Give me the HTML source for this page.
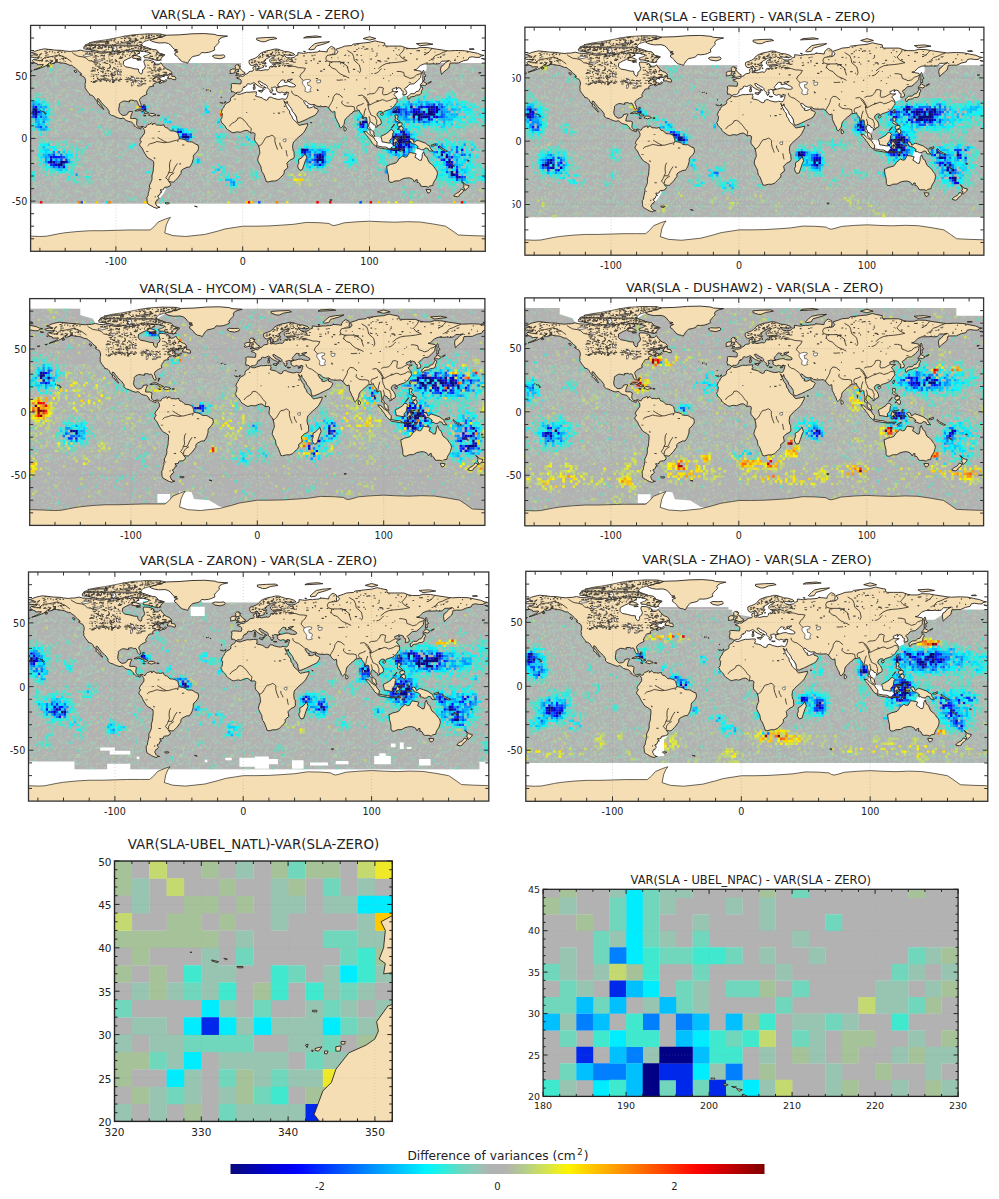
<!DOCTYPE html><html><head><meta charset="utf-8"><title>Variance differences</title>
<style>html,body{margin:0;padding:0;background:#fff;overflow:hidden}svg{display:block}</style></head><body>
<svg width="999" height="1199" viewBox="0 0 999 1199">
<defs>
<path id="land" d="M-168.1 -65.6L-166.5 -66.2L-164.5 -66.6L-162 -66.1L-161.8 -66.9L-163.5 -67.2L-165.3 -67.9L-166.8 -68.3L-164.5 -68.9L-163 -69.7L-161 -70.3L-158.5 -70.9L-156.5 -71.3L-152 -70.8L-148 -70.3L-143 -70.1L-140 -69.6L-136 -69.2L-134.5 -69.5L-131 -69.6L-128 -70.3L-125 -69.5L-120 -69.3L-115 -68.5L-112 -67.8L-108 -68L-106 -68.8L-102 -67.8L-98 -68L-96.5 -68.3L-95 -69.5L-94.5 -72L-92 -71L-91 -70L-88 -69L-85 -70L-83 -69.8L-81.5 -69.5L-81.5 -68L-84 -66.5L-86.2 -66.5L-88 -64.5L-90.5 -63.5L-94 -61.5L-94.2 -58.8L-92.5 -57L-88.5 -56.3L-85 -55.3L-82.3 -55.2L-82 -53L-80.5 -51.3L-79.5 -51.5L-79 -53L-79 -54.5L-77.5 -55.5L-76.8 -57.5L-77.5 -59.5L-78 -61L-77.5 -62.5L-74 -62.3L-72 -61.8L-70 -61L-69.5 -59L-68 -58.5L-66 -58.8L-64.5 -60.3L-63 -58L-61.5 -56.5L-60 -55.2L-57.5 -54.3L-55.8 -52.3L-57 -51.4L-60 -50.2L-64 -50.2L-66.5 -50L-68.5 -49.2L-70 -48L-71.1 -46.9L-70 -47.5L-68 -48.6L-65 -49.2L-64.2 -48.8L-65 -48L-66 -48L-65 -47.3L-64.7 -46.7L-64 -46.2L-62 -45.7L-61.5 -45.8L-60.5 -47L-59.8 -46L-61 -45.2L-63.5 -44.6L-65.5 -43.6L-66.2 -44.3L-64.5 -45.3L-67 -44.8L-68.5 -44.2L-70 -43.7L-70.7 -42.7L-71 -42.3L-70 -41.8L-70.5 -41.5L-71.5 -41.4L-73.5 -41L-74 -40.5L-74 -39.8L-74.9 -38.9L-75.2 -38.5L-75.5 -37.5L-76 -37L-75.5 -35.2L-76.5 -34.6L-78 -33.9L-79.2 -33.2L-80 -32.6L-81 -31.7L-81.4 -30.4L-81 -29.2L-80.6 -28.4L-80.1 -26.5L-80.2 -25.5L-81 -25.2L-81.7 -25.9L-82.6 -27.5L-82.8 -28.5L-83.6 -29.9L-84.5 -30L-85.5 -29.7L-86.5 -30.4L-88 -30.4L-89.5 -30.2L-89.2 -29.1L-90.5 -29.2L-92 -29.6L-94 -29.7L-95 -29.2L-96.5 -28.3L-97.3 -27.5L-97.3 -26L-97.7 -24L-97.8 -22.2L-97.2 -20.5L-96.1 -19.2L-94.5 -18.2L-92 -18.6L-90.5 -19.8L-90.3 -21L-88 -21.5L-86.8 -21.3L-87.5 -19.8L-88 -18.5L-88.2 -17.5L-88.5 -16L-87 -15.8L-85 -15.9L-83.2 -15L-83.6 -13L-83.7 -11L-83.1 -10L-82.2 -9L-81 -8.9L-79.5 -9.6L-78 -9.3L-77.3 -8.6L-76.3 -8.8L-75.6 -10.2L-74.8 -11L-73.5 -11.3L-71.9 -12.2L-71.3 -11.7L-71.5 -10.8L-70.2 -11.5L-70 -12.2L-69 -11.5L-68 -10.6L-66 -10.6L-64.5 -10.3L-63 -10.7L-61.9 -10.7L-62 -10L-61 -8.6L-60 -8.5L-59 -8L-58 -6.8L-57 -6L-55 -5.9L-53.5 -5.6L-52 -4.8L-51 -4L-50.5 -2L-50 -0.5L-50.5 0L-48.5 0.5L-47 0.7L-45 1.5L-44 2.5L-42 2.8L-40 2.8L-38.5 3.7L-37 4.7L-35.3 5.2L-34.8 7.5L-35.1 9L-36 10.5L-37.3 12L-38.5 13L-39 14.5L-38.9 16L-39.5 18L-40 19.8L-41 21.5L-42 23L-44 23L-45.5 23.8L-47 24.5L-48.5 25.8L-48.6 28L-49.7 29.3L-50.8 31L-52 32.3L-53.3 33.7L-54.5 34.8L-56 34.9L-57.5 34.4L-58.4 34.3L-57.2 35.8L-56.7 36.5L-57.5 38L-59 38.7L-61.5 39L-62.2 39.5L-62.3 40.6L-63.5 41.1L-65 40.9L-64.6 42.2L-63.6 42.8L-64.5 42.8L-65 43.5L-65.5 45L-67.2 45.9L-66.5 47L-65.9 47.8L-67.3 49L-68.3 50.1L-69 51.5L-68.4 52.3L-68.3 53.1L-67.5 54L-66 54.8L-65.2 54.9L-67 55.1L-67.3 55.8L-68.5 55.5L-70 55L-71.5 54.2L-73 53.3L-74.5 52.5L-75.2 51.5L-75.4 50L-75.5 48.5L-75.6 46.8L-74.7 45.8L-74.5 44L-74.2 42.5L-73.8 41.8L-73.8 40L-73.4 39L-73.6 37.2L-73 36.5L-72.5 35.2L-71.8 33.5L-71.5 32L-71.6 30L-71.3 28.5L-70.8 27L-70.5 25L-70.5 23.5L-70.2 21.5L-70.2 19.5L-70.3 18.3L-71.4 17.6L-72.5 16.8L-74 16L-75.5 14.8L-76.3 13.4L-77.2 12L-78.2 10.3L-79 8.5L-79.8 7.1L-81.1 6L-81.3 4.7L-80.5 3.4L-79.9 2.5L-80.9 1.8L-80.9 1L-80.2 -0.4L-80 -1L-79 -1.6L-78.8 -2.6L-77.8 -3.4L-77.4 -4.5L-77.4 -6.2L-77.9 -7.2L-78.4 -8.1L-79 -8.8L-79.6 -8.9L-80.4 -8.2L-80.3 -7.4L-81.2 -7.6L-82 -8.2L-83 -8.3L-83.6 -8.6L-84.6 -9.6L-85.7 -9.9L-85.7 -11L-86.5 -11.9L-87.5 -12.9L-88.5 -13.2L-89.8 -13.5L-91.3 -13.9L-92.3 -14.6L-93.5 -15.7L-94.5 -16.2L-96 -15.7L-97.5 -16L-99 -16.6L-100.5 -17.2L-101.5 -17.8L-103.5 -18.3L-104.5 -19.1L-105.5 -20L-105.3 -21.5L-106 -22.5L-107 -24L-108.2 -25.2L-109.3 -26L-110.5 -27.5L-111.5 -28.7L-112.4 -29.8L-113.2 -31.2L-114.5 -31.7L-114.8 -30.8L-114.3 -29.8L-113.3 -28.8L-112.5 -27.6L-111.5 -26.5L-111 -25.2L-110.3 -24.2L-109.5 -23.2L-109.9 -22.9L-110.5 -23.6L-111.5 -24.4L-112.2 -25.2L-112.5 -26.2L-113.5 -26.8L-114.5 -27.6L-115 -27.9L-114.3 -28.4L-114.8 -29.5L-115.8 -30.3L-116.4 -31.2L-116.7 -31.9L-117.2 -32.8L-118 -33.7L-118.5 -34L-119.5 -34.4L-120.6 -34.5L-120.8 -35.5L-121.9 -36.5L-122.4 -37.5L-123 -38L-123.8 -39.5L-124.4 -40.4L-124.1 -41.8L-124.5 -42.8L-124.1 -44L-123.9 -46L-124.2 -47.2L-124.7 -48.4L-125 -48.8L-126.5 -49.5L-128 -50.5L-128.4 -50.8L-127 -51L-127.8 -52.2L-129 -53L-130.3 -54.3L-131 -55.2L-132 -56L-133.5 -57L-134.8 -58.2L-136.3 -58.2L-137.5 -58.7L-139.5 -59.6L-141.5 -60L-143.5 -60L-145.5 -60.5L-147.5 -60.8L-148.8 -60L-150.5 -59.4L-151.8 -59.3L-151.5 -60.7L-150 -61.3L-152.5 -60.2L-153.5 -59.3L-154.2 -58.5L-155.8 -57.6L-157.5 -56.8L-159.5 -56L-161.5 -55.3L-163.5 -54.8L-164.8 -54.4L-163 -55.2L-161.5 -55.9L-160 -56.5L-158.5 -57.4L-157.5 -58.2L-157.3 -58.8L-158.5 -58.8L-160.5 -58.7L-161.8 -58.6L-162.2 -59.6L-164 -60L-165.3 -60.5L-165.3 -61.5L-166 -62L-164.8 -63L-163 -63.1L-161 -63.6L-160.8 -64.5L-162.5 -64.5L-164.5 -64.5L-166.2 -64.6ZM-60 -82.2L-50 -82.5L-40 -83.3L-30 -83.5L-22 -82.8L-20 -82L-12 -81.5L-16 -80.5L-18 -79.5L-19 -78L-18.5 -76.5L-20 -75L-21.5 -73.5L-22.5 -72L-22 -70.5L-24.5 -69.3L-27 -68.5L-30 -68.2L-32.5 -68.4L-34 -66.5L-36.5 -65.8L-39.5 -65.2L-40.5 -64L-41.5 -63.2L-42.5 -61.5L-43.5 -59.8L-45 -60.5L-47.5 -61L-49.5 -62.5L-50.5 -64L-52 -65.5L-53.5 -66.5L-53.5 -68L-51 -69L-54 -69.8L-51.5 -70.5L-54 -71L-55.5 -72.5L-56.5 -74L-58.5 -75.5L-61 -76.2L-66 -76L-69 -76.5L-71.5 -77.3L-73 -78.3L-71 -79L-68 -80L-64 -81.2ZM-5.6 -36L-6.3 -36.5L-7.5 -37.2L-9 -37L-8.8 -38.2L-9.5 -38.7L-9 -40L-8.8 -42L-9.3 -43L-8 -43.7L-5 -43.6L-3 -43.4L-1.5 -43.4L-1.2 -45L-1.2 -46.2L-2.2 -47.2L-4.5 -47.8L-4.8 -48.4L-3 -48.8L-1.6 -49.6L0 -49.4L1.5 -50.2L1.8 -51L3 -51.3L4 -51.8L4.7 -52.9L6 -53.4L8 -53.6L8.6 -54.9L8.1 -55.5L8.2 -56.8L10.6 -57.7L10.3 -56.3L10.5 -55L10 -54.5L11 -54L12.5 -54.4L14.2 -53.9L16 -54.3L18.5 -54.8L18.7 -54.4L20 -54.6L21.1 -55.7L21 -56.8L22.5 -57.6L24 -57L24.3 -58.3L23.5 -59.2L24.8 -59.4L28 -59.5L30.3 -59.9L28 -60.5L25 -60.2L22.5 -60L21.5 -61L21.2 -62.5L22.5 -63.8L25 -65L24.2 -65.8L22 -65.5L21 -64.5L19 -63.5L17.5 -62.5L17.2 -61L18.5 -60L18.1 -59.3L16.5 -57.7L16.4 -56.6L15 -56.2L13 -55.4L12.8 -56.2L11.9 -57.7L11.2 -58.9L10.6 -59.5L10 -59L8 -58.1L7 -58L5.6 -58.8L5 -60.3L5 -61L5 -62L6 -62.5L8 -63.2L10 -64L11.5 -65L12.5 -66L13.5 -67.3L15 -68.3L17 -69.1L19 -69.8L22 -70.3L25 -71.1L25.8 -71.2L28 -71L30 -70.2L31 -70L33 -69.2L36 -69L40 -67.7L41 -66.5L38 -66.1L35 -66.3L33 -66.7L32.5 -67L32.8 -66L34.5 -64.5L35.5 -64.3L37.5 -64L40.5 -64.5L42 -66L43.5 -66.3L43.5 -68.3L46 -68L48 -67.7L52 -68.4L54 -68.2L55 -68.5L57 -68.6L59 -68.8L60.5 -69.8L60 -69.5L64 -69.2L66.5 -68.8L66.8 -70.5L68.5 -72.5L70 -73.3L71 -72.8L72.5 -72L72.8 -70L72.5 -66.8L74 -67.5L75 -69L73.5 -71L78 -72.5L80.5 -73.5L86 -74L87 -75L95 -76L100 -76.5L104.3 -77.7L107 -77L112 -76L112 -74L113.5 -73.5L118 -73.5L125 -73.5L129 -72L132 -71.5L137 -71.5L140 -72.5L146 -72.3L150 -71.5L160 -70L163 -69.7L168 -70L170 -70L175 -69.8L178 -69.3L180 -68.8L185 -67.8L188 -66.5L190.3 -66.1L187.5 -65.5L187 -64.5L184 -64.5L181 -65L178.5 -64.5L177.5 -62.5L174 -61.8L170 -60L166 -60L163.5 -59.9L163 -58L162.5 -56.2L160.5 -54.5L158.5 -52.8L156.7 -51L156.4 -52.5L156 -55L156.5 -57.3L158 -58L160 -60.5L163 -62L160 -61.5L157 -61.5L155 -59.5L152 -59.2L151 -59.5L148 -59.3L143 -59.3L140 -58L137 -55L135 -54.5L138 -54L140.5 -53.5L141.2 -52.5L141 -52L140.5 -50L140.3 -48.5L138 -46L135 -43.5L132 -43.2L130.8 -42.5L129.7 -41L128 -40L127.5 -39.5L128.5 -38.3L129.4 -36.5L129 -35.1L127 -34.6L126.3 -34.5L126.5 -36.5L126.6 -37.5L125.3 -38L124.7 -39.7L122.5 -40.5L121.2 -38.8L121.5 -40.8L120 -40L118 -39.2L117.8 -38.5L118.8 -37.5L119.5 -37.2L122.5 -37.4L120.5 -36.1L119.2 -35L120.5 -33.5L121.5 -32L121.9 -30.9L121.5 -30.2L122 -29.8L121.5 -28.5L120.5 -27.5L119.7 -26L118.5 -24.6L118.1 -24.5L116.5 -23.2L114.5 -22.5L113 -22L111.5 -21.5L110.5 -20.3L109.7 -21.5L108 -21.5L106.5 -20.5L105.8 -19L106.5 -17.5L108 -16L109 -14L109.3 -12.5L109 -11.3L107 -10.4L106.5 -9.6L104.8 -8.6L105 -10L104.5 -10.5L103 -11L102.5 -12.2L101 -12.7L100.5 -13.4L100 -12.5L99.5 -11L99.2 -9.5L100.3 -8.5L100.5 -7L101.5 -6.8L102.3 -6.2L103.3 -5L103.5 -3L104.2 -1.5L103.8 -1.3L103.3 -1.5L101.5 -2.8L100.5 -4L100.3 -5.5L100.2 -6.5L99 -7.8L98.3 -8L98.5 -10L98.5 -12L98 -14L97.7 -16.5L96.5 -16.8L95 -15.8L94.3 -16L94.5 -18L93.5 -19.5L92.3 -21L91.8 -22.5L90.5 -22L89 -21.8L88 -21.6L87 -21.3L86.5 -20.2L85 -19.3L83.5 -18L82.3 -16.6L81 -15.5L80.2 -13.5L80.3 -13L79.8 -11L79.3 -10.3L78.2 -8.9L77.5 -8.1L76.5 -9L75.8 -11.5L74.8 -13L74 -15L73 -17L72.8 -19L72.7 -21L72.5 -21.5L71 -20.8L69 -22.3L68.5 -23.5L67 -24.8L66 -25.4L64 -25.3L61.5 -25.2L58.5 -25.6L56.5 -27L54 -26.8L51.5 -27.8L50.3 -29.3L48.5 -30L48 -29.4L49.5 -27L50.3 -26L51.5 -26L51 -24.5L53 -24.2L55 -25L56.4 -26.3L56.3 -24.5L58.6 -23.6L59.8 -22.5L58.7 -20.5L57.8 -19L56 -17.9L54 -17L52 -16L49 -14.5L45 -12.8L43.4 -12.7L42.8 -14.5L42.5 -16L42.5 -17L41 -19.5L39.2 -21.5L38.5 -23.5L37 -25.5L35.5 -27.5L35 -29.5L34.5 -28L34.2 -27.7L33 -29.5L32.5 -30L32.6 -29.5L33.5 -27.5L34.5 -25.5L35.5 -23.5L36.8 -22L37.3 -19.5L37.2 -19.6L38.5 -18L39.5 -15.5L41 -14L42.5 -13L43.2 -11.6L44.5 -10.4L46 -10.7L48.5 -11.2L51.3 -11.8L51.2 -10.5L50.8 -9.5L50 -8L49 -6L48 -4.5L45.3 -2L43.5 -0.5L42.5 0.4L41.5 1.7L40.2 2.8L39.7 4L39.3 6.8L39.5 8L39.8 10L40.5 10.5L40.5 12.5L40.7 14.5L40 16L37 17.5L34.8 19.8L35.2 21.5L35.5 23.5L33 25.5L32.6 26L32.8 27.5L32 29L31 29.9L30 31L28.5 32.5L27.9 33L25.6 34L23 34L20 34.8L18.4 34.3L18.3 33.5L17.8 32L17 30L16.5 28.6L15.5 27L15.1 26.6L14.5 24L14.5 22.9L13.5 21L12 18L11.8 17.2L12.2 15L13 13L13.5 12L13.3 10L13.2 8.8L12.5 6L12.3 6L12 5L11.2 4L9.5 2L9.3 0L9.5 -1.5L9.8 -3.2L9.5 -4L8.5 -4.5L7 -4.3L6 -4.3L5 -5.5L3.4 -6.4L1.5 -6.2L-0.2 -5.5L-2 -4.8L-4 -5.2L-6 -4.8L-7.5 -4.4L-9 -5L-10.8 -6.3L-12 -7L-13.2 -8.3L-13.7 -9.5L-14.5 -10.5L-15.5 -11.5L-16.7 -12.5L-16.8 -13.5L-17.5 -14.7L-16.5 -16L-16.2 -18L-16 -19.5L-17 -20.8L-16 -23.5L-15 -24.5L-14.5 -26L-13 -27.9L-11 -28.8L-10 -29.5L-9.6 -30.4L-9.8 -31.5L-8.5 -33.3L-7.6 -33.6L-6.8 -34L-6 -35.5L-5.8 -35.8L-5.3 -35.9L-4 -35.2L-2 -35.1L-0.6 -35.7L3 -36.8L5 -36.7L8 -37L10.2 -37.1L11 -37L10.5 -36L11 -35L10.5 -34L10 -33.9L11 -33.3L13.2 -32.9L15.2 -32.3L16.5 -31.2L18.5 -30.3L20 -31L20 -32.1L21.5 -32.9L23 -32.6L24 -32L25.5 -31.6L28 -31L29.9 -31.2L31 -31.6L32.3 -31.3L33.5 -31.1L34.3 -31.4L34.8 -32.1L35 -32.8L35.5 -33.9L35.8 -35.5L36.2 -36.6L35.5 -36.6L34.6 -36.8L33 -36.1L32 -36.5L30.7 -36.9L29.5 -36.2L28 -36.7L27.3 -37L26.5 -38.3L27 -38.5L26.5 -39.5L26.2 -40L27.5 -40.4L29 -41L30.5 -41.2L32.5 -41.9L35 -42L36.5 -41.3L38.5 -41L40.5 -41L41.6 -41.6L41.5 -42.5L40 -43.5L39.7 -43.6L38 -44.5L36.5 -45.2L38 -46.5L39.2 -47.2L37 -47L35 -46.3L36.5 -45.4L35 -44.9L33.5 -44.5L32.5 -45.3L33.5 -46L32 -46.5L30.7 -46.5L29.7 -45.2L28.7 -44.2L27.9 -43.2L27.5 -42.5L28 -41.6L29 -41.1L28.5 -41L27.5 -40.9L26.5 -40.5L26 -40.8L24.5 -40.9L23.5 -40.2L22.9 -40.6L22.6 -40L23.3 -39.3L22.9 -38.5L24 -38.2L23.7 -37.9L23 -37.5L23 -36.5L22.5 -36.4L21.7 -36.8L21.3 -37.6L21.8 -38.3L21 -38.8L20.2 -39.5L19.4 -40.3L19.5 -41.5L18.5 -42.5L16.5 -43.5L15 -44.5L14 -45L13.7 -45.5L13.7 -45.6L12.3 -45.4L12.4 -44.5L13.5 -43.6L14.5 -42.2L16 -41.9L16.1 -41.9L16.8 -41.2L18.5 -40.1L17.2 -40.4L17.2 -40.5L16.5 -39.7L17.1 -39L16.1 -38L15.6 -38L15.8 -38.8L16.2 -39.4L15.6 -40L14.8 -40.6L14.2 -40.8L13 -41.3L12.3 -41.8L11 -42.5L10.5 -43.3L8.9 -44.4L7.5 -43.8L7.3 -43.7L6 -43.1L5.4 -43.3L4 -43.5L3.2 -43L3.2 -42L2.2 -41.4L0.8 -41L0 -39.8L-0.3 -39.5L0.2 -38.7L-0.5 -38.3L-0.8 -37.6L-1 -37.6L-2 -36.8L-3 -36.7L-4.4 -36.7L-5.3 -36.1ZM-80 -73.7L-76 -72.5L-72 -71L-68 -70.3L-67 -69.2L-66.5 -68L-63 -67L-61.5 -66.5L-63.5 -65L-64.5 -63.5L-65 -62.5L-66.5 -62L-70 -62.8L-72.5 -63.5L-75 -64.3L-77.5 -64.3L-78 -65.5L-73.5 -65.5L-74 -67L-73 -68.2L-78 -69.5L-82 -69.8L-85 -70L-89 -71L-90 -73L-86 -73.8ZM-118 -73L-113 -73.2L-107 -73.5L-105 -72.5L-101.5 -70.3L-104 -69L-106.5 -69.2L-110 -68.8L-114 -69.2L-117.5 -70.5L-119 -71.5ZM-120 -71.2L-118.5 -72.5L-120 -74.2L-124 -74.3L-125.5 -72.5L-124 -71.3ZM-90 -77L-80 -76.5L-76 -78.5L-70 -80L-62 -82L-65 -83L-75 -83L-85 -82L-92 -81L-90 -79ZM-80 -74.5L-90 -74.5L-92 -76L-88 -76.5L-80 -76.3ZM-86 -79.5L-91 -78.5L-96 -80L-93 -81.3L-88 -80.8ZM-106 -75.5L-110 -74.9L-117 -75.3L-117 -76.5L-110 -76.8L-105 -76ZM-96 -75.5L-100 -75L-101 -76.3L-97 -76.6ZM-103 -76.5L-106 -77.5L-104 -78.3L-100 -78ZM-97 -71.5L-99 -71.8L-102 -73.5L-100 -73.8L-97 -73.5L-96 -72.5ZM-90.5 -72.5L-95 -72L-96 -74L-93 -74.2L-90.5 -73.8ZM-96 -68.5L-98.5 -68.5L-99.5 -69.5L-97 -69.8ZM-80 -64L-84 -63.5L-87 -64L-86 -66L-84 -66L-81 -65ZM-80 -62.5L-83 -62.2L-83.5 -62.8L-81 -63ZM-59.3 -47.6L-58.5 -48.5L-59.4 -48.5L-57.5 -50.7L-55.8 -51.6L-56 -49.5L-53.5 -49.3L-52.7 -47.6L-53 -46.6L-55.5 -47L-56 -47.6ZM-64.5 -49.9L-62 -49.3L-61.7 -49.1L-64 -49.7ZM-85 -21.9L-82.5 -23.1L-80 -23.2L-77.5 -21.9L-75.7 -21.1L-74.1 -20.3L-75.5 -19.9L-77.7 -19.9L-77.2 -20.6L-78.5 -21.5L-81.5 -22.2L-83 -21.8ZM-74.4 -18.5L-72.8 -19.9L-70 -19.7L-68.3 -18.5L-70 -18.2L-71.5 -17.6L-73 -18.2ZM-78.3 -18.4L-76.3 -18.2L-76.8 -17.9L-77.8 -17.9ZM-67.2 -18.5L-65.6 -18.4L-65.7 -18L-67.2 -18ZM-78.2 -26.8L-77 -26.6L-77.4 -25.9L-78 -25L-78.3 -24.3ZM-132 -54L-131 -53.5L-131.5 -52.2L-132.5 -52.9L-133 -54ZM-154.5 -58L-152.5 -58L-152.5 -57.3L-154 -56.8ZM-155.9 -20.27L-155 -19.8L-155.6 -18.9L-156 -19.6ZM-156.7 -20.95L-156 -20.8L-156.4 -20.6ZM-157.3 -21.2L-156.7 -21.15L-157 -21.05ZM-158.3 -21.6L-157.7 -21.4L-158.1 -21.25ZM-159.8 -22.2L-159.3 -22.2L-159.5 -21.9ZM-168 -53.5L-166 -53.8L-166.5 -53.3ZM-174 -52.2L-172 -52.4L-173 -51.9ZM-61.3 51.5L-59.8 51.2L-57.8 51.5L-58.5 52.2L-60.3 52.2ZM-171.8 -63.7L-169 -63.3L-169.6 -63ZM-166.5 -60.4L-165.5 -60L-166.2 -59.8ZM-5.7 -50.1L-3.5 -50.3L-1 -50.7L1.4 -51.2L1.7 -52.5L0.3 -53L0 -53.6L-1.3 -54.6L-2 -55.8L-3 -56L-2.5 -56.5L-1.8 -57.5L-3.5 -57.7L-3 -58.6L-5 -58.6L-6.2 -57.5L-5.6 -56.3L-6.3 -55.7L-5 -55L-3 -54.9L-3.5 -54L-2.9 -53.4L-4.5 -53.3L-4.2 -52.8L-5.3 -51.8L-4 -51.6L-3 -51.4L-4.2 -51.2ZM-6 -52L-6.2 -53.3L-5.5 -54.5L-6.5 -55.2L-8.2 -55.2L-10 -54.2L-10 -53.5L-9.5 -52.5L-10.3 -51.8L-9.5 -51.5L-8 -51.8L-6.3 -52.2ZM-22 -64L-24 -65.5L-22 -66.4L-18 -66.2L-15 -66.5L-14 -65.5L-14.5 -64.4L-18 -63.4ZM11 -78.5L15 -77L17.5 -77L21 -78.5L27 -79.5L25 -80.5L18 -80.3L11 -79.8ZM48 -80L55 -80.3L62 -80.8L58 -81.6L50 -81ZM52 -71L54.5 -73.5L57 -75.5L62 -76.5L68.5 -77L65 -75.5L58 -73.5L56.5 -71L53 -70.5ZM48 -69.5L49.5 -69.1L48.5 -68.8ZM95 -79.5L100 -81L105 -79.5L100 -78.3ZM137 -75.5L145 -76L150 -75L140 -73.8ZM178.5 -71.2L182 -71.5L182.5 -70.9L179 -70.9ZM79.8 -9.5L81.2 -8.5L81.8 -7L81 -6L80 -6L79.8 -8ZM49.3 12L50.5 15.5L49.5 17.5L48 22L47 25L45 25.5L43.7 23.5L43.3 21.5L44.2 20L44 17L46 15.8L47.5 14.5L48.7 13ZM130.9 -34L132.5 -35.5L135.5 -35.6L136.8 -37.3L138.5 -37.5L140 -39.8L140.8 -41.2L141.5 -41L142 -39.5L141 -38L140.8 -36L140 -35L138.8 -34.6L137 -34.5L135.5 -33.5L133.5 -33.2L132 -32.8L131.5 -31.5L130.5 -31.2L130 -33.5ZM140 -41.5L141.5 -42.5L143.5 -42L145.5 -43.3L144.5 -44L142 -45.5L141.5 -44L140.3 -43.2ZM142 -46L143.5 -46.5L143 -49L144.5 -49.5L143.2 -51.5L143 -53.5L142.5 -54.3L141.8 -53L142.2 -51L142 -48ZM146 -44L148.5 -45.3L148.8 -45.1L146.5 -43.7ZM120.1 -23L120.8 -22L121.5 -23.5L121.9 -25L121 -25ZM108.6 -19L110 -18.2L111 -19.5L110.5 -20.1L109 -20ZM120 -18.5L122.2 -18.5L122.5 -17L121.5 -15.5L124 -13.5L124 -12.5L123 -13L121 -13.8L120 -14.5L120.5 -16ZM122 -7L123 -8.5L125.5 -9.8L126.5 -8L126 -6L125 -5.8L123.5 -7.8ZM122 -11.8L124 -12.5L125.5 -12.3L125.8 -11L125 -10L123 -9.2L122 -10.5ZM117.2 -8.3L119.7 -11.4L119.3 -10.4L117.6 -8.3ZM109 -1.5L109.6 1L110 2.9L111.5 3L114.5 3.6L116.3 3.8L116 1.5L117.5 0L118 -1L118.5 -4.5L119.2 -5.2L117.5 -7L116 -6.5L115 -5L113.5 -4L111 -2.5L109.6 -2ZM95.3 -5.6L97.5 -5.2L100.3 -2.5L103.5 -0.5L104.5 1.5L106 3L105.8 5.8L104.5 5.9L102.3 4L100.8 1.5L99.2 -0.5L98 -2.3L96.5 -3.8ZM105.2 6.8L106 6L108.5 6.5L110.5 6.9L112.5 6.9L114.5 7.7L114.5 8.7L112 8.3L109 7.8L106.5 7.4ZM115 8.2L116 8.3L119 8.2L122 8.1L123 8.3L122 8.8L119 8.8L116.5 8.9L115 8.8ZM124.5 9.2L127 8.3L125 10.2L123.5 10.3ZM119 5.5L120.5 5.6L120.3 3L121 2.7L122.5 4.7L123.2 4.3L121.5 1.9L123.3 0.9L121 1L120.3 -0.5L123 -0.5L125 -1.5L122.5 -1L120.8 -1.3L119.8 -0.3L119.5 0.9L118.8 2.7L119.5 3.5ZM127.5 -1.8L128.5 -2L128 -0.5L128.8 0.5L127.8 0.8L127.5 -0.5ZM128 3L130.5 3L130.8 3.8L128.5 3.6ZM126 3.1L127.2 3.2L127 3.9L126.1 3.7ZM131 1.3L132.5 0.4L134 0.9L135 3.3L137.5 1.5L140.5 2.5L144 3.8L145.8 5.2L147.5 6.2L148 8L150 10.2L147 10L146 8L144 7.7L143 9L141 9.1L139 8.1L138 8.4L137.5 7L138.5 6.8L136 4.7L133 4L132.8 2.8ZM148.5 5.5L151 4.8L152 4.2L152.2 5.5L150 6.2L148.5 6ZM155 6L157 7.8L160 9.5L161.5 10.3L160 10.5L157 9L155 7ZM113.5 22L114 26L115 30L115.1 33.5L116 35L118 35L120 34L123.5 33.8L126 32.3L129 31.6L131.5 31.5L134 32.5L135.5 34.8L136.5 33L137.7 33L137.5 35.2L138.5 35L139.5 35.8L140.5 38L142 38.4L144.5 38.3L146.4 39L147.5 38L150 37.5L150.2 36L151.2 33.9L152.5 32L153.1 30L153.6 28L153 25.5L151.5 24L150.8 22.5L149 20.8L147 19.2L146 17L145.3 15L143.8 14L142.6 10.7L141.6 12.8L141.5 15L140.8 17.5L139.3 17.4L137.5 16L135.8 15L136.8 12.3L136 12L133 11.5L131.5 11.2L130.8 12.4L129.5 14.7L128 15L126 14L124.5 15.5L123 16.5L122.2 18L121 19.5L118.5 20.3L116.5 20.7L114.5 21.8ZM144.6 40.7L148.3 40.9L148.2 42.2L147.3 43.3L146 43.6L145.2 42.2ZM172.7 34.4L174.5 35.7L175.5 37L178.5 37.7L177.9 39.2L176.8 40.3L175.2 41.6L174.6 41.3L175 39.8L173.8 39.2L174.6 38L174.2 36.3ZM172.7 40.5L174.3 41.3L173.8 42.5L172.8 43.5L171.3 44.5L170.8 45.8L169.2 46.6L166.5 46L166.8 45.2L168.3 44L170.5 42.8L171.5 41.8L172 40.6ZM164 20.2L165 20.6L167 22.3L166.4 22.3L164.2 20.8ZM177.3 17.5L178.6 17.7L178.3 18.3L177.3 18.1ZM32.3 -35.1L34.6 -35.7L33.9 -34.9L32.5 -34.7ZM23.5 -35.5L26.3 -35.3L25 -34.9L23.6 -35.2ZM12.4 -38.1L15.6 -38.3L15.1 -36.7L12.5 -37.6ZM8.4 -41L9.8 -41L9.6 -39.1L8.4 -39ZM8.6 -42.9L9.5 -43L9.4 -41.4L8.8 -41.6ZM11 -55.3L12.6 -56L12.3 -55L11.2 -55ZM18.1 -57.9L18.9 -57.6L18.2 -57ZM92.5 -13.5L93 -13L92.7 -11ZM53.3 -12.7L54.5 -12.5L53.8 -12.3ZM-18 -28.8L-17.7 -28.9L-17.8 -28.5ZM-17.3 -28.2L-17.1 -28.2L-17.2 -28ZM-16.9 -28.4L-16.1 -28.6L-16.5 -28.1L-16.9 -28.2ZM-15.8 -28.1L-15.4 -28.1L-15.5 -27.8L-15.8 -27.8ZM-14.5 -28.6L-13.9 -28.7L-14 -28.1L-14.5 -28.1ZM-13.9 -29.2L-13.4 -29.2L-13.5 -28.9L-13.9 -28.9ZM-17.2 -32.8L-16.7 -32.8L-16.7 -32.6L-17.2 -32.65ZM-28.8 -38.6L-28 -38.4L-28.2 -38.3L-28.8 -38.5ZM-27.4 -38.8L-27 -38.7L-27.2 -38.6ZM-25.9 -37.85L-25.2 -37.85L-25.2 -37.7L-25.8 -37.7ZM-31.3 -39.5L-31.1 -39.5L-31.2 -39.4ZM68.8 48.8L70.5 49L69.8 49.7L68.9 49.5ZM-38 54L-35.8 54.6L-36.5 54.5Z" fill="#f5deb3" stroke="#2a2520" stroke-width="0.9" vector-effect="non-scaling-stroke" stroke-linejoin="round"/>
<path id="ant" d="M-540 77.5L-530 77.8L-520 78.2L-515 78L-510 77L-505 76L-500 75.2L-490 74.2L-480 73.6L-470 73.6L-460 73.3L-450 73L-440 73L-433 73L-430 70.5L-426.7 66.7L-421 64.3L-417 63L-418.5 65L-420.3 69L-421.5 75.4L-415 77.5L-405 78.2L-390 76.6L-380 74L-374 72.2L-365 70.8L-360 70L-350 70L-340 69.8L-330 69.2L-320 68.5L-310 67L-300 67.2L-292 67.8L-290 69L-288 69.5L-285 68.8L-280 67.3L-270 66.5L-260 66L-250 66.5L-240 66.8L-230 66.4L-220 66.7L-210 68.2L-200 70L-195 73.4L-190 77L-180 77.5L-170 77.8L-160 78.2L-155 78L-150 77L-145 76L-140 75.2L-130 74.2L-120 73.6L-110 73.6L-100 73.3L-90 73L-80 73L-73 73L-70 70.5L-66.7 66.7L-61 64.3L-57 63L-58.5 65L-60.3 69L-61.5 75.4L-55 77.5L-45 78.2L-30 76.6L-20 74L-14 72.2L-5 70.8L0 70L10 70L20 69.8L30 69.2L40 68.5L50 67L60 67.2L68 67.8L70 69L72 69.5L75 68.8L80 67.3L90 66.5L100 66L110 66.5L120 66.8L130 66.4L140 66.7L150 68.2L160 70L165 73.4L170 77L180 77.5L190 77.8L200 78.2L205 78L210 77L215 76L220 75.2L230 74.2L240 73.6L250 73.6L260 73.3L270 73L280 73L287 73L290 70.5L293.3 66.7L299 64.3L303 63L301.5 65L299.7 69L298.5 75.4L305 77.5L315 78.2L330 76.6L340 74L346 72.2L355 70.8L360 70L370 70L380 69.8L390 69.2L400 68.5L410 67L420 67.2L428 67.8L430 69L432 69.5L435 68.8L440 67.3L450 66.5L460 66L470 66.5L480 66.8L490 66.4L500 66.7L510 68.2L520 70L525 73.4L530 77L540 77.5L540 95L-540 95Z" fill="#f5deb3" stroke="#2a2520" stroke-width="0.7" vector-effect="non-scaling-stroke"/>
<path id="lakes" d="M47 -45.5L49 -46.6L51.3 -47L53.5 -46.5L53 -45L51 -44.5L51.5 -42L53 -42L54 -40.5L53 -38.5L53.9 -37.3L51 -36.7L49 -37.6L49.5 -40.2L48.5 -41.8L47.5 -43L47 -44.5ZM58.5 -46.5L61.5 -46.5L61.2 -44.5L59 -44L58.3 -45.5ZM-92 -46.7L-90 -46.6L-88 -48L-86 -48.8L-84.6 -46.5L-86 -46.5L-88.5 -47.4ZM-87.8 -41.6L-87 -41.7L-86.2 -43.5L-86.5 -45.5L-85 -45.8L-84.7 -45.9L-86.5 -44.5L-87.8 -44.5ZM-84.7 -45.9L-83 -46L-80.5 -45.5L-80 -44.5L-81.8 -43.5L-82.5 -44.5L-83.5 -45.5ZM-83.3 -42L-81 -42.6L-79 -42.8L-80 -41.9L-82.5 -41.5ZM-79.8 -43.3L-77 -44L-76.2 -43.5L-78 -43.3ZM32 1L34 0.3L34 2.5L32.8 2.7L31.7 1.8ZM30 -60L32.5 -60.8L32.8 -61.6L31 -61.5L29.5 -61ZM34.3 -61.3L36 -61.7L35.5 -62.8L34.5 -62.5ZM-125 -65L-121 -65.5L-118 -66.5L-123 -67L-126 -66ZM-117 -61L-113 -61L-110 -62.5L-113 -62.5L-116 -62ZM-98 -50.5L-96.5 -51L-97.5 -53.5L-99 -53ZM-70 15.3L-69 15.8L-69.5 16.4Z" fill="#fff" stroke="#2a2520" stroke-width="0.6" vector-effect="non-scaling-stroke"/>
<g id="deco"><path d="M-125.5 -71.3L-124 -74.5L-120 -76.3L-115 -77.5L-108 -78.5L-100 -80L-93 -81.5L-86 -82.6L-76 -83.2L-64 -83L-60.5 -82.2L-64 -81L-69 -79.5L-74 -78.3L-78 -77L-80 -74.8L-79 -73.5L-76 -72.5L-72 -71L-68 -70.3L-67 -69.2L-66.5 -68L-63 -67L-61.5 -66.5L-63.5 -65L-64.5 -63.5L-65 -62.5L-66.5 -62L-70 -62.8L-72.5 -63.5L-75 -64.3L-77.5 -64.3L-78 -65.5L-74 -67L-73 -68.2L-78 -69.5L-82 -69.8L-85 -70L-88 -70.5L-92 -70.3L-96 -69L-100 -69.3L-104 -69L-110 -68.8L-115 -69.3L-119 -70.5L-122 -71Z" fill="#f5deb3" stroke="#2a2520" stroke-width="0.7" vector-effect="non-scaling-stroke"/><path d="M-124 -74.6L-110 -74.4L-96 -74.3L-90 -74.2L-82 -74.1L-82 -73.6L-90 -73.6L-96 -73.7L-110 -73.9L-124 -74ZM-102 -73.7L-100 -73.7L-99 -71L-101 -69.6L-103 -69.8L-102.5 -71.5ZM-121 -76.3L-112 -77.2L-106 -77.2L-106 -76.6L-112 -76.6L-120 -75.8ZM-96 -76.2L-88 -77.6L-86 -77.2L-94 -75.8Z" fill="#fff" stroke="#2a2520" stroke-width="0.7" vector-effect="non-scaling-stroke"/><path d="M-99.27 -48.47h0.8v0.6h-0.8zM-67.44 -47.16h0.8v1h-0.8zM-106.26 -46.98h1.8v0.6h-1.8zM-104.6 -57.67h0.8v1h-0.8zM-112.08 -50.13h0.8v1h-0.8zM-82.53 -46.14h1v0.6h-1zM-84.37 -48.06h1.8v0.6h-1.8zM-113.4 -58.14h1v0.8h-1zM-70.26 -55.71h1.8v0.8h-1.8zM-100.81 -63.27h1v0.6h-1zM-101.57 -67.54h0.8v1h-0.8zM-110.27 -56.25h0.8v1h-0.8zM-115.03 -57.84h1.3v0.8h-1.3zM-75.5 -58.67h1.8v0.6h-1.8zM-66.24 -66.73h1.8v1h-1.8zM-77.49 -46.4h1.3v1h-1.3zM-63.23 -52.98h1.8v0.8h-1.8zM-109.24 -47.69h0.8v0.6h-0.8zM-70.83 -47.97h1v0.8h-1zM-114.84 -55.33h1.3v0.6h-1.3zM-67.57 -64.87h1.3v1h-1.3zM-63.41 -67.03h1v0.6h-1zM-108.72 -50.34h1v0.6h-1zM-103.18 -45.09h1.8v1h-1.8zM-96.37 -58.03h1v1h-1zM-65.01 -66.86h0.8v0.8h-0.8zM-113.37 -59.59h0.8v0.6h-0.8zM-115.69 -49.8h1v0.6h-1zM-98.24 -46.21h0.8v1h-0.8zM-110.32 -47.33h1.3v1h-1.3zM-118.37 -65.11h1.8v0.6h-1.8zM-112.62 -56.23h1.8v0.8h-1.8zM-89.03 -46.98h0.8v1h-0.8zM-66.95 -48.71h0.8v0.6h-0.8zM-110.62 -57.49h0.8v1h-0.8zM-100.92 -59.79h0.8v1h-0.8zM-65.89 -56.92h1v0.8h-1zM-70.6 -57.25h1.3v1h-1.3zM-105.73 -63.66h1v0.6h-1zM-105.49 -56.91h1.3v1h-1.3zM-118.15 -45.64h1.3v0.8h-1.3zM-103.41 -60.93h1.3v0.8h-1.3zM-97.63 -67.41h0.8v0.6h-0.8zM-113.46 -55.81h1.3v0.6h-1.3zM-89.11 -67.66h0.8v0.8h-0.8zM-61.81 -52.91h0.8v1h-0.8zM-112.33 -53.94h1v0.8h-1zM-63.1 -54.98h1.3v0.6h-1.3zM-68.75 -67.35h1.8v0.8h-1.8zM-94.31 -66.78h1v0.6h-1zM-84.91 -45.49h0.8v1h-0.8zM-72.03 -48.2h1v0.6h-1zM-118.21 -49.89h1v1h-1zM-99.14 -57.52h1v0.6h-1zM-61.76 -53.14h1.8v1h-1.8zM-93.08 -66.11h1v1h-1zM-110.28 -56.74h1.8v0.6h-1.8zM-110.41 -48.26h0.8v1h-0.8zM-116.05 -60.69h1.8v0.6h-1.8zM-107.76 -45.97h0.8v1h-0.8zM-91.06 -45.64h0.8v0.8h-0.8zM-99.16 -67.39h1v1h-1zM-102.26 -56.69h1.8v1h-1.8zM-63.9 -66.67h1.3v1h-1.3zM-106.39 -51.96h0.8v0.6h-0.8zM-96.56 -50.82h1v0.8h-1zM-105.95 -66.91h1.8v0.8h-1.8zM-109.58 -60.36h1v0.6h-1zM-97.18 -47.12h1.3v0.6h-1.3zM-98.37 -55.55h0.8v0.8h-0.8zM-98.78 -59.35h0.8v0.6h-0.8zM-103 -45.91h1v0.8h-1zM-71.63 -63.85h1.3v0.8h-1.3zM-110.44 -66.14h1.8v1h-1.8zM-99.07 -51.42h1v0.8h-1zM-62.7 -51.19h0.8v1h-0.8zM-114.33 -50.99h1v0.6h-1zM-103.08 -47.8h0.8v0.8h-0.8zM-117.23 -61.32h0.8v0.6h-0.8zM-103.24 -49.17h1.3v1h-1.3zM-100.48 -62.47h1.3v0.8h-1.3zM-87.99 -49.09h1.3v0.6h-1.3zM-118.82 -56.63h1v1h-1zM-89.62 -66.5h0.8v1h-0.8zM-67.59 -54.94h1.8v1h-1.8zM-66.58 -54.04h1.3v1h-1.3zM-106.23 -50.28h1v1h-1zM-73.35 -48.21h1.3v0.6h-1.3zM-66.43 -45.33h1.3v0.8h-1.3zM-109.55 -46.94h1.8v1h-1.8zM-104.5 -51.74h1.8v0.6h-1.8zM-109.92 -55.25h1.3v0.8h-1.3zM-58.2 -52.12h1.3v0.6h-1.3zM-119.93 -53.78h1.8v0.8h-1.8zM-87.82 -49.62h0.8v0.6h-0.8zM-103.09 -47.06h1.8v1h-1.8zM-117.33 -45.52h1.3v1h-1.3zM-105.1 -58.47h1v1h-1zM-73.88 -56.37h1.3v1h-1.3zM-80.4 -48.33h1.8v1h-1.8zM-75.13 -56.63h0.8v1h-0.8zM-105.28 -45.72h1v1h-1zM-96.91 -47.41h1.8v1h-1.8zM-116.75 -45.43h1v0.8h-1zM-103.12 -55.51h0.8v1h-0.8zM-114.12 -57.1h1.8v0.8h-1.8zM-68.21 -64.46h1v1h-1zM-71.59 -50.31h1.8v0.8h-1.8zM-65.89 -46.77h1.3v0.6h-1.3zM-115.04 -48.39h1.3v1h-1.3zM-72.43 -52h1v0.6h-1zM-106.07 -56.26h1.3v0.8h-1.3zM-100.05 -46.97h1.8v0.6h-1.8zM-101.47 -46.76h1.8v0.8h-1.8zM-95.24 -66.08h1v0.6h-1zM-82.79 -48.26h1.3v0.8h-1.3zM-111.51 -63.86h1.3v0.6h-1.3zM-74.99 -50.32h1.8v0.8h-1.8zM-118.41 -45.08h1.8v1h-1.8zM-110.99 -52.91h1.3v0.6h-1.3zM-66.23 -45.04h1.3v0.8h-1.3zM-112.32 -66.31h0.8v1h-0.8zM-101.45 -53.56h1.8v0.8h-1.8zM-96.91 -54.85h1.3v0.6h-1.3zM-102.04 -46.19h1.3v1h-1.3zM-60.12 -50.73h1.3v0.8h-1.3zM-87.3 -49.37h1.3v0.8h-1.3zM-73.95 -46.14h1.8v0.8h-1.8zM-80.65 -48.19h1.3v0.8h-1.3zM-116.87 -66.32h1v0.6h-1zM-100.94 -62h1.3v0.8h-1.3zM-109.29 -48.72h1v1h-1zM-62.02 -56.43h1v0.8h-1zM-91.2 -48.21h1v0.6h-1zM-114.19 -52.86h0.8v0.8h-0.8zM-104.7 -50.94h1v0.6h-1zM-72.02 -54.49h1.8v1h-1.8zM-98.36 -46.43h1.3v1h-1.3zM-102.65 -50.71h1.8v1h-1.8zM-91.47 -66.94h0.8v0.6h-0.8zM-117.94 -61.32h1.8v1h-1.8zM-88.65 -46.68h1.8v0.8h-1.8zM-104.1 -47.51h1v0.6h-1zM-117.47 -62.99h1v1h-1zM-100.56 -47.94h1.3v1h-1.3zM-112.82 -46.62h1v0.8h-1zM-103.3 -63.18h0.8v0.6h-0.8zM-85.6 -67.92h1.3v0.8h-1.3zM-104.19 -67.09h1.3v0.6h-1.3zM-118.61 -56.46h1.8v0.6h-1.8zM-103.54 -60.35h1.3v0.6h-1.3zM-74.03 -53.33h1.8v0.6h-1.8zM-119.57 -51.72h0.8v0.6h-0.8zM-88.28 -49.61h1v0.6h-1zM-62.63 -56.16h0.8v1h-0.8zM-110.63 -54.05h1v0.6h-1zM-116.68 -46.38h1.8v0.8h-1.8zM-73.11 -67.94h1v0.8h-1zM-107.8 -60.01h1.8v0.6h-1.8zM-100.04 -61.68h1.3v0.8h-1.3zM-91.68 -47.51h0.8v0.8h-0.8zM-114.83 -54.66h0.8v1h-0.8zM-97.18 -63.9h1.8v0.6h-1.8zM-116.85 -55.89h1.3v1h-1.3zM-96.69 -65.63h0.8v1h-0.8zM-70.93 -45.93h0.8v0.8h-0.8zM-115.99 -66.16h1.3v0.6h-1.3zM-72.17 -65.67h1.3v0.8h-1.3zM-102.57 -67.03h0.8v0.8h-0.8zM-72.23 -60.86h1.3v0.8h-1.3zM-119.76 -62.38h0.8v0.6h-0.8zM-67.13 -47.47h1.8v0.8h-1.8zM-69.45 -66.01h1.8v0.6h-1.8zM-67.34 -62.77h1v0.8h-1zM-64.88 -55.6h0.8v1h-0.8zM-107.37 -62.32h1v0.8h-1zM-115.86 -45.78h1.3v0.6h-1.3zM-114.62 -47.22h1.8v1h-1.8zM-111.49 -55.6h1v1h-1zM-101.19 -51.43h1.3v0.8h-1.3zM-103.74 -50.99h1.8v0.6h-1.8zM-108.11 -50.42h1.3v1h-1.3zM-107.95 -46.49h1.3v0.6h-1.3zM-66.2 -66.03h0.8v0.8h-0.8zM-105.09 -46.16h1v0.6h-1zM-96.18 -64.92h1.8v1h-1.8zM-103.36 -62.89h0.8v0.6h-0.8zM-97.62 -45.86h1.3v0.6h-1.3zM-117.17 -68h0.8v1h-0.8zM-73.14 -66.02h0.8v0.8h-0.8zM-80.26 -46.79h0.8v0.8h-0.8zM-84.93 -46.46h0.8v0.8h-0.8zM-77.5 -48.55h0.8v1h-0.8zM-109.52 -60.99h1.8v0.8h-1.8zM-116.71 -62.14h1.3v0.8h-1.3zM-107.38 -61.74h1v0.6h-1zM-92.21 -48.6h0.8v0.6h-0.8zM-90.5 -48.74h0.8v0.6h-0.8zM-87.71 -48.36h1.3v0.6h-1.3zM-86.65 -66.29h0.8v0.8h-0.8zM-111.89 -66.69h1.8v0.8h-1.8zM-116.58 -66.3h1.8v0.6h-1.8zM-67.23 -48.69h1v1h-1zM-106.04 -54.19h1v0.8h-1zM-97.01 -48.44h1v0.6h-1zM-99.25 -53.97h1.8v1h-1.8zM-65.66 -62.9h1.8v0.8h-1.8zM-91.95 -45.54h1.8v0.8h-1.8zM-104.94 -62.56h1.8v0.6h-1.8zM-68.13 -54.21h0.8v0.6h-0.8zM-97.05 -53.4h1.8v1h-1.8zM-87.35 -45.94h1v0.6h-1zM-60.98 -52.22h0.8v0.6h-0.8zM-71.87 -65.58h1v0.6h-1zM-73.15 -63.74h1v0.6h-1zM-109.43 -63.13h1v0.6h-1zM-103.86 -52.45h1.3v0.8h-1.3zM-110.81 -56.55h1.8v0.6h-1.8zM-104.81 -53.56h1v0.6h-1zM-102.2 -52.54h1.8v0.6h-1.8zM-69.3 -51.08h0.8v1h-0.8zM-65.07 -67.22h1.8v1h-1.8zM-62.65 -50.8h1.8v1h-1.8zM-68.95 -51.09h1.3v1h-1.3zM-110.64 -52.61h0.8v0.8h-0.8zM-105.28 -59.15h0.8v0.8h-0.8zM-67.53 -50.83h1.3v1h-1.3zM-119.89 -45.78h1v0.8h-1zM-111.55 -50.23h0.8v0.6h-0.8zM-116.52 -58.04h1.3v0.6h-1.3zM-111.44 -53.42h1.8v0.6h-1.8zM-111.38 -66.54h1v1h-1zM-110.44 -47.2h1v1h-1zM-69.94 -54.24h1.3v0.6h-1.3zM-116.41 -63.88h1.3v1h-1.3zM-104.1 -65.78h0.8v0.6h-0.8zM-104.79 -46.34h0.8v0.6h-0.8zM-107.38 -54.5h1.8v1h-1.8zM-108.82 -52.12h1.3v1h-1.3zM-116.9 -65.46h1.8v1h-1.8zM-114.85 -60.08h1v0.6h-1zM-78.78 -47.84h1.3v1h-1.3zM-116.64 -59.62h1.8v1h-1.8zM-69.54 -57.03h1.3v0.8h-1.3zM-106.11 -65.24h0.8v0.6h-0.8zM-103.34 -50.43h1v0.6h-1zM-72.25 -52.52h1.8v0.8h-1.8zM-65.48 -66.2h1.8v0.8h-1.8zM-65.12 -55.06h1v1h-1zM-83.83 -48.95h0.8v0.6h-0.8zM-112.84 -59.31h1v0.8h-1zM-118.02 -48.18h0.8v1h-0.8zM-115.66 -46.07h1.3v0.6h-1.3zM-67.68 -63.85h0.8v1h-0.8zM-106.83 -47.58h0.8v1h-0.8zM-114.4 -62.28h1.3v0.8h-1.3zM-113.61 -47.25h1v0.8h-1zM-99.58 -54.75h0.8v0.8h-0.8zM-103.57 -51.5h1.3v0.8h-1.3zM-70.77 -58.85h1.8v0.8h-1.8zM-80.43 -45.71h1.8v0.6h-1.8zM-97.81 -61.21h1v1h-1zM-119.92 -49.65h0.8v0.6h-0.8zM-97.74 -47.2h1v0.8h-1zM-109.83 -63.75h1v0.8h-1zM-109.39 -66.59h0.8v0.8h-0.8zM-69.64 -59.44h1.3v0.6h-1.3zM-63.14 -45.58h1v0.8h-1zM-103.16 -65.73h1v0.8h-1zM-81.26 -45.78h1.3v1h-1.3zM-110.06 -64.39h1.3v0.6h-1.3zM-103.54 -50.31h1.3v0.8h-1.3zM-71.7 -64.01h1v1h-1zM-110.02 -50.69h1.3v1h-1.3zM-86.58 -48.7h1.3v0.6h-1.3zM-103.44 -66.96h0.8v0.6h-0.8zM-95.41 -67.63h1.3v1h-1.3zM-100.97 -51.3h0.8v1h-0.8zM-61.67 -51.46h1.8v0.8h-1.8zM-117.83 -54.18h1.8v1h-1.8zM-105.76 -67.56h1.3v0.8h-1.3zM-118.58 -50.92h1.8v0.6h-1.8zM-72.58 -65.88h1.8v1h-1.8zM-73.78 -65.24h1v1h-1zM-108.38 -47.86h1.8v0.8h-1.8zM-103.37 -61.11h1.8v0.6h-1.8zM-108.28 -60.05h0.8v0.8h-0.8zM-66.76 -65.89h0.8v0.6h-0.8zM-103.92 -50.01h1v1h-1zM-97.71 -64.48h1.8v1h-1.8zM-106.88 -55.94h0.8v1h-0.8zM-69.28 -53.51h1.3v0.8h-1.3zM-72.5 -55.51h1v0.8h-1zM-87.12 -66.45h1.3v1h-1.3zM-116.38 -51.31h1.8v0.6h-1.8zM-119.15 -54.63h1.8v1h-1.8zM-75.31 -53.1h1.3v0.6h-1.3zM-105.64 -62.05h1v0.8h-1zM-90.42 -48.78h0.8v1h-0.8zM-107.64 -59.77h1v0.6h-1zM-97.4 -59.69h1.8v0.8h-1.8zM-105.25 -61.2h1.3v0.8h-1.3zM-68.45 -63.37h1.3v0.6h-1.3zM-114.53 -65.63h1v0.8h-1zM-65.32 -46.31h1.3v0.6h-1.3zM-106.58 -46.66h1.3v0.8h-1.3zM-106.65 -54.26h1v1h-1zM-70 -60.37h1.3v0.6h-1.3zM-88.35 -49.9h0.8v1h-0.8zM-112.51 -47.72h1.8v0.6h-1.8zM-67.07 -55.88h0.8v0.8h-0.8zM-90.11 -48.32h1.8v0.6h-1.8zM-66.19 -55.76h1.8v1h-1.8zM-101 -55.71h1.8v0.8h-1.8zM-108.45 -53.29h0.8v0.6h-0.8zM-60.38 -52.6h0.8v1h-0.8zM-110.75 -49.91h1.8v1h-1.8zM-111.88 -47.17h1.3v0.8h-1.3zM-70.68 -49.85h1.8v0.8h-1.8zM-67.09 -51.74h1.8v0.8h-1.8zM-98.64 -67.64h1.3v0.6h-1.3zM-98.82 -52.29h1.3v0.6h-1.3zM-69.81 -45.92h1.8v1h-1.8zM-113.06 -46.07h1.8v1h-1.8zM-70.98 -46.38h1.8v1h-1.8zM-110.59 -60.5h0.8v0.6h-0.8zM-117.47 -59.57h1v0.6h-1zM-93.02 -47.31h0.8v0.8h-0.8zM-104.89 -78.65h1.3v0.6h-1.3zM-97.58 -72.78h1.8v1h-1.8zM-83.29 -82.01h0.8v0.8h-0.8zM-88.11 -68.59h0.8v0.8h-0.8zM-87.6 -81.78h1.8v0.6h-1.8zM-124.08 -73.81h1v0.8h-1zM-119.61 -75.08h1v1h-1zM-123.99 -68.07h0.8v0.6h-0.8zM-110.81 -69.82h1.8v0.6h-1.8zM-107.1 -76.53h1.8v1h-1.8zM-76.63 -81.84h1.3v1h-1.3zM-78.62 -80.83h0.8v0.8h-0.8zM-84.14 -78.64h1.8v1h-1.8zM-124.26 -68.22h0.8v0.8h-0.8zM-104.78 -78.94h1v0.8h-1zM-85.42 -72.74h1.8v0.8h-1.8zM-81 -70.17h0.8v0.8h-0.8zM-103.3 -72.2h1.3v1h-1.3zM-109 -73.81h1.8v1h-1.8zM-74.86 -71.52h1.8v0.8h-1.8zM-80.24 -72.82h1.3v0.8h-1.3zM-75.38 -79.75h1.3v0.6h-1.3zM-72.24 -81.01h1v0.8h-1zM-89.39 -79.66h1.8v0.8h-1.8zM-90.25 -76.1h1.8v0.8h-1.8zM-85.55 -78.16h1.8v1h-1.8zM-111.57 -71.82h0.8v0.8h-0.8zM-95.12 -69.32h1.3v0.6h-1.3zM-66.7 -81.28h1.3v0.8h-1.3zM-92.1 -71.03h1v0.6h-1zM-94.88 -69.23h1.3v1h-1.3zM-123.03 -72.21h0.8v0.6h-0.8zM-88.13 -71.92h1.3v0.8h-1.3zM-118.69 -74.7h1v0.8h-1zM-123.21 -68.52h1.3v1h-1.3zM-108.28 -76.47h0.8v1h-0.8zM-92.08 -70.74h1v0.8h-1zM-108.37 -73.28h0.8v0.6h-0.8zM-108.24 -75.7h1.8v0.6h-1.8zM-118.43 -72.77h0.8v0.6h-0.8zM-81 -72.48h1.8v1h-1.8zM-118.15 -72.86h1.3v0.8h-1.3zM-116.93 -75.22h1v0.8h-1zM-109.5 -70.15h0.8v0.8h-0.8zM-78.38 -70.93h0.8v0.6h-0.8zM-64.29 -81h1v0.8h-1zM-62.73 -81.89h1.8v0.6h-1.8zM-84.16 -74.79h1.3v0.8h-1.3zM-84.17 -70.14h1v1h-1zM-98.23 -70.34h1.3v1h-1.3zM-114.09 -75.37h1.3v0.8h-1.3zM-111.27 -75.16h1.3v0.6h-1.3zM-108.24 -71.02h1.3v0.8h-1.3zM-90.77 -70.79h1.8v0.6h-1.8zM-78.74 -70.95h0.8v0.6h-0.8zM-75.52 -70.63h1v1h-1zM-81.46 -77.43h1v1h-1zM-104.98 -68.15h1.8v1h-1.8zM-102.4 -72.23h1.8v0.6h-1.8zM-94.02 -81.08h1.3v0.6h-1.3zM-100.87 -76.92h0.8v0.8h-0.8zM-91.21 -74.69h0.8v0.6h-0.8zM-71.05 -81.69h1.8v1h-1.8zM-68.27 -82.31h1.8v0.8h-1.8zM-91.63 -75.96h1v0.6h-1zM-109.17 -69.33h1v0.6h-1zM-118.33 -71.76h0.8v0.6h-0.8zM-86.04 -76.65h1v1h-1zM-96.13 -73.26h0.8v1h-0.8zM-113.37 -72.1h1.8v0.8h-1.8zM-86.92 -79.42h0.8v0.6h-0.8zM-89.8 -71.41h1v0.6h-1zM-81.53 -74.93h1.8v0.6h-1.8zM-83.73 -78.41h0.8v0.8h-0.8zM-98.96 -76.42h1.3v1h-1.3zM-81.9 -68.17h0.8v1h-0.8zM-112.81 -72.87h1v1h-1zM-81.51 -71.38h1.8v0.8h-1.8zM-74.52 -82.05h0.8v0.6h-0.8zM-107.72 -78.18h1.3v1h-1.3zM-89.75 -81.87h0.8v0.8h-0.8zM-117.09 -68.21h1v0.6h-1zM-106.31 -72.58h1v0.6h-1zM-65.13 -81.52h0.8v0.8h-0.8zM-86.63 -81.98h1.8v0.6h-1.8zM-91.74 -81.28h1.8v1h-1.8zM-106.26 -71.65h0.8v1h-0.8zM-89.49 -80.6h1v1h-1zM-99.87 -76.23h1.3v0.8h-1.3zM-93.94 -80.28h0.8v0.6h-0.8zM-103.31 -70.83h1.8v1h-1.8zM-103.94 -72.88h1.3v0.8h-1.3zM-121.3 -68.33h0.8v1h-0.8zM-120.97 -73.82h1.8v0.8h-1.8zM-77.2 -69.64h1v1h-1zM-76.99 -70.32h1.3v1h-1.3zM-102.09 -78.13h1.3v1h-1.3zM-65.07 -82.93h1.3v1h-1.3zM-78.94 -81.72h1v0.8h-1zM-68.4 -68.06h0.8v0.8h-0.8zM-106.84 -77.32h0.8v0.8h-0.8zM-106.28 -73.29h1.3v0.8h-1.3zM-82.87 -68.1h1.8v0.8h-1.8zM-96.14 -70.76h1.3v0.6h-1.3zM-96.68 -73.65h1v0.6h-1zM-109.23 -72.89h1.8v0.6h-1.8zM-123.34 -71.85h1.8v0.8h-1.8zM-91.37 -75.76h1.8v0.8h-1.8zM-94.82 -68.61h1.3v0.8h-1.3zM-90.86 -69.48h1.3v1h-1.3zM-98.94 -76.42h1v0.6h-1zM-96.39 -77.37h1.3v1h-1.3zM-90.54 -80.24h1v0.8h-1zM-80.16 -80.31h1.8v1h-1.8zM-114.83 -72.35h1v1h-1zM-83.96 -78.84h1.8v0.6h-1.8zM-86.9 -78.02h1v0.6h-1zM-107.71 -77.7h1v1h-1zM-115.55 -75.78h0.8v0.6h-0.8zM-118.49 -70.56h1.8v0.8h-1.8zM-85.15 -80.1h0.8v1h-0.8zM-104.02 -78.73h1.3v0.8h-1.3zM-113.99 -72h0.8v1h-0.8zM-120.9 -70.87h1.8v0.6h-1.8zM-87.13 -82.39h1.8v0.6h-1.8zM-84.69 -71.74h0.8v0.6h-0.8zM-85.83 -82.4h1.8v0.6h-1.8zM-109.21 -73.85h1v0.8h-1zM-93.51 -79.89h1v0.6h-1zM-113.72 -73.38h1v0.6h-1zM-112.57 -72.25h1v0.8h-1zM-116.69 -74.65h1v0.6h-1zM-98.67 -77.44h1v0.8h-1zM-110.23 -74.79h1v1h-1zM-91.84 -69.88h0.8v1h-0.8zM-91.65 -76.14h1.3v1h-1.3zM-82.26 -76.52h1.3v0.6h-1.3zM-99.65 -69.29h1v0.6h-1zM-104.13 -77.94h0.8v0.6h-0.8zM-88.47 -73.42h1.3v0.6h-1.3zM-120.72 -72.67h1v0.8h-1zM-67.62 -80.92h1v0.8h-1zM-113.53 -73.5h1.3v0.8h-1.3zM-118.65 -72.37h1.3v1h-1.3zM-77.29 -78.69h0.8v0.8h-0.8zM-112.12 -72.55h1.8v1h-1.8zM-122.45 -72.66h1v1h-1zM-78.42 -71.82h1.8v1h-1.8zM-80.52 -73.24h0.8v0.6h-0.8zM-70.77 -79.65h1.3v0.6h-1.3zM-79.76 -82.61h0.8v0.6h-0.8zM-73.56 -71.15h1.3v1h-1.3zM-76.64 -82.97h1v0.8h-1zM-90.72 -73.24h1.8v0.8h-1.8zM-76.99 -80.45h1.8v1h-1.8zM-97.16 -75.68h1v0.8h-1zM-79.32 -80.09h1.3v0.6h-1.3zM-83.56 -76.16h1v0.6h-1zM-114.08 -73.21h0.8v0.6h-0.8zM-83.63 -70.06h1.8v1h-1.8zM-93.62 -78.58h0.8v1h-0.8zM-80.05 -70h1.3v1h-1.3zM-89.36 -79.41h1v1h-1zM-81.68 -76.98h1.8v0.8h-1.8zM-70.97 -69.72h1.3v0.6h-1.3zM-121.08 -72.21h1v0.6h-1zM-117.66 -72.87h1.8v1h-1.8zM-120.33 -68.16h1.8v0.6h-1.8zM-76.97 -71.97h1.8v0.8h-1.8zM-93.26 -79.76h1.3v0.6h-1.3zM-101.65 -69.36h1.3v1h-1.3zM-85.13 -78.96h1.3v1h-1.3zM-109.01 -70.08h0.8v0.6h-0.8zM-74.66 -80.59h1.3v0.8h-1.3zM-112.93 -77.57h1v0.6h-1zM-74 -80.46h1.3v0.8h-1.3zM-104.19 -73.53h1.3v0.8h-1.3zM-66.16 -82.17h1.8v0.8h-1.8zM-92.53 -70.36h1.3v1h-1.3zM-87.23 -69.2h1v0.6h-1zM-110.81 -73.59h0.8v1h-0.8zM-69.4 -79.8h1.8v0.6h-1.8zM-106.59 -77.92h1.8v0.8h-1.8zM-120.92 -68.13h1v1h-1zM-114.31 -72.44h1.8v1h-1.8zM-81.11 -76.51h1.8v0.6h-1.8zM-89.72 -75.75h1.8v1h-1.8zM-65.93 -80.98h1.8v1h-1.8zM-84.71 -80.17h0.8v1h-0.8zM-81.03 -77.14h1.3v1h-1.3zM-87.88 -82.29h1.8v1h-1.8zM-82.92 -72.49h1.3v1h-1.3zM-67.47 -68.42h1v0.6h-1zM-80.89 -74.71h0.8v0.6h-0.8zM-82.07 -73.58h1.8v0.8h-1.8zM-99.24 -69.71h1v0.6h-1zM-108.65 -75.34h1.8v0.6h-1.8zM-89.82 -78.45h0.8v0.8h-0.8zM-80.83 -80.01h1v1h-1zM-89.21 -78.72h0.8v1h-0.8zM-99.52 -70.57h1v1h-1zM-94.12 -69.4h1.3v1h-1.3zM-121.26 -71.55h1.3v0.6h-1.3zM-111.15 -72.5h1v0.8h-1zM-70.3 -80.06h0.8v0.8h-0.8zM-117.02 -73.6h1.3v1h-1.3zM-93.22 -80.25h1.3v0.6h-1.3zM-85.8 -68.51h1v0.8h-1zM-101.97 -78.41h0.8v1h-0.8zM-96.41 -79.87h1.8v0.6h-1.8zM-120.21 -71.88h1v1h-1zM-64.48 -81.11h1.8v0.6h-1.8zM-86.76 -71.75h1.3v0.8h-1.3zM-124.1 -73.14h1v0.8h-1zM-92.38 -81.1h0.8v0.6h-0.8zM-80.83 -73.89h1.8v0.6h-1.8zM-79.96 -74.73h1v1h-1zM-91.4 -73.41h1v0.8h-1zM-101.54 -75.02h1.8v0.8h-1.8zM-103.19 -75.25h1v0.6h-1zM-85.44 -77.46h1v0.8h-1zM-87.72 -76.77h1v1h-1zM-74.89 -81.09h1.8v1h-1.8zM-73.53 -79.9h1v0.6h-1zM-80.71 -72.56h1.3v1h-1.3zM-78.48 -73.02h1.3v1h-1.3zM-93.7 -73.51h1v0.6h-1zM-81.36 -74.07h1.8v1h-1.8zM-74.8 -81.94h0.8v0.6h-0.8zM-105.4 -72.63h1.3v0.6h-1.3zM-119.8 -70.68h1.3v0.8h-1.3zM-101.8 -79.62h1.8v1h-1.8zM-68.56 -69.02h1.8v0.8h-1.8zM-114.3 -72.02h0.8v0.6h-0.8zM-121.9 -74.72h1.3v1h-1.3zM-82.87 -70.95h0.8v0.6h-0.8zM-85.93 -69.19h1.3v1h-1.3zM-116.12 -70.82h0.8v1h-0.8zM-85.36 -80.01h1v0.6h-1zM-68.89 -79.94h0.8v1h-0.8zM-85.17 -79.64h1.8v0.8h-1.8zM-63.88 -81.1h0.8v0.8h-0.8zM-77.93 -72.94h0.8v0.6h-0.8zM-114.85 -70.14h0.8v0.8h-0.8zM-88.93 -77.86h1.3v0.6h-1.3zM-76.83 -71.87h1.8v0.6h-1.8zM-74.78 -82.66h1.8v1h-1.8zM-106.91 -75.85h1.3v0.6h-1.3zM-108.56 -76.37h0.8v1h-0.8zM-72.4 -82.65h1v1h-1zM-119.16 -68.42h1v0.6h-1zM-121.09 -75.53h1v0.8h-1zM-141.51 -62.12h1v0.6h-1zM-143.23 -68.98h1v1h-1zM-164.27 -67.89h1v0.8h-1zM-140.44 -63.99h1.3v0.8h-1.3zM-153.5 -61.53h0.8v0.6h-0.8zM-144.83 -69.79h1.3v0.6h-1.3zM-159.3 -62.26h1.8v1h-1.8zM-149.32 -60.14h1.3v0.6h-1.3zM-158.44 -63.07h1v0.8h-1zM-159.92 -67.63h1.3v0.8h-1.3zM-143.01 -63.98h1v0.8h-1zM-143.42 -69.17h1.3v0.6h-1.3zM-144.43 -60.96h1.3v0.6h-1.3zM-152.86 -69.47h1v0.8h-1zM-147.93 -65.37h1.8v0.6h-1.8zM-150.52 -69.36h1v1h-1zM-155.99 -67.92h1.8v0.6h-1.8zM-154.13 -58.96h1.3v1h-1.3zM-160.78 -66.56h0.8v0.8h-0.8zM-156.51 -69.86h1.8v0.8h-1.8zM-159.13 -68.09h0.8v0.6h-0.8zM-161.63 -65.33h1.8v1h-1.8zM-140.23 -61.43h0.8v0.6h-0.8zM-159.4 -64.57h0.8v1h-0.8zM-156.16 -63.95h0.8v0.8h-0.8zM-140.74 -68.94h1v1h-1zM-164.62 -60.77h0.8v0.6h-0.8zM-152.28 -62.71h1.3v0.8h-1.3zM-148.67 -64.62h1.3v1h-1.3zM-154.74 -70.91h1.3v0.8h-1.3zM-154.45 -64.56h1.8v0.6h-1.8zM-155.32 -62.4h1.8v0.6h-1.8zM-142.55 -65.89h1v1h-1zM-152.47 -70.84h1.8v0.6h-1.8zM-144.36 -66.29h0.8v1h-0.8zM-145.4 -69.72h0.8v0.8h-0.8zM-147.65 -61.54h1.8v1h-1.8zM-148.3 -63.38h0.8v0.8h-0.8zM-146.34 -68.95h1.3v1h-1.3zM-151.35 -62.32h1.8v0.8h-1.8zM-147.2 -62.51h1.3v1h-1.3zM-148.51 -68.57h0.8v1h-0.8zM-145.07 -66.3h1.3v0.8h-1.3zM-142.28 -63.63h1.3v1h-1.3zM-150.26 -64.99h1v0.6h-1zM-141.82 -64.4h1v1h-1zM-160.77 -62.12h1v0.6h-1zM-144.45 -63.44h0.8v0.8h-0.8zM-155.47 -68.65h1.8v0.6h-1.8zM-154.75 -66.84h1.8v0.6h-1.8zM-155.88 -66.28h1.3v0.8h-1.3zM-148.44 -60.85h1.3v0.8h-1.3zM-147.62 -63.29h1.8v1h-1.8zM-145.04 -67.62h1v0.6h-1zM-148 -62.14h1v1h-1zM-155.73 -61.76h1.8v0.8h-1.8zM-160.54 -67.05h1.3v0.8h-1.3zM13.95 -60.72h1.8v0.6h-1.8zM23.38 -63.91h0.8v0.6h-0.8zM15.17 -67.93h0.8v1h-0.8zM19.28 -66.07h1.3v0.8h-1.3zM25.31 -57.89h1v0.8h-1zM35.11 -58.12h1.8v0.8h-1.8zM32.71 -58.51h1.8v0.8h-1.8zM29.53 -63.11h1.8v0.6h-1.8zM36.16 -63.16h1.8v0.6h-1.8zM22.91 -68.55h1v1h-1zM12.01 -64.58h1.3v1h-1.3zM16.56 -62.42h1.8v0.6h-1.8zM24.99 -57.22h1.8v0.6h-1.8zM34.69 -60.02h1.8v0.6h-1.8zM33.84 -59.8h1.3v0.8h-1.3zM31.18 -68.81h1v0.8h-1zM10.09 -61.68h0.8v0.6h-0.8zM39.6 -60.85h1.3v0.6h-1.3zM15.96 -60.57h1.3v1h-1.3zM18.82 -69.4h0.8v0.8h-0.8zM33.07 -68.99h1.3v0.8h-1.3zM12.07 -57.73h1.3v0.8h-1.3zM27.97 -66.94h1v0.8h-1zM37.57 -61.78h1.8v1h-1.8zM24.46 -57.72h1.3v0.6h-1.3zM23.66 -62.73h1.3v0.6h-1.3zM15.2 -66.95h1.8v0.8h-1.8zM37.72 -63.23h1v0.6h-1zM9.36 -58.92h0.8v1h-0.8zM22.4 -57.2h1v0.8h-1zM31.2 -68.23h1v0.6h-1zM32.21 -67.01h0.8v0.8h-0.8zM38.28 -62.81h1.3v1h-1.3zM36.71 -66.6h1v0.6h-1zM37.33 -58.87h1v0.8h-1zM15.28 -60.26h1.3v1h-1.3zM24.62 -59.16h1.3v0.8h-1.3zM38.09 -66.32h1v0.8h-1zM39.1 -61.59h1v1h-1zM15.19 -66.17h0.8v0.6h-0.8zM21.26 -67.2h1.8v0.8h-1.8zM28.76 -58.6h1.3v0.6h-1.3zM27.96 -64.34h0.8v0.8h-0.8zM22.15 -57.25h1.8v0.6h-1.8zM12.02 -60.92h1.3v1h-1.3zM25.44 -67.59h1v0.6h-1zM21.47 -67.75h1v1h-1zM37.36 -57.45h0.8v0.6h-0.8zM27.98 -57.7h1.3v0.8h-1.3zM30.98 -59.5h1.3v0.6h-1.3zM30.33 -63.37h0.8v0.6h-0.8zM25.85 -63.46h0.8v0.6h-0.8zM27.64 -58.85h1.3v0.6h-1.3zM18.11 -66.28h1v0.8h-1zM16.61 -68.79h1.8v0.8h-1.8zM35.77 -58.64h1.8v0.8h-1.8zM23.74 -64.09h1.3v0.6h-1.3zM14.92 -64.77h1v0.6h-1zM30.43 -64.49h1v0.6h-1zM22.09 -68.07h1v1h-1zM31.03 -58.22h1v0.6h-1zM19.84 -65.74h0.8v0.8h-0.8zM24.94 -58.69h1v0.6h-1zM22.95 -68.47h1v0.6h-1zM25.97 -70.76h0.8v0.6h-0.8zM26.64 -66.69h1.3v0.8h-1.3zM32.53 -57.45h1v0.6h-1zM30.68 -66.5h1v0.8h-1zM31.96 -59.85h1v1h-1zM31.3 -65.91h1v1h-1zM6.76 -62.12h1.8v0.6h-1.8zM27.78 -70.6h1v0.8h-1zM28.55 -67.44h1v0.8h-1zM36.67 -67.43h1v0.8h-1zM18.5 -65.96h1.3v1h-1.3zM38.11 -58.62h1.3v0.6h-1.3zM13.4 -65.23h1v0.8h-1zM25.13 -70.07h0.8v0.8h-0.8zM28.23 -62.53h1.3v0.8h-1.3zM27.84 -68.71h1.3v1h-1.3zM25.82 -68.71h1.3v0.6h-1.3zM15.52 -65.45h0.8v0.8h-0.8zM19.65 -65.47h1.8v0.6h-1.8zM16.74 -59.99h1.3v0.8h-1.3zM15.22 -58.23h1.3v0.6h-1.3zM29.54 -63.19h1v0.6h-1zM12.57 -65.78h1.8v0.6h-1.8zM10.28 -59.34h1.3v1h-1.3zM15.8 -61.46h1v0.6h-1zM34.87 -58.45h1v0.8h-1zM24.78 -66.2h1.3v1h-1.3zM35.18 -64.19h1.8v0.6h-1.8zM28.32 -58.06h1.3v0.8h-1.3zM14.32 -61.14h1.3v1h-1.3zM29.82 -66.61h0.8v1h-0.8zM22.43 -62.09h0.8v0.6h-0.8zM9.17 -62.28h1.3v1h-1.3zM36.19 -67.2h1.8v0.6h-1.8zM38.19 -63.75h0.8v0.8h-0.8zM25.19 -57.65h1.8v0.6h-1.8zM31.16 -65.98h1.3v1h-1.3zM24.05 -62.89h1.8v1h-1.8zM27.38 -63.9h1.3v1h-1.3zM36.6 -61.54h1.8v0.6h-1.8zM32.78 -61.86h1v0.6h-1zM23.06 -69.28h1v0.8h-1zM30.84 -59.39h1.3v0.6h-1.3zM25.55 -70.6h1.3v1h-1.3zM11.55 -61.33h1.8v0.6h-1.8zM26.73 -69.99h1.8v0.6h-1.8zM28.85 -62.07h1.3v0.8h-1.3zM32.76 -63.62h0.8v0.6h-0.8zM22.54 -62.72h1v0.8h-1zM6.54 -60.9h1.8v1h-1.8zM24.56 -66.39h0.8v0.8h-0.8zM18.71 -67.04h1.8v1h-1.8zM33.38 -68.92h0.8v0.8h-0.8zM23.63 -66.77h1.3v0.8h-1.3zM26.08 -62.04h1v0.6h-1zM35.65 -58.35h1.8v1h-1.8zM8.89 -61.3h1v1h-1zM128.75 -71.76h1.8v0.8h-1.8zM157.49 -66.8h1.8v0.8h-1.8zM88.96 -63.16h1v1h-1zM142.99 -67.03h1.3v0.6h-1.3zM69.83 -71.59h1.8v0.6h-1.8zM110.3 -74.48h1v1h-1zM100.56 -63.64h1.3v1h-1.3zM145.58 -68.51h1.3v0.6h-1.3zM138.53 -70.41h1.3v1h-1.3zM155.39 -64.64h1v0.6h-1zM83.3 -66.12h0.8v0.8h-0.8zM70.57 -67.78h1v0.8h-1zM78.51 -61h1.8v1h-1.8zM55.48 -63.82h1.3v0.8h-1.3zM114.3 -63.91h1v0.8h-1zM115.19 -60.52h1v0.6h-1zM153.51 -64.56h1.3v0.6h-1.3zM173.63 -64.65h0.8v1h-0.8zM55.73 -66.64h1.8v0.6h-1.8zM47.66 -66.31h1.3v1h-1.3zM106.9 -62.27h1.8v1h-1.8zM55.66 -62.81h1v0.6h-1zM143.04 -68.78h1.8v0.6h-1.8zM148.26 -63.42h1.3v1h-1.3zM150.06 -60.39h0.8v0.6h-0.8zM89.55 -67.1h1.3v1h-1.3zM89.75 -62.78h1.3v0.8h-1.3zM82.8 -60.75h1v1h-1zM89.74 -75.28h1.8v0.6h-1.8zM88.01 -74.59h1.3v0.8h-1.3zM108.04 -61.41h1.3v0.8h-1.3zM106.67 -73.97h1v0.6h-1zM113.96 -64.27h1.8v0.6h-1.8zM89.53 -71.16h1v1h-1zM112.66 -73.17h1.8v0.6h-1.8zM58.74 -60.22h1v1h-1zM121.95 -66.44h0.8v0.6h-0.8zM104.92 -60.74h0.8v0.8h-0.8zM87.38 -69.51h1.8v0.8h-1.8zM41.03 -63.48h1.3v0.8h-1.3zM163.28 -61.67h1v0.6h-1zM101.61 -69.72h1.8v0.6h-1.8zM119.82 -72.23h1.8v0.6h-1.8zM96.03 -71.44h1v1h-1zM106.04 -62.41h1.8v1h-1.8zM93.44 -71.9h1v0.6h-1zM94.92 -73.4h1v1h-1zM143.39 -71.01h1v0.6h-1zM167.12 -63.4h0.8v0.6h-0.8zM105.31 -66.83h1v1h-1zM120.93 -67.03h0.8v0.6h-0.8zM105.51 -68.14h0.8v1h-0.8zM53.52 -62.44h1v1h-1zM111.7 -61.8h1.8v0.6h-1.8zM50.1 -60.51h0.8v1h-0.8zM118.63 -70.42h0.8v1h-0.8zM80.74 -66.75h0.8v1h-0.8zM144.3 -60.41h1.8v0.6h-1.8zM69 -67.29h0.8v1h-0.8zM176.7 -69.28h1.3v1h-1.3zM54.2 -66.25h1.3v0.8h-1.3zM146.74 -62.51h1.3v0.6h-1.3zM40.97 -61.27h0.8v1h-0.8zM136.94 -70.18h1.8v0.8h-1.8zM120.43 -63.58h0.8v0.6h-0.8zM159 -67.32h0.8v0.6h-0.8zM126.62 -64.99h1.3v1h-1.3zM93.52 -62.76h1v1h-1zM131.83 -68.05h1.3v0.8h-1.3zM152.51 -60.22h0.8v0.8h-0.8zM168.93 -65.59h1v0.8h-1zM151.24 -69.04h0.8v0.6h-0.8zM155.56 -65.33h1.3v0.8h-1.3zM49 -62.07h1.8v0.6h-1.8zM69.61 -60.91h1v0.8h-1zM170.4 -68.82h0.8v1h-0.8zM69.73 -64.89h0.8v1h-0.8zM101.32 -71.68h1.3v0.8h-1.3zM74.79 -64.37h0.8v0.6h-0.8zM136.76 -63.56h1.3v1h-1.3zM122.76 -71.15h0.8v1h-0.8zM94.76 -61.33h0.8v1h-0.8zM59.91 -61.92h1.8v1h-1.8zM64.9 -61.7h1.3v0.8h-1.3zM97.25 -71.72h1.8v1h-1.8zM104.49 -65.49h1v0.6h-1zM94.32 -73.34h0.8v0.6h-0.8zM78.87 -60.17h1v0.6h-1zM166.68 -62.69h1.3v1h-1.3zM76.83 -60.78h1.8v0.6h-1.8zM75.55 -61.51h1v0.6h-1zM49.07 -60.25h1v0.8h-1zM90.91 -72.28h1v0.8h-1zM150.32 -64.28h1.3v0.6h-1.3zM113.23 -61.9h1v0.6h-1zM79.94 -66.47h0.8v0.6h-0.8zM76.81 -60.13h0.8v1h-0.8zM92.84 -66.28h1.3v0.6h-1.3zM79.79 -39.5h0.8v0.8h-0.8zM95.51 -39.69h1.8v0.6h-1.8zM82.14 -56.92h1v0.8h-1zM73.65 -24.73h0.8v0.8h-0.8zM58.62 -38.77h1.3v1h-1.3zM81.95 -28.63h1.8v0.6h-1.8zM0.63 -40.86h1.3v0.6h-1.3zM79.01 -57.85h1v0.6h-1zM8.61 -31.23h1.3v0.6h-1.3zM12.74 -59.37h1.8v0.8h-1.8zM24.19 -20.44h0.8v1h-0.8zM79.36 -49.62h1v0.8h-1zM116.25 -25.57h1.3v0.6h-1.3zM63.6 -55.48h1.3v1h-1.3zM114.73 -46.03h1v0.6h-1zM103.61 -56.06h0.8v0.8h-0.8zM31.22 -21.44h1.8v0.6h-1.8zM2.58 -21h1v0.6h-1zM58.38 -39.37h0.8v0.8h-0.8zM61.01 -54.13h1.8v1h-1.8zM31.11 -53.36h1v0.8h-1zM32.99 -58.45h1.3v0.6h-1.3zM67.33 -33.73h0.8v1h-0.8zM61.05 -26.48h0.8v0.6h-0.8zM105.43 -30.31h1.8v0.8h-1.8zM96.76 -48.47h1v0.8h-1zM16.05 -40.89h1.3v0.6h-1.3zM21.87 -36.91h0.8v1h-0.8zM32.36 -26.03h1.3v1h-1.3zM-6.67 -31.59h1.3v0.6h-1.3zM90.58 -53.95h0.8v0.8h-0.8zM101.4 -52.04h1v0.8h-1zM98.36 -27.26h1.3v1h-1.3zM89.53 -47.1h0.8v1h-0.8zM130.84 -44.97h1.8v0.6h-1.8zM117.7 -51.98h0.8v0.8h-0.8zM80.32 -47.12h1v0.8h-1zM34.25 -37.23h1v1h-1zM67.73 -58.46h1v0.8h-1zM116.03 -50.68h1v0.6h-1zM111.56 -55.16h0.8v0.6h-0.8zM86.88 -55.38h1.8v1h-1.8zM57.58 -48.18h1.8v0.8h-1.8zM110.57 -48.2h1v0.8h-1zM38.6 -52.86h1.8v1h-1.8zM27.68 -20.6h1.8v1h-1.8zM-73.06 39.53h1v0.6h-1zM-66.04 32.49h1.8v0.8h-1.8zM-66.68 -5.63h1.3v0.6h-1.3zM-69.38 46.2h0.8v1h-0.8zM-47.79 4.92h1.8v0.8h-1.8zM-68.19 49h1.3v0.6h-1.3zM-51.69 1.76h1v1h-1zM-76.27 10.19h1.8v0.6h-1.8zM-71.37 -0.4h1.8v0.6h-1.8zM-49.97 19.92h1.3v1h-1.3z" fill="#2a2a2a" opacity="0.85"/><path d="M-50 1L-52 1.5L-55 2.2L-58 3.1L-60 3.2L-62 3.5L-65 3L-67.5 2.5L-70 3.5L-72.5 4.2L-73.5 4.5L-75 6M-60 3.2L-62.5 2L-65 0.5L-67 -0.8M-58.4 34L-59.5 32.5L-60.7 31.5L-59 29L-58.5 27.3L-55.5 27.3L-54.6 25.6L-53.5 23L-51.5 20M-58.4 33.5L-58 31L-56.5 29L-54 27.5M-58.5 27.3L-57.5 25.3L-57.8 22L-57.5 19L-56.5 17M-134.5 -68.5L-133.5 -67.5L-130 -65.5L-126 -64.9L-123.5 -64L-121.5 -62L-117.5 -61.2M-164.8 -62.8L-162 -62L-159 -62L-156 -64.5L-152 -65L-149 -65.5L-145 -66.5L-141 -64.8L-139 -64L-137 -62.5L-135 -61M12.3 6L13.5 5.8L15.3 4.3L16.3 2.5L17.5 0.5L18.5 -1L21 -1.5L23 -2.5L24.5 -1.5L25.5 -0.5L25.3 2L26 5L27 7.5L27.5 9M6.2 -4.3L6.5 -6L6.8 -7.8L5.5 -8.8L4.5 -10L3.5 -11.5L2.3 -13L1 -14.5L-0.5 -15.7L-2 -16.5L-4 -16L-4.5 -14.5L-6.5 -13L-8 -12.2L-9.5 -11L-10.5 -9.5M29.2 3.4L29.5 5.5L30.5 7L31 8.5M34.2 9.5L34.5 11.5L34.8 13L35.2 14.3M47.8 -46L46.5 -47.5L45 -49L46 -51.5L48 -53L49.5 -55.8L47 -56.2L44 -56.3L41 -57.3L38 -57.5L36 -57M72.5 -66.8L69 -66.5L66.5 -66L65.5 -64L66 -62L69 -61L73.5 -61L77 -61L79 -60L82.5 -57.5L83 -55L84 -52M69 -61L68.3 -58.2L70.5 -56L73.4 -55L75 -53L77.5 -51L80 -50L84 -48M82.5 -70L86.5 -67.5L87.5 -65L88 -62L92 -58.5L92.5 -56.5L93 -54L92 -52M127.5 -72.5L127 -70.5L125 -68L123.5 -66.5L125.5 -64L129.7 -62L125 -61L121 -60.5L117 -60.2L113 -59.5L110 -58L107 -55.5M141 -52.8L140 -51.5L137 -50.5L135 -48.5L132 -47.7L130.5 -48.5L127.5 -49.6L127 -52.5L124 -53.3L121.5 -53.3M161 -69.5L158 -68.5L155 -67L152 -66L150 -64L150 -62M149 -71.5L148 -70L146 -68L143 -66.5M121.8 -31.5L119 -32L117 -30.7L115 -30L113 -29.5L112 -30.3L110 -30.8L107 -29.6L104.5 -28.8L102 -27.5L100 -26.5L99.5 -28L97 -32.5L94 -34.5L91 -34M118.8 -37.7L116.5 -36.5L114 -35L111 -34.6L110.3 -35.5L110.5 -38L111 -40L109 -40.8L107 -40.5L106.5 -39L105.5 -37.5L104 -36L102 -35.5L100 -35.5L98 -34.5M106.5 -9.6L105.5 -11.5L105.8 -14L105 -15.5L104.7 -17L102.5 -18L101 -18.8L100.5 -20.5L99.5 -22.5L99 -25L98.8 -28L97 -31L95 -33M88.5 -21.8L88.2 -23.5L88 -25L85.5 -25.6L83 -25.5L80.5 -26L78 -28L78.5 -30M90.5 -22.5L89.8 -24.5L90.5 -26L93 -26.7L95.5 -28M67.5 -24L68.5 -26L70 -28.5L71 -30.5L71.5 -33L73.5 -35.5L76 -35L79 -32.5M48 -30L47 -31L45 -32.5L43 -34L41 -34.5L39 -36L38.5 -38M103.8 -51.6L105.5 -52L107 -53L108.5 -54.5L109.5 -55.6M74 -46.5L76 -46.3L78 -46.6L79 -46.4M100.5 -13.4L100.2 -15.5L99.5 -17.5M95 -15.8L95.5 -18L96 -21L97 -24" fill="none" stroke="#2a2520" stroke-width="0.8" vector-effect="non-scaling-stroke"/></g>
<clipPath id="c1"><rect x="30.6" y="25.4" width="454.7" height="225.9"/></clipPath>
<pattern id="nz1" patternUnits="userSpaceOnUse" width="40" height="20"><path fill="#bcbcc8" d="M0 0h1v1h-1zM19 0h1v1h-1zM1 1h1v1h-1zM18 1h1v1h-1zM37 4h1v1h-1zM28 6h1v1h-1zM2 9h1v1h-1zM36 10h1v1h-1zM26 12h1v1h-1zM33 12h1v1h-1zM24 13h1v1h-1zM11 16h1v1h-1zM33 19h1v1h-1z"/><path fill="#c8d092" d="M5 0h1v1h-1zM28 1h1v1h-1zM17 2h1v1h-1zM33 4h1v1h-1zM15 5h1v1h-1zM16 9h1v1h-1zM23 10h1v1h-1zM31 11h1v1h-1zM20 13h1v1h-1zM9 16h1v1h-1zM12 16h1v1h-1z"/><path fill="#92d6bf" d="M6 1h1v1h-1zM13 1h1v1h-1zM23 1h1v1h-1zM15 2h1v1h-1zM28 2h1v1h-1zM5 3h1v1h-1zM1 4h1v1h-1zM21 4h1v1h-1zM28 4h1v1h-1zM24 5h1v1h-1zM0 6h1v1h-1zM33 7h1v1h-1zM36 7h1v1h-1zM27 8h1v1h-1zM30 8h1v1h-1zM6 10h1v1h-1zM11 10h1v1h-1zM11 11h1v1h-1zM22 11h1v1h-1zM5 12h1v1h-1zM12 12h1v1h-1zM9 13h1v1h-1zM25 13h1v1h-1zM29 13h1v1h-1zM31 13h1v1h-1zM12 14h1v1h-1zM22 16h1v1h-1zM4 17h1v1h-1zM39 17h1v1h-1zM11 18h1v1h-1zM9 19h1v1h-1zM16 19h1v1h-1z"/><path fill="#aacdb6" d="M17 1h1v1h-1zM7 2h1v1h-1zM29 2h1v1h-1zM30 2h1v1h-1zM31 2h1v1h-1zM32 2h1v1h-1zM2 3h1v1h-1zM4 3h1v1h-1zM8 3h1v1h-1zM0 4h1v1h-1zM22 4h1v1h-1zM8 5h1v1h-1zM13 5h1v1h-1zM14 5h1v1h-1zM22 5h1v1h-1zM20 6h1v1h-1zM25 6h1v1h-1zM12 7h1v1h-1zM13 8h1v1h-1zM14 8h1v1h-1zM16 8h1v1h-1zM19 8h1v1h-1zM12 9h1v1h-1zM34 9h1v1h-1zM1 10h1v1h-1zM14 11h1v1h-1zM24 11h1v1h-1zM37 11h1v1h-1zM25 12h1v1h-1zM27 13h1v1h-1zM11 14h1v1h-1zM21 14h1v1h-1zM30 14h1v1h-1zM33 14h1v1h-1zM13 16h1v1h-1zM0 17h1v1h-1zM9 17h1v1h-1zM14 17h1v1h-1zM2 18h1v1h-1zM12 18h1v1h-1zM28 18h1v1h-1zM23 19h1v1h-1z"/><path fill="#a2d8b0" d="M26 1h1v1h-1zM29 1h1v1h-1zM5 2h1v1h-1zM0 3h1v1h-1zM8 4h1v1h-1zM9 4h1v1h-1zM16 4h1v1h-1zM39 5h1v1h-1zM13 6h1v1h-1zM21 6h1v1h-1zM21 7h1v1h-1zM5 8h1v1h-1zM35 8h1v1h-1zM39 9h1v1h-1zM16 10h1v1h-1zM28 11h1v1h-1zM4 12h1v1h-1zM13 13h1v1h-1zM19 13h1v1h-1zM20 14h1v1h-1zM35 14h1v1h-1zM12 15h1v1h-1zM36 15h1v1h-1zM37 15h1v1h-1zM35 17h1v1h-1zM36 18h1v1h-1zM22 19h1v1h-1zM30 19h1v1h-1zM36 19h1v1h-1z"/><path fill="#9fd4b8" d="M20 2h1v1h-1zM14 3h1v1h-1zM18 3h1v1h-1zM4 5h1v1h-1zM7 5h1v1h-1zM11 5h1v1h-1zM21 5h1v1h-1zM35 6h1v1h-1zM7 7h1v1h-1zM32 7h1v1h-1zM18 8h1v1h-1zM3 9h1v1h-1zM27 9h1v1h-1zM36 9h1v1h-1zM19 10h1v1h-1zM27 10h1v1h-1zM15 11h1v1h-1zM7 12h1v1h-1zM8 12h1v1h-1zM1 13h1v1h-1zM3 13h1v1h-1zM8 13h1v1h-1zM12 13h1v1h-1zM15 13h1v1h-1zM39 13h1v1h-1zM17 14h1v1h-1zM32 14h1v1h-1zM9 15h1v1h-1zM14 16h1v1h-1zM25 16h1v1h-1zM35 16h1v1h-1zM32 17h1v1h-1zM37 17h1v1h-1zM34 18h1v1h-1zM37 18h1v1h-1zM3 19h1v1h-1zM4 19h1v1h-1z"/><path fill="#c0cf9e" d="M33 3h1v1h-1zM16 5h1v1h-1zM4 6h1v1h-1zM6 7h1v1h-1zM9 7h1v1h-1zM6 9h1v1h-1zM12 10h1v1h-1zM22 12h1v1h-1zM2 15h1v1h-1zM39 15h1v1h-1z"/></pattern>
<clipPath id="c2"><rect x="524.9" y="27.2" width="459" height="228"/></clipPath>
<pattern id="nz2" patternUnits="userSpaceOnUse" width="40" height="20"><path fill="#a2d8b0" d="M8 0h1v1h-1zM11 0h1v1h-1zM2 1h1v1h-1zM11 2h1v1h-1zM5 5h1v1h-1zM8 5h1v1h-1zM10 5h1v1h-1zM3 6h1v1h-1zM11 6h1v1h-1zM18 6h1v1h-1zM19 7h1v1h-1zM9 9h1v1h-1zM5 10h1v1h-1zM9 10h1v1h-1zM24 10h1v1h-1zM27 10h1v1h-1zM31 10h1v1h-1zM37 10h1v1h-1zM6 11h1v1h-1zM15 11h1v1h-1zM8 13h1v1h-1zM38 13h1v1h-1zM13 15h1v1h-1zM33 15h1v1h-1zM21 16h1v1h-1zM20 17h1v1h-1zM2 19h1v1h-1zM14 19h1v1h-1zM32 19h1v1h-1z"/><path fill="#c8d092" d="M17 0h1v1h-1zM12 1h1v1h-1zM6 4h1v1h-1zM1 5h1v1h-1zM37 5h1v1h-1zM38 6h1v1h-1zM33 11h1v1h-1zM39 14h1v1h-1zM7 16h1v1h-1zM25 17h1v1h-1zM31 17h1v1h-1z"/><path fill="#aacdb6" d="M29 0h1v1h-1zM36 0h1v1h-1zM8 2h1v1h-1zM19 2h1v1h-1zM39 2h1v1h-1zM5 3h1v1h-1zM21 3h1v1h-1zM25 3h1v1h-1zM37 3h1v1h-1zM31 4h1v1h-1zM0 5h1v1h-1zM6 5h1v1h-1zM17 5h1v1h-1zM21 5h1v1h-1zM10 6h1v1h-1zM16 6h1v1h-1zM17 7h1v1h-1zM25 7h1v1h-1zM28 7h1v1h-1zM31 8h1v1h-1zM38 8h1v1h-1zM26 9h1v1h-1zM34 9h1v1h-1zM0 10h1v1h-1zM12 10h1v1h-1zM28 10h1v1h-1zM10 11h1v1h-1zM17 11h1v1h-1zM34 11h1v1h-1zM29 12h1v1h-1zM31 12h1v1h-1zM19 13h1v1h-1zM21 14h1v1h-1zM1 15h1v1h-1zM3 16h1v1h-1zM5 16h1v1h-1zM5 17h1v1h-1zM10 17h1v1h-1zM32 17h1v1h-1zM38 17h1v1h-1zM19 18h1v1h-1zM27 18h1v1h-1zM12 19h1v1h-1zM15 19h1v1h-1zM20 19h1v1h-1zM34 19h1v1h-1z"/><path fill="#9fd4b8" d="M13 1h1v1h-1zM19 1h1v1h-1zM23 1h1v1h-1zM22 3h1v1h-1zM31 3h1v1h-1zM9 5h1v1h-1zM22 5h1v1h-1zM29 6h1v1h-1zM39 6h1v1h-1zM35 7h1v1h-1zM17 8h1v1h-1zM25 8h1v1h-1zM36 8h1v1h-1zM27 9h1v1h-1zM36 9h1v1h-1zM33 10h1v1h-1zM0 11h1v1h-1zM11 11h1v1h-1zM13 11h1v1h-1zM24 11h1v1h-1zM14 12h1v1h-1zM26 12h1v1h-1zM34 12h1v1h-1zM7 14h1v1h-1zM12 14h1v1h-1zM31 14h1v1h-1zM31 16h1v1h-1zM17 17h1v1h-1zM29 18h1v1h-1z"/><path fill="#92d6bf" d="M26 1h1v1h-1zM29 1h1v1h-1zM31 1h1v1h-1zM32 1h1v1h-1zM23 2h1v1h-1zM8 3h1v1h-1zM2 4h1v1h-1zM17 6h1v1h-1zM21 6h1v1h-1zM13 7h1v1h-1zM21 7h1v1h-1zM24 7h1v1h-1zM16 8h1v1h-1zM21 8h1v1h-1zM1 9h1v1h-1zM2 9h1v1h-1zM25 10h1v1h-1zM7 11h1v1h-1zM30 11h1v1h-1zM6 12h1v1h-1zM20 12h1v1h-1zM25 13h1v1h-1zM37 13h1v1h-1zM10 14h1v1h-1zM3 15h1v1h-1zM36 15h1v1h-1zM0 17h1v1h-1zM3 17h1v1h-1zM4 17h1v1h-1zM22 17h1v1h-1zM29 17h1v1h-1zM34 17h1v1h-1z"/><path fill="#bcbcc8" d="M37 1h1v1h-1zM30 2h1v1h-1zM33 2h1v1h-1zM35 5h1v1h-1zM25 6h1v1h-1zM19 9h1v1h-1zM38 10h1v1h-1zM18 11h1v1h-1zM7 12h1v1h-1zM23 12h1v1h-1zM33 13h1v1h-1zM1 14h1v1h-1zM4 19h1v1h-1z"/><path fill="#c0cf9e" d="M1 3h1v1h-1zM8 4h1v1h-1zM13 4h1v1h-1zM23 4h1v1h-1zM6 6h1v1h-1zM33 6h1v1h-1zM32 11h1v1h-1zM9 13h1v1h-1zM22 14h1v1h-1zM17 15h1v1h-1zM36 16h1v1h-1zM8 17h1v1h-1zM35 17h1v1h-1zM38 19h1v1h-1z"/></pattern>
<clipPath id="c3"><rect x="29.7" y="298.6" width="455.2" height="226.8"/></clipPath>
<pattern id="nz3" patternUnits="userSpaceOnUse" width="40" height="20"><path fill="#aacdb6" d="M2 0h1v1h-1zM20 0h1v1h-1zM35 0h1v1h-1zM38 0h1v1h-1zM39 1h1v1h-1zM5 2h1v1h-1zM13 2h1v1h-1zM4 3h1v1h-1zM17 4h1v1h-1zM18 4h1v1h-1zM20 4h1v1h-1zM7 5h1v1h-1zM16 5h1v1h-1zM4 6h1v1h-1zM13 6h1v1h-1zM10 7h1v1h-1zM2 8h1v1h-1zM20 8h1v1h-1zM15 10h1v1h-1zM25 10h1v1h-1zM26 12h1v1h-1zM33 13h1v1h-1zM35 13h1v1h-1zM3 14h1v1h-1zM19 14h1v1h-1zM16 15h1v1h-1zM34 15h1v1h-1zM10 16h1v1h-1zM33 16h1v1h-1zM34 16h1v1h-1zM1 17h1v1h-1zM27 17h1v1h-1zM11 18h1v1h-1zM12 18h1v1h-1zM38 18h1v1h-1z"/><path fill="#c8d092" d="M5 0h1v1h-1zM17 0h1v1h-1zM20 1h1v1h-1zM21 2h1v1h-1zM9 3h1v1h-1zM12 3h1v1h-1zM0 4h1v1h-1zM1 4h1v1h-1zM2 4h1v1h-1zM5 4h1v1h-1zM27 4h1v1h-1zM33 4h1v1h-1zM26 5h1v1h-1zM2 7h1v1h-1zM17 9h1v1h-1zM0 14h1v1h-1zM15 15h1v1h-1zM31 15h1v1h-1zM33 15h1v1h-1zM35 19h1v1h-1z"/><path fill="#92d6bf" d="M11 0h1v1h-1zM29 0h1v1h-1zM36 0h1v1h-1zM22 1h1v1h-1zM23 1h1v1h-1zM31 1h1v1h-1zM3 2h1v1h-1zM11 2h1v1h-1zM0 3h1v1h-1zM17 3h1v1h-1zM19 3h1v1h-1zM35 3h1v1h-1zM21 5h1v1h-1zM24 8h1v1h-1zM7 9h1v1h-1zM15 9h1v1h-1zM13 10h1v1h-1zM17 10h1v1h-1zM32 10h1v1h-1zM36 11h1v1h-1zM6 12h1v1h-1zM12 13h1v1h-1zM17 13h1v1h-1zM23 14h1v1h-1zM27 15h1v1h-1zM23 16h1v1h-1zM36 16h1v1h-1zM24 17h1v1h-1zM0 18h1v1h-1zM8 18h1v1h-1zM9 18h1v1h-1zM18 18h1v1h-1zM19 18h1v1h-1zM34 18h1v1h-1zM9 19h1v1h-1zM12 19h1v1h-1z"/><path fill="#bcbcc8" d="M15 0h1v1h-1zM7 1h1v1h-1zM24 1h1v1h-1zM28 1h1v1h-1zM1 2h1v1h-1zM25 2h1v1h-1zM39 2h1v1h-1zM35 4h1v1h-1zM0 5h1v1h-1zM4 5h1v1h-1zM3 6h1v1h-1zM10 6h1v1h-1zM19 6h1v1h-1zM24 7h1v1h-1zM25 7h1v1h-1zM31 7h1v1h-1zM1 8h1v1h-1zM4 8h1v1h-1zM27 8h1v1h-1zM22 10h1v1h-1zM15 12h1v1h-1zM2 16h1v1h-1zM5 16h1v1h-1zM0 17h1v1h-1zM28 18h1v1h-1zM16 19h1v1h-1zM25 19h1v1h-1z"/><path fill="#9fd4b8" d="M18 0h1v1h-1zM8 2h1v1h-1zM7 3h1v1h-1zM11 3h1v1h-1zM13 3h1v1h-1zM20 3h1v1h-1zM34 3h1v1h-1zM4 4h1v1h-1zM8 5h1v1h-1zM30 6h1v1h-1zM7 7h1v1h-1zM26 8h1v1h-1zM28 8h1v1h-1zM29 8h1v1h-1zM31 8h1v1h-1zM23 9h1v1h-1zM9 10h1v1h-1zM39 10h1v1h-1zM2 11h1v1h-1zM18 11h1v1h-1zM25 11h1v1h-1zM12 12h1v1h-1zM14 12h1v1h-1zM19 13h1v1h-1zM12 14h1v1h-1zM14 14h1v1h-1zM31 14h1v1h-1zM34 14h1v1h-1zM8 15h1v1h-1zM11 15h1v1h-1zM31 16h1v1h-1zM35 17h1v1h-1zM31 18h1v1h-1z"/><path fill="#c0cf9e" d="M32 0h1v1h-1zM4 1h1v1h-1zM14 1h1v1h-1zM17 1h1v1h-1zM19 1h1v1h-1zM21 1h1v1h-1zM33 1h1v1h-1zM19 2h1v1h-1zM28 3h1v1h-1zM33 3h1v1h-1zM2 5h1v1h-1zM17 5h1v1h-1zM22 5h1v1h-1zM33 5h1v1h-1zM34 5h1v1h-1zM15 7h1v1h-1zM19 7h1v1h-1zM37 7h1v1h-1zM30 8h1v1h-1zM12 9h1v1h-1zM16 12h1v1h-1zM21 12h1v1h-1zM36 13h1v1h-1zM21 14h1v1h-1zM29 14h1v1h-1zM33 14h1v1h-1zM37 14h1v1h-1zM10 15h1v1h-1zM26 15h1v1h-1zM4 16h1v1h-1zM22 16h1v1h-1zM37 19h1v1h-1z"/><path fill="#a2d8b0" d="M33 2h1v1h-1zM36 2h1v1h-1zM15 3h1v1h-1zM26 3h1v1h-1zM16 4h1v1h-1zM22 4h1v1h-1zM36 4h1v1h-1zM15 6h1v1h-1zM17 6h1v1h-1zM28 6h1v1h-1zM35 6h1v1h-1zM37 6h1v1h-1zM8 7h1v1h-1zM6 8h1v1h-1zM16 8h1v1h-1zM39 8h1v1h-1zM3 10h1v1h-1zM8 11h1v1h-1zM21 11h1v1h-1zM29 11h1v1h-1zM13 13h1v1h-1zM35 14h1v1h-1zM5 15h1v1h-1zM20 15h1v1h-1zM2 17h1v1h-1zM13 17h1v1h-1zM15 17h1v1h-1zM16 17h1v1h-1zM23 17h1v1h-1zM26 18h1v1h-1zM4 19h1v1h-1zM38 19h1v1h-1zM39 19h1v1h-1z"/></pattern>
<pattern id="nzs3" patternUnits="userSpaceOnUse" width="40" height="20"><path fill="#aacdb6" d="M1 0h1v1h-1zM24 1h1v1h-1zM23 2h1v1h-1zM11 6h1v1h-1zM29 6h1v1h-1zM0 7h1v1h-1zM22 7h1v1h-1zM7 8h1v1h-1zM0 12h1v1h-1zM24 13h1v1h-1zM0 14h1v1h-1zM35 15h1v1h-1zM7 19h1v1h-1z"/><path fill="#9fd4b8" d="M8 0h1v1h-1zM32 3h1v1h-1zM36 6h1v1h-1zM3 12h1v1h-1zM12 17h1v1h-1zM30 19h1v1h-1z"/><path fill="#92d6bf" d="M11 0h1v1h-1zM39 0h1v1h-1zM38 7h1v1h-1zM21 8h1v1h-1zM21 9h1v1h-1zM6 12h1v1h-1zM32 13h1v1h-1zM29 14h1v1h-1zM26 16h1v1h-1zM34 16h1v1h-1z"/><path fill="#a2d8b0" d="M29 0h1v1h-1zM33 4h1v1h-1zM34 4h1v1h-1zM9 5h1v1h-1zM27 6h1v1h-1zM31 7h1v1h-1zM37 10h1v1h-1zM1 11h1v1h-1zM29 11h1v1h-1zM36 12h1v1h-1zM2 15h1v1h-1zM39 18h1v1h-1z"/><path fill="#bcbcc8" d="M12 1h1v1h-1zM26 1h1v1h-1zM6 3h1v1h-1zM8 3h1v1h-1zM31 3h1v1h-1zM5 4h1v1h-1zM22 4h1v1h-1zM23 4h1v1h-1zM23 8h1v1h-1zM2 12h1v1h-1zM38 12h1v1h-1zM33 13h1v1h-1zM5 15h1v1h-1z"/><path fill="#c0cf9e" d="M3 2h1v1h-1zM35 3h1v1h-1zM14 5h1v1h-1zM15 5h1v1h-1zM3 6h1v1h-1zM17 9h1v1h-1zM30 10h1v1h-1zM10 15h1v1h-1zM31 15h1v1h-1zM10 16h1v1h-1zM39 17h1v1h-1zM35 19h1v1h-1z"/><path fill="#c8d092" d="M12 4h1v1h-1zM35 5h1v1h-1zM1 8h1v1h-1zM34 10h1v1h-1zM26 11h1v1h-1zM19 13h1v1h-1zM4 15h1v1h-1zM2 17h1v1h-1z"/></pattern>
<clipPath id="c4"><rect x="524.8" y="297.9" width="458.8" height="227.9"/></clipPath>
<pattern id="nz4" patternUnits="userSpaceOnUse" width="40" height="20"><path fill="#bcbcc8" d="M0 0h1v1h-1zM39 1h1v1h-1zM10 4h1v1h-1zM21 5h1v1h-1zM32 5h1v1h-1zM3 6h1v1h-1zM5 7h1v1h-1zM6 7h1v1h-1zM31 8h1v1h-1zM38 9h1v1h-1zM29 11h1v1h-1zM33 11h1v1h-1zM38 11h1v1h-1zM10 12h1v1h-1zM11 12h1v1h-1zM28 12h1v1h-1zM31 12h1v1h-1zM38 12h1v1h-1zM3 13h1v1h-1zM8 13h1v1h-1zM14 13h1v1h-1zM39 13h1v1h-1zM29 15h1v1h-1zM19 16h1v1h-1zM36 16h1v1h-1zM13 17h1v1h-1zM16 17h1v1h-1zM17 17h1v1h-1zM18 18h1v1h-1zM20 18h1v1h-1zM39 18h1v1h-1z"/><path fill="#c0cf9e" d="M2 0h1v1h-1zM12 3h1v1h-1zM2 4h1v1h-1zM17 5h1v1h-1zM19 6h1v1h-1zM22 6h1v1h-1zM9 7h1v1h-1zM8 8h1v1h-1zM18 8h1v1h-1zM21 8h1v1h-1zM24 8h1v1h-1zM31 9h1v1h-1zM39 9h1v1h-1zM37 10h1v1h-1zM1 11h1v1h-1zM2 13h1v1h-1zM18 13h1v1h-1zM23 13h1v1h-1zM17 14h1v1h-1zM21 14h1v1h-1zM32 14h1v1h-1zM38 14h1v1h-1zM11 15h1v1h-1zM10 16h1v1h-1zM24 16h1v1h-1zM5 17h1v1h-1zM36 18h1v1h-1zM0 19h1v1h-1zM23 19h1v1h-1z"/><path fill="#c8d092" d="M4 0h1v1h-1zM32 0h1v1h-1zM35 1h1v1h-1zM2 2h1v1h-1zM1 4h1v1h-1zM26 4h1v1h-1zM36 4h1v1h-1zM26 5h1v1h-1zM14 6h1v1h-1zM37 7h1v1h-1zM9 8h1v1h-1zM11 8h1v1h-1zM38 8h1v1h-1zM3 9h1v1h-1zM22 9h1v1h-1zM37 9h1v1h-1zM39 10h1v1h-1zM24 11h1v1h-1zM30 11h1v1h-1zM1 12h1v1h-1zM18 12h1v1h-1zM0 14h1v1h-1zM14 16h1v1h-1zM19 18h1v1h-1zM29 18h1v1h-1zM33 18h1v1h-1zM35 18h1v1h-1z"/><path fill="#9fd4b8" d="M14 0h1v1h-1zM25 3h1v1h-1zM26 3h1v1h-1zM38 3h1v1h-1zM3 4h1v1h-1zM23 4h1v1h-1zM14 5h1v1h-1zM33 5h1v1h-1zM8 6h1v1h-1zM29 6h1v1h-1zM37 6h1v1h-1zM33 7h1v1h-1zM7 9h1v1h-1zM8 9h1v1h-1zM11 9h1v1h-1zM23 9h1v1h-1zM32 9h1v1h-1zM6 10h1v1h-1zM11 11h1v1h-1zM18 11h1v1h-1zM15 12h1v1h-1zM37 12h1v1h-1zM12 13h1v1h-1zM25 13h1v1h-1zM8 14h1v1h-1zM31 14h1v1h-1zM12 15h1v1h-1zM15 15h1v1h-1zM35 16h1v1h-1zM14 17h1v1h-1zM17 18h1v1h-1zM3 19h1v1h-1zM5 19h1v1h-1zM20 19h1v1h-1zM26 19h1v1h-1z"/><path fill="#aacdb6" d="M15 0h1v1h-1zM16 2h1v1h-1zM39 2h1v1h-1zM8 4h1v1h-1zM13 4h1v1h-1zM21 4h1v1h-1zM27 5h1v1h-1zM31 5h1v1h-1zM21 6h1v1h-1zM23 6h1v1h-1zM12 7h1v1h-1zM5 9h1v1h-1zM17 9h1v1h-1zM17 10h1v1h-1zM22 10h1v1h-1zM25 10h1v1h-1zM34 10h1v1h-1zM7 11h1v1h-1zM2 12h1v1h-1zM10 13h1v1h-1zM30 15h1v1h-1zM31 15h1v1h-1zM7 17h1v1h-1zM12 17h1v1h-1zM32 17h1v1h-1z"/><path fill="#92d6bf" d="M16 0h1v1h-1zM24 0h1v1h-1zM5 2h1v1h-1zM30 2h1v1h-1zM16 3h1v1h-1zM7 4h1v1h-1zM12 4h1v1h-1zM5 5h1v1h-1zM39 5h1v1h-1zM12 6h1v1h-1zM15 7h1v1h-1zM20 7h1v1h-1zM15 8h1v1h-1zM30 8h1v1h-1zM37 8h1v1h-1zM10 10h1v1h-1zM21 10h1v1h-1zM27 10h1v1h-1zM32 11h1v1h-1zM36 11h1v1h-1zM34 12h1v1h-1zM0 13h1v1h-1zM19 13h1v1h-1zM37 14h1v1h-1zM15 16h1v1h-1zM6 17h1v1h-1zM24 17h1v1h-1z"/><path fill="#a2d8b0" d="M7 1h1v1h-1zM19 1h1v1h-1zM17 2h1v1h-1zM1 3h1v1h-1zM2 3h1v1h-1zM8 3h1v1h-1zM11 3h1v1h-1zM20 3h1v1h-1zM23 3h1v1h-1zM14 4h1v1h-1zM28 4h1v1h-1zM33 4h1v1h-1zM5 6h1v1h-1zM18 6h1v1h-1zM25 6h1v1h-1zM10 8h1v1h-1zM13 8h1v1h-1zM33 9h1v1h-1zM4 10h1v1h-1zM9 10h1v1h-1zM30 10h1v1h-1zM35 10h1v1h-1zM27 11h1v1h-1zM13 14h1v1h-1zM4 15h1v1h-1zM5 15h1v1h-1zM8 15h1v1h-1zM10 15h1v1h-1zM18 15h1v1h-1zM23 15h1v1h-1zM35 15h1v1h-1zM34 16h1v1h-1zM28 17h1v1h-1zM2 18h1v1h-1zM35 19h1v1h-1z"/></pattern>
<pattern id="nzs4" patternUnits="userSpaceOnUse" width="40" height="20"><path fill="#92d6bf" d="M9 0h1v1h-1zM10 5h1v1h-1zM14 6h1v1h-1zM11 10h1v1h-1zM1 11h1v1h-1zM8 11h1v1h-1zM38 11h1v1h-1zM19 12h1v1h-1zM29 13h1v1h-1zM31 13h1v1h-1zM16 15h1v1h-1zM29 16h1v1h-1zM23 18h1v1h-1z"/><path fill="#c0cf9e" d="M14 0h1v1h-1zM20 1h1v1h-1zM8 9h1v1h-1zM13 9h1v1h-1zM5 10h1v1h-1zM29 10h1v1h-1zM17 12h1v1h-1zM4 14h1v1h-1zM23 16h1v1h-1zM19 18h1v1h-1zM2 19h1v1h-1zM11 19h1v1h-1zM17 19h1v1h-1z"/><path fill="#aacdb6" d="M24 0h1v1h-1zM33 2h1v1h-1zM37 4h1v1h-1zM4 6h1v1h-1zM19 8h1v1h-1zM37 8h1v1h-1zM16 9h1v1h-1zM32 9h1v1h-1zM2 10h1v1h-1zM38 10h1v1h-1zM12 18h1v1h-1z"/><path fill="#a2d8b0" d="M32 0h1v1h-1zM0 1h1v1h-1zM19 2h1v1h-1zM25 3h1v1h-1zM15 4h1v1h-1zM23 5h1v1h-1zM27 5h1v1h-1zM30 6h1v1h-1zM37 7h1v1h-1zM38 8h1v1h-1zM34 9h1v1h-1zM36 10h1v1h-1zM25 14h1v1h-1zM5 16h1v1h-1zM1 17h1v1h-1zM13 19h1v1h-1z"/><path fill="#9fd4b8" d="M38 0h1v1h-1zM0 2h1v1h-1zM38 2h1v1h-1zM10 3h1v1h-1zM3 6h1v1h-1zM9 9h1v1h-1zM39 14h1v1h-1zM14 15h1v1h-1zM1 16h1v1h-1zM5 17h1v1h-1z"/><path fill="#c8d092" d="M4 1h1v1h-1zM34 2h1v1h-1zM20 4h1v1h-1zM16 5h1v1h-1zM21 7h1v1h-1zM0 10h1v1h-1zM39 10h1v1h-1zM17 11h1v1h-1zM17 13h1v1h-1zM0 16h1v1h-1zM20 17h1v1h-1zM8 18h1v1h-1z"/><path fill="#bcbcc8" d="M16 2h1v1h-1zM13 4h1v1h-1zM36 9h1v1h-1zM15 10h1v1h-1zM6 11h1v1h-1zM25 11h1v1h-1zM28 11h1v1h-1zM11 16h1v1h-1zM24 16h1v1h-1zM26 16h1v1h-1zM39 16h1v1h-1zM15 19h1v1h-1z"/></pattern>
<clipPath id="c5"><rect x="28.5" y="572" width="460.3" height="229.1"/></clipPath>
<pattern id="nz5" patternUnits="userSpaceOnUse" width="40" height="20"><path fill="#c0cf9e" d="M1 0h1v1h-1zM5 0h1v1h-1zM8 0h1v1h-1zM1 4h1v1h-1zM4 5h1v1h-1zM33 8h1v1h-1zM0 9h1v1h-1zM25 11h1v1h-1zM7 12h1v1h-1zM29 15h1v1h-1zM32 15h1v1h-1zM3 16h1v1h-1z"/><path fill="#aacdb6" d="M6 0h1v1h-1zM32 0h1v1h-1zM16 1h1v1h-1zM26 1h1v1h-1zM37 1h1v1h-1zM19 2h1v1h-1zM2 3h1v1h-1zM12 3h1v1h-1zM18 3h1v1h-1zM22 3h1v1h-1zM38 3h1v1h-1zM35 4h1v1h-1zM23 5h1v1h-1zM2 6h1v1h-1zM9 6h1v1h-1zM34 6h1v1h-1zM6 7h1v1h-1zM14 7h1v1h-1zM19 7h1v1h-1zM27 7h1v1h-1zM37 7h1v1h-1zM7 8h1v1h-1zM34 8h1v1h-1zM33 9h1v1h-1zM16 12h1v1h-1zM17 13h1v1h-1zM30 13h1v1h-1zM31 13h1v1h-1zM13 15h1v1h-1zM17 15h1v1h-1zM30 15h1v1h-1zM39 15h1v1h-1zM11 17h1v1h-1zM23 19h1v1h-1zM24 19h1v1h-1z"/><path fill="#a2d8b0" d="M9 0h1v1h-1zM18 0h1v1h-1zM16 2h1v1h-1zM27 2h1v1h-1zM18 4h1v1h-1zM22 4h1v1h-1zM39 6h1v1h-1zM29 7h1v1h-1zM5 8h1v1h-1zM1 9h1v1h-1zM32 9h1v1h-1zM0 10h1v1h-1zM22 10h1v1h-1zM36 11h1v1h-1zM10 12h1v1h-1zM32 13h1v1h-1zM30 14h1v1h-1zM31 14h1v1h-1zM32 14h1v1h-1zM35 15h1v1h-1zM37 16h1v1h-1zM11 19h1v1h-1z"/><path fill="#92d6bf" d="M14 0h1v1h-1zM30 0h1v1h-1zM31 0h1v1h-1zM38 0h1v1h-1zM35 1h1v1h-1zM20 2h1v1h-1zM0 3h1v1h-1zM16 3h1v1h-1zM2 4h1v1h-1zM3 4h1v1h-1zM4 4h1v1h-1zM20 4h1v1h-1zM39 5h1v1h-1zM7 7h1v1h-1zM24 8h1v1h-1zM2 9h1v1h-1zM12 9h1v1h-1zM17 9h1v1h-1zM26 10h1v1h-1zM33 10h1v1h-1zM37 10h1v1h-1zM39 10h1v1h-1zM20 11h1v1h-1zM34 11h1v1h-1zM1 13h1v1h-1zM35 13h1v1h-1zM7 14h1v1h-1zM25 14h1v1h-1zM11 15h1v1h-1zM18 15h1v1h-1zM9 16h1v1h-1zM23 16h1v1h-1zM13 17h1v1h-1zM17 18h1v1h-1zM29 18h1v1h-1zM35 18h1v1h-1zM37 18h1v1h-1zM33 19h1v1h-1z"/><path fill="#bcbcc8" d="M29 0h1v1h-1zM36 0h1v1h-1zM1 2h1v1h-1zM29 4h1v1h-1zM37 6h1v1h-1zM13 8h1v1h-1zM29 9h1v1h-1zM4 10h1v1h-1zM6 11h1v1h-1zM15 14h1v1h-1zM37 15h1v1h-1z"/><path fill="#9fd4b8" d="M6 1h1v1h-1zM30 1h1v1h-1zM9 5h1v1h-1zM14 5h1v1h-1zM36 5h1v1h-1zM1 7h1v1h-1zM10 7h1v1h-1zM11 7h1v1h-1zM26 7h1v1h-1zM33 7h1v1h-1zM4 8h1v1h-1zM18 8h1v1h-1zM36 9h1v1h-1zM17 10h1v1h-1zM38 11h1v1h-1zM33 12h1v1h-1zM24 13h1v1h-1zM24 15h1v1h-1zM34 15h1v1h-1zM28 17h1v1h-1zM28 18h1v1h-1zM17 19h1v1h-1zM22 19h1v1h-1zM38 19h1v1h-1z"/><path fill="#c8d092" d="M5 3h1v1h-1zM25 4h1v1h-1zM32 6h1v1h-1zM6 8h1v1h-1zM31 8h1v1h-1zM13 9h1v1h-1zM18 10h1v1h-1zM5 13h1v1h-1zM27 13h1v1h-1zM4 14h1v1h-1zM38 17h1v1h-1z"/></pattern>
<clipPath id="c6"><rect x="525.8" y="571.3" width="462" height="230"/></clipPath>
<pattern id="nz6" patternUnits="userSpaceOnUse" width="40" height="20"><path fill="#c0cf9e" d="M7 0h1v1h-1zM14 0h1v1h-1zM5 3h1v1h-1zM21 6h1v1h-1zM4 9h1v1h-1zM12 12h1v1h-1zM22 12h1v1h-1zM6 13h1v1h-1zM19 13h1v1h-1zM20 15h1v1h-1zM21 15h1v1h-1zM7 16h1v1h-1zM11 16h1v1h-1z"/><path fill="#a2d8b0" d="M8 0h1v1h-1zM35 0h1v1h-1zM7 1h1v1h-1zM2 2h1v1h-1zM16 2h1v1h-1zM32 2h1v1h-1zM12 3h1v1h-1zM23 3h1v1h-1zM11 4h1v1h-1zM34 5h1v1h-1zM8 6h1v1h-1zM5 7h1v1h-1zM27 7h1v1h-1zM12 8h1v1h-1zM36 8h1v1h-1zM3 9h1v1h-1zM29 9h1v1h-1zM30 9h1v1h-1zM16 10h1v1h-1zM6 11h1v1h-1zM16 12h1v1h-1zM30 12h1v1h-1zM39 12h1v1h-1zM9 13h1v1h-1zM30 14h1v1h-1zM23 15h1v1h-1zM24 15h1v1h-1zM27 15h1v1h-1zM16 16h1v1h-1zM2 17h1v1h-1zM7 17h1v1h-1zM29 17h1v1h-1zM11 18h1v1h-1zM23 18h1v1h-1zM5 19h1v1h-1zM21 19h1v1h-1zM30 19h1v1h-1zM35 19h1v1h-1z"/><path fill="#aacdb6" d="M10 0h1v1h-1zM18 1h1v1h-1zM24 1h1v1h-1zM20 2h1v1h-1zM13 3h1v1h-1zM22 4h1v1h-1zM25 4h1v1h-1zM33 4h1v1h-1zM0 5h1v1h-1zM6 5h1v1h-1zM13 5h1v1h-1zM33 6h1v1h-1zM34 6h1v1h-1zM24 7h1v1h-1zM38 7h1v1h-1zM16 8h1v1h-1zM18 8h1v1h-1zM31 9h1v1h-1zM3 10h1v1h-1zM21 10h1v1h-1zM37 10h1v1h-1zM5 12h1v1h-1zM13 12h1v1h-1zM19 12h1v1h-1zM29 12h1v1h-1zM3 13h1v1h-1zM10 13h1v1h-1zM14 13h1v1h-1zM27 13h1v1h-1zM4 14h1v1h-1zM33 14h1v1h-1zM34 14h1v1h-1zM3 15h1v1h-1zM19 16h1v1h-1zM21 17h1v1h-1zM34 17h1v1h-1zM10 19h1v1h-1zM23 19h1v1h-1z"/><path fill="#bcbcc8" d="M17 0h1v1h-1zM34 0h1v1h-1zM25 1h1v1h-1zM0 3h1v1h-1zM16 3h1v1h-1zM31 3h1v1h-1zM34 3h1v1h-1zM0 4h1v1h-1zM12 6h1v1h-1zM20 6h1v1h-1zM21 7h1v1h-1zM35 7h1v1h-1zM23 8h1v1h-1zM28 8h1v1h-1zM10 10h1v1h-1zM14 11h1v1h-1zM14 15h1v1h-1zM17 16h1v1h-1z"/><path fill="#c8d092" d="M24 0h1v1h-1zM5 2h1v1h-1zM21 3h1v1h-1zM37 3h1v1h-1zM31 5h1v1h-1zM36 5h1v1h-1zM19 6h1v1h-1zM14 9h1v1h-1zM11 12h1v1h-1zM6 14h1v1h-1zM0 16h1v1h-1zM3 18h1v1h-1z"/><path fill="#9fd4b8" d="M32 0h1v1h-1zM2 1h1v1h-1zM5 1h1v1h-1zM27 1h1v1h-1zM26 2h1v1h-1zM36 2h1v1h-1zM15 4h1v1h-1zM36 4h1v1h-1zM26 5h1v1h-1zM28 6h1v1h-1zM9 8h1v1h-1zM14 8h1v1h-1zM25 8h1v1h-1zM9 9h1v1h-1zM20 9h1v1h-1zM2 10h1v1h-1zM25 10h1v1h-1zM27 10h1v1h-1zM28 10h1v1h-1zM0 11h1v1h-1zM5 11h1v1h-1zM6 12h1v1h-1zM25 14h1v1h-1zM15 15h1v1h-1zM29 15h1v1h-1zM33 15h1v1h-1zM37 15h1v1h-1zM23 16h1v1h-1zM0 17h1v1h-1zM6 17h1v1h-1zM10 17h1v1h-1zM38 17h1v1h-1zM39 17h1v1h-1zM14 18h1v1h-1zM27 19h1v1h-1zM38 19h1v1h-1z"/><path fill="#92d6bf" d="M8 1h1v1h-1zM21 1h1v1h-1zM33 1h1v1h-1zM27 2h1v1h-1zM18 3h1v1h-1zM33 3h1v1h-1zM9 4h1v1h-1zM20 4h1v1h-1zM37 5h1v1h-1zM27 6h1v1h-1zM9 7h1v1h-1zM12 7h1v1h-1zM0 9h1v1h-1zM13 9h1v1h-1zM28 9h1v1h-1zM13 10h1v1h-1zM10 12h1v1h-1zM28 12h1v1h-1zM37 12h1v1h-1zM2 13h1v1h-1zM33 13h1v1h-1zM11 14h1v1h-1zM28 14h1v1h-1zM18 15h1v1h-1zM26 15h1v1h-1zM30 15h1v1h-1zM13 16h1v1h-1zM36 16h1v1h-1zM38 16h1v1h-1zM14 17h1v1h-1zM6 18h1v1h-1zM4 19h1v1h-1zM17 19h1v1h-1z"/></pattern>
<clipPath id="ylab2"><rect x="512.6" y="0" width="487" height="300"/></clipPath>
</defs>
<g clip-path="url(#c1)">
<rect x="30.6" y="25.4" width="454.7" height="225.9" fill="#fff"/>
<g transform="translate(242.73 138.35) scale(1.2680 1.2550)">
<rect x="-200" y="-60" width="420" height="112" fill="#b2b2b2"/>
<rect x="-200" y="-60" width="420" height="112" fill="url(#nz1)"/>
<path fill="#0000d8" d="M122 -24h2v2h-2zM-162 -22h2v2h-2zM-164 -18h2v2h-2zM146 -18h2v2h-2zM150 -18h2v2h-2zM92 -12h2v2h-2zM130 4h2v2h-2zM130 6h2v2h-2zM160 12h2v2h-2zM-152 14h2v2h-2zM158 16h2v2h-2zM162 16h2v2h-2zM170 30h2v2h-2z"/><path fill="#0000eb" d="M134 -24h2v2h-2zM150 -24h2v2h-2zM134 -22h2v2h-2zM138 -22h2v2h-2zM146 -16h2v2h-2zM-46 -4h2v2h-2zM130 0h2v2h-2zM124 4h2v2h-2zM120 6h2v2h-2zM172 8h2v2h-2zM48 10h2v2h-2zM120 10h2v2h-2zM-152 16h2v2h-2zM58 18h2v2h-2zM160 18h2v2h-2zM60 20h2v2h-2zM162 20h2v2h-2zM164 20h2v2h-2zM-142 22h2v2h-2z"/><path fill="#0000ff" d="M-164 -26h2v2h-2zM-80 -26h2v2h-2zM144 -26h2v2h-2zM146 -26h2v2h-2zM150 -26h2v2h-2zM136 -24h2v2h-2zM150 -22h2v2h-2zM-166 -20h2v2h-2zM94 -10h2v2h-2zM-52 -6h2v2h-2zM-48 -4h2v2h-2zM128 -4h2v2h-2zM118 0h2v2h-2zM128 0h2v2h-2zM50 8h2v2h-2zM156 10h2v2h-2zM48 12h2v2h-2zM-148 14h2v2h-2zM168 28h2v2h-2z"/><path fill="#0015ff" d="M150 -28h2v2h-2zM154 -24h2v2h-2zM142 -20h2v2h-2zM148 -16h2v2h-2zM124 -6h2v2h-2zM120 -4h2v2h-2zM158 10h2v2h-2zM58 12h2v2h-2zM62 12h2v2h-2zM-150 14h2v2h-2zM-146 14h2v2h-2zM164 14h2v2h-2zM-154 18h2v2h-2zM164 18h2v2h-2zM-150 20h2v2h-2zM160 20h2v2h-2zM168 24h2v2h-2z"/><path fill="#002bff" d="M-78 -26h2v2h-2zM138 -26h2v2h-2zM142 -26h2v2h-2zM-80 -24h2v2h-2zM128 -22h2v2h-2zM132 -22h2v2h-2zM128 -20h2v2h-2zM140 -16h2v2h-2zM116 -2h2v2h-2zM132 0h2v2h-2zM116 8h2v2h-2zM126 10h2v2h-2zM-144 14h2v2h-2zM56 16h2v2h-2zM-152 20h2v2h-2zM-146 22h2v2h-2z"/><path fill="#0040ff" d="M-166 -26h2v2h-2zM156 -26h2v2h-2zM124 -24h2v2h-2zM140 -22h2v2h-2zM-166 -18h2v2h-2zM134 -16h2v2h-2zM-160 -10h2v2h-2zM116 4h2v2h-2zM132 6h2v2h-2zM62 10h2v2h-2zM-150 12h2v2h-2zM-144 16h2v2h-2zM-140 16h2v2h-2zM156 16h2v2h-2zM168 22h2v2h-2zM172 30h2v2h-2zM168 32h2v2h-2z"/><path fill="#0055ff" d="M118 -24h2v2h-2zM126 -24h2v2h-2zM128 -24h2v2h-2zM124 -20h2v2h-2zM156 -20h2v2h-2zM-160 -18h2v2h-2zM120 -18h2v2h-2zM154 -18h2v2h-2zM156 -18h2v2h-2zM142 -14h2v2h-2zM92 -10h2v2h-2zM-42 -4h2v2h-2zM130 -4h2v2h-2zM-46 0h2v2h-2zM132 2h2v2h-2zM168 6h2v2h-2zM152 10h2v2h-2zM168 10h2v2h-2zM56 12h2v2h-2zM172 12h2v2h-2zM-142 14h2v2h-2zM-148 18h2v2h-2zM52 18h2v2h-2zM160 26h2v2h-2zM174 30h2v2h-2zM-128 50h2v2h-2zM12 50h2v2h-2zM92 50h2v2h-2z"/><path fill="#006bff" d="M132 -28h2v2h-2zM146 -28h2v2h-2zM154 -28h2v2h-2zM122 -26h2v2h-2zM132 -24h2v2h-2zM-160 -22h2v2h-2zM124 -22h2v2h-2zM156 -22h2v2h-2zM130 -20h2v2h-2zM158 -20h2v2h-2zM128 -18h2v2h-2zM138 -14h2v2h-2zM122 -4h2v2h-2zM-42 -2h2v2h-2zM-44 0h2v2h-2zM114 4h2v2h-2zM168 8h2v2h-2zM50 10h2v2h-2zM52 10h2v2h-2zM-154 12h2v2h-2zM-144 12h2v2h-2zM126 12h2v2h-2zM174 12h2v2h-2zM162 14h2v2h-2zM-148 16h2v2h-2zM54 16h2v2h-2zM-142 20h2v2h-2zM58 20h2v2h-2zM-150 22h2v2h-2zM172 32h2v2h-2z"/><path fill="#0080ff" d="M-166 -28h2v2h-2zM140 -28h2v2h-2zM144 -28h2v2h-2zM148 -28h2v2h-2zM156 -28h2v2h-2zM130 -22h2v2h-2zM122 -20h2v2h-2zM158 -18h2v2h-2zM-158 -14h2v2h-2zM134 -14h2v2h-2zM144 -14h2v2h-2zM-162 -10h2v2h-2zM128 -8h2v2h-2zM124 -4h2v2h-2zM-50 -2h2v2h-2zM134 0h2v2h-2zM120 4h2v2h-2zM126 4h2v2h-2zM130 8h2v2h-2zM-150 10h2v2h-2zM64 10h2v2h-2zM116 10h2v2h-2zM130 10h2v2h-2zM150 10h2v2h-2zM52 12h2v2h-2zM64 12h2v2h-2zM56 14h2v2h-2zM154 14h2v2h-2zM50 16h2v2h-2zM-146 18h2v2h-2zM64 18h2v2h-2zM56 20h2v2h-2zM62 20h2v2h-2zM-144 22h2v2h-2z"/><path fill="#0095ff" d="M-162 -28h2v2h-2zM-160 -26h2v2h-2zM128 -26h2v2h-2zM154 -26h2v2h-2zM158 -26h2v2h-2zM-162 -24h2v2h-2zM156 -24h2v2h-2zM126 -22h2v2h-2zM160 -22h2v2h-2zM-162 -20h2v2h-2zM-160 -20h2v2h-2zM-168 -18h2v2h-2zM-164 -16h2v2h-2zM96 -16h2v2h-2zM128 -16h2v2h-2zM130 -16h2v2h-2zM120 -14h2v2h-2zM122 -14h2v2h-2zM146 -14h2v2h-2zM152 -14h2v2h-2zM-162 -12h2v2h-2zM-156 -10h2v2h-2zM-158 -8h2v2h-2zM-52 -8h2v2h-2zM-44 -4h2v2h-2zM114 -2h2v2h-2zM116 0h2v2h-2zM152 4h2v2h-2zM174 4h2v2h-2zM114 6h2v2h-2zM128 6h2v2h-2zM156 6h2v2h-2zM-146 10h2v2h-2zM162 10h2v2h-2zM-152 12h2v2h-2zM120 12h2v2h-2zM128 12h2v2h-2zM178 12h2v2h-2zM-156 14h2v2h-2zM48 14h2v2h-2zM-156 16h2v2h-2zM168 16h2v2h-2zM-156 18h2v2h-2zM-138 18h2v2h-2zM50 18h2v2h-2zM56 18h2v2h-2zM112 26h2v2h-2zM164 30h2v2h-2zM190 30h2v2h-2zM-8 34h2v2h-2zM-8 36h2v2h-2z"/><path fill="#00aaff" d="M130 -30h2v2h-2zM138 -30h2v2h-2zM144 -30h2v2h-2zM136 -28h2v2h-2zM-156 -26h2v2h-2zM118 -26h2v2h-2zM120 -26h2v2h-2zM158 -24h2v2h-2zM164 -24h2v2h-2zM166 -24h2v2h-2zM116 -22h2v2h-2zM158 -22h2v2h-2zM162 -22h2v2h-2zM116 -20h2v2h-2zM126 -20h2v2h-2zM164 -20h2v2h-2zM168 -20h2v2h-2zM-156 -18h2v2h-2zM96 -18h2v2h-2zM126 -18h2v2h-2zM160 -18h2v2h-2zM-158 -16h2v2h-2zM126 -16h2v2h-2zM158 -16h2v2h-2zM162 -16h2v2h-2zM-162 -14h2v2h-2zM140 -14h2v2h-2zM158 -14h2v2h-2zM-164 -10h2v2h-2zM-160 -8h2v2h-2zM-56 -8h2v2h-2zM-50 -8h2v2h-2zM126 -8h2v2h-2zM-54 -6h2v2h-2zM128 -6h2v2h-2zM130 -6h2v2h-2zM132 -4h2v2h-2zM112 2h2v2h-2zM132 4h2v2h-2zM134 4h2v2h-2zM156 4h2v2h-2zM54 8h2v2h-2zM60 8h2v2h-2zM132 8h2v2h-2zM164 8h2v2h-2zM56 10h2v2h-2zM-154 14h2v2h-2zM50 14h2v2h-2zM52 14h2v2h-2zM64 16h2v2h-2zM166 20h2v2h-2zM168 20h2v2h-2zM-148 22h2v2h-2zM-132 28h2v2h-2zM174 32h2v2h-2zM-10 34h2v2h-2z"/><path fill="#00bfff" d="M-166 -30h2v2h-2zM140 -30h2v2h-2zM154 -30h2v2h-2zM126 -28h2v2h-2zM130 -28h2v2h-2zM160 -28h2v2h-2zM-162 -26h2v2h-2zM-158 -26h2v2h-2zM-158 -24h2v2h-2zM-30 -24h2v2h-2zM116 -24h2v2h-2zM140 -24h2v2h-2zM160 -24h2v2h-2zM170 -24h2v2h-2zM-168 -22h2v2h-2zM-80 -22h2v2h-2zM154 -22h2v2h-2zM120 -20h2v2h-2zM132 -20h2v2h-2zM166 -20h2v2h-2zM-158 -18h2v2h-2zM94 -18h2v2h-2zM122 -18h2v2h-2zM124 -18h2v2h-2zM148 -18h2v2h-2zM166 -18h2v2h-2zM-162 -16h2v2h-2zM-156 -16h2v2h-2zM90 -16h2v2h-2zM120 -16h2v2h-2zM132 -16h2v2h-2zM136 -16h2v2h-2zM156 -16h2v2h-2zM160 -16h2v2h-2zM164 -16h2v2h-2zM-164 -14h2v2h-2zM-20 -14h2v2h-2zM90 -12h2v2h-2zM158 -12h2v2h-2zM96 -10h2v2h-2zM122 -10h2v2h-2zM-156 -8h2v2h-2zM116 -8h2v2h-2zM122 -8h2v2h-2zM124 -8h2v2h-2zM116 -6h2v2h-2zM118 -6h2v2h-2zM-54 -4h2v2h-2zM118 -4h2v2h-2zM-158 6h2v2h-2zM134 6h2v2h-2zM52 8h2v2h-2zM58 8h2v2h-2zM62 8h2v2h-2zM114 8h2v2h-2zM180 8h2v2h-2zM172 10h2v2h-2zM-158 12h2v2h-2zM-156 12h2v2h-2zM46 12h2v2h-2zM50 12h2v2h-2zM122 12h2v2h-2zM162 12h2v2h-2zM166 12h2v2h-2zM-140 14h2v2h-2zM64 14h2v2h-2zM156 14h2v2h-2zM166 14h2v2h-2zM168 14h2v2h-2zM-36 16h2v2h-2zM48 16h2v2h-2zM86 16h2v2h-2zM174 16h2v2h-2zM176 16h2v2h-2zM-36 18h2v2h-2zM168 18h2v2h-2zM52 22h2v2h-2zM58 22h2v2h-2zM160 22h2v2h-2zM-144 24h2v2h-2zM-20 24h2v2h-2zM112 24h2v2h-2zM160 24h2v2h-2zM172 24h2v2h-2zM162 26h2v2h-2zM174 26h2v2h-2zM162 30h2v2h-2zM166 30h2v2h-2zM-14 32h2v2h-2zM-12 32h2v2h-2zM-10 32h2v2h-2zM170 32h2v2h-2zM172 34h2v2h-2z"/><path fill="#00d4ff" d="M138 -32h2v2h-2zM-164 -30h2v2h-2zM146 -30h2v2h-2zM152 -30h2v2h-2zM162 -30h2v2h-2zM-164 -28h2v2h-2zM-160 -28h2v2h-2zM128 -28h2v2h-2zM134 -28h2v2h-2zM138 -28h2v2h-2zM164 -28h2v2h-2zM168 -28h2v2h-2zM110 -26h2v2h-2zM124 -26h2v2h-2zM136 -26h2v2h-2zM174 -26h2v2h-2zM-82 -24h2v2h-2zM168 -24h2v2h-2zM-156 -22h2v2h-2zM-28 -22h2v2h-2zM114 -22h2v2h-2zM-158 -20h2v2h-2zM94 -20h2v2h-2zM114 -20h2v2h-2zM154 -20h2v2h-2zM162 -20h2v2h-2zM-162 -18h2v2h-2zM92 -18h2v2h-2zM162 -18h2v2h-2zM164 -18h2v2h-2zM-62 -16h2v2h-2zM122 -16h2v2h-2zM124 -16h2v2h-2zM142 -16h2v2h-2zM144 -16h2v2h-2zM154 -16h2v2h-2zM-58 -14h2v2h-2zM118 -14h2v2h-2zM128 -14h2v2h-2zM130 -14h2v2h-2zM-160 -12h2v2h-2zM-158 -12h2v2h-2zM96 -12h2v2h-2zM122 -12h2v2h-2zM142 -12h2v2h-2zM146 -12h2v2h-2zM164 -12h2v2h-2zM126 -10h2v2h-2zM156 -10h2v2h-2zM-48 -8h2v2h-2zM96 -8h2v2h-2zM-48 -6h2v2h-2zM-48 0h2v2h-2zM4 0h2v2h-2zM114 2h2v2h-2zM-154 4h2v2h-2zM-62 4h2v2h-2zM158 6h2v2h-2zM-156 8h2v2h-2zM-154 8h2v2h-2zM-156 10h2v2h-2zM-142 10h2v2h-2zM58 10h2v2h-2zM60 10h2v2h-2zM114 10h2v2h-2zM128 10h2v2h-2zM132 10h2v2h-2zM-140 12h2v2h-2zM118 12h2v2h-2zM150 12h2v2h-2zM170 12h2v2h-2zM-158 14h2v2h-2zM122 14h2v2h-2zM152 14h2v2h-2zM170 14h2v2h-2zM178 14h2v2h-2zM-150 16h2v2h-2zM-146 16h2v2h-2zM-138 16h2v2h-2zM46 16h2v2h-2zM52 16h2v2h-2zM48 18h2v2h-2zM158 18h2v2h-2zM-60 20h2v2h-2zM50 20h2v2h-2zM54 20h2v2h-2zM64 20h2v2h-2zM158 20h2v2h-2zM170 20h2v2h-2zM172 20h2v2h-2zM-152 22h2v2h-2zM62 22h2v2h-2zM170 22h2v2h-2zM-146 24h2v2h-2zM-140 24h2v2h-2zM174 24h2v2h-2zM162 28h2v2h-2zM172 28h2v2h-2zM176 34h2v2h-2zM-10 36h2v2h-2z"/><path fill="#00e8ff" d="M142 -34h2v2h-2zM162 -34h2v2h-2zM160 -32h2v2h-2zM-158 -30h2v2h-2zM142 -30h2v2h-2zM148 -30h2v2h-2zM158 -30h2v2h-2zM122 -28h2v2h-2zM162 -28h2v2h-2zM170 -28h2v2h-2zM130 -26h2v2h-2zM160 -26h2v2h-2zM164 -26h2v2h-2zM168 -26h2v2h-2zM172 -26h2v2h-2zM-160 -24h2v2h-2zM114 -24h2v2h-2zM130 -24h2v2h-2zM144 -24h2v2h-2zM176 -24h2v2h-2zM178 -24h2v2h-2zM-158 -22h2v2h-2zM-30 -22h2v2h-2zM144 -22h2v2h-2zM166 -22h2v2h-2zM170 -22h2v2h-2zM-156 -20h2v2h-2zM92 -20h2v2h-2zM112 -20h2v2h-2zM118 -20h2v2h-2zM152 -20h2v2h-2zM160 -20h2v2h-2zM186 -20h2v2h-2zM114 -18h2v2h-2zM168 -18h2v2h-2zM174 -18h2v2h-2zM-160 -16h2v2h-2zM-154 -16h2v2h-2zM-60 -14h2v2h-2zM92 -14h2v2h-2zM114 -14h2v2h-2zM148 -14h2v2h-2zM162 -14h2v2h-2zM-164 -12h2v2h-2zM126 -12h2v2h-2zM154 -12h2v2h-2zM-158 -10h2v2h-2zM120 -10h2v2h-2zM158 -10h2v2h-2zM-162 -8h2v2h-2zM90 -8h2v2h-2zM92 -8h2v2h-2zM94 -8h2v2h-2zM92 -6h2v2h-2zM94 -6h2v2h-2zM114 -4h2v2h-2zM134 -4h2v2h-2zM-54 -2h2v2h-2zM-20 -2h2v2h-2zM2 -2h2v2h-2zM112 -2h2v2h-2zM132 -2h2v2h-2zM-54 0h2v2h-2zM112 0h2v2h-2zM114 0h2v2h-2zM-52 2h2v2h-2zM150 4h2v2h-2zM180 4h2v2h-2zM50 6h2v2h-2zM110 6h2v2h-2zM140 6h2v2h-2zM148 6h2v2h-2zM164 6h2v2h-2zM166 6h2v2h-2zM172 6h2v2h-2zM182 6h2v2h-2zM-158 8h2v2h-2zM44 8h2v2h-2zM56 8h2v2h-2zM64 8h2v2h-2zM66 8h2v2h-2zM156 8h2v2h-2zM158 8h2v2h-2zM148 10h2v2h-2zM-138 12h2v2h-2zM-136 12h2v2h-2zM80 12h2v2h-2zM-160 14h2v2h-2zM46 14h2v2h-2zM-154 16h2v2h-2zM128 16h2v2h-2zM166 16h2v2h-2zM-158 18h2v2h-2zM-136 18h2v2h-2zM60 18h2v2h-2zM66 18h2v2h-2zM172 18h2v2h-2zM174 18h2v2h-2zM178 18h2v2h-2zM-156 20h2v2h-2zM-140 22h2v2h-2zM-18 22h2v2h-2zM50 22h2v2h-2zM60 22h2v2h-2zM176 22h2v2h-2zM-148 24h2v2h-2zM-22 24h2v2h-2zM156 24h2v2h-2zM158 24h2v2h-2zM164 24h2v2h-2zM166 24h2v2h-2zM176 24h2v2h-2zM-62 26h2v2h-2zM170 26h2v2h-2zM176 26h2v2h-2zM148 28h2v2h-2zM150 28h2v2h-2zM156 28h2v2h-2zM190 28h2v2h-2zM174 36h2v2h-2zM-108 50h2v2h-2zM174 50h2v2h-2z"/><path fill="#0101c3" d="M140 -26h2v2h-2zM148 -24h2v2h-2zM-166 -22h2v2h-2zM152 -18h2v2h-2zM94 -12h2v2h-2zM126 -6h2v2h-2zM122 -2h2v2h-2zM126 2h2v2h-2zM126 6h2v2h-2zM154 6h2v2h-2zM58 14h2v2h-2zM-150 18h2v2h-2zM62 18h2v2h-2zM-148 20h2v2h-2zM168 26h2v2h-2z"/><path fill="#0404ac" d="M138 -24h2v2h-2zM122 -22h2v2h-2zM144 -20h2v2h-2zM140 -18h2v2h-2zM-50 -6h2v2h-2zM118 -2h2v2h-2zM120 -2h2v2h-2zM128 4h2v2h-2zM124 6h2v2h-2zM126 8h2v2h-2zM46 10h2v2h-2zM162 22h2v2h-2z"/><path fill="#070794" d="M132 -26h2v2h-2zM-78 -24h2v2h-2zM94 -14h2v2h-2zM96 -14h2v2h-2zM126 -2h2v2h-2zM120 2h2v2h-2zM62 14h2v2h-2zM-140 18h2v2h-2zM168 30h2v2h-2z"/><path fill="#0a0a7d" d="M148 -26h2v2h-2zM152 -26h2v2h-2zM-166 -24h2v2h-2zM-164 -24h2v2h-2zM120 -24h2v2h-2zM146 -24h2v2h-2zM152 -24h2v2h-2zM-164 -22h2v2h-2zM118 -22h2v2h-2zM120 -22h2v2h-2zM136 -22h2v2h-2zM142 -22h2v2h-2zM146 -22h2v2h-2zM148 -22h2v2h-2zM152 -22h2v2h-2zM-164 -20h2v2h-2zM134 -20h2v2h-2zM136 -20h2v2h-2zM138 -20h2v2h-2zM140 -20h2v2h-2zM146 -20h2v2h-2zM148 -20h2v2h-2zM150 -20h2v2h-2zM134 -18h2v2h-2zM138 -18h2v2h-2zM142 -18h2v2h-2zM144 -18h2v2h-2zM138 -16h2v2h-2zM126 -4h2v2h-2zM-48 -2h2v2h-2zM-46 -2h2v2h-2zM-44 -2h2v2h-2zM124 -2h2v2h-2zM128 -2h2v2h-2zM130 -2h2v2h-2zM122 0h2v2h-2zM124 0h2v2h-2zM126 0h2v2h-2zM118 2h2v2h-2zM122 2h2v2h-2zM124 2h2v2h-2zM128 2h2v2h-2zM130 2h2v2h-2zM118 4h2v2h-2zM122 4h2v2h-2zM116 6h2v2h-2zM122 6h2v2h-2zM46 8h2v2h-2zM48 8h2v2h-2zM118 8h2v2h-2zM120 8h2v2h-2zM122 8h2v2h-2zM124 8h2v2h-2zM60 12h2v2h-2zM156 12h2v2h-2zM60 14h2v2h-2zM160 14h2v2h-2zM58 16h2v2h-2zM60 16h2v2h-2zM62 16h2v2h-2zM-152 18h2v2h-2zM-144 18h2v2h-2zM-142 18h2v2h-2zM162 18h2v2h-2zM-146 20h2v2h-2zM-144 20h2v2h-2zM164 22h2v2h-2zM164 26h2v2h-2zM164 28h2v2h-2zM166 28h2v2h-2z"/><path fill="#0bf4f7" d="M-162 -32h2v2h-2zM162 -32h2v2h-2zM164 -32h2v2h-2zM-162 -30h2v2h-2zM110 -30h2v2h-2zM124 -30h2v2h-2zM128 -30h2v2h-2zM134 -30h2v2h-2zM136 -30h2v2h-2zM160 -30h2v2h-2zM164 -30h2v2h-2zM168 -30h2v2h-2zM172 -30h2v2h-2zM-156 -28h2v2h-2zM112 -28h2v2h-2zM142 -28h2v2h-2zM158 -28h2v2h-2zM174 -28h2v2h-2zM-30 -26h2v2h-2zM126 -26h2v2h-2zM166 -26h2v2h-2zM176 -26h2v2h-2zM180 -26h2v2h-2zM-154 -24h2v2h-2zM14 -24h2v2h-2zM110 -24h2v2h-2zM112 -24h2v2h-2zM174 -24h2v2h-2zM188 -24h2v2h-2zM190 -24h2v2h-2zM-154 -22h2v2h-2zM108 -22h2v2h-2zM174 -22h2v2h-2zM178 -22h2v2h-2zM190 -22h2v2h-2zM-154 -20h2v2h-2zM110 -20h2v2h-2zM176 -20h2v2h-2zM190 -20h2v2h-2zM90 -18h2v2h-2zM110 -18h2v2h-2zM130 -18h2v2h-2zM136 -18h2v2h-2zM190 -18h2v2h-2zM-168 -16h2v2h-2zM76 -16h2v2h-2zM150 -16h2v2h-2zM170 -16h2v2h-2zM182 -16h2v2h-2zM-160 -14h2v2h-2zM-62 -14h2v2h-2zM136 -14h2v2h-2zM150 -14h2v2h-2zM164 -14h2v2h-2zM170 -14h2v2h-2zM178 -14h2v2h-2zM190 -14h2v2h-2zM-166 -12h2v2h-2zM120 -12h2v2h-2zM124 -12h2v2h-2zM144 -12h2v2h-2zM148 -12h2v2h-2zM152 -12h2v2h-2zM156 -12h2v2h-2zM-56 -10h2v2h-2zM-54 -10h2v2h-2zM-18 -10h2v2h-2zM134 -10h2v2h-2zM136 -10h2v2h-2zM138 -10h2v2h-2zM142 -10h2v2h-2zM162 -10h2v2h-2zM-154 -8h2v2h-2zM-46 -8h2v2h-2zM138 -8h2v2h-2zM-46 -6h2v2h-2zM-44 -6h2v2h-2zM134 -6h2v2h-2zM-160 -4h2v2h-2zM-52 -4h2v2h-2zM-50 -4h2v2h-2zM90 -4h2v2h-2zM116 -4h2v2h-2zM136 -4h2v2h-2zM-60 -2h2v2h-2zM-52 -2h2v2h-2zM134 -2h2v2h-2zM-50 0h2v2h-2zM136 0h2v2h-2zM-50 2h2v2h-2zM116 2h2v2h-2zM154 2h2v2h-2zM162 2h2v2h-2zM170 2h2v2h-2zM-160 4h2v2h-2zM-158 4h2v2h-2zM-156 4h2v2h-2zM-86 4h2v2h-2zM110 4h2v2h-2zM160 4h2v2h-2zM164 4h2v2h-2zM-152 6h2v2h-2zM-150 6h2v2h-2zM48 6h2v2h-2zM54 6h2v2h-2zM136 6h2v2h-2zM170 6h2v2h-2zM-160 8h2v2h-2zM-150 8h2v2h-2zM-148 8h2v2h-2zM-142 8h2v2h-2zM112 8h2v2h-2zM128 8h2v2h-2zM154 8h2v2h-2zM160 8h2v2h-2zM170 8h2v2h-2zM176 8h2v2h-2zM-160 10h2v2h-2zM-158 10h2v2h-2zM-154 10h2v2h-2zM-138 10h2v2h-2zM44 10h2v2h-2zM54 10h2v2h-2zM70 10h2v2h-2zM118 10h2v2h-2zM122 10h2v2h-2zM134 10h2v2h-2zM160 10h2v2h-2zM164 10h2v2h-2zM176 10h2v2h-2zM-162 12h2v2h-2zM-148 12h2v2h-2zM-132 12h2v2h-2zM44 12h2v2h-2zM82 12h2v2h-2zM116 12h2v2h-2zM124 12h2v2h-2zM142 12h2v2h-2zM-136 14h2v2h-2zM66 14h2v2h-2zM84 14h2v2h-2zM128 14h2v2h-2zM174 14h2v2h-2zM184 14h2v2h-2zM-160 16h2v2h-2zM44 16h2v2h-2zM68 16h2v2h-2zM84 16h2v2h-2zM148 16h2v2h-2zM170 16h2v2h-2zM-38 18h2v2h-2zM44 18h2v2h-2zM80 18h2v2h-2zM82 18h2v2h-2zM86 18h2v2h-2zM152 18h2v2h-2zM170 18h2v2h-2zM-62 20h2v2h-2zM84 20h2v2h-2zM150 20h2v2h-2zM152 20h2v2h-2zM156 20h2v2h-2zM180 20h2v2h-2zM-154 22h2v2h-2zM-64 22h2v2h-2zM54 22h2v2h-2zM150 22h2v2h-2zM166 22h2v2h-2zM-142 24h2v2h-2zM52 24h2v2h-2zM154 24h2v2h-2zM178 24h2v2h-2zM-144 26h2v2h-2zM-136 26h2v2h-2zM-76 26h2v2h-2zM-64 26h2v2h-2zM-60 26h2v2h-2zM-24 26h2v2h-2zM172 26h2v2h-2zM-168 28h2v2h-2zM-166 28h2v2h-2zM154 28h2v2h-2zM176 28h2v2h-2zM-168 30h2v2h-2zM-138 30h2v2h-2zM178 30h2v2h-2zM186 30h2v2h-2zM188 30h2v2h-2zM-8 32h2v2h-2zM166 32h2v2h-2zM176 32h2v2h-2zM188 32h2v2h-2z"/><path fill="#27f0e2" d="M166 -36h2v2h-2zM-164 -32h2v2h-2zM136 -32h2v2h-2zM142 -32h2v2h-2zM148 -32h2v2h-2zM156 -32h2v2h-2zM158 -32h2v2h-2zM166 -32h2v2h-2zM168 -32h2v2h-2zM74 -30h2v2h-2zM108 -30h2v2h-2zM120 -30h2v2h-2zM126 -30h2v2h-2zM150 -30h2v2h-2zM156 -30h2v2h-2zM174 -30h2v2h-2zM-168 -28h2v2h-2zM-158 -28h2v2h-2zM106 -28h2v2h-2zM120 -28h2v2h-2zM152 -28h2v2h-2zM172 -28h2v2h-2zM178 -28h2v2h-2zM182 -28h2v2h-2zM-168 -26h2v2h-2zM-76 -26h2v2h-2zM72 -26h2v2h-2zM114 -26h2v2h-2zM184 -26h2v2h-2zM-168 -24h2v2h-2zM94 -24h2v2h-2zM100 -24h2v2h-2zM172 -24h2v2h-2zM74 -22h2v2h-2zM104 -22h2v2h-2zM112 -22h2v2h-2zM176 -22h2v2h-2zM180 -22h2v2h-2zM-168 -20h2v2h-2zM178 -20h2v2h-2zM182 -20h2v2h-2zM88 -18h2v2h-2zM98 -18h2v2h-2zM112 -18h2v2h-2zM170 -18h2v2h-2zM172 -18h2v2h-2zM180 -18h2v2h-2zM186 -18h2v2h-2zM188 -18h2v2h-2zM-66 -16h2v2h-2zM-20 -16h2v2h-2zM106 -16h2v2h-2zM110 -16h2v2h-2zM116 -16h2v2h-2zM166 -16h2v2h-2zM168 -16h2v2h-2zM178 -16h2v2h-2zM180 -16h2v2h-2zM190 -16h2v2h-2zM-168 -14h2v2h-2zM-156 -14h2v2h-2zM124 -14h2v2h-2zM132 -14h2v2h-2zM154 -14h2v2h-2zM160 -14h2v2h-2zM172 -14h2v2h-2zM174 -14h2v2h-2zM184 -14h2v2h-2zM-168 -12h2v2h-2zM-154 -12h2v2h-2zM98 -12h2v2h-2zM132 -12h2v2h-2zM134 -12h2v2h-2zM140 -12h2v2h-2zM150 -12h2v2h-2zM160 -12h2v2h-2zM162 -12h2v2h-2zM168 -12h2v2h-2zM-168 -10h2v2h-2zM118 -10h2v2h-2zM130 -10h2v2h-2zM132 -10h2v2h-2zM148 -10h2v2h-2zM152 -10h2v2h-2zM168 -10h2v2h-2zM170 -10h2v2h-2zM-166 -8h2v2h-2zM120 -8h2v2h-2zM130 -8h2v2h-2zM132 -8h2v2h-2zM152 -8h2v2h-2zM158 -8h2v2h-2zM-56 -6h2v2h-2zM-42 -6h2v2h-2zM114 -6h2v2h-2zM120 -6h2v2h-2zM122 -6h2v2h-2zM-56 -4h2v2h-2zM-22 -4h2v2h-2zM-18 -4h2v2h-2zM112 -4h2v2h-2zM-40 -2h2v2h-2zM94 -2h2v2h-2zM-60 0h2v2h-2zM-42 0h2v2h-2zM110 0h2v2h-2zM160 0h2v2h-2zM-66 2h2v2h-2zM-18 2h2v2h-2zM6 2h2v2h-2zM8 2h2v2h-2zM94 2h2v2h-2zM160 2h2v2h-2zM166 2h2v2h-2zM174 2h2v2h-2zM178 2h2v2h-2zM-66 4h2v2h-2zM-64 4h2v2h-2zM54 4h2v2h-2zM56 4h2v2h-2zM96 4h2v2h-2zM166 4h2v2h-2zM172 4h2v2h-2zM-156 6h2v2h-2zM-124 6h2v2h-2zM-90 6h2v2h-2zM-88 6h2v2h-2zM-66 6h2v2h-2zM-64 6h2v2h-2zM56 6h2v2h-2zM62 6h2v2h-2zM64 6h2v2h-2zM74 6h2v2h-2zM118 6h2v2h-2zM142 6h2v2h-2zM160 6h2v2h-2zM176 6h2v2h-2zM96 8h2v2h-2zM110 8h2v2h-2zM138 8h2v2h-2zM140 8h2v2h-2zM184 8h2v2h-2zM-152 10h2v2h-2zM-64 10h2v2h-2zM66 10h2v2h-2zM136 10h2v2h-2zM140 10h2v2h-2zM154 10h2v2h-2zM178 10h2v2h-2zM86 12h2v2h-2zM108 12h2v2h-2zM132 12h2v2h-2zM140 12h2v2h-2zM154 12h2v2h-2zM168 12h2v2h-2zM176 12h2v2h-2zM180 12h2v2h-2zM184 12h2v2h-2zM-138 14h2v2h-2zM108 14h2v2h-2zM110 14h2v2h-2zM124 14h2v2h-2zM130 14h2v2h-2zM180 14h2v2h-2zM-60 16h2v2h-2zM42 16h2v2h-2zM88 16h2v2h-2zM110 16h2v2h-2zM130 16h2v2h-2zM160 16h2v2h-2zM172 16h2v2h-2zM178 16h2v2h-2zM46 18h2v2h-2zM84 18h2v2h-2zM88 18h2v2h-2zM108 18h2v2h-2zM154 18h2v2h-2zM-140 20h2v2h-2zM-20 20h2v2h-2zM26 20h2v2h-2zM46 20h2v2h-2zM48 20h2v2h-2zM112 20h2v2h-2zM126 20h2v2h-2zM154 20h2v2h-2zM176 20h2v2h-2zM178 20h2v2h-2zM-156 22h2v2h-2zM-60 22h2v2h-2zM154 22h2v2h-2zM156 22h2v2h-2zM178 22h2v2h-2zM180 22h2v2h-2zM182 22h2v2h-2zM186 22h2v2h-2zM-156 24h2v2h-2zM-152 24h2v2h-2zM-136 24h2v2h-2zM-62 24h2v2h-2zM-60 24h2v2h-2zM-16 24h2v2h-2zM126 24h2v2h-2zM170 24h2v2h-2zM188 24h2v2h-2zM-166 26h2v2h-2zM-142 26h2v2h-2zM-16 26h2v2h-2zM10 26h2v2h-2zM128 26h2v2h-2zM148 26h2v2h-2zM156 26h2v2h-2zM158 26h2v2h-2zM182 26h2v2h-2zM188 26h2v2h-2zM190 26h2v2h-2zM-136 28h2v2h-2zM-12 28h2v2h-2zM10 28h2v2h-2zM152 28h2v2h-2zM158 28h2v2h-2zM160 28h2v2h-2zM180 28h2v2h-2zM-124 30h2v2h-2zM-122 30h2v2h-2zM-14 30h2v2h-2zM-12 30h2v2h-2zM-6 30h2v2h-2zM-4 30h2v2h-2zM10 30h2v2h-2zM148 30h2v2h-2zM150 30h2v2h-2zM154 30h2v2h-2zM156 30h2v2h-2zM180 30h2v2h-2zM-134 32h2v2h-2zM-18 32h2v2h-2zM156 32h2v2h-2zM160 32h2v2h-2zM162 32h2v2h-2zM164 32h2v2h-2zM190 32h2v2h-2zM-4 34h2v2h-2zM162 34h2v2h-2zM166 34h2v2h-2zM168 34h2v2h-2zM178 34h2v2h-2zM182 34h2v2h-2zM-14 36h2v2h-2zM-6 36h2v2h-2zM164 36h2v2h-2zM-10 38h2v2h-2zM-64 48h2v2h-2z"/><path fill="#4ee2ce" d="M-152 -56h2v2h-2zM130 -56h2v2h-2zM132 -54h2v2h-2zM164 -38h2v2h-2zM-164 -36h2v2h-2zM144 -36h2v2h-2zM160 -36h2v2h-2zM162 -36h2v2h-2zM108 -34h2v2h-2zM126 -34h2v2h-2zM138 -34h2v2h-2zM144 -34h2v2h-2zM152 -34h2v2h-2zM160 -34h2v2h-2zM166 -34h2v2h-2zM-158 -32h2v2h-2zM122 -32h2v2h-2zM126 -32h2v2h-2zM190 -32h2v2h-2zM-160 -30h2v2h-2zM-146 -30h2v2h-2zM10 -30h2v2h-2zM72 -30h2v2h-2zM112 -30h2v2h-2zM170 -30h2v2h-2zM176 -30h2v2h-2zM-154 -28h2v2h-2zM-146 -28h2v2h-2zM102 -28h2v2h-2zM110 -28h2v2h-2zM124 -28h2v2h-2zM180 -28h2v2h-2zM-154 -26h2v2h-2zM-28 -26h2v2h-2zM10 -26h2v2h-2zM12 -26h2v2h-2zM32 -26h2v2h-2zM76 -26h2v2h-2zM104 -26h2v2h-2zM116 -26h2v2h-2zM162 -26h2v2h-2zM182 -26h2v2h-2zM-152 -24h2v2h-2zM-128 -24h2v2h-2zM12 -24h2v2h-2zM16 -24h2v2h-2zM34 -24h2v2h-2zM92 -24h2v2h-2zM96 -24h2v2h-2zM104 -24h2v2h-2zM108 -24h2v2h-2zM180 -24h2v2h-2zM-78 -22h2v2h-2zM-76 -22h2v2h-2zM10 -22h2v2h-2zM72 -22h2v2h-2zM92 -22h2v2h-2zM94 -22h2v2h-2zM100 -22h2v2h-2zM106 -22h2v2h-2zM184 -22h2v2h-2zM-32 -20h2v2h-2zM76 -20h2v2h-2zM90 -20h2v2h-2zM108 -20h2v2h-2zM180 -20h2v2h-2zM-64 -18h2v2h-2zM-60 -18h2v2h-2zM100 -18h2v2h-2zM106 -18h2v2h-2zM108 -18h2v2h-2zM118 -18h2v2h-2zM178 -18h2v2h-2zM182 -18h2v2h-2zM184 -18h2v2h-2zM-166 -16h2v2h-2zM-84 -16h2v2h-2zM72 -16h2v2h-2zM80 -16h2v2h-2zM88 -16h2v2h-2zM100 -16h2v2h-2zM108 -16h2v2h-2zM114 -16h2v2h-2zM176 -16h2v2h-2zM188 -16h2v2h-2zM-154 -14h2v2h-2zM-78 -14h2v2h-2zM76 -14h2v2h-2zM78 -14h2v2h-2zM108 -14h2v2h-2zM116 -14h2v2h-2zM126 -14h2v2h-2zM180 -14h2v2h-2zM182 -14h2v2h-2zM-16 -12h2v2h-2zM74 -12h2v2h-2zM88 -12h2v2h-2zM108 -12h2v2h-2zM110 -12h2v2h-2zM114 -12h2v2h-2zM116 -12h2v2h-2zM174 -12h2v2h-2zM176 -12h2v2h-2zM188 -12h2v2h-2zM-114 -10h2v2h-2zM-52 -10h2v2h-2zM-50 -10h2v2h-2zM88 -10h2v2h-2zM112 -10h2v2h-2zM116 -10h2v2h-2zM124 -10h2v2h-2zM144 -10h2v2h-2zM166 -10h2v2h-2zM172 -10h2v2h-2zM-54 -8h2v2h-2zM98 -8h2v2h-2zM104 -8h2v2h-2zM112 -8h2v2h-2zM118 -8h2v2h-2zM154 -8h2v2h-2zM156 -8h2v2h-2zM160 -8h2v2h-2zM-160 -6h2v2h-2zM-106 -6h2v2h-2zM-58 -6h2v2h-2zM96 -6h2v2h-2zM112 -6h2v2h-2zM138 -6h2v2h-2zM156 -6h2v2h-2zM160 -6h2v2h-2zM-108 -4h2v2h-2zM-16 -4h2v2h-2zM20 -4h2v2h-2zM108 -4h2v2h-2zM140 -4h2v2h-2zM-22 -2h2v2h-2zM-18 -2h2v2h-2zM-16 -2h2v2h-2zM-4 -2h2v2h-2zM10 -2h2v2h-2zM20 -2h2v2h-2zM92 -2h2v2h-2zM96 -2h2v2h-2zM110 -2h2v2h-2zM-66 0h2v2h-2zM-58 0h2v2h-2zM-18 0h2v2h-2zM2 0h2v2h-2zM90 0h2v2h-2zM94 0h2v2h-2zM96 0h2v2h-2zM152 0h2v2h-2zM158 0h2v2h-2zM-158 2h2v2h-2zM-152 2h2v2h-2zM-142 2h2v2h-2zM-64 2h2v2h-2zM-60 2h2v2h-2zM-58 2h2v2h-2zM-56 2h2v2h-2zM-46 2h2v2h-2zM-20 2h2v2h-2zM10 2h2v2h-2zM98 2h2v2h-2zM134 2h2v2h-2zM136 2h2v2h-2zM180 2h2v2h-2zM-146 4h2v2h-2zM-140 4h2v2h-2zM-70 4h2v2h-2zM-50 4h2v2h-2zM-48 4h2v2h-2zM-2 4h2v2h-2zM0 4h2v2h-2zM48 4h2v2h-2zM50 4h2v2h-2zM60 4h2v2h-2zM72 4h2v2h-2zM76 4h2v2h-2zM138 4h2v2h-2zM144 4h2v2h-2zM162 4h2v2h-2zM170 4h2v2h-2zM182 4h2v2h-2zM-162 6h2v2h-2zM-160 6h2v2h-2zM-148 6h2v2h-2zM-136 6h2v2h-2zM-132 6h2v2h-2zM-60 6h2v2h-2zM-50 6h2v2h-2zM44 6h2v2h-2zM52 6h2v2h-2zM58 6h2v2h-2zM60 6h2v2h-2zM68 6h2v2h-2zM72 6h2v2h-2zM94 6h2v2h-2zM112 6h2v2h-2zM152 6h2v2h-2zM-132 8h2v2h-2zM-130 8h2v2h-2zM-62 8h2v2h-2zM-18 8h2v2h-2zM68 8h2v2h-2zM134 8h2v2h-2zM142 8h2v2h-2zM146 8h2v2h-2zM150 8h2v2h-2zM166 8h2v2h-2zM-144 10h2v2h-2zM-136 10h2v2h-2zM-132 10h2v2h-2zM-128 10h2v2h-2zM40 10h2v2h-2zM42 10h2v2h-2zM96 10h2v2h-2zM112 10h2v2h-2zM124 10h2v2h-2zM-160 12h2v2h-2zM-142 12h2v2h-2zM-64 12h2v2h-2zM40 12h2v2h-2zM70 12h2v2h-2zM106 12h2v2h-2zM110 12h2v2h-2zM138 12h2v2h-2zM152 12h2v2h-2zM158 12h2v2h-2zM-162 14h2v2h-2zM-132 14h2v2h-2zM42 14h2v2h-2zM54 14h2v2h-2zM68 14h2v2h-2zM70 14h2v2h-2zM82 14h2v2h-2zM86 14h2v2h-2zM116 14h2v2h-2zM126 14h2v2h-2zM138 14h2v2h-2zM140 14h2v2h-2zM144 14h2v2h-2zM148 14h2v2h-2zM150 14h2v2h-2zM-132 16h2v2h-2zM-130 16h2v2h-2zM-38 16h2v2h-2zM66 16h2v2h-2zM82 16h2v2h-2zM108 16h2v2h-2zM144 16h2v2h-2zM152 16h2v2h-2zM180 16h2v2h-2zM-160 18h2v2h-2zM-62 18h2v2h-2zM-60 18h2v2h-2zM-34 18h2v2h-2zM42 18h2v2h-2zM106 18h2v2h-2zM110 18h2v2h-2zM112 18h2v2h-2zM124 18h2v2h-2zM130 18h2v2h-2zM142 18h2v2h-2zM150 18h2v2h-2zM156 18h2v2h-2zM182 18h2v2h-2zM-160 20h2v2h-2zM-138 20h2v2h-2zM-136 20h2v2h-2zM-134 20h2v2h-2zM-64 20h2v2h-2zM86 20h2v2h-2zM110 20h2v2h-2zM124 20h2v2h-2zM142 20h2v2h-2zM184 20h2v2h-2zM186 20h2v2h-2zM-158 22h2v2h-2zM-136 22h2v2h-2zM-24 22h2v2h-2zM-16 22h2v2h-2zM56 22h2v2h-2zM64 22h2v2h-2zM82 22h2v2h-2zM114 22h2v2h-2zM130 22h2v2h-2zM148 22h2v2h-2zM-150 24h2v2h-2zM-66 24h2v2h-2zM-64 24h2v2h-2zM-58 24h2v2h-2zM48 24h2v2h-2zM58 24h2v2h-2zM106 24h2v2h-2zM108 24h2v2h-2zM184 24h2v2h-2zM190 24h2v2h-2zM-168 26h2v2h-2zM-152 26h2v2h-2zM-150 26h2v2h-2zM-146 26h2v2h-2zM-138 26h2v2h-2zM-74 26h2v2h-2zM64 26h2v2h-2zM178 26h2v2h-2zM180 26h2v2h-2zM-156 28h2v2h-2zM-60 28h2v2h-2zM-58 28h2v2h-2zM-18 28h2v2h-2zM-6 28h2v2h-2zM6 28h2v2h-2zM142 28h2v2h-2zM146 28h2v2h-2zM178 28h2v2h-2zM182 28h2v2h-2zM188 28h2v2h-2zM-166 30h2v2h-2zM-130 30h2v2h-2zM152 30h2v2h-2zM158 30h2v2h-2zM160 30h2v2h-2zM184 30h2v2h-2zM-166 32h2v2h-2zM-138 32h2v2h-2zM154 32h2v2h-2zM158 32h2v2h-2zM184 32h2v2h-2zM186 32h2v2h-2zM-132 34h2v2h-2zM-2 34h2v2h-2zM160 34h2v2h-2zM170 34h2v2h-2zM180 34h2v2h-2zM190 34h2v2h-2zM162 36h2v2h-2zM166 36h2v2h-2zM-8 38h2v2h-2zM-6 38h2v2h-2zM154 38h2v2h-2zM166 40h2v2h-2zM172 40h2v2h-2zM126 42h2v2h-2zM156 42h2v2h-2zM132 46h2v2h-2zM154 46h2v2h-2z"/><path fill="#74d4bd" d="M-130 -60h2v2h-2zM-104 -60h2v2h-2zM-102 -60h2v2h-2zM-38 -60h2v2h-2zM-146 -58h2v2h-2zM-46 -58h2v2h-2zM-102 -56h2v2h-2zM182 -56h2v2h-2zM-152 -54h2v2h-2zM-112 -54h2v2h-2zM30 -54h2v2h-2zM84 -54h2v2h-2zM134 -54h2v2h-2zM172 -50h2v2h-2zM-6 -46h2v2h-2zM-124 -44h2v2h-2zM-10 -44h2v2h-2zM24 -44h2v2h-2zM66 -44h2v2h-2zM-124 -42h2v2h-2zM-4 -42h2v2h-2zM20 -42h2v2h-2zM70 -42h2v2h-2zM72 -42h2v2h-2zM142 -42h2v2h-2zM-2 -40h2v2h-2zM0 -40h2v2h-2zM50 -40h2v2h-2zM106 -40h2v2h-2zM146 -40h2v2h-2zM50 -38h2v2h-2zM140 -38h2v2h-2zM142 -38h2v2h-2zM144 -38h2v2h-2zM162 -38h2v2h-2zM-162 -36h2v2h-2zM-160 -36h2v2h-2zM94 -36h2v2h-2zM106 -36h2v2h-2zM142 -36h2v2h-2zM146 -36h2v2h-2zM164 -36h2v2h-2zM-164 -34h2v2h-2zM0 -34h2v2h-2zM70 -34h2v2h-2zM106 -34h2v2h-2zM134 -34h2v2h-2zM140 -34h2v2h-2zM154 -34h2v2h-2zM190 -34h2v2h-2zM-168 -32h2v2h-2zM-166 -32h2v2h-2zM-160 -32h2v2h-2zM32 -32h2v2h-2zM46 -32h2v2h-2zM72 -32h2v2h-2zM108 -32h2v2h-2zM128 -32h2v2h-2zM132 -32h2v2h-2zM144 -32h2v2h-2zM154 -32h2v2h-2zM188 -32h2v2h-2zM-156 -30h2v2h-2zM-154 -30h2v2h-2zM14 -30h2v2h-2zM68 -30h2v2h-2zM70 -30h2v2h-2zM102 -30h2v2h-2zM106 -30h2v2h-2zM114 -30h2v2h-2zM118 -30h2v2h-2zM178 -30h2v2h-2zM190 -30h2v2h-2zM-30 -28h2v2h-2zM6 -28h2v2h-2zM10 -28h2v2h-2zM14 -28h2v2h-2zM70 -28h2v2h-2zM72 -28h2v2h-2zM74 -28h2v2h-2zM104 -28h2v2h-2zM114 -28h2v2h-2zM118 -28h2v2h-2zM176 -28h2v2h-2zM186 -28h2v2h-2zM-132 -26h2v2h-2zM14 -26h2v2h-2zM16 -26h2v2h-2zM74 -26h2v2h-2zM90 -26h2v2h-2zM94 -26h2v2h-2zM96 -26h2v2h-2zM106 -26h2v2h-2zM-120 -24h2v2h-2zM-102 -24h2v2h-2zM-36 -24h2v2h-2zM6 -24h2v2h-2zM10 -24h2v2h-2zM18 -24h2v2h-2zM36 -24h2v2h-2zM66 -24h2v2h-2zM74 -24h2v2h-2zM88 -24h2v2h-2zM98 -24h2v2h-2zM102 -24h2v2h-2zM106 -24h2v2h-2zM142 -24h2v2h-2zM186 -24h2v2h-2zM-130 -22h2v2h-2zM-114 -22h2v2h-2zM-104 -22h2v2h-2zM14 -22h2v2h-2zM70 -22h2v2h-2zM76 -22h2v2h-2zM78 -22h2v2h-2zM90 -22h2v2h-2zM96 -22h2v2h-2zM102 -22h2v2h-2zM110 -22h2v2h-2zM182 -22h2v2h-2zM188 -22h2v2h-2zM-152 -20h2v2h-2zM-150 -20h2v2h-2zM-102 -20h2v2h-2zM-100 -20h2v2h-2zM-82 -20h2v2h-2zM-54 -20h2v2h-2zM74 -20h2v2h-2zM80 -20h2v2h-2zM88 -20h2v2h-2zM100 -20h2v2h-2zM102 -20h2v2h-2zM106 -20h2v2h-2zM188 -20h2v2h-2zM-154 -18h2v2h-2zM54 -18h2v2h-2zM76 -18h2v2h-2zM104 -18h2v2h-2zM-152 -16h2v2h-2zM-142 -16h2v2h-2zM-18 -16h2v2h-2zM74 -16h2v2h-2zM78 -16h2v2h-2zM98 -16h2v2h-2zM-22 -14h2v2h-2zM80 -14h2v2h-2zM88 -14h2v2h-2zM106 -14h2v2h-2zM110 -14h2v2h-2zM112 -14h2v2h-2zM168 -14h2v2h-2zM-68 -12h2v2h-2zM-22 -12h2v2h-2zM62 -12h2v2h-2zM86 -12h2v2h-2zM118 -12h2v2h-2zM138 -12h2v2h-2zM170 -12h2v2h-2zM172 -12h2v2h-2zM182 -12h2v2h-2zM186 -12h2v2h-2zM-166 -10h2v2h-2zM-16 -10h2v2h-2zM74 -10h2v2h-2zM76 -10h2v2h-2zM78 -10h2v2h-2zM98 -10h2v2h-2zM114 -10h2v2h-2zM128 -10h2v2h-2zM140 -10h2v2h-2zM150 -10h2v2h-2zM174 -10h2v2h-2zM178 -10h2v2h-2zM186 -10h2v2h-2zM-168 -8h2v2h-2zM-108 -8h2v2h-2zM-58 -8h2v2h-2zM-42 -8h2v2h-2zM-40 -8h2v2h-2zM64 -8h2v2h-2zM80 -8h2v2h-2zM108 -8h2v2h-2zM110 -8h2v2h-2zM114 -8h2v2h-2zM136 -8h2v2h-2zM140 -8h2v2h-2zM144 -8h2v2h-2zM148 -8h2v2h-2zM150 -8h2v2h-2zM168 -8h2v2h-2zM174 -8h2v2h-2zM-156 -6h2v2h-2zM-110 -6h2v2h-2zM-40 -6h2v2h-2zM-38 -6h2v2h-2zM8 -6h2v2h-2zM90 -6h2v2h-2zM98 -6h2v2h-2zM104 -6h2v2h-2zM108 -6h2v2h-2zM110 -6h2v2h-2zM132 -6h2v2h-2zM140 -6h2v2h-2zM148 -6h2v2h-2zM152 -6h2v2h-2zM154 -6h2v2h-2zM164 -6h2v2h-2zM166 -6h2v2h-2zM-156 -4h2v2h-2zM-106 -4h2v2h-2zM-60 -4h2v2h-2zM-58 -4h2v2h-2zM-14 -4h2v2h-2zM2 -4h2v2h-2zM4 -4h2v2h-2zM18 -4h2v2h-2zM94 -4h2v2h-2zM96 -4h2v2h-2zM98 -4h2v2h-2zM104 -4h2v2h-2zM106 -4h2v2h-2zM138 -4h2v2h-2zM154 -4h2v2h-2zM162 -4h2v2h-2zM164 -4h2v2h-2zM166 -4h2v2h-2zM168 -4h2v2h-2zM-66 -2h2v2h-2zM-64 -2h2v2h-2zM-58 -2h2v2h-2zM-56 -2h2v2h-2zM-12 -2h2v2h-2zM4 -2h2v2h-2zM12 -2h2v2h-2zM22 -2h2v2h-2zM80 -2h2v2h-2zM88 -2h2v2h-2zM108 -2h2v2h-2zM136 -2h2v2h-2zM146 -2h2v2h-2zM154 -2h2v2h-2zM156 -2h2v2h-2zM162 -2h2v2h-2zM168 -2h2v2h-2zM-160 0h2v2h-2zM-158 0h2v2h-2zM-140 0h2v2h-2zM-56 0h2v2h-2zM-22 0h2v2h-2zM-20 0h2v2h-2zM-2 0h2v2h-2zM12 0h2v2h-2zM16 0h2v2h-2zM20 0h2v2h-2zM48 0h2v2h-2zM78 0h2v2h-2zM80 0h2v2h-2zM92 0h2v2h-2zM98 0h2v2h-2zM104 0h2v2h-2zM138 0h2v2h-2zM162 0h2v2h-2zM166 0h2v2h-2zM170 0h2v2h-2zM174 0h2v2h-2zM-162 2h2v2h-2zM-154 2h2v2h-2zM-148 2h2v2h-2zM-144 2h2v2h-2zM-140 2h2v2h-2zM-128 2h2v2h-2zM-68 2h2v2h-2zM-62 2h2v2h-2zM-54 2h2v2h-2zM-44 2h2v2h-2zM-22 2h2v2h-2zM-6 2h2v2h-2zM-4 2h2v2h-2zM12 2h2v2h-2zM52 2h2v2h-2zM76 2h2v2h-2zM92 2h2v2h-2zM100 2h2v2h-2zM138 2h2v2h-2zM140 2h2v2h-2zM146 2h2v2h-2zM148 2h2v2h-2zM156 2h2v2h-2zM158 2h2v2h-2zM172 2h2v2h-2zM176 2h2v2h-2zM-148 4h2v2h-2zM-136 4h2v2h-2zM-132 4h2v2h-2zM-122 4h2v2h-2zM-90 4h2v2h-2zM-88 4h2v2h-2zM-68 4h2v2h-2zM-58 4h2v2h-2zM-52 4h2v2h-2zM-46 4h2v2h-2zM-18 4h2v2h-2zM-16 4h2v2h-2zM2 4h2v2h-2zM4 4h2v2h-2zM6 4h2v2h-2zM8 4h2v2h-2zM52 4h2v2h-2zM58 4h2v2h-2zM62 4h2v2h-2zM64 4h2v2h-2zM68 4h2v2h-2zM74 4h2v2h-2zM80 4h2v2h-2zM94 4h2v2h-2zM98 4h2v2h-2zM148 4h2v2h-2zM154 4h2v2h-2zM158 4h2v2h-2zM168 4h2v2h-2zM178 4h2v2h-2zM-154 6h2v2h-2zM-146 6h2v2h-2zM-144 6h2v2h-2zM-142 6h2v2h-2zM-62 6h2v2h-2zM-20 6h2v2h-2zM-6 6h2v2h-2zM-4 6h2v2h-2zM6 6h2v2h-2zM14 6h2v2h-2zM66 6h2v2h-2zM70 6h2v2h-2zM138 6h2v2h-2zM144 6h2v2h-2zM178 6h2v2h-2zM-162 8h2v2h-2zM-138 8h2v2h-2zM-136 8h2v2h-2zM-128 8h2v2h-2zM-126 8h2v2h-2zM-68 8h2v2h-2zM-66 8h2v2h-2zM-60 8h2v2h-2zM-50 8h2v2h-2zM4 8h2v2h-2zM72 8h2v2h-2zM80 8h2v2h-2zM82 8h2v2h-2zM86 8h2v2h-2zM94 8h2v2h-2zM144 8h2v2h-2zM188 8h2v2h-2zM-162 10h2v2h-2zM-96 10h2v2h-2zM-62 10h2v2h-2zM68 10h2v2h-2zM72 10h2v2h-2zM78 10h2v2h-2zM82 10h2v2h-2zM84 10h2v2h-2zM106 10h2v2h-2zM110 10h2v2h-2zM142 10h2v2h-2zM144 10h2v2h-2zM-128 12h2v2h-2zM42 12h2v2h-2zM66 12h2v2h-2zM72 12h2v2h-2zM84 12h2v2h-2zM112 12h2v2h-2zM130 12h2v2h-2zM134 12h2v2h-2zM136 12h2v2h-2zM-98 14h2v2h-2zM-64 14h2v2h-2zM38 14h2v2h-2zM78 14h2v2h-2zM88 14h2v2h-2zM104 14h2v2h-2zM114 14h2v2h-2zM132 14h2v2h-2zM134 14h2v2h-2zM142 14h2v2h-2zM172 14h2v2h-2zM176 14h2v2h-2zM-162 16h2v2h-2zM-158 16h2v2h-2zM-134 16h2v2h-2zM-62 16h2v2h-2zM-58 16h2v2h-2zM-40 16h2v2h-2zM-6 16h2v2h-2zM40 16h2v2h-2zM106 16h2v2h-2zM114 16h2v2h-2zM134 16h2v2h-2zM182 16h2v2h-2zM-134 18h2v2h-2zM-132 18h2v2h-2zM-66 18h2v2h-2zM10 18h2v2h-2zM24 18h2v2h-2zM128 18h2v2h-2zM144 18h2v2h-2zM148 18h2v2h-2zM180 18h2v2h-2zM-162 20h2v2h-2zM-132 20h2v2h-2zM-128 20h2v2h-2zM-58 20h2v2h-2zM-56 20h2v2h-2zM-54 20h2v2h-2zM-40 20h2v2h-2zM24 20h2v2h-2zM52 20h2v2h-2zM66 20h2v2h-2zM82 20h2v2h-2zM90 20h2v2h-2zM118 20h2v2h-2zM120 20h2v2h-2zM128 20h2v2h-2zM130 20h2v2h-2zM146 20h2v2h-2zM148 20h2v2h-2zM-160 22h2v2h-2zM-134 22h2v2h-2zM-62 22h2v2h-2zM-56 22h2v2h-2zM24 22h2v2h-2zM26 22h2v2h-2zM68 22h2v2h-2zM84 22h2v2h-2zM104 22h2v2h-2zM116 22h2v2h-2zM124 22h2v2h-2zM126 22h2v2h-2zM144 22h2v2h-2zM152 22h2v2h-2zM184 22h2v2h-2zM-158 24h2v2h-2zM-124 24h2v2h-2zM-72 24h2v2h-2zM-70 24h2v2h-2zM6 24h2v2h-2zM50 24h2v2h-2zM56 24h2v2h-2zM60 24h2v2h-2zM62 24h2v2h-2zM88 24h2v2h-2zM114 24h2v2h-2zM116 24h2v2h-2zM130 24h2v2h-2zM132 24h2v2h-2zM146 24h2v2h-2zM162 24h2v2h-2zM-160 26h2v2h-2zM-156 26h2v2h-2zM-140 26h2v2h-2zM-124 26h2v2h-2zM-120 26h2v2h-2zM-58 26h2v2h-2zM-56 26h2v2h-2zM-12 26h2v2h-2zM-2 26h2v2h-2zM6 26h2v2h-2zM8 26h2v2h-2zM52 26h2v2h-2zM62 26h2v2h-2zM66 26h2v2h-2zM114 26h2v2h-2zM146 26h2v2h-2zM152 26h2v2h-2zM154 26h2v2h-2zM184 26h2v2h-2zM186 26h2v2h-2zM-152 28h2v2h-2zM-148 28h2v2h-2zM-16 28h2v2h-2zM-8 28h2v2h-2zM8 28h2v2h-2zM106 28h2v2h-2zM128 28h2v2h-2zM186 28h2v2h-2zM-134 30h2v2h-2zM-126 30h2v2h-2zM-62 30h2v2h-2zM-20 30h2v2h-2zM-16 30h2v2h-2zM6 30h2v2h-2zM12 30h2v2h-2zM36 30h2v2h-2zM182 30h2v2h-2zM-168 32h2v2h-2zM-140 32h2v2h-2zM-136 32h2v2h-2zM-124 32h2v2h-2zM-122 32h2v2h-2zM-60 32h2v2h-2zM-20 32h2v2h-2zM8 32h2v2h-2zM148 32h2v2h-2zM152 32h2v2h-2zM178 32h2v2h-2zM182 32h2v2h-2zM-134 34h2v2h-2zM-130 34h2v2h-2zM-126 34h2v2h-2zM-122 34h2v2h-2zM-120 34h2v2h-2zM154 34h2v2h-2zM156 34h2v2h-2zM174 34h2v2h-2zM154 36h2v2h-2zM156 36h2v2h-2zM158 36h2v2h-2zM126 38h2v2h-2zM128 38h2v2h-2zM162 38h2v2h-2zM168 38h2v2h-2zM180 38h2v2h-2zM-10 40h2v2h-2zM164 40h2v2h-2zM-10 42h2v2h-2zM-6 42h2v2h-2zM8 42h2v2h-2zM132 42h2v2h-2zM134 42h2v2h-2zM138 42h2v2h-2zM164 42h2v2h-2zM-66 44h2v2h-2zM128 44h2v2h-2zM132 44h2v2h-2zM-86 46h2v2h-2zM-68 46h2v2h-2zM126 46h2v2h-2zM138 46h2v2h-2zM-90 48h2v2h-2zM-88 48h2v2h-2zM-70 48h2v2h-2zM-66 50h2v2h-2zM-62 50h2v2h-2z"/><path fill="#90c9b7" d="M72 -58h2v2h-2zM60 -56h2v2h-2zM178 -56h2v2h-2zM170 -52h2v2h-2zM-82 -50h2v2h-2zM178 -36h2v2h-2zM-154 -34h2v2h-2zM130 -34h2v2h-2zM132 -34h2v2h-2zM136 -34h2v2h-2zM-8 -30h2v2h-2zM104 -30h2v2h-2zM-152 -28h2v2h-2zM18 -28h2v2h-2zM-102 -26h2v2h-2zM-18 -26h2v2h-2zM80 -24h2v2h-2zM-152 -22h2v2h-2zM-100 -22h2v2h-2zM32 -22h2v2h-2zM98 -22h2v2h-2zM-104 -20h2v2h-2zM72 -20h2v2h-2zM78 -20h2v2h-2zM104 -20h2v2h-2zM-82 -18h2v2h-2zM-78 -18h2v2h-2zM-54 -16h2v2h-2zM-150 -14h2v2h-2zM-80 -14h2v2h-2zM-56 -14h2v2h-2zM82 -14h2v2h-2zM180 -12h2v2h-2zM-152 -8h2v2h-2zM134 -8h2v2h-2zM164 -8h2v2h-2zM170 -6h2v2h-2zM174 -6h2v2h-2zM106 -2h2v2h-2zM142 -2h2v2h-2zM100 0h2v2h-2zM140 0h2v2h-2zM-160 2h2v2h-2zM-16 2h2v2h-2zM-2 2h2v2h-2zM104 2h2v2h-2zM-16 6h2v2h-2zM184 6h2v2h-2zM-92 8h2v2h-2zM-48 8h2v2h-2zM148 8h2v2h-2zM-126 10h2v2h-2zM-56 10h2v2h-2zM94 10h2v2h-2zM104 12h2v2h-2zM24 14h2v2h-2zM80 14h2v2h-2zM122 16h2v2h-2zM68 18h2v2h-2zM80 20h2v2h-2zM-66 22h2v2h-2zM-54 22h2v2h-2zM74 22h2v2h-2zM158 22h2v2h-2zM-168 24h2v2h-2zM64 24h2v2h-2zM186 24h2v2h-2zM-130 26h2v2h-2zM-122 26h2v2h-2zM102 28h2v2h-2zM-58 30h2v2h-2zM-152 32h2v2h-2zM-128 36h2v2h-2zM-146 38h2v2h-2zM-60 38h2v2h-2zM-2 38h2v2h-2zM164 38h2v2h-2zM166 38h2v2h-2zM-146 44h2v2h-2zM-92 46h2v2h-2zM134 46h2v2h-2zM-60 50h2v2h-2z"/><path fill="#b4c695" d="M-142 -40h2v2h-2zM-94 -24h2v2h-2zM-168 18h2v2h-2zM58 36h2v2h-2z"/><path fill="#bed37a" d="M-162 -58h2v2h-2zM-100 -58h2v2h-2zM-98 -58h2v2h-2zM-4 -50h2v2h-2zM-28 -40h2v2h-2zM-18 -38h2v2h-2zM-90 -32h2v2h-2zM-88 -30h2v2h-2zM-96 -28h2v2h-2zM-136 -24h2v2h-2zM-36 12h2v2h-2zM-34 12h2v2h-2zM46 26h2v2h-2zM36 28h2v2h-2zM40 30h2v2h-2zM50 32h2v2h-2zM72 32h2v2h-2zM42 34h2v2h-2zM44 34h2v2h-2zM44 36h2v2h-2zM52 36h2v2h-2zM186 40h2v2h-2zM-28 42h2v2h-2zM186 48h2v2h-2z"/><path fill="#cedf5c" d="M-154 -60h2v2h-2zM-152 -60h2v2h-2zM-160 -58h2v2h-2zM-152 -58h2v2h-2zM38 28h2v2h-2zM48 28h2v2h-2z"/><path fill="#e2ea36" d="M-84 -26h2v2h-2zM44 28h2v2h-2zM-126 50h2v2h-2zM-12 50h2v2h-2zM34 50h2v2h-2zM114 50h2v2h-2zM132 50h2v2h-2z"/><path fill="#f9f30a" d="M40 32h2v2h-2zM120 50h2v2h-2z"/><path fill="#ff0000" d="M-160 50h2v2h-2zM4 50h2v2h-2zM58 50h2v2h-2zM68 50h2v2h-2zM100 50h2v2h-2zM172 50h2v2h-2z"/><path fill="#ff4000" d="M-18 -20h2v2h-2z"/><path fill="#ff8000" d="M-82 -26h2v2h-2zM-130 50h2v2h-2zM-106 50h2v2h-2zM-70 50h2v2h-2zM26 50h2v2h-2z"/><path fill="#ffd100" d="M44 32h2v2h-2zM46 32h2v2h-2zM-116 50h2v2h-2zM-78 50h2v2h-2zM-76 50h2v2h-2zM2 50h2v2h-2zM6 50h2v2h-2zM106 50h2v2h-2zM166 50h2v2h-2z"/><path fill="#ffe600" d="M-18 -22h2v2h-2zM42 32h2v2h-2z"/>
<path fill="#fff" d="M-5.6 -35.9L-4 -40L2 -44L8 -46L14 -47L20 -44L26 -42L29 -41.5L36 -38L37 -35L36 -31L30 -29.5L20 -29L10 -32L0 -34L-5.6 -35ZM27 -41L27 -47.5L42 -47.5L42 -40.5L29 -40.8ZM9.5 -53.5L31 -53.5L31 -66.5L9.5 -66.5L9.5 -58ZM-1.5 -49.3L2 -50.5L5 -53L9 -54L9.5 -58L5 -61L-1 -61L-1.5 -57ZM-96 -50L-76 -50L-76 -66L-96 -66ZM-71 -46.5L-66 -50.5L-57.5 -51.5L-55.5 -50L-59.5 -47.3L-61 -45.5L-65 -45.8L-67 -48ZM32 -30.5L36 -30L43.6 -12.7L43.2 -11.5L38 -14L32 -25ZM47.5 -30.5L50 -31L56.8 -27.5L56.6 -26.2L56.2 -24L51 -23.5L47.5 -27ZM127.5 -34.5L129.5 -33.6L131 -34.2L136 -36.5L139.5 -38.5L140.2 -41.5L141.5 -42.5L142 -46L142 -54L135 -54L127.5 -43ZM117 -41L123 -41L126.7 -37.5L126.4 -34.4L126 -33L122 -31L121 -30.5L117 -36ZM98.5 -5.5L100.5 -6.8L99.5 -10L99.5 -14L102 -13.5L105.5 -10.5L104.8 -8.6L102.5 -6L104.3 -1.3L109.2 -0.5L110 3L116.3 3.8L118.5 5.5L116 8.5L106 7L105.5 5.8L103.8 1L100 -1.5ZM135.5 11L137 8L141 8.5L142.5 10L142 17.8L139 17.8L135.5 15ZM135 -54L143 -52L145 -55L145 -60L135 -60ZM-62 39L-60.5 40.5L-62.5 44L-65 47.5L-66.5 47L-64 42L-63 40Z"/>
<use href="#land" x="-360"/>
<use href="#land" x="0"/>
<use href="#land" x="360"/>
<use href="#ant"/>
<use href="#deco" x="0"/>
<use href="#lakes" x="0"/>
<use href="#deco" x="360"/>
<use href="#lakes" x="360"/>
</g>
<path d="M115.9 25.4V251.3M242.7 25.4V251.3M369.5 25.4V251.3M30.6 201.1H485.3M30.6 138.4H485.3M30.6 75.6H485.3" stroke="#888" stroke-width="0.6" stroke-dasharray="1 2" fill="none" opacity="0.6"/>
</g>
<rect x="30.6" y="25.4" width="454.7" height="225.9" fill="none" stroke="#333" stroke-width="1.3"/>
<path d="M39.9 251.3v-3.5M39.9 25.4v3.5M65.2 251.3v-3.5M65.2 25.4v3.5M90.6 251.3v-3.5M90.6 25.4v3.5M115.9 251.3v-5.0M115.9 25.4v5.0M141.3 251.3v-3.5M141.3 25.4v3.5M166.7 251.3v-3.5M166.7 25.4v3.5M192.0 251.3v-3.5M192.0 25.4v3.5M217.4 251.3v-3.5M217.4 25.4v3.5M242.7 251.3v-5.0M242.7 25.4v5.0M268.1 251.3v-3.5M268.1 25.4v3.5M293.5 251.3v-3.5M293.5 25.4v3.5M318.8 251.3v-3.5M318.8 25.4v3.5M344.2 251.3v-3.5M344.2 25.4v3.5M369.5 251.3v-5.0M369.5 25.4v5.0M394.9 251.3v-3.5M394.9 25.4v3.5M420.3 251.3v-3.5M420.3 25.4v3.5M445.6 251.3v-3.5M445.6 25.4v3.5M471.0 251.3v-3.5M471.0 25.4v3.5M30.6 238.8h3.5M485.3 238.8h-3.5M30.6 226.2h3.5M485.3 226.2h-3.5M30.6 213.7h3.5M485.3 213.7h-3.5M30.6 201.1h5.0M485.3 201.1h-5.0M30.6 188.6h3.5M485.3 188.6h-3.5M30.6 176.0h3.5M485.3 176.0h-3.5M30.6 163.5h3.5M485.3 163.5h-3.5M30.6 150.9h3.5M485.3 150.9h-3.5M30.6 138.4h5.0M485.3 138.4h-5.0M30.6 125.8h3.5M485.3 125.8h-3.5M30.6 113.3h3.5M485.3 113.3h-3.5M30.6 100.7h3.5M485.3 100.7h-3.5M30.6 88.2h3.5M485.3 88.2h-3.5M30.6 75.6h5.0M485.3 75.6h-5.0M30.6 63.1h3.5M485.3 63.1h-3.5M30.6 50.5h3.5M485.3 50.5h-3.5M30.6 38.0h3.5M485.3 38.0h-3.5" stroke="#333" stroke-width="1" fill="none"/>
<g font-family="'DejaVu Sans','Liberation Sans',sans-serif" font-size="9.6" fill="#222"><text x="115.9" y="264.8" text-anchor="middle">-100</text><text x="242.7" y="264.8" text-anchor="middle">0</text><text x="369.5" y="264.8" text-anchor="middle">100</text><text x="27.4" y="79.5" text-anchor="end">50</text><text x="27.4" y="142.3" text-anchor="end">0</text><text x="27.4" y="205.0" text-anchor="end">-50</text></g>
<text x="151.2" y="19.2" textLength="213.4" lengthAdjust="spacingAndGlyphs" font-family="'DejaVu Sans','Liberation Sans',sans-serif" font-size="12.8" fill="#222">VAR(SLA - RAY) - VAR(SLA - ZERO)</text>
<g clip-path="url(#c2)">
<rect x="524.9" y="27.2" width="459" height="228" fill="#fff"/>
<g transform="translate(739.04 141.20) scale(1.2800 1.2667)">
<rect x="-200" y="-60" width="420" height="120" fill="#b2b2b2"/>
<rect x="-200" y="-60" width="420" height="120" fill="url(#nz2)"/>
<path fill="#0000d8" d="M130 -24h2v2h-2zM134 -24h2v2h-2zM142 -24h2v2h-2zM150 -24h2v2h-2zM-164 -22h2v2h-2zM140 -22h2v2h-2zM154 -22h2v2h-2zM-166 -20h2v2h-2zM144 -18h2v2h-2zM94 -16h2v2h-2zM144 -16h2v2h-2zM96 -12h2v2h-2zM-44 -2h2v2h-2zM120 0h2v2h-2zM50 8h2v2h-2zM60 12h2v2h-2zM160 12h2v2h-2zM62 14h2v2h-2zM158 16h2v2h-2zM-142 22h2v2h-2zM168 32h2v2h-2zM170 32h2v2h-2z"/><path fill="#0000eb" d="M-162 -24h2v2h-2zM118 -24h2v2h-2zM152 -22h2v2h-2zM122 -20h2v2h-2zM132 -18h2v2h-2zM148 -16h2v2h-2zM92 -14h2v2h-2zM124 -4h2v2h-2zM118 -2h2v2h-2zM116 2h2v2h-2zM116 8h2v2h-2zM170 8h2v2h-2zM50 10h2v2h-2zM120 10h2v2h-2zM62 12h2v2h-2zM58 18h2v2h-2z"/><path fill="#0000ff" d="M132 -28h2v2h-2zM140 -26h2v2h-2zM142 -26h2v2h-2zM-162 -22h2v2h-2zM132 -22h2v2h-2zM136 -22h2v2h-2zM120 -20h2v2h-2zM152 -18h2v2h-2zM96 -10h2v2h-2zM-50 -6h2v2h-2zM126 2h2v2h-2zM128 4h2v2h-2zM128 10h2v2h-2zM172 10h2v2h-2zM58 12h2v2h-2zM-150 14h2v2h-2zM156 16h2v2h-2zM-150 20h2v2h-2zM164 28h2v2h-2z"/><path fill="#0015ff" d="M-166 -26h2v2h-2zM118 -22h2v2h-2zM134 -16h2v2h-2zM-162 -12h2v2h-2zM92 -10h2v2h-2zM130 -2h2v2h-2zM154 6h2v2h-2zM122 8h2v2h-2zM126 8h2v2h-2zM156 8h2v2h-2zM60 10h2v2h-2zM152 10h2v2h-2zM172 12h2v2h-2zM-140 16h2v2h-2zM166 30h2v2h-2z"/><path fill="#002bff" d="M148 -26h2v2h-2zM122 -24h2v2h-2zM156 -24h2v2h-2zM128 -22h2v2h-2zM-162 -20h2v2h-2zM-164 -18h2v2h-2zM94 -18h2v2h-2zM138 -16h2v2h-2zM-54 -8h2v2h-2zM130 0h2v2h-2zM118 8h2v2h-2zM118 10h2v2h-2zM176 12h2v2h-2zM-146 14h2v2h-2zM-142 18h2v2h-2z"/><path fill="#0040ff" d="M-80 -24h2v2h-2zM124 -24h2v2h-2zM156 -22h2v2h-2zM134 -18h2v2h-2zM140 -16h2v2h-2zM150 -16h2v2h-2zM156 -16h2v2h-2zM-158 -12h2v2h-2zM-52 -8h2v2h-2zM-48 -6h2v2h-2zM122 -6h2v2h-2zM-50 -4h2v2h-2zM116 -2h2v2h-2zM168 6h2v2h-2zM170 6h2v2h-2zM172 6h2v2h-2zM130 10h2v2h-2zM160 10h2v2h-2zM-142 12h2v2h-2zM-152 16h2v2h-2zM162 16h2v2h-2zM164 16h2v2h-2zM156 18h2v2h-2zM-150 22h2v2h-2zM-144 22h2v2h-2z"/><path fill="#0055ff" d="M148 -28h2v2h-2zM156 -28h2v2h-2zM136 -26h2v2h-2zM154 -24h2v2h-2zM158 -24h2v2h-2zM122 -22h2v2h-2zM156 -18h2v2h-2zM140 -14h2v2h-2zM142 -14h2v2h-2zM144 -14h2v2h-2zM94 -10h2v2h-2zM126 -6h2v2h-2zM176 6h2v2h-2zM58 10h2v2h-2zM150 10h2v2h-2zM-146 12h2v2h-2zM170 12h2v2h-2zM-140 14h2v2h-2zM56 18h2v2h-2zM-154 20h2v2h-2zM168 22h2v2h-2z"/><path fill="#006bff" d="M156 -30h2v2h-2zM134 -28h2v2h-2zM140 -28h2v2h-2zM152 -28h2v2h-2zM-160 -26h2v2h-2zM156 -26h2v2h-2zM146 -24h2v2h-2zM130 -22h2v2h-2zM118 -18h2v2h-2zM96 -14h2v2h-2zM-160 -10h2v2h-2zM-158 -10h2v2h-2zM-44 -4h2v2h-2zM116 -4h2v2h-2zM-42 -2h2v2h-2zM132 2h2v2h-2zM130 6h2v2h-2zM130 8h2v2h-2zM150 8h2v2h-2zM122 10h2v2h-2zM156 10h2v2h-2zM56 12h2v2h-2zM160 14h2v2h-2zM-146 16h2v2h-2zM-142 16h2v2h-2zM154 16h2v2h-2zM60 20h2v2h-2zM-18 24h2v2h-2zM168 24h2v2h-2z"/><path fill="#0080ff" d="M-164 -28h2v2h-2zM142 -28h2v2h-2zM144 -28h2v2h-2zM146 -28h2v2h-2zM154 -26h2v2h-2zM160 -26h2v2h-2zM124 -22h2v2h-2zM142 -22h2v2h-2zM-160 -20h2v2h-2zM124 -20h2v2h-2zM134 -20h2v2h-2zM96 -16h2v2h-2zM130 -16h2v2h-2zM136 -16h2v2h-2zM146 -16h2v2h-2zM150 -14h2v2h-2zM-162 -10h2v2h-2zM124 -8h2v2h-2zM132 -2h2v2h-2zM-44 0h2v2h-2zM132 0h2v2h-2zM132 6h2v2h-2zM150 6h2v2h-2zM52 8h2v2h-2zM-148 10h2v2h-2zM56 10h2v2h-2zM154 12h2v2h-2zM164 12h2v2h-2zM-152 14h2v2h-2zM56 14h2v2h-2zM-138 18h2v2h-2zM166 18h2v2h-2zM-152 20h2v2h-2zM166 20h2v2h-2zM-20 24h2v2h-2zM166 24h2v2h-2z"/><path fill="#0095ff" d="M154 -30h2v2h-2zM-166 -28h2v2h-2zM160 -28h2v2h-2zM-168 -26h2v2h-2zM-162 -26h2v2h-2zM-80 -26h2v2h-2zM134 -26h2v2h-2zM126 -24h2v2h-2zM138 -20h2v2h-2zM-168 -18h2v2h-2zM-162 -18h2v2h-2zM120 -18h2v2h-2zM-162 -16h2v2h-2zM-160 -16h2v2h-2zM-158 -16h2v2h-2zM-58 -16h2v2h-2zM-164 -14h2v2h-2zM-162 -14h2v2h-2zM-158 -14h2v2h-2zM-156 -14h2v2h-2zM-164 -12h2v2h-2zM90 -12h2v2h-2zM126 -8h2v2h-2zM120 -6h2v2h-2zM130 -6h2v2h-2zM-52 -4h2v2h-2zM118 -4h2v2h-2zM114 0h2v2h-2zM178 4h2v2h-2zM44 10h2v2h-2zM162 10h2v2h-2zM46 12h2v2h-2zM48 12h2v2h-2zM122 12h2v2h-2zM128 12h2v2h-2zM-154 14h2v2h-2zM176 14h2v2h-2zM62 18h2v2h-2zM58 20h2v2h-2zM158 22h2v2h-2zM160 22h2v2h-2zM-144 24h2v2h-2zM158 24h2v2h-2z"/><path fill="#00aaff" d="M118 -26h2v2h-2zM158 -26h2v2h-2zM128 -24h2v2h-2zM162 -24h2v2h-2zM-160 -22h2v2h-2zM116 -22h2v2h-2zM94 -20h2v2h-2zM132 -20h2v2h-2zM154 -20h2v2h-2zM170 -20h2v2h-2zM-160 -18h2v2h-2zM-158 -18h2v2h-2zM96 -18h2v2h-2zM122 -18h2v2h-2zM158 -18h2v2h-2zM-166 -16h2v2h-2zM154 -16h2v2h-2zM-56 -14h2v2h-2zM148 -14h2v2h-2zM-60 -12h2v2h-2zM98 -12h2v2h-2zM124 -10h2v2h-2zM94 -8h2v2h-2zM128 -8h2v2h-2zM118 -6h2v2h-2zM132 -4h2v2h-2zM130 2h2v2h-2zM112 4h2v2h-2zM136 4h2v2h-2zM44 8h2v2h-2zM128 8h2v2h-2zM132 8h2v2h-2zM-150 10h2v2h-2zM62 10h2v2h-2zM158 10h2v2h-2zM-140 12h2v2h-2zM-138 14h2v2h-2zM52 14h2v2h-2zM170 14h2v2h-2zM-154 16h2v2h-2zM52 16h2v2h-2zM160 16h2v2h-2zM162 18h2v2h-2zM62 20h2v2h-2zM158 20h2v2h-2zM164 22h2v2h-2zM-150 24h2v2h-2zM170 24h2v2h-2zM166 26h2v2h-2zM164 30h2v2h-2zM166 32h2v2h-2z"/><path fill="#00bfff" d="M130 -30h2v2h-2zM126 -28h2v2h-2zM180 -28h2v2h-2zM184 -28h2v2h-2zM186 -28h2v2h-2zM-78 -26h2v2h-2zM122 -26h2v2h-2zM164 -26h2v2h-2zM180 -26h2v2h-2zM182 -26h2v2h-2zM184 -26h2v2h-2zM168 -24h2v2h-2zM180 -24h2v2h-2zM-78 -22h2v2h-2zM-76 -22h2v2h-2zM134 -22h2v2h-2zM146 -22h2v2h-2zM160 -22h2v2h-2zM170 -22h2v2h-2zM174 -22h2v2h-2zM-158 -20h2v2h-2zM92 -20h2v2h-2zM126 -20h2v2h-2zM152 -20h2v2h-2zM-166 -18h2v2h-2zM162 -18h2v2h-2zM126 -16h2v2h-2zM124 -14h2v2h-2zM128 -14h2v2h-2zM134 -14h2v2h-2zM156 -14h2v2h-2zM-54 -12h2v2h-2zM-20 -12h2v2h-2zM134 -12h2v2h-2zM138 -12h2v2h-2zM122 -10h2v2h-2zM-50 -8h2v2h-2zM-48 -8h2v2h-2zM118 -8h2v2h-2zM-44 -6h2v2h-2zM112 -2h2v2h-2zM126 0h2v2h-2zM156 4h2v2h-2zM170 4h2v2h-2zM48 6h2v2h-2zM158 6h2v2h-2zM160 6h2v2h-2zM52 10h2v2h-2zM116 10h2v2h-2zM126 10h2v2h-2zM164 10h2v2h-2zM-152 12h2v2h-2zM-156 14h2v2h-2zM120 14h2v2h-2zM162 14h2v2h-2zM168 14h2v2h-2zM152 16h2v2h-2zM176 16h2v2h-2zM-156 18h2v2h-2zM50 18h2v2h-2zM52 18h2v2h-2zM54 18h2v2h-2zM64 18h2v2h-2zM158 18h2v2h-2zM-156 20h2v2h-2zM-138 20h2v2h-2zM56 20h2v2h-2zM164 20h2v2h-2zM62 22h2v2h-2zM-140 24h2v2h-2zM-18 26h2v2h-2zM160 26h2v2h-2zM158 28h2v2h-2zM172 28h2v2h-2zM-8 34h2v2h-2zM-6 36h2v2h-2z"/><path fill="#00d4ff" d="M-164 -30h2v2h-2zM-162 -30h2v2h-2zM138 -30h2v2h-2zM146 -30h2v2h-2zM186 -30h2v2h-2zM-162 -28h2v2h-2zM136 -28h2v2h-2zM164 -28h2v2h-2zM182 -28h2v2h-2zM124 -26h2v2h-2zM174 -26h2v2h-2zM178 -26h2v2h-2zM-166 -24h2v2h-2zM-30 -24h2v2h-2zM116 -24h2v2h-2zM178 -24h2v2h-2zM-156 -20h2v2h-2zM160 -20h2v2h-2zM90 -18h2v2h-2zM154 -18h2v2h-2zM160 -18h2v2h-2zM168 -18h2v2h-2zM172 -18h2v2h-2zM-156 -16h2v2h-2zM92 -16h2v2h-2zM120 -16h2v2h-2zM122 -16h2v2h-2zM160 -16h2v2h-2zM164 -16h2v2h-2zM-20 -14h2v2h-2zM90 -14h2v2h-2zM138 -14h2v2h-2zM152 -14h2v2h-2zM158 -14h2v2h-2zM-62 -12h2v2h-2zM92 -12h2v2h-2zM122 -12h2v2h-2zM140 -12h2v2h-2zM90 -10h2v2h-2zM120 -10h2v2h-2zM134 -10h2v2h-2zM-162 -8h2v2h-2zM136 -8h2v2h-2zM-54 -6h2v2h-2zM116 -6h2v2h-2zM-42 -4h2v2h-2zM-52 -2h2v2h-2zM-48 0h2v2h-2zM-46 0h2v2h-2zM114 4h2v2h-2zM134 4h2v2h-2zM162 6h2v2h-2zM178 6h2v2h-2zM54 8h2v2h-2zM60 8h2v2h-2zM114 8h2v2h-2zM162 8h2v2h-2zM172 8h2v2h-2zM-146 10h2v2h-2zM54 10h2v2h-2zM166 10h2v2h-2zM-150 12h2v2h-2zM-148 12h2v2h-2zM-138 12h2v2h-2zM50 12h2v2h-2zM54 12h2v2h-2zM64 12h2v2h-2zM162 12h2v2h-2zM168 12h2v2h-2zM-36 14h2v2h-2zM54 14h2v2h-2zM124 14h2v2h-2zM126 14h2v2h-2zM154 14h2v2h-2zM156 14h2v2h-2zM164 14h2v2h-2zM-136 18h2v2h-2zM-38 18h2v2h-2zM174 18h2v2h-2zM168 20h2v2h-2zM172 20h2v2h-2zM176 20h2v2h-2zM-138 22h2v2h-2zM174 22h2v2h-2zM-142 24h2v2h-2zM112 24h2v2h-2zM156 24h2v2h-2zM172 24h2v2h-2zM-24 26h2v2h-2zM174 26h2v2h-2zM-10 32h2v2h-2zM-12 36h2v2h-2z"/><path fill="#00e8ff" d="M88 -42h2v2h-2zM-166 -30h2v2h-2zM158 -30h2v2h-2zM160 -30h2v2h-2zM122 -28h2v2h-2zM128 -28h2v2h-2zM176 -28h2v2h-2zM188 -28h2v2h-2zM-158 -26h2v2h-2zM-34 -26h2v2h-2zM126 -26h2v2h-2zM166 -26h2v2h-2zM176 -26h2v2h-2zM190 -26h2v2h-2zM-168 -24h2v2h-2zM-158 -24h2v2h-2zM166 -24h2v2h-2zM-156 -22h2v2h-2zM120 -22h2v2h-2zM162 -22h2v2h-2zM166 -22h2v2h-2zM178 -22h2v2h-2zM-168 -20h2v2h-2zM-154 -20h2v2h-2zM80 -20h2v2h-2zM166 -20h2v2h-2zM180 -20h2v2h-2zM-156 -18h2v2h-2zM126 -18h2v2h-2zM164 -18h2v2h-2zM166 -18h2v2h-2zM-168 -16h2v2h-2zM118 -16h2v2h-2zM142 -16h2v2h-2zM158 -16h2v2h-2zM166 -16h2v2h-2zM-168 -14h2v2h-2zM-54 -14h2v2h-2zM116 -14h2v2h-2zM130 -14h2v2h-2zM166 -14h2v2h-2zM-166 -12h2v2h-2zM-156 -12h2v2h-2zM-56 -12h2v2h-2zM120 -12h2v2h-2zM132 -12h2v2h-2zM146 -12h2v2h-2zM152 -12h2v2h-2zM158 -12h2v2h-2zM160 -12h2v2h-2zM-164 -10h2v2h-2zM126 -10h2v2h-2zM-156 -8h2v2h-2zM130 -8h2v2h-2zM132 -8h2v2h-2zM128 -6h2v2h-2zM114 -4h2v2h-2zM136 -4h2v2h-2zM-50 -2h2v2h-2zM114 -2h2v2h-2zM116 0h2v2h-2zM134 0h2v2h-2zM170 2h2v2h-2zM172 2h2v2h-2zM116 4h2v2h-2zM132 4h2v2h-2zM158 4h2v2h-2zM168 4h2v2h-2zM176 4h2v2h-2zM180 4h2v2h-2zM134 6h2v2h-2zM-150 8h2v2h-2zM-142 8h2v2h-2zM134 8h2v2h-2zM164 8h2v2h-2zM166 8h2v2h-2zM-152 10h2v2h-2zM114 10h2v2h-2zM134 10h2v2h-2zM176 10h2v2h-2zM-154 12h2v2h-2zM-62 12h2v2h-2zM-64 14h2v2h-2zM-60 14h2v2h-2zM50 14h2v2h-2zM64 14h2v2h-2zM128 14h2v2h-2zM174 14h2v2h-2zM-156 16h2v2h-2zM-136 16h2v2h-2zM54 16h2v2h-2zM56 16h2v2h-2zM60 16h2v2h-2zM168 16h2v2h-2zM-140 18h2v2h-2zM168 18h2v2h-2zM176 18h2v2h-2zM-36 20h2v2h-2zM154 20h2v2h-2zM174 20h2v2h-2zM-154 22h2v2h-2zM-24 22h2v2h-2zM58 22h2v2h-2zM60 22h2v2h-2zM176 22h2v2h-2zM-146 24h2v2h-2zM-136 24h2v2h-2zM-22 24h2v2h-2zM162 24h2v2h-2zM-134 26h2v2h-2zM-22 26h2v2h-2zM112 26h2v2h-2zM162 26h2v2h-2zM172 26h2v2h-2zM-138 28h2v2h-2zM-130 30h2v2h-2zM136 30h2v2h-2zM140 30h2v2h-2zM-30 32h2v2h-2zM-6 34h2v2h-2zM166 34h2v2h-2z"/><path fill="#0101c3" d="M128 -26h2v2h-2zM138 -26h2v2h-2zM146 -26h2v2h-2zM150 -20h2v2h-2zM124 -6h2v2h-2zM122 -4h2v2h-2zM116 6h2v2h-2zM120 6h2v2h-2zM62 16h2v2h-2zM-154 18h2v2h-2zM-140 20h2v2h-2zM162 20h2v2h-2z"/><path fill="#0404ac" d="M130 -28h2v2h-2zM146 -18h2v2h-2zM150 -18h2v2h-2zM128 -4h2v2h-2zM122 6h2v2h-2zM48 8h2v2h-2zM-148 16h2v2h-2zM-150 18h2v2h-2zM-148 20h2v2h-2zM-146 20h2v2h-2zM162 22h2v2h-2z"/><path fill="#070794" d="M136 -24h2v2h-2zM-168 -22h2v2h-2zM-164 -20h2v2h-2zM148 -18h2v2h-2zM-52 -6h2v2h-2zM122 0h2v2h-2zM124 0h2v2h-2zM154 8h2v2h-2zM60 14h2v2h-2zM60 18h2v2h-2z"/><path fill="#0a0a7d" d="M-164 -26h2v2h-2zM130 -26h2v2h-2zM132 -26h2v2h-2zM150 -26h2v2h-2zM152 -26h2v2h-2zM-164 -24h2v2h-2zM-78 -24h2v2h-2zM120 -24h2v2h-2zM138 -24h2v2h-2zM140 -24h2v2h-2zM144 -24h2v2h-2zM148 -24h2v2h-2zM152 -24h2v2h-2zM-166 -22h2v2h-2zM138 -22h2v2h-2zM144 -22h2v2h-2zM148 -22h2v2h-2zM150 -22h2v2h-2zM136 -20h2v2h-2zM140 -20h2v2h-2zM142 -20h2v2h-2zM144 -20h2v2h-2zM146 -20h2v2h-2zM148 -20h2v2h-2zM138 -18h2v2h-2zM140 -18h2v2h-2zM142 -18h2v2h-2zM94 -14h2v2h-2zM94 -12h2v2h-2zM-48 -4h2v2h-2zM-46 -4h2v2h-2zM126 -4h2v2h-2zM-48 -2h2v2h-2zM-46 -2h2v2h-2zM120 -2h2v2h-2zM122 -2h2v2h-2zM124 -2h2v2h-2zM126 -2h2v2h-2zM128 -2h2v2h-2zM118 0h2v2h-2zM128 0h2v2h-2zM120 2h2v2h-2zM122 2h2v2h-2zM124 2h2v2h-2zM118 4h2v2h-2zM122 4h2v2h-2zM124 4h2v2h-2zM126 4h2v2h-2zM118 6h2v2h-2zM126 6h2v2h-2zM128 6h2v2h-2zM46 8h2v2h-2zM120 8h2v2h-2zM124 8h2v2h-2zM46 10h2v2h-2zM48 10h2v2h-2zM124 10h2v2h-2zM170 10h2v2h-2zM156 12h2v2h-2zM158 12h2v2h-2zM-148 14h2v2h-2zM58 14h2v2h-2zM-150 16h2v2h-2zM58 16h2v2h-2zM-152 18h2v2h-2zM-146 18h2v2h-2zM160 18h2v2h-2zM164 18h2v2h-2zM166 22h2v2h-2zM164 24h2v2h-2zM166 28h2v2h-2zM168 28h2v2h-2zM168 30h2v2h-2z"/><path fill="#0bf4f7" d="M82 -60h2v2h-2zM80 -58h2v2h-2zM-160 -32h2v2h-2zM122 -32h2v2h-2zM154 -32h2v2h-2zM158 -32h2v2h-2zM160 -32h2v2h-2zM178 -32h2v2h-2zM186 -32h2v2h-2zM140 -30h2v2h-2zM142 -30h2v2h-2zM150 -30h2v2h-2zM152 -30h2v2h-2zM176 -30h2v2h-2zM-156 -28h2v2h-2zM120 -28h2v2h-2zM124 -28h2v2h-2zM138 -28h2v2h-2zM-156 -26h2v2h-2zM168 -26h2v2h-2zM172 -26h2v2h-2zM188 -26h2v2h-2zM-156 -24h2v2h-2zM-74 -24h2v2h-2zM132 -24h2v2h-2zM172 -24h2v2h-2zM184 -24h2v2h-2zM186 -24h2v2h-2zM188 -24h2v2h-2zM-158 -22h2v2h-2zM-80 -22h2v2h-2zM-74 -22h2v2h-2zM-30 -22h2v2h-2zM92 -22h2v2h-2zM126 -22h2v2h-2zM176 -22h2v2h-2zM180 -22h2v2h-2zM182 -22h2v2h-2zM184 -22h2v2h-2zM186 -22h2v2h-2zM188 -22h2v2h-2zM96 -20h2v2h-2zM114 -20h2v2h-2zM156 -20h2v2h-2zM168 -20h2v2h-2zM176 -20h2v2h-2zM-60 -18h2v2h-2zM130 -18h2v2h-2zM174 -18h2v2h-2zM178 -18h2v2h-2zM124 -16h2v2h-2zM128 -16h2v2h-2zM152 -16h2v2h-2zM170 -16h2v2h-2zM-62 -14h2v2h-2zM-58 -14h2v2h-2zM122 -14h2v2h-2zM162 -14h2v2h-2zM126 -12h2v2h-2zM128 -12h2v2h-2zM130 -12h2v2h-2zM142 -12h2v2h-2zM148 -12h2v2h-2zM154 -12h2v2h-2zM162 -12h2v2h-2zM164 -12h2v2h-2zM166 -12h2v2h-2zM-136 -10h2v2h-2zM-58 -10h2v2h-2zM-56 -10h2v2h-2zM-52 -10h2v2h-2zM88 -10h2v2h-2zM118 -10h2v2h-2zM128 -10h2v2h-2zM130 -10h2v2h-2zM132 -10h2v2h-2zM146 -10h2v2h-2zM152 -10h2v2h-2zM162 -10h2v2h-2zM-158 -8h2v2h-2zM90 -8h2v2h-2zM92 -8h2v2h-2zM120 -8h2v2h-2zM122 -8h2v2h-2zM134 -8h2v2h-2zM-162 -6h2v2h-2zM-158 -6h2v2h-2zM114 -6h2v2h-2zM132 -6h2v2h-2zM134 -6h2v2h-2zM-54 -4h2v2h-2zM112 -4h2v2h-2zM-50 0h2v2h-2zM-42 0h2v2h-2zM74 2h2v2h-2zM112 2h2v2h-2zM118 2h2v2h-2zM128 2h2v2h-2zM160 4h2v2h-2zM172 4h2v2h-2zM182 4h2v2h-2zM46 6h2v2h-2zM124 6h2v2h-2zM136 6h2v2h-2zM156 6h2v2h-2zM-138 8h2v2h-2zM-100 8h2v2h-2zM56 8h2v2h-2zM58 8h2v2h-2zM148 8h2v2h-2zM174 8h2v2h-2zM-154 10h2v2h-2zM-138 10h2v2h-2zM-100 10h2v2h-2zM-156 12h2v2h-2zM44 12h2v2h-2zM52 12h2v2h-2zM116 12h2v2h-2zM130 12h2v2h-2zM152 12h2v2h-2zM-38 14h2v2h-2zM116 14h2v2h-2zM122 14h2v2h-2zM-158 16h2v2h-2zM-64 16h2v2h-2zM46 16h2v2h-2zM48 16h2v2h-2zM64 16h2v2h-2zM66 16h2v2h-2zM166 16h2v2h-2zM170 16h2v2h-2zM172 16h2v2h-2zM-144 18h2v2h-2zM-134 18h2v2h-2zM-66 18h2v2h-2zM-36 18h2v2h-2zM48 18h2v2h-2zM170 18h2v2h-2zM172 18h2v2h-2zM-18 20h2v2h-2zM-140 22h2v2h-2zM-16 22h2v2h-2zM56 22h2v2h-2zM-152 24h2v2h-2zM-148 24h2v2h-2zM116 24h2v2h-2zM-148 26h2v2h-2zM-142 26h2v2h-2zM-128 26h2v2h-2zM-100 26h2v2h-2zM120 26h2v2h-2zM158 26h2v2h-2zM-140 28h2v2h-2zM138 28h2v2h-2zM154 28h2v2h-2zM-8 30h2v2h-2zM158 30h2v2h-2zM160 30h2v2h-2zM162 30h2v2h-2zM170 30h2v2h-2zM172 30h2v2h-2zM174 30h2v2h-2zM-130 32h2v2h-2zM-128 32h2v2h-2zM-6 32h2v2h-2zM136 32h2v2h-2zM160 32h2v2h-2zM172 32h2v2h-2zM-34 34h2v2h-2zM-32 34h2v2h-2zM-14 34h2v2h-2zM-14 36h2v2h-2zM170 36h2v2h-2z"/><path fill="#27f0e2" d="M80 -60h2v2h-2zM84 -60h2v2h-2zM-54 -58h2v2h-2zM10 -54h2v2h-2zM120 -34h2v2h-2zM124 -34h2v2h-2zM154 -34h2v2h-2zM156 -34h2v2h-2zM120 -32h2v2h-2zM126 -32h2v2h-2zM144 -32h2v2h-2zM152 -32h2v2h-2zM180 -32h2v2h-2zM190 -32h2v2h-2zM-160 -30h2v2h-2zM120 -30h2v2h-2zM132 -30h2v2h-2zM136 -30h2v2h-2zM168 -30h2v2h-2zM172 -30h2v2h-2zM178 -30h2v2h-2zM180 -30h2v2h-2zM-168 -28h2v2h-2zM90 -28h2v2h-2zM118 -28h2v2h-2zM150 -28h2v2h-2zM154 -28h2v2h-2zM166 -28h2v2h-2zM168 -28h2v2h-2zM172 -28h2v2h-2zM174 -28h2v2h-2zM178 -28h2v2h-2zM-152 -26h2v2h-2zM116 -26h2v2h-2zM186 -26h2v2h-2zM-82 -24h2v2h-2zM114 -24h2v2h-2zM182 -24h2v2h-2zM-154 -22h2v2h-2zM90 -22h2v2h-2zM94 -22h2v2h-2zM96 -22h2v2h-2zM108 -22h2v2h-2zM110 -22h2v2h-2zM114 -22h2v2h-2zM164 -22h2v2h-2zM190 -22h2v2h-2zM-28 -20h2v2h-2zM110 -20h2v2h-2zM118 -20h2v2h-2zM128 -20h2v2h-2zM-66 -18h2v2h-2zM-64 -18h2v2h-2zM110 -18h2v2h-2zM114 -18h2v2h-2zM124 -18h2v2h-2zM170 -18h2v2h-2zM176 -18h2v2h-2zM184 -18h2v2h-2zM-154 -16h2v2h-2zM110 -16h2v2h-2zM116 -16h2v2h-2zM132 -16h2v2h-2zM172 -16h2v2h-2zM180 -16h2v2h-2zM-166 -14h2v2h-2zM-154 -14h2v2h-2zM-152 -14h2v2h-2zM-136 -14h2v2h-2zM-84 -14h2v2h-2zM48 -14h2v2h-2zM78 -14h2v2h-2zM80 -14h2v2h-2zM98 -14h2v2h-2zM118 -14h2v2h-2zM132 -14h2v2h-2zM168 -14h2v2h-2zM186 -14h2v2h-2zM190 -14h2v2h-2zM-154 -12h2v2h-2zM-58 -12h2v2h-2zM118 -12h2v2h-2zM124 -12h2v2h-2zM136 -12h2v2h-2zM150 -12h2v2h-2zM156 -12h2v2h-2zM174 -12h2v2h-2zM190 -12h2v2h-2zM-168 -10h2v2h-2zM-154 -10h2v2h-2zM-54 -10h2v2h-2zM140 -10h2v2h-2zM150 -10h2v2h-2zM154 -10h2v2h-2zM156 -10h2v2h-2zM-164 -8h2v2h-2zM-160 -8h2v2h-2zM-154 -8h2v2h-2zM-136 -8h2v2h-2zM-46 -8h2v2h-2zM110 -8h2v2h-2zM116 -8h2v2h-2zM166 -8h2v2h-2zM176 -8h2v2h-2zM92 -6h2v2h-2zM112 -6h2v2h-2zM120 -4h2v2h-2zM134 -4h2v2h-2zM72 -2h2v2h-2zM134 -2h2v2h-2zM62 0h2v2h-2zM72 0h2v2h-2zM78 0h2v2h-2zM110 0h2v2h-2zM112 0h2v2h-2zM114 2h2v2h-2zM160 2h2v2h-2zM162 2h2v2h-2zM166 2h2v2h-2zM50 4h2v2h-2zM58 4h2v2h-2zM72 4h2v2h-2zM138 4h2v2h-2zM154 4h2v2h-2zM164 4h2v2h-2zM-148 6h2v2h-2zM-98 6h2v2h-2zM-96 6h2v2h-2zM52 6h2v2h-2zM58 6h2v2h-2zM62 6h2v2h-2zM114 6h2v2h-2zM164 6h2v2h-2zM-156 8h2v2h-2zM-154 8h2v2h-2zM-148 8h2v2h-2zM-96 8h2v2h-2zM64 8h2v2h-2zM152 8h2v2h-2zM158 8h2v2h-2zM160 8h2v2h-2zM168 8h2v2h-2zM186 8h2v2h-2zM-158 10h2v2h-2zM-142 10h2v2h-2zM-64 10h2v2h-2zM-62 10h2v2h-2zM182 10h2v2h-2zM-136 12h2v2h-2zM-98 12h2v2h-2zM-66 12h2v2h-2zM120 12h2v2h-2zM126 12h2v2h-2zM166 12h2v2h-2zM174 12h2v2h-2zM-158 14h2v2h-2zM-144 14h2v2h-2zM-142 14h2v2h-2zM-136 14h2v2h-2zM-58 14h2v2h-2zM-56 14h2v2h-2zM44 14h2v2h-2zM46 14h2v2h-2zM118 14h2v2h-2zM158 14h2v2h-2zM166 14h2v2h-2zM182 14h2v2h-2zM-62 16h2v2h-2zM-38 16h2v2h-2zM50 16h2v2h-2zM116 16h2v2h-2zM120 16h2v2h-2zM150 16h2v2h-2zM174 16h2v2h-2zM180 16h2v2h-2zM-148 18h2v2h-2zM152 18h2v2h-2zM182 18h2v2h-2zM-144 20h2v2h-2zM-136 20h2v2h-2zM-64 20h2v2h-2zM46 20h2v2h-2zM50 20h2v2h-2zM54 20h2v2h-2zM160 20h2v2h-2zM180 20h2v2h-2zM182 20h2v2h-2zM-146 22h2v2h-2zM-14 22h2v2h-2zM50 22h2v2h-2zM80 22h2v2h-2zM114 22h2v2h-2zM156 22h2v2h-2zM178 22h2v2h-2zM-154 24h2v2h-2zM60 24h2v2h-2zM108 24h2v2h-2zM176 24h2v2h-2zM-130 26h2v2h-2zM62 26h2v2h-2zM156 26h2v2h-2zM170 26h2v2h-2zM-22 28h2v2h-2zM152 28h2v2h-2zM-134 30h2v2h-2zM-132 30h2v2h-2zM-6 30h2v2h-2zM-4 30h2v2h-2zM138 30h2v2h-2zM178 30h2v2h-2zM-132 32h2v2h-2zM-12 32h2v2h-2zM158 32h2v2h-2zM162 32h2v2h-2zM174 32h2v2h-2zM-104 34h2v2h-2zM-12 34h2v2h-2zM-4 34h2v2h-2zM14 34h2v2h-2zM162 34h2v2h-2zM164 34h2v2h-2z"/><path fill="#4ee2ce" d="M-22 -60h2v2h-2zM-18 -60h2v2h-2zM86 -60h2v2h-2zM-84 -58h2v2h-2zM-50 -58h2v2h-2zM-52 -56h2v2h-2zM80 -56h2v2h-2zM82 -56h2v2h-2zM-134 -50h2v2h-2zM-76 -44h2v2h-2zM-36 -44h2v2h-2zM86 -44h2v2h-2zM84 -42h2v2h-2zM-164 -38h2v2h-2zM20 -38h2v2h-2zM-162 -36h2v2h-2zM16 -36h2v2h-2zM70 -36h2v2h-2zM108 -36h2v2h-2zM110 -36h2v2h-2zM16 -34h2v2h-2zM122 -34h2v2h-2zM150 -34h2v2h-2zM152 -34h2v2h-2zM164 -34h2v2h-2zM132 -32h2v2h-2zM150 -32h2v2h-2zM164 -32h2v2h-2zM184 -32h2v2h-2zM92 -30h2v2h-2zM126 -30h2v2h-2zM144 -30h2v2h-2zM162 -30h2v2h-2zM166 -30h2v2h-2zM170 -30h2v2h-2zM174 -30h2v2h-2zM182 -30h2v2h-2zM184 -30h2v2h-2zM188 -30h2v2h-2zM-158 -28h2v2h-2zM-154 -28h2v2h-2zM162 -28h2v2h-2zM170 -28h2v2h-2zM190 -28h2v2h-2zM-154 -26h2v2h-2zM-76 -26h2v2h-2zM-30 -26h2v2h-2zM-154 -24h2v2h-2zM-76 -24h2v2h-2zM66 -24h2v2h-2zM90 -24h2v2h-2zM92 -24h2v2h-2zM94 -24h2v2h-2zM96 -24h2v2h-2zM112 -24h2v2h-2zM190 -24h2v2h-2zM-152 -22h2v2h-2zM34 -22h2v2h-2zM36 -22h2v2h-2zM38 -22h2v2h-2zM78 -22h2v2h-2zM104 -22h2v2h-2zM-78 -20h2v2h-2zM-66 -20h2v2h-2zM-36 -20h2v2h-2zM78 -20h2v2h-2zM88 -20h2v2h-2zM100 -20h2v2h-2zM106 -20h2v2h-2zM158 -20h2v2h-2zM184 -20h2v2h-2zM188 -20h2v2h-2zM190 -20h2v2h-2zM-152 -18h2v2h-2zM-68 -18h2v2h-2zM80 -18h2v2h-2zM128 -18h2v2h-2zM180 -18h2v2h-2zM-152 -16h2v2h-2zM38 -16h2v2h-2zM82 -16h2v2h-2zM114 -16h2v2h-2zM168 -16h2v2h-2zM176 -16h2v2h-2zM186 -16h2v2h-2zM188 -16h2v2h-2zM-138 -14h2v2h-2zM-134 -14h2v2h-2zM-88 -14h2v2h-2zM114 -14h2v2h-2zM126 -14h2v2h-2zM136 -14h2v2h-2zM154 -14h2v2h-2zM176 -14h2v2h-2zM178 -14h2v2h-2zM-152 -12h2v2h-2zM-140 -12h2v2h-2zM-82 -12h2v2h-2zM82 -12h2v2h-2zM100 -12h2v2h-2zM114 -12h2v2h-2zM116 -12h2v2h-2zM170 -12h2v2h-2zM172 -12h2v2h-2zM176 -12h2v2h-2zM178 -12h2v2h-2zM180 -12h2v2h-2zM-138 -10h2v2h-2zM38 -10h2v2h-2zM148 -10h2v2h-2zM160 -10h2v2h-2zM174 -10h2v2h-2zM-166 -8h2v2h-2zM-132 -8h2v2h-2zM-130 -8h2v2h-2zM36 -8h2v2h-2zM44 -8h2v2h-2zM96 -8h2v2h-2zM112 -8h2v2h-2zM138 -8h2v2h-2zM160 -8h2v2h-2zM174 -8h2v2h-2zM-166 -6h2v2h-2zM-42 -6h2v2h-2zM40 -6h2v2h-2zM42 -6h2v2h-2zM90 -6h2v2h-2zM96 -6h2v2h-2zM98 -6h2v2h-2zM136 -6h2v2h-2zM156 -6h2v2h-2zM-164 -4h2v2h-2zM-162 -4h2v2h-2zM-156 -4h2v2h-2zM-40 -4h2v2h-2zM94 -4h2v2h-2zM110 -4h2v2h-2zM138 -4h2v2h-2zM166 -4h2v2h-2zM172 -4h2v2h-2zM168 -2h2v2h-2zM94 0h2v2h-2zM136 0h2v2h-2zM158 0h2v2h-2zM164 0h2v2h-2zM166 0h2v2h-2zM170 0h2v2h-2zM174 0h2v2h-2zM56 2h2v2h-2zM62 2h2v2h-2zM70 2h2v2h-2zM72 2h2v2h-2zM76 2h2v2h-2zM78 2h2v2h-2zM82 2h2v2h-2zM110 2h2v2h-2zM140 2h2v2h-2zM152 2h2v2h-2zM174 2h2v2h-2zM-150 4h2v2h-2zM-146 4h2v2h-2zM-142 4h2v2h-2zM48 4h2v2h-2zM62 4h2v2h-2zM110 4h2v2h-2zM166 4h2v2h-2zM-154 6h2v2h-2zM-144 6h2v2h-2zM-140 6h2v2h-2zM-100 6h2v2h-2zM44 6h2v2h-2zM50 6h2v2h-2zM54 6h2v2h-2zM60 6h2v2h-2zM74 6h2v2h-2zM106 6h2v2h-2zM110 6h2v2h-2zM112 6h2v2h-2zM140 6h2v2h-2zM152 6h2v2h-2zM166 6h2v2h-2zM184 6h2v2h-2zM-152 8h2v2h-2zM-144 8h2v2h-2zM-140 8h2v2h-2zM-136 8h2v2h-2zM-60 8h2v2h-2zM108 8h2v2h-2zM184 8h2v2h-2zM-156 10h2v2h-2zM-144 10h2v2h-2zM-136 10h2v2h-2zM174 10h2v2h-2zM184 10h2v2h-2zM-144 12h2v2h-2zM-100 12h2v2h-2zM-94 12h2v2h-2zM-64 12h2v2h-2zM-58 12h2v2h-2zM42 12h2v2h-2zM118 12h2v2h-2zM124 12h2v2h-2zM178 12h2v2h-2zM180 12h2v2h-2zM184 12h2v2h-2zM-96 14h2v2h-2zM-68 14h2v2h-2zM66 14h2v2h-2zM130 14h2v2h-2zM150 14h2v2h-2zM-68 16h2v2h-2zM-58 16h2v2h-2zM124 16h2v2h-2zM148 16h2v2h-2zM-162 18h2v2h-2zM-132 18h2v2h-2zM148 18h2v2h-2zM178 18h2v2h-2zM180 18h2v2h-2zM184 18h2v2h-2zM-158 20h2v2h-2zM-16 20h2v2h-2zM64 20h2v2h-2zM148 20h2v2h-2zM150 20h2v2h-2zM-156 22h2v2h-2zM-136 22h2v2h-2zM-134 22h2v2h-2zM-56 22h2v2h-2zM-36 22h2v2h-2zM-18 22h2v2h-2zM48 22h2v2h-2zM54 22h2v2h-2zM90 22h2v2h-2zM120 22h2v2h-2zM152 22h2v2h-2zM-160 24h2v2h-2zM-138 24h2v2h-2zM-100 24h2v2h-2zM62 24h2v2h-2zM80 24h2v2h-2zM90 24h2v2h-2zM92 24h2v2h-2zM94 24h2v2h-2zM152 24h2v2h-2zM160 24h2v2h-2zM178 24h2v2h-2zM180 24h2v2h-2zM184 24h2v2h-2zM-146 26h2v2h-2zM-144 26h2v2h-2zM-138 26h2v2h-2zM-126 26h2v2h-2zM-58 26h2v2h-2zM58 26h2v2h-2zM98 26h2v2h-2zM118 26h2v2h-2zM138 26h2v2h-2zM146 26h2v2h-2zM164 26h2v2h-2zM178 26h2v2h-2zM180 26h2v2h-2zM-144 28h2v2h-2zM-100 28h2v2h-2zM-16 28h2v2h-2zM94 28h2v2h-2zM136 28h2v2h-2zM140 28h2v2h-2zM150 28h2v2h-2zM174 28h2v2h-2zM176 28h2v2h-2zM-122 30h2v2h-2zM-40 30h2v2h-2zM-34 30h2v2h-2zM-32 30h2v2h-2zM-22 30h2v2h-2zM-16 30h2v2h-2zM72 30h2v2h-2zM74 30h2v2h-2zM152 30h2v2h-2zM-142 32h2v2h-2zM-124 32h2v2h-2zM-28 32h2v2h-2zM-16 32h2v2h-2zM-14 32h2v2h-2zM134 32h2v2h-2zM140 32h2v2h-2zM142 32h2v2h-2zM178 32h2v2h-2zM180 32h2v2h-2zM-60 34h2v2h-2zM-36 34h2v2h-2zM-16 34h2v2h-2zM16 34h2v2h-2zM70 34h2v2h-2zM178 34h2v2h-2zM-10 36h2v2h-2zM156 36h2v2h-2zM162 36h2v2h-2zM-6 38h2v2h-2zM160 38h2v2h-2zM174 38h2v2h-2zM-14 40h2v2h-2z"/><path fill="#74d4bd" d="M-110 -60h2v2h-2zM-88 -60h2v2h-2zM-84 -60h2v2h-2zM-80 -60h2v2h-2zM-78 -60h2v2h-2zM-74 -60h2v2h-2zM-70 -60h2v2h-2zM-58 -60h2v2h-2zM-52 -60h2v2h-2zM-48 -60h2v2h-2zM104 -60h2v2h-2zM-122 -58h2v2h-2zM-78 -58h2v2h-2zM-76 -58h2v2h-2zM-56 -58h2v2h-2zM78 -58h2v2h-2zM-86 -56h2v2h-2zM-84 -56h2v2h-2zM-74 -56h2v2h-2zM-54 -56h2v2h-2zM-50 -56h2v2h-2zM-142 -54h2v2h-2zM-54 -54h2v2h-2zM12 -54h2v2h-2zM-146 -52h2v2h-2zM-130 -52h2v2h-2zM-54 -52h2v2h-2zM-50 -52h2v2h-2zM-46 -52h2v2h-2zM22 -52h2v2h-2zM176 -52h2v2h-2zM-130 -50h2v2h-2zM-128 -50h2v2h-2zM-52 -50h2v2h-2zM-136 -48h2v2h-2zM-134 -48h2v2h-2zM-124 -48h2v2h-2zM-72 -48h2v2h-2zM20 -48h2v2h-2zM22 -48h2v2h-2zM-72 -46h2v2h-2zM20 -46h2v2h-2zM82 -46h2v2h-2zM22 -44h2v2h-2zM-166 -42h2v2h-2zM-84 -42h2v2h-2zM-76 -42h2v2h-2zM-38 -42h2v2h-2zM82 -42h2v2h-2zM86 -42h2v2h-2zM-164 -40h2v2h-2zM-50 -40h2v2h-2zM18 -40h2v2h-2zM88 -40h2v2h-2zM180 -40h2v2h-2zM-166 -38h2v2h-2zM-162 -38h2v2h-2zM22 -38h2v2h-2zM108 -38h2v2h-2zM160 -38h2v2h-2zM164 -38h2v2h-2zM174 -38h2v2h-2zM-166 -36h2v2h-2zM-164 -36h2v2h-2zM18 -36h2v2h-2zM122 -36h2v2h-2zM130 -36h2v2h-2zM176 -36h2v2h-2zM182 -36h2v2h-2zM-166 -34h2v2h-2zM-160 -34h2v2h-2zM-132 -34h2v2h-2zM14 -34h2v2h-2zM60 -34h2v2h-2zM134 -34h2v2h-2zM142 -34h2v2h-2zM144 -34h2v2h-2zM146 -34h2v2h-2zM148 -34h2v2h-2zM162 -34h2v2h-2zM168 -34h2v2h-2zM172 -34h2v2h-2zM184 -34h2v2h-2zM-168 -32h2v2h-2zM-166 -32h2v2h-2zM-162 -32h2v2h-2zM-158 -32h2v2h-2zM-156 -32h2v2h-2zM-40 -32h2v2h-2zM114 -32h2v2h-2zM118 -32h2v2h-2zM136 -32h2v2h-2zM138 -32h2v2h-2zM140 -32h2v2h-2zM142 -32h2v2h-2zM148 -32h2v2h-2zM156 -32h2v2h-2zM162 -32h2v2h-2zM176 -32h2v2h-2zM-158 -30h2v2h-2zM-156 -30h2v2h-2zM-154 -30h2v2h-2zM-44 -30h2v2h-2zM-32 -30h2v2h-2zM-28 -30h2v2h-2zM118 -30h2v2h-2zM122 -30h2v2h-2zM124 -30h2v2h-2zM128 -30h2v2h-2zM148 -30h2v2h-2zM164 -30h2v2h-2zM190 -30h2v2h-2zM-160 -28h2v2h-2zM-30 -28h2v2h-2zM-28 -28h2v2h-2zM-6 -28h2v2h-2zM92 -28h2v2h-2zM94 -28h2v2h-2zM102 -28h2v2h-2zM112 -28h2v2h-2zM158 -28h2v2h-2zM-150 -26h2v2h-2zM-26 -26h2v2h-2zM64 -26h2v2h-2zM68 -26h2v2h-2zM70 -26h2v2h-2zM88 -26h2v2h-2zM94 -26h2v2h-2zM108 -26h2v2h-2zM120 -26h2v2h-2zM-150 -24h2v2h-2zM-28 -24h2v2h-2zM-24 -24h2v2h-2zM-2 -24h2v2h-2zM0 -24h2v2h-2zM34 -24h2v2h-2zM38 -24h2v2h-2zM80 -24h2v2h-2zM98 -24h2v2h-2zM110 -24h2v2h-2zM-82 -22h2v2h-2zM-26 -22h2v2h-2zM-6 -22h2v2h-2zM6 -22h2v2h-2zM30 -22h2v2h-2zM46 -22h2v2h-2zM66 -22h2v2h-2zM76 -22h2v2h-2zM84 -22h2v2h-2zM86 -22h2v2h-2zM88 -22h2v2h-2zM-152 -20h2v2h-2zM-64 -20h2v2h-2zM-34 -20h2v2h-2zM8 -20h2v2h-2zM34 -20h2v2h-2zM82 -20h2v2h-2zM98 -20h2v2h-2zM102 -20h2v2h-2zM108 -20h2v2h-2zM112 -20h2v2h-2zM116 -20h2v2h-2zM174 -20h2v2h-2zM178 -20h2v2h-2zM186 -20h2v2h-2zM-70 -18h2v2h-2zM-58 -18h2v2h-2zM-28 -18h2v2h-2zM48 -18h2v2h-2zM78 -18h2v2h-2zM92 -18h2v2h-2zM98 -18h2v2h-2zM100 -18h2v2h-2zM102 -18h2v2h-2zM106 -18h2v2h-2zM186 -18h2v2h-2zM190 -18h2v2h-2zM-72 -16h2v2h-2zM-56 -16h2v2h-2zM-18 -16h2v2h-2zM36 -16h2v2h-2zM42 -16h2v2h-2zM48 -16h2v2h-2zM80 -16h2v2h-2zM90 -16h2v2h-2zM98 -16h2v2h-2zM108 -16h2v2h-2zM112 -16h2v2h-2zM174 -16h2v2h-2zM178 -16h2v2h-2zM182 -16h2v2h-2zM-90 -14h2v2h-2zM-72 -14h2v2h-2zM-66 -14h2v2h-2zM-52 -14h2v2h-2zM76 -14h2v2h-2zM82 -14h2v2h-2zM102 -14h2v2h-2zM110 -14h2v2h-2zM112 -14h2v2h-2zM120 -14h2v2h-2zM164 -14h2v2h-2zM180 -14h2v2h-2zM182 -14h2v2h-2zM184 -14h2v2h-2zM-134 -12h2v2h-2zM-108 -12h2v2h-2zM-92 -12h2v2h-2zM-90 -12h2v2h-2zM-88 -12h2v2h-2zM-86 -12h2v2h-2zM-70 -12h2v2h-2zM-16 -12h2v2h-2zM36 -12h2v2h-2zM40 -12h2v2h-2zM42 -12h2v2h-2zM46 -12h2v2h-2zM76 -12h2v2h-2zM78 -12h2v2h-2zM88 -12h2v2h-2zM106 -12h2v2h-2zM108 -12h2v2h-2zM112 -12h2v2h-2zM-166 -10h2v2h-2zM-132 -10h2v2h-2zM-42 -10h2v2h-2zM-20 -10h2v2h-2zM44 -10h2v2h-2zM74 -10h2v2h-2zM100 -10h2v2h-2zM136 -10h2v2h-2zM142 -10h2v2h-2zM144 -10h2v2h-2zM166 -10h2v2h-2zM170 -10h2v2h-2zM176 -10h2v2h-2zM190 -10h2v2h-2zM-168 -8h2v2h-2zM-138 -8h2v2h-2zM-128 -8h2v2h-2zM-42 -8h2v2h-2zM46 -8h2v2h-2zM82 -8h2v2h-2zM88 -8h2v2h-2zM100 -8h2v2h-2zM108 -8h2v2h-2zM114 -8h2v2h-2zM142 -8h2v2h-2zM148 -8h2v2h-2zM150 -8h2v2h-2zM152 -8h2v2h-2zM154 -8h2v2h-2zM156 -8h2v2h-2zM158 -8h2v2h-2zM162 -8h2v2h-2zM164 -8h2v2h-2zM170 -8h2v2h-2zM-164 -6h2v2h-2zM-154 -6h2v2h-2zM-132 -6h2v2h-2zM-46 -6h2v2h-2zM-40 -6h2v2h-2zM138 -6h2v2h-2zM164 -6h2v2h-2zM168 -6h2v2h-2zM176 -6h2v2h-2zM-166 -4h2v2h-2zM-160 -4h2v2h-2zM-158 -4h2v2h-2zM-78 -4h2v2h-2zM-38 -4h2v2h-2zM92 -4h2v2h-2zM156 -4h2v2h-2zM164 -4h2v2h-2zM168 -4h2v2h-2zM174 -4h2v2h-2zM-162 -2h2v2h-2zM-158 -2h2v2h-2zM-152 -2h2v2h-2zM-58 -2h2v2h-2zM6 -2h2v2h-2zM62 -2h2v2h-2zM78 -2h2v2h-2zM80 -2h2v2h-2zM92 -2h2v2h-2zM96 -2h2v2h-2zM136 -2h2v2h-2zM138 -2h2v2h-2zM170 -2h2v2h-2zM172 -2h2v2h-2zM174 -2h2v2h-2zM-156 0h2v2h-2zM-140 0h2v2h-2zM64 0h2v2h-2zM66 0h2v2h-2zM68 0h2v2h-2zM70 0h2v2h-2zM84 0h2v2h-2zM172 0h2v2h-2zM176 0h2v2h-2zM-158 2h2v2h-2zM-142 2h2v2h-2zM-52 2h2v2h-2zM-50 2h2v2h-2zM-46 2h2v2h-2zM46 2h2v2h-2zM48 2h2v2h-2zM52 2h2v2h-2zM68 2h2v2h-2zM80 2h2v2h-2zM86 2h2v2h-2zM108 2h2v2h-2zM134 2h2v2h-2zM136 2h2v2h-2zM164 2h2v2h-2zM180 2h2v2h-2zM-148 4h2v2h-2zM-144 4h2v2h-2zM-100 4h2v2h-2zM-46 4h2v2h-2zM46 4h2v2h-2zM60 4h2v2h-2zM64 4h2v2h-2zM78 4h2v2h-2zM80 4h2v2h-2zM82 4h2v2h-2zM94 4h2v2h-2zM106 4h2v2h-2zM148 4h2v2h-2zM-152 6h2v2h-2zM-146 6h2v2h-2zM-142 6h2v2h-2zM-138 6h2v2h-2zM-136 6h2v2h-2zM-102 6h2v2h-2zM-94 6h2v2h-2zM82 6h2v2h-2zM138 6h2v2h-2zM182 6h2v2h-2zM-146 8h2v2h-2zM-130 8h2v2h-2zM-94 8h2v2h-2zM-56 8h2v2h-2zM2 8h2v2h-2zM66 8h2v2h-2zM106 8h2v2h-2zM110 8h2v2h-2zM112 8h2v2h-2zM146 8h2v2h-2zM182 8h2v2h-2zM-140 10h2v2h-2zM-102 10h2v2h-2zM-98 10h2v2h-2zM40 10h2v2h-2zM66 10h2v2h-2zM110 10h2v2h-2zM138 10h2v2h-2zM140 10h2v2h-2zM144 10h2v2h-2zM148 10h2v2h-2zM154 10h2v2h-2zM178 10h2v2h-2zM186 10h2v2h-2zM-162 12h2v2h-2zM-158 12h2v2h-2zM-134 12h2v2h-2zM-132 12h2v2h-2zM-124 12h2v2h-2zM-102 12h2v2h-2zM-80 12h2v2h-2zM-60 12h2v2h-2zM66 12h2v2h-2zM110 12h2v2h-2zM134 12h2v2h-2zM136 12h2v2h-2zM148 12h2v2h-2zM150 12h2v2h-2zM182 12h2v2h-2zM-132 14h2v2h-2zM-98 14h2v2h-2zM-70 14h2v2h-2zM-66 14h2v2h-2zM-40 14h2v2h-2zM-34 14h2v2h-2zM36 14h2v2h-2zM38 14h2v2h-2zM178 14h2v2h-2zM180 14h2v2h-2zM-162 16h2v2h-2zM-130 16h2v2h-2zM-66 16h2v2h-2zM-60 16h2v2h-2zM-12 16h2v2h-2zM122 16h2v2h-2zM126 16h2v2h-2zM-158 18h2v2h-2zM-70 18h2v2h-2zM-56 18h2v2h-2zM-26 18h2v2h-2zM-12 18h2v2h-2zM46 18h2v2h-2zM68 18h2v2h-2zM120 18h2v2h-2zM122 18h2v2h-2zM-162 20h2v2h-2zM-134 20h2v2h-2zM-132 20h2v2h-2zM-128 20h2v2h-2zM-126 20h2v2h-2zM-66 20h2v2h-2zM-62 20h2v2h-2zM-34 20h2v2h-2zM-14 20h2v2h-2zM-12 20h2v2h-2zM48 20h2v2h-2zM80 20h2v2h-2zM116 20h2v2h-2zM124 20h2v2h-2zM142 20h2v2h-2zM146 20h2v2h-2zM186 20h2v2h-2zM-130 22h2v2h-2zM-62 22h2v2h-2zM-60 22h2v2h-2zM-34 22h2v2h-2zM-22 22h2v2h-2zM-12 22h2v2h-2zM64 22h2v2h-2zM92 22h2v2h-2zM118 22h2v2h-2zM142 22h2v2h-2zM148 22h2v2h-2zM182 22h2v2h-2zM-156 24h2v2h-2zM-134 24h2v2h-2zM-96 24h2v2h-2zM-78 24h2v2h-2zM54 24h2v2h-2zM58 24h2v2h-2zM64 24h2v2h-2zM86 24h2v2h-2zM96 24h2v2h-2zM98 24h2v2h-2zM110 24h2v2h-2zM118 24h2v2h-2zM124 24h2v2h-2zM146 24h2v2h-2zM-154 26h2v2h-2zM-152 26h2v2h-2zM-136 26h2v2h-2zM-102 26h2v2h-2zM-34 26h2v2h-2zM-32 26h2v2h-2zM-20 26h2v2h-2zM-12 26h2v2h-2zM16 26h2v2h-2zM48 26h2v2h-2zM54 26h2v2h-2zM60 26h2v2h-2zM64 26h2v2h-2zM66 26h2v2h-2zM78 26h2v2h-2zM82 26h2v2h-2zM84 26h2v2h-2zM136 26h2v2h-2zM142 26h2v2h-2zM176 26h2v2h-2zM-156 28h2v2h-2zM-154 28h2v2h-2zM-146 28h2v2h-2zM-142 28h2v2h-2zM-98 28h2v2h-2zM-32 28h2v2h-2zM-20 28h2v2h-2zM-18 28h2v2h-2zM-8 28h2v2h-2zM10 28h2v2h-2zM54 28h2v2h-2zM74 28h2v2h-2zM96 28h2v2h-2zM118 28h2v2h-2zM142 28h2v2h-2zM144 28h2v2h-2zM148 28h2v2h-2zM178 28h2v2h-2zM180 28h2v2h-2zM188 28h2v2h-2zM190 28h2v2h-2zM-106 30h2v2h-2zM-38 30h2v2h-2zM-18 30h2v2h-2zM-12 30h2v2h-2zM66 30h2v2h-2zM76 30h2v2h-2zM142 30h2v2h-2zM176 30h2v2h-2zM-122 32h2v2h-2zM-106 32h2v2h-2zM-104 32h2v2h-2zM-102 32h2v2h-2zM-38 32h2v2h-2zM-32 32h2v2h-2zM-18 32h2v2h-2zM-4 32h2v2h-2zM-2 32h2v2h-2zM138 32h2v2h-2zM150 32h2v2h-2zM154 32h2v2h-2zM176 32h2v2h-2zM182 32h2v2h-2zM-150 34h2v2h-2zM-124 34h2v2h-2zM-100 34h2v2h-2zM-58 34h2v2h-2zM-30 34h2v2h-2zM-18 34h2v2h-2zM76 34h2v2h-2zM142 34h2v2h-2zM152 34h2v2h-2zM156 34h2v2h-2zM158 34h2v2h-2zM170 34h2v2h-2zM176 34h2v2h-2zM182 34h2v2h-2zM-128 36h2v2h-2zM-58 36h2v2h-2zM-48 36h2v2h-2zM-4 36h2v2h-2zM-2 36h2v2h-2zM16 36h2v2h-2zM18 36h2v2h-2zM160 36h2v2h-2zM166 36h2v2h-2zM172 36h2v2h-2zM174 36h2v2h-2zM-12 38h2v2h-2zM-10 38h2v2h-2zM-8 38h2v2h-2zM170 38h2v2h-2zM-60 40h2v2h-2zM-6 40h2v2h-2zM160 40h2v2h-2zM170 40h2v2h-2zM0 42h2v2h-2zM164 44h2v2h-2z"/><path fill="#90c9b7" d="M-72 -60h2v2h-2zM-124 -58h2v2h-2zM-52 -58h2v2h-2zM-88 -56h2v2h-2zM-8 -52h2v2h-2zM-48 -50h2v2h-2zM-132 -48h2v2h-2zM-128 -46h2v2h-2zM-38 -46h2v2h-2zM104 -46h2v2h-2zM-70 -38h2v2h-2zM134 -38h2v2h-2zM-162 -34h2v2h-2zM118 -34h2v2h-2zM158 -34h2v2h-2zM-8 -32h2v2h-2zM130 -32h2v2h-2zM-10 -30h2v2h-2zM104 -30h2v2h-2zM-34 -28h2v2h-2zM88 -24h2v2h-2zM-86 -22h2v2h-2zM102 -22h2v2h-2zM106 -22h2v2h-2zM-86 -20h2v2h-2zM-72 -18h2v2h-2zM-68 -16h2v2h-2zM-82 -14h2v2h-2zM86 -14h2v2h-2zM-138 -12h2v2h-2zM84 -12h2v2h-2zM164 -10h2v2h-2zM168 -10h2v2h-2zM42 -8h2v2h-2zM-56 -6h2v2h-2zM142 -6h2v2h-2zM140 -2h2v2h-2zM162 -2h2v2h-2zM-52 0h2v2h-2zM-160 2h2v2h-2zM-48 2h2v2h-2zM92 2h2v2h-2zM-96 4h2v2h-2zM84 4h2v2h-2zM142 6h2v2h-2zM42 8h2v2h-2zM144 14h2v2h-2zM184 14h2v2h-2zM188 14h2v2h-2zM112 16h2v2h-2zM-60 18h2v2h-2zM126 18h2v2h-2zM-20 20h2v2h-2zM-152 22h2v2h-2zM-66 22h2v2h-2zM42 22h2v2h-2zM-126 24h2v2h-2zM150 24h2v2h-2zM90 26h2v2h-2zM92 26h2v2h-2zM148 26h2v2h-2zM-46 28h2v2h-2zM-26 28h2v2h-2zM-146 30h2v2h-2zM70 32h2v2h-2zM-104 38h2v2h-2zM-92 48h2v2h-2zM-30 50h2v2h-2zM-22 56h2v2h-2z"/><path fill="#b4c695" d="M-110 -56h2v2h-2zM-156 -54h2v2h-2zM150 -44h2v2h-2zM40 -32h2v2h-2zM-144 -28h2v2h-2zM-50 44h2v2h-2zM16 44h2v2h-2zM-148 48h2v2h-2zM14 48h2v2h-2zM-156 50h2v2h-2zM100 50h2v2h-2zM-150 52h2v2h-2zM108 52h2v2h-2zM-144 54h2v2h-2zM-58 54h2v2h-2zM-128 56h2v2h-2zM-158 58h2v2h-2z"/><path fill="#bed37a" d="M48 -54h2v2h-2zM38 -48h2v2h-2zM8 -46h2v2h-2zM8 -44h2v2h-2zM124 -38h2v2h-2zM-92 -26h2v2h-2zM-8 -14h2v2h-2zM-150 2h2v2h-2zM68 36h2v2h-2zM136 38h2v2h-2zM146 38h2v2h-2zM-74 40h2v2h-2zM-48 40h2v2h-2zM12 42h2v2h-2zM16 42h2v2h-2zM88 42h2v2h-2zM-20 44h2v2h-2zM-10 44h2v2h-2zM86 44h2v2h-2zM150 44h2v2h-2zM-158 46h2v2h-2zM-22 46h2v2h-2zM18 46h2v2h-2zM86 46h2v2h-2zM92 46h2v2h-2zM-22 48h2v2h-2zM-8 48h2v2h-2zM-2 48h2v2h-2zM30 48h2v2h-2zM56 48h2v2h-2zM92 48h2v2h-2zM100 48h2v2h-2zM-6 50h2v2h-2zM28 50h2v2h-2zM86 50h2v2h-2zM92 52h2v2h-2zM94 52h2v2h-2zM182 52h2v2h-2zM-156 54h2v2h-2zM-64 54h2v2h-2zM28 54h2v2h-2zM104 54h2v2h-2zM106 56h2v2h-2zM108 56h2v2h-2zM112 56h2v2h-2zM-146 58h2v2h-2zM-144 58h2v2h-2z"/><path fill="#cedf5c" d="M-154 -60h2v2h-2zM-154 -58h2v2h-2zM-152 -58h2v2h-2zM-46 42h2v2h-2zM82 44h2v2h-2zM84 46h2v2h-2zM-154 48h2v2h-2zM86 48h2v2h-2zM-154 50h2v2h-2zM-58 50h2v2h-2zM102 50h2v2h-2zM-60 52h2v2h-2zM-8 52h2v2h-2zM-60 54h2v2h-2z"/><path fill="#e2ea36" d="M-152 -60h2v2h-2zM-86 -28h2v2h-2zM-84 -28h2v2h-2zM-6 48h2v2h-2zM112 58h2v2h-2z"/><path fill="#ffa900" d="M-82 -26h2v2h-2z"/>
<path fill="#fff" d="M-5.6 -35.9L-4 -40L2 -44L8 -46L14 -47L20 -44L26 -42L29 -41.5L36 -38L37 -35L36 -31L30 -29.5L20 -29L10 -32L0 -34L-5.6 -35ZM27 -41L27 -47.5L42 -47.5L42 -40.5L29 -40.8ZM9.5 -53.5L31 -53.5L31 -66.5L9.5 -66.5L9.5 -58ZM-1.5 -49.3L2 -50.5L5 -53L9 -54L9.5 -58L5 -61L-1 -61L-1.5 -57ZM-96 -50L-76 -50L-76 -66L-96 -66ZM-71 -46.5L-66 -50.5L-57.5 -51.5L-55.5 -50L-59.5 -47.3L-61 -45.5L-65 -45.8L-67 -48ZM32 -30.5L36 -30L43.6 -12.7L43.2 -11.5L38 -14L32 -25ZM47.5 -30.5L50 -31L56.8 -27.5L56.6 -26.2L56.2 -24L51 -23.5L47.5 -27ZM117 -41L123 -41L126.7 -37.5L126.4 -34.4L126 -33L122 -31L121 -30.5L117 -36ZM98.5 -5.5L100.5 -6.8L99.5 -10L99.5 -14L102 -13.5L105.5 -10.5L104.8 -8.6L102.5 -6L104.3 -1.3L109.2 -0.5L110 3L116.3 3.8L118.5 5.5L116 8.5L106 7L105.5 5.8L103.8 1L100 -1.5ZM135.5 11L137 8L141 8.5L142.5 10L142 17.8L139 17.8L135.5 15ZM135 -54L143 -52L145 -55L145 -60L135 -60ZM-62 39L-60.5 40.5L-62.5 44L-65 47.5L-66.5 47L-64 42L-63 40Z"/>
<use href="#land" x="-360"/>
<use href="#land" x="0"/>
<use href="#land" x="360"/>
<use href="#ant"/>
<use href="#deco" x="0"/>
<use href="#lakes" x="0"/>
<use href="#deco" x="360"/>
<use href="#lakes" x="360"/>
</g>
<path d="M611.0 27.2V255.2M739.0 27.2V255.2M867.0 27.2V255.2M524.9 204.5H983.9M524.9 141.2H983.9M524.9 77.9H983.9" stroke="#888" stroke-width="0.6" stroke-dasharray="1 2" fill="none" opacity="0.6"/>
</g>
<rect x="524.9" y="27.2" width="459" height="228" fill="none" stroke="#333" stroke-width="1.3"/>
<path d="M534.2 255.2v-3.5M534.2 27.2v3.5M559.8 255.2v-3.5M559.8 27.2v3.5M585.4 255.2v-3.5M585.4 27.2v3.5M611.0 255.2v-5.0M611.0 27.2v5.0M636.6 255.2v-3.5M636.6 27.2v3.5M662.2 255.2v-3.5M662.2 27.2v3.5M687.8 255.2v-3.5M687.8 27.2v3.5M713.4 255.2v-3.5M713.4 27.2v3.5M739.0 255.2v-5.0M739.0 27.2v5.0M764.6 255.2v-3.5M764.6 27.2v3.5M790.2 255.2v-3.5M790.2 27.2v3.5M815.8 255.2v-3.5M815.8 27.2v3.5M841.4 255.2v-3.5M841.4 27.2v3.5M867.0 255.2v-5.0M867.0 27.2v5.0M892.6 255.2v-3.5M892.6 27.2v3.5M918.2 255.2v-3.5M918.2 27.2v3.5M943.8 255.2v-3.5M943.8 27.2v3.5M969.4 255.2v-3.5M969.4 27.2v3.5M524.9 242.5h3.5M983.9 242.5h-3.5M524.9 229.9h3.5M983.9 229.9h-3.5M524.9 217.2h3.5M983.9 217.2h-3.5M524.9 204.5h5.0M983.9 204.5h-5.0M524.9 191.9h3.5M983.9 191.9h-3.5M524.9 179.2h3.5M983.9 179.2h-3.5M524.9 166.5h3.5M983.9 166.5h-3.5M524.9 153.9h3.5M983.9 153.9h-3.5M524.9 141.2h5.0M983.9 141.2h-5.0M524.9 128.5h3.5M983.9 128.5h-3.5M524.9 115.9h3.5M983.9 115.9h-3.5M524.9 103.2h3.5M983.9 103.2h-3.5M524.9 90.5h3.5M983.9 90.5h-3.5M524.9 77.9h5.0M983.9 77.9h-5.0M524.9 65.2h3.5M983.9 65.2h-3.5M524.9 52.5h3.5M983.9 52.5h-3.5M524.9 39.9h3.5M983.9 39.9h-3.5" stroke="#333" stroke-width="1" fill="none"/>
<g font-family="'DejaVu Sans','Liberation Sans',sans-serif" font-size="9.6" fill="#222" clip-path="url(#ylab2)"><text x="611.0" y="268.7" text-anchor="middle">-100</text><text x="739.0" y="268.7" text-anchor="middle">0</text><text x="867.0" y="268.7" text-anchor="middle">100</text><text x="521.7" y="81.8" text-anchor="end">50</text><text x="521.7" y="145.1" text-anchor="end">0</text><text x="521.7" y="208.4" text-anchor="end">-50</text></g>
<text x="633.7" y="20.6" textLength="241.6" lengthAdjust="spacingAndGlyphs" font-family="'DejaVu Sans','Liberation Sans',sans-serif" font-size="12.8" fill="#222">VAR(SLA - EGBERT) - VAR(SLA - ZERO)</text>
<g clip-path="url(#c3)">
<rect x="29.7" y="298.6" width="455.2" height="226.8" fill="#fff"/>
<g transform="translate(257.30 412.00) scale(1.2644 1.2600)">
<rect x="-200" y="-82" width="420" height="162" fill="#b2b2b2"/>
<rect x="-200" y="-38" width="420" height="76" fill="url(#nz3)"/>
<rect x="-200" y="-82" width="420" height="44" fill="url(#nzs3)"/>
<rect x="-200" y="38" width="420" height="42" fill="url(#nzs3)"/>
<path fill="#0000d8" d="M-82 -64h2v2h-2zM-170 -32h2v2h-2zM144 -28h2v2h-2zM146 -26h2v2h-2zM162 -26h2v2h-2zM152 -18h2v2h-2zM-46 -4h2v2h-2zM128 -4h2v2h-2zM120 -2h2v2h-2zM132 0h2v2h-2zM122 6h2v2h-2zM120 8h2v2h-2zM116 10h2v2h-2zM164 18h2v2h-2zM164 26h2v2h-2zM164 30h2v2h-2z"/><path fill="#0000eb" d="M-86 -64h2v2h-2zM-168 -32h2v2h-2zM132 -30h2v2h-2zM140 -30h2v2h-2zM156 -30h2v2h-2zM138 -28h2v2h-2zM152 -28h2v2h-2zM-168 -24h2v2h-2zM144 -16h2v2h-2zM120 -6h2v2h-2zM-50 -4h2v2h-2zM118 0h2v2h-2zM130 2h2v2h-2zM118 4h2v2h-2zM166 18h2v2h-2zM160 22h2v2h-2zM40 26h2v2h-2z"/><path fill="#0000ff" d="M124 -26h2v2h-2zM156 -26h2v2h-2zM164 -20h2v2h-2zM142 -18h2v2h-2zM90 -16h2v2h-2zM124 -6h2v2h-2zM118 -4h2v2h-2zM124 -4h2v2h-2zM132 2h2v2h-2zM128 8h2v2h-2zM172 14h2v2h-2zM44 22h2v2h-2zM170 24h2v2h-2zM172 26h2v2h-2zM162 28h2v2h-2z"/><path fill="#0015ff" d="M140 -32h2v2h-2zM128 -28h2v2h-2zM132 -26h2v2h-2zM168 -26h2v2h-2zM152 -22h2v2h-2zM140 -20h2v2h-2zM140 -18h2v2h-2zM146 -18h2v2h-2zM-44 -6h2v2h-2zM128 -6h2v2h-2zM120 -4h2v2h-2zM128 10h2v2h-2zM-144 20h2v2h-2zM160 26h2v2h-2zM46 30h2v2h-2z"/><path fill="#002bff" d="M154 -16h2v2h-2zM92 -12h2v2h-2zM122 -8h2v2h-2zM-46 -6h2v2h-2zM116 -2h2v2h-2zM130 0h2v2h-2zM56 10h2v2h-2zM118 12h2v2h-2zM164 12h2v2h-2zM162 18h2v2h-2zM-150 20h2v2h-2zM-148 20h2v2h-2zM172 20h2v2h-2zM158 22h2v2h-2zM174 28h2v2h-2zM160 30h2v2h-2z"/><path fill="#0040ff" d="M-84 -62h2v2h-2zM148 -32h2v2h-2zM154 -30h2v2h-2zM162 -30h2v2h-2zM142 -28h2v2h-2zM160 -28h2v2h-2zM122 -26h2v2h-2zM-166 -24h2v2h-2zM168 -24h2v2h-2zM124 -22h2v2h-2zM128 -22h2v2h-2zM148 -22h2v2h-2zM166 -22h2v2h-2zM132 -18h2v2h-2zM154 -18h2v2h-2zM152 -16h2v2h-2zM-44 -4h2v2h-2zM-44 -2h2v2h-2zM114 4h2v2h-2zM116 6h2v2h-2zM60 10h2v2h-2zM168 10h2v2h-2zM168 12h2v2h-2zM58 14h2v2h-2zM122 14h2v2h-2zM164 14h2v2h-2zM-152 16h2v2h-2zM42 18h2v2h-2zM170 18h2v2h-2zM160 28h2v2h-2zM168 28h2v2h-2zM170 28h2v2h-2zM166 30h2v2h-2z"/><path fill="#0055ff" d="M-82 -62h2v2h-2zM-166 -34h2v2h-2zM-166 -32h2v2h-2zM132 -32h2v2h-2zM148 -30h2v2h-2zM174 -26h2v2h-2zM-172 -24h2v2h-2zM-170 -24h2v2h-2zM150 -24h2v2h-2zM174 -22h2v2h-2zM154 -20h2v2h-2zM166 -18h2v2h-2zM140 -16h2v2h-2zM142 -16h2v2h-2zM90 -14h2v2h-2zM118 -2h2v2h-2zM164 6h2v2h-2zM58 8h2v2h-2zM164 8h2v2h-2zM58 16h2v2h-2zM60 18h2v2h-2z"/><path fill="#006bff" d="M142 -32h2v2h-2zM128 -30h2v2h-2zM166 -26h2v2h-2zM126 -24h2v2h-2zM162 -24h2v2h-2zM156 -22h2v2h-2zM88 -20h2v2h-2zM126 -20h2v2h-2zM160 -18h2v2h-2zM138 -16h2v2h-2zM150 -16h2v2h-2zM120 -8h2v2h-2zM134 6h2v2h-2zM134 10h2v2h-2zM132 12h2v2h-2zM-148 18h2v2h-2zM-146 18h2v2h-2zM-142 18h2v2h-2zM-144 22h2v2h-2zM162 26h2v2h-2zM170 32h2v2h-2z"/><path fill="#0080ff" d="M-170 -34h2v2h-2zM-164 -34h2v2h-2zM144 -32h2v2h-2zM-164 -28h2v2h-2zM170 -26h2v2h-2zM118 -22h2v2h-2zM166 -20h2v2h-2zM164 -18h2v2h-2zM170 -18h2v2h-2zM130 -16h2v2h-2zM124 0h2v2h-2zM114 2h2v2h-2zM116 2h2v2h-2zM136 4h2v2h-2zM124 6h2v2h-2zM168 6h2v2h-2zM-4 10h2v2h-2zM124 10h2v2h-2zM130 10h2v2h-2zM158 10h2v2h-2zM126 12h2v2h-2zM-154 18h2v2h-2zM158 18h2v2h-2zM160 20h2v2h-2zM44 28h2v2h-2zM42 32h2v2h-2z"/><path fill="#0095ff" d="M-86 -66h2v2h-2zM-84 -66h2v2h-2zM-170 -36h2v2h-2zM150 -34h2v2h-2zM134 -32h2v2h-2zM-174 -30h2v2h-2zM150 -30h2v2h-2zM170 -30h2v2h-2zM118 -28h2v2h-2zM146 -28h2v2h-2zM-166 -26h2v2h-2zM-168 -22h2v2h-2zM120 -22h2v2h-2zM92 -18h2v2h-2zM160 -14h2v2h-2zM-144 10h2v2h-2zM-152 12h2v2h-2zM-150 12h2v2h-2zM172 12h2v2h-2zM-140 14h2v2h-2zM126 16h2v2h-2zM174 16h2v2h-2zM54 18h2v2h-2zM58 20h2v2h-2zM158 20h2v2h-2zM42 24h2v2h-2zM44 34h2v2h-2zM42 36h2v2h-2z"/><path fill="#00aaff" d="M-78 -64h2v2h-2zM-80 -62h2v2h-2zM-166 -36h2v2h-2zM136 -34h2v2h-2zM-166 -30h2v2h-2zM146 -30h2v2h-2zM-176 -28h2v2h-2zM-168 -28h2v2h-2zM-162 -26h2v2h-2zM158 -26h2v2h-2zM172 -26h2v2h-2zM116 -22h2v2h-2zM-168 -20h2v2h-2zM144 -14h2v2h-2zM158 -14h2v2h-2zM132 -8h2v2h-2zM-42 -4h2v2h-2zM112 0h2v2h-2zM120 6h2v2h-2zM128 6h2v2h-2zM60 8h2v2h-2zM136 8h2v2h-2zM156 8h2v2h-2zM158 8h2v2h-2zM160 10h2v2h-2zM162 10h2v2h-2zM120 14h2v2h-2zM-150 16h2v2h-2zM62 16h2v2h-2zM-144 18h2v2h-2zM-140 18h2v2h-2zM46 18h2v2h-2zM156 18h2v2h-2zM50 20h2v2h-2zM56 20h2v2h-2zM170 20h2v2h-2zM-148 22h2v2h-2zM38 22h2v2h-2zM52 22h2v2h-2zM156 22h2v2h-2zM172 28h2v2h-2zM168 30h2v2h-2zM168 32h2v2h-2zM158 34h2v2h-2z"/><path fill="#00bfff" d="M-86 -62h2v2h-2zM-170 -38h2v2h-2zM144 -34h2v2h-2zM126 -32h2v2h-2zM170 -32h2v2h-2zM122 -30h2v2h-2zM124 -30h2v2h-2zM126 -30h2v2h-2zM142 -30h2v2h-2zM158 -30h2v2h-2zM-170 -28h2v2h-2zM-162 -28h2v2h-2zM158 -28h2v2h-2zM150 -26h2v2h-2zM164 -26h2v2h-2zM170 -24h2v2h-2zM-174 -22h2v2h-2zM-164 -22h2v2h-2zM134 -22h2v2h-2zM136 -22h2v2h-2zM124 -18h2v2h-2zM126 -18h2v2h-2zM148 -14h2v2h-2zM162 -14h2v2h-2zM116 -8h2v2h-2zM-52 -6h2v2h-2zM134 -6h2v2h-2zM-50 -2h2v2h-2zM-48 0h2v2h-2zM-46 0h2v2h-2zM136 0h2v2h-2zM122 2h2v2h-2zM136 2h2v2h-2zM162 2h2v2h-2zM122 4h2v2h-2zM162 4h2v2h-2zM166 4h2v2h-2zM170 4h2v2h-2zM52 6h2v2h-2zM54 8h2v2h-2zM156 10h2v2h-2zM158 12h2v2h-2zM160 12h2v2h-2zM174 12h2v2h-2zM-152 14h2v2h-2zM-142 14h2v2h-2zM-138 14h2v2h-2zM118 14h2v2h-2zM156 14h2v2h-2zM158 14h2v2h-2zM160 14h2v2h-2zM168 14h2v2h-2zM-142 16h2v2h-2zM-138 16h2v2h-2zM174 18h2v2h-2zM-140 20h2v2h-2zM-138 20h2v2h-2zM168 20h2v2h-2zM174 20h2v2h-2zM176 22h2v2h-2zM48 26h2v2h-2zM154 32h2v2h-2zM158 32h2v2h-2zM174 32h2v2h-2zM-12 36h2v2h-2z"/><path fill="#00d4ff" d="M-174 -36h2v2h-2zM140 -36h2v2h-2zM-174 -34h2v2h-2zM-172 -34h2v2h-2zM128 -32h2v2h-2zM-168 -30h2v2h-2zM-160 -30h2v2h-2zM138 -30h2v2h-2zM172 -30h2v2h-2zM178 -30h2v2h-2zM114 -28h2v2h-2zM-180 -26h2v2h-2zM-178 -26h2v2h-2zM128 -26h2v2h-2zM138 -24h2v2h-2zM176 -24h2v2h-2zM178 -24h2v2h-2zM-176 -22h2v2h-2zM-172 -22h2v2h-2zM-166 -22h2v2h-2zM114 -22h2v2h-2zM160 -22h2v2h-2zM124 -20h2v2h-2zM130 -20h2v2h-2zM134 -20h2v2h-2zM146 -20h2v2h-2zM160 -20h2v2h-2zM162 -20h2v2h-2zM178 -20h2v2h-2zM158 -18h2v2h-2zM168 -18h2v2h-2zM92 -16h2v2h-2zM146 -16h2v2h-2zM156 -16h2v2h-2zM158 -16h2v2h-2zM118 -14h2v2h-2zM130 -14h2v2h-2zM138 -14h2v2h-2zM152 -14h2v2h-2zM156 -14h2v2h-2zM88 -12h2v2h-2zM132 -12h2v2h-2zM142 -12h2v2h-2zM90 -10h2v2h-2zM120 -10h2v2h-2zM128 -10h2v2h-2zM128 -8h2v2h-2zM132 -6h2v2h-2zM112 -4h2v2h-2zM114 -4h2v2h-2zM128 -2h2v2h-2zM134 0h2v2h-2zM130 6h2v2h-2zM138 6h2v2h-2zM162 6h2v2h-2zM166 6h2v2h-2zM126 10h2v2h-2zM154 10h2v2h-2zM166 10h2v2h-2zM-148 12h2v2h-2zM-138 12h2v2h-2zM-2 12h2v2h-2zM52 12h2v2h-2zM154 12h2v2h-2zM-156 14h2v2h-2zM166 14h2v2h-2zM-140 16h2v2h-2zM128 16h2v2h-2zM46 20h2v2h-2zM160 24h2v2h-2zM154 26h2v2h-2zM4 32h2v2h-2zM156 32h2v2h-2zM6 34h2v2h-2zM156 34h2v2h-2zM160 36h2v2h-2z"/><path fill="#00e8ff" d="M-82 -66h2v2h-2zM-88 -64h2v2h-2zM-78 -62h2v2h-2zM-68 -42h2v2h-2zM-164 -36h2v2h-2zM148 -36h2v2h-2zM126 -34h2v2h-2zM164 -34h2v2h-2zM-174 -32h2v2h-2zM-160 -32h2v2h-2zM146 -32h2v2h-2zM160 -32h2v2h-2zM160 -30h2v2h-2zM-178 -28h2v2h-2zM-160 -28h2v2h-2zM116 -28h2v2h-2zM120 -28h2v2h-2zM178 -28h2v2h-2zM-168 -26h2v2h-2zM-180 -24h2v2h-2zM-176 -24h2v2h-2zM132 -24h2v2h-2zM164 -24h2v2h-2zM-162 -22h2v2h-2zM144 -22h2v2h-2zM162 -22h2v2h-2zM168 -22h2v2h-2zM-174 -20h2v2h-2zM144 -20h2v2h-2zM128 -18h2v2h-2zM156 -18h2v2h-2zM174 -18h2v2h-2zM176 -18h2v2h-2zM94 -16h2v2h-2zM118 -16h2v2h-2zM172 -16h2v2h-2zM150 -14h2v2h-2zM154 -14h2v2h-2zM86 -12h2v2h-2zM164 -12h2v2h-2zM88 -10h2v2h-2zM130 -10h2v2h-2zM-46 -8h2v2h-2zM-38 -6h2v2h-2zM126 -4h2v2h-2zM130 -4h2v2h-2zM136 -2h2v2h-2zM108 0h2v2h-2zM114 0h2v2h-2zM116 0h2v2h-2zM166 0h2v2h-2zM-140 8h2v2h-2zM46 8h2v2h-2zM110 8h2v2h-2zM166 8h2v2h-2zM-152 10h2v2h-2zM-140 10h2v2h-2zM-2 10h2v2h-2zM46 10h2v2h-2zM48 10h2v2h-2zM150 10h2v2h-2zM-142 12h2v2h-2zM42 12h2v2h-2zM114 12h2v2h-2zM136 12h2v2h-2zM42 14h2v2h-2zM170 14h2v2h-2zM-154 16h2v2h-2zM116 16h2v2h-2zM130 16h2v2h-2zM168 16h2v2h-2zM40 18h2v2h-2zM40 20h2v2h-2zM-58 22h2v2h-2zM42 22h2v2h-2zM46 22h2v2h-2zM50 22h2v2h-2zM162 22h2v2h-2zM168 22h2v2h-2zM-150 24h2v2h-2zM46 24h2v2h-2zM168 24h2v2h-2zM34 30h2v2h-2zM174 30h2v2h-2zM176 30h2v2h-2zM-12 32h2v2h-2zM152 32h2v2h-2zM166 32h2v2h-2zM172 32h2v2h-2zM38 34h2v2h-2zM48 34h2v2h-2zM154 34h2v2h-2zM48 36h2v2h-2zM-12 38h2v2h-2zM-10 38h2v2h-2zM160 38h2v2h-2z"/><path fill="#0101c3" d="M-84 -64h2v2h-2zM140 -28h2v2h-2zM148 -26h2v2h-2zM156 -24h2v2h-2zM146 -22h2v2h-2zM128 -20h2v2h-2zM138 -20h2v2h-2zM132 6h2v2h-2zM56 14h2v2h-2zM170 16h2v2h-2zM48 22h2v2h-2z"/><path fill="#0404ac" d="M130 -28h2v2h-2zM154 -28h2v2h-2zM-170 -26h2v2h-2zM154 -26h2v2h-2zM140 -24h2v2h-2zM148 -24h2v2h-2zM132 -20h2v2h-2zM150 -20h2v2h-2zM136 -18h2v2h-2zM148 -18h2v2h-2zM130 -2h2v2h-2zM118 6h2v2h-2zM124 12h2v2h-2zM-146 14h2v2h-2zM162 16h2v2h-2zM162 20h2v2h-2zM164 20h2v2h-2zM40 28h2v2h-2zM44 32h2v2h-2z"/><path fill="#070794" d="M-172 -32h2v2h-2zM152 -26h2v2h-2zM152 -24h2v2h-2zM122 10h2v2h-2zM170 12h2v2h-2zM-144 14h2v2h-2zM60 14h2v2h-2zM-144 16h2v2h-2z"/><path fill="#0a0a7d" d="M-172 -30h2v2h-2zM-170 -30h2v2h-2zM130 -30h2v2h-2zM-172 -28h2v2h-2zM-166 -28h2v2h-2zM126 -28h2v2h-2zM132 -28h2v2h-2zM134 -28h2v2h-2zM136 -28h2v2h-2zM148 -28h2v2h-2zM126 -26h2v2h-2zM136 -26h2v2h-2zM138 -26h2v2h-2zM142 -26h2v2h-2zM144 -26h2v2h-2zM128 -24h2v2h-2zM130 -24h2v2h-2zM134 -24h2v2h-2zM136 -24h2v2h-2zM144 -24h2v2h-2zM146 -24h2v2h-2zM154 -24h2v2h-2zM130 -22h2v2h-2zM132 -22h2v2h-2zM138 -22h2v2h-2zM140 -22h2v2h-2zM150 -22h2v2h-2zM154 -22h2v2h-2zM158 -22h2v2h-2zM142 -20h2v2h-2zM158 -20h2v2h-2zM-48 -4h2v2h-2zM122 -4h2v2h-2zM120 0h2v2h-2zM122 0h2v2h-2zM126 0h2v2h-2zM128 0h2v2h-2zM120 2h2v2h-2zM124 2h2v2h-2zM126 2h2v2h-2zM128 2h2v2h-2zM120 4h2v2h-2zM124 4h2v2h-2zM126 4h2v2h-2zM132 4h2v2h-2zM116 8h2v2h-2zM118 8h2v2h-2zM124 8h2v2h-2zM118 10h2v2h-2zM120 10h2v2h-2zM56 12h2v2h-2zM122 12h2v2h-2zM-148 14h2v2h-2zM56 16h2v2h-2zM168 18h2v2h-2zM170 22h2v2h-2zM172 24h2v2h-2zM166 26h2v2h-2zM168 26h2v2h-2zM170 26h2v2h-2zM166 28h2v2h-2z"/><path fill="#0bf4f7" d="M-76 -64h2v2h-2zM-64 -42h2v2h-2zM-166 -38h2v2h-2zM154 -38h2v2h-2zM-168 -36h2v2h-2zM134 -36h2v2h-2zM150 -36h2v2h-2zM160 -36h2v2h-2zM164 -36h2v2h-2zM-160 -34h2v2h-2zM146 -34h2v2h-2zM152 -34h2v2h-2zM168 -34h2v2h-2zM-156 -32h2v2h-2zM-164 -30h2v2h-2zM-158 -30h2v2h-2zM116 -30h2v2h-2zM168 -30h2v2h-2zM106 -28h2v2h-2zM110 -28h2v2h-2zM174 -28h2v2h-2zM110 -26h2v2h-2zM120 -26h2v2h-2zM130 -26h2v2h-2zM140 -26h2v2h-2zM178 -26h2v2h-2zM-164 -24h2v2h-2zM-162 -24h2v2h-2zM-180 -22h2v2h-2zM-178 -22h2v2h-2zM172 -22h2v2h-2zM-170 -20h2v2h-2zM156 -20h2v2h-2zM-174 -18h2v2h-2zM88 -18h2v2h-2zM130 -18h2v2h-2zM138 -18h2v2h-2zM144 -18h2v2h-2zM-172 -16h2v2h-2zM-164 -16h2v2h-2zM122 -16h2v2h-2zM132 -16h2v2h-2zM134 -16h2v2h-2zM162 -16h2v2h-2zM84 -14h2v2h-2zM120 -14h2v2h-2zM172 -14h2v2h-2zM140 -12h2v2h-2zM150 -12h2v2h-2zM154 -12h2v2h-2zM94 -10h2v2h-2zM114 -10h2v2h-2zM124 -8h2v2h-2zM126 -8h2v2h-2zM130 -8h2v2h-2zM136 -6h2v2h-2zM138 -6h2v2h-2zM110 -4h2v2h-2zM158 -2h2v2h-2zM164 -2h2v2h-2zM138 0h2v2h-2zM164 0h2v2h-2zM134 2h2v2h-2zM140 2h2v2h-2zM160 2h2v2h-2zM170 2h2v2h-2zM172 2h2v2h-2zM110 4h2v2h-2zM112 4h2v2h-2zM138 4h2v2h-2zM160 4h2v2h-2zM56 6h2v2h-2zM58 6h2v2h-2zM110 6h2v2h-2zM156 6h2v2h-2zM158 6h2v2h-2zM122 8h2v2h-2zM132 8h2v2h-2zM134 8h2v2h-2zM138 8h2v2h-2zM170 8h2v2h-2zM172 8h2v2h-2zM174 8h2v2h-2zM-148 10h2v2h-2zM-146 10h2v2h-2zM-142 10h2v2h-2zM-138 10h2v2h-2zM54 10h2v2h-2zM110 10h2v2h-2zM114 10h2v2h-2zM-156 12h2v2h-2zM-140 12h2v2h-2zM-136 12h2v2h-2zM128 12h2v2h-2zM176 12h2v2h-2zM-2 14h2v2h-2zM36 14h2v2h-2zM174 14h2v2h-2zM-8 16h2v2h-2zM64 16h2v2h-2zM118 16h2v2h-2zM122 16h2v2h-2zM124 16h2v2h-2zM132 16h2v2h-2zM152 16h2v2h-2zM-138 18h2v2h-2zM52 18h2v2h-2zM56 18h2v2h-2zM126 18h2v2h-2zM-92 20h2v2h-2zM60 20h2v2h-2zM-154 22h2v2h-2zM-146 22h2v2h-2zM-140 22h2v2h-2zM54 22h2v2h-2zM56 22h2v2h-2zM-154 24h2v2h-2zM-140 24h2v2h-2zM50 24h2v2h-2zM154 24h2v2h-2zM164 24h2v2h-2zM-148 26h2v2h-2zM-56 26h2v2h-2zM48 28h2v2h-2zM52 28h2v2h-2zM54 28h2v2h-2zM156 28h2v2h-2zM-8 30h2v2h-2zM-14 32h2v2h-2zM-6 32h2v2h-2zM160 32h2v2h-2zM164 32h2v2h-2zM-12 34h2v2h-2zM152 34h2v2h-2zM166 34h2v2h-2zM162 36h2v2h-2z"/><path fill="#27f0e2" d="M-10 -68h2v2h-2zM-80 -66h2v2h-2zM-88 -62h2v2h-2zM124 -52h2v2h-2zM-176 -42h2v2h-2zM-170 -42h2v2h-2zM152 -42h2v2h-2zM-68 -40h2v2h-2zM-66 -40h2v2h-2zM128 -40h2v2h-2zM150 -40h2v2h-2zM154 -40h2v2h-2zM-168 -38h2v2h-2zM-160 -38h2v2h-2zM132 -38h2v2h-2zM146 -38h2v2h-2zM-172 -36h2v2h-2zM124 -36h2v2h-2zM-176 -34h2v2h-2zM-158 -34h2v2h-2zM140 -34h2v2h-2zM158 -34h2v2h-2zM-176 -32h2v2h-2zM114 -32h2v2h-2zM138 -32h2v2h-2zM-178 -30h2v2h-2zM112 -30h2v2h-2zM114 -30h2v2h-2zM120 -30h2v2h-2zM152 -30h2v2h-2zM112 -28h2v2h-2zM122 -28h2v2h-2zM124 -28h2v2h-2zM170 -28h2v2h-2zM172 -28h2v2h-2zM-176 -26h2v2h-2zM134 -26h2v2h-2zM160 -26h2v2h-2zM118 -24h2v2h-2zM-170 -22h2v2h-2zM126 -22h2v2h-2zM-180 -20h2v2h-2zM-166 -20h2v2h-2zM-162 -20h2v2h-2zM-112 -20h2v2h-2zM110 -20h2v2h-2zM174 -20h2v2h-2zM-168 -18h2v2h-2zM-104 -18h2v2h-2zM-12 -18h2v2h-2zM-4 -18h2v2h-2zM114 -18h2v2h-2zM116 -18h2v2h-2zM118 -18h2v2h-2zM120 -18h2v2h-2zM134 -18h2v2h-2zM-168 -16h2v2h-2zM128 -16h2v2h-2zM164 -16h2v2h-2zM174 -16h2v2h-2zM176 -16h2v2h-2zM126 -14h2v2h-2zM132 -14h2v2h-2zM136 -14h2v2h-2zM146 -14h2v2h-2zM164 -14h2v2h-2zM120 -12h2v2h-2zM126 -12h2v2h-2zM130 -12h2v2h-2zM134 -12h2v2h-2zM136 -12h2v2h-2zM144 -12h2v2h-2zM156 -12h2v2h-2zM172 -12h2v2h-2zM140 -10h2v2h-2zM158 -10h2v2h-2zM-44 -8h2v2h-2zM-18 -6h2v2h-2zM122 -6h2v2h-2zM136 -4h2v2h-2zM138 -4h2v2h-2zM108 -2h2v2h-2zM110 -2h2v2h-2zM124 -2h2v2h-2zM50 0h2v2h-2zM160 0h2v2h-2zM168 0h2v2h-2zM170 0h2v2h-2zM-84 2h2v2h-2zM112 2h2v2h-2zM158 2h2v2h-2zM168 2h2v2h-2zM116 4h2v2h-2zM128 4h2v2h-2zM158 4h2v2h-2zM108 6h2v2h-2zM136 6h2v2h-2zM160 6h2v2h-2zM-154 8h2v2h-2zM-150 8h2v2h-2zM-148 8h2v2h-2zM-138 8h2v2h-2zM-136 8h2v2h-2zM56 8h2v2h-2zM-8 10h2v2h-2zM42 10h2v2h-2zM62 10h2v2h-2zM136 10h2v2h-2zM164 10h2v2h-2zM170 10h2v2h-2zM172 10h2v2h-2zM176 10h2v2h-2zM-144 12h2v2h-2zM46 12h2v2h-2zM48 12h2v2h-2zM54 12h2v2h-2zM112 12h2v2h-2zM130 12h2v2h-2zM-4 14h2v2h-2zM62 14h2v2h-2zM64 14h2v2h-2zM126 14h2v2h-2zM130 14h2v2h-2zM138 14h2v2h-2zM146 14h2v2h-2zM176 14h2v2h-2zM-136 16h2v2h-2zM-4 16h2v2h-2zM52 16h2v2h-2zM142 16h2v2h-2zM150 16h2v2h-2zM-160 18h2v2h-2zM-60 18h2v2h-2zM-58 18h2v2h-2zM36 18h2v2h-2zM38 18h2v2h-2zM62 18h2v2h-2zM118 18h2v2h-2zM128 18h2v2h-2zM-152 20h2v2h-2zM-90 20h2v2h-2zM-54 20h2v2h-2zM44 20h2v2h-2zM62 20h2v2h-2zM128 20h2v2h-2zM176 20h2v2h-2zM-142 22h2v2h-2zM-136 22h2v2h-2zM-56 22h2v2h-2zM58 22h2v2h-2zM134 22h2v2h-2zM-146 24h2v2h-2zM62 24h2v2h-2zM162 24h2v2h-2zM50 26h2v2h-2zM144 26h2v2h-2zM174 26h2v2h-2zM-56 28h2v2h-2zM2 28h2v2h-2zM0 30h2v2h-2zM44 30h2v2h-2zM50 30h2v2h-2zM52 30h2v2h-2zM158 30h2v2h-2zM-10 34h2v2h-2zM54 34h2v2h-2zM-18 36h2v2h-2zM-14 38h2v2h-2zM44 38h2v2h-2zM158 38h2v2h-2zM-16 40h2v2h-2zM-10 40h2v2h-2zM160 40h2v2h-2z"/><path fill="#4ee2ce" d="M-6 -76h2v2h-2zM2 -76h2v2h-2zM50 -72h2v2h-2zM134 -70h2v2h-2zM-124 -64h2v2h-2zM-64 -62h2v2h-2zM-96 -60h2v2h-2zM-82 -60h2v2h-2zM-80 -60h2v2h-2zM128 -60h2v2h-2zM-88 -56h2v2h-2zM-150 -52h2v2h-2zM122 -52h2v2h-2zM70 -48h2v2h-2zM106 -48h2v2h-2zM-172 -46h2v2h-2zM156 -46h2v2h-2zM158 -46h2v2h-2zM92 -44h2v2h-2zM148 -44h2v2h-2zM-178 -42h2v2h-2zM144 -42h2v2h-2zM-170 -40h2v2h-2zM-64 -40h2v2h-2zM98 -40h2v2h-2zM116 -40h2v2h-2zM136 -40h2v2h-2zM140 -40h2v2h-2zM142 -40h2v2h-2zM-176 -38h2v2h-2zM-164 -38h2v2h-2zM142 -38h2v2h-2zM-158 -36h2v2h-2zM88 -36h2v2h-2zM138 -36h2v2h-2zM142 -36h2v2h-2zM-168 -34h2v2h-2zM122 -34h2v2h-2zM138 -34h2v2h-2zM142 -34h2v2h-2zM154 -34h2v2h-2zM162 -34h2v2h-2zM-154 -32h2v2h-2zM-112 -32h2v2h-2zM110 -32h2v2h-2zM120 -32h2v2h-2zM136 -32h2v2h-2zM-180 -30h2v2h-2zM-176 -30h2v2h-2zM-78 -30h2v2h-2zM-76 -30h2v2h-2zM50 -30h2v2h-2zM76 -30h2v2h-2zM106 -30h2v2h-2zM168 -28h2v2h-2zM-158 -26h2v2h-2zM-178 -24h2v2h-2zM-174 -24h2v2h-2zM-114 -24h2v2h-2zM-66 -24h2v2h-2zM166 -24h2v2h-2zM174 -24h2v2h-2zM-160 -22h2v2h-2zM-110 -22h2v2h-2zM122 -22h2v2h-2zM176 -22h2v2h-2zM-172 -20h2v2h-2zM-106 -20h2v2h-2zM-10 -20h2v2h-2zM86 -20h2v2h-2zM168 -20h2v2h-2zM-108 -18h2v2h-2zM-6 -18h2v2h-2zM84 -18h2v2h-2zM122 -18h2v2h-2zM150 -18h2v2h-2zM172 -18h2v2h-2zM-170 -16h2v2h-2zM88 -16h2v2h-2zM112 -16h2v2h-2zM114 -16h2v2h-2zM148 -16h2v2h-2zM166 -16h2v2h-2zM168 -16h2v2h-2zM-28 -14h2v2h-2zM104 -14h2v2h-2zM110 -14h2v2h-2zM112 -14h2v2h-2zM116 -14h2v2h-2zM140 -14h2v2h-2zM166 -14h2v2h-2zM26 -12h2v2h-2zM44 -12h2v2h-2zM84 -12h2v2h-2zM116 -12h2v2h-2zM118 -12h2v2h-2zM166 -12h2v2h-2zM-6 -10h2v2h-2zM116 -10h2v2h-2zM122 -10h2v2h-2zM132 -10h2v2h-2zM148 -10h2v2h-2zM152 -10h2v2h-2zM156 -10h2v2h-2zM162 -10h2v2h-2zM166 -10h2v2h-2zM168 -10h2v2h-2zM-18 -8h2v2h-2zM46 -8h2v2h-2zM84 -8h2v2h-2zM88 -8h2v2h-2zM90 -8h2v2h-2zM138 -8h2v2h-2zM142 -8h2v2h-2zM160 -8h2v2h-2zM162 -8h2v2h-2zM-40 -6h2v2h-2zM0 -6h2v2h-2zM116 -6h2v2h-2zM140 -6h2v2h-2zM142 -6h2v2h-2zM148 -6h2v2h-2zM158 -6h2v2h-2zM162 -6h2v2h-2zM164 -6h2v2h-2zM166 -6h2v2h-2zM-54 -4h2v2h-2zM-40 -4h2v2h-2zM0 -4h2v2h-2zM88 -4h2v2h-2zM116 -4h2v2h-2zM160 -4h2v2h-2zM162 -4h2v2h-2zM-66 -2h2v2h-2zM-52 -2h2v2h-2zM-40 -2h2v2h-2zM2 -2h2v2h-2zM12 -2h2v2h-2zM50 -2h2v2h-2zM112 -2h2v2h-2zM140 -2h2v2h-2zM142 -2h2v2h-2zM152 -2h2v2h-2zM160 -2h2v2h-2zM166 -2h2v2h-2zM-50 0h2v2h-2zM54 0h2v2h-2zM140 0h2v2h-2zM154 2h2v2h-2zM-146 4h2v2h-2zM-142 4h2v2h-2zM44 4h2v2h-2zM50 4h2v2h-2zM54 4h2v2h-2zM56 4h2v2h-2zM108 4h2v2h-2zM134 4h2v2h-2zM150 4h2v2h-2zM168 4h2v2h-2zM172 4h2v2h-2zM-150 6h2v2h-2zM-138 6h2v2h-2zM40 6h2v2h-2zM44 6h2v2h-2zM54 6h2v2h-2zM66 6h2v2h-2zM106 6h2v2h-2zM114 6h2v2h-2zM142 6h2v2h-2zM152 6h2v2h-2zM172 6h2v2h-2zM176 6h2v2h-2zM-152 8h2v2h-2zM-144 8h2v2h-2zM-142 8h2v2h-2zM-2 8h2v2h-2zM48 8h2v2h-2zM50 8h2v2h-2zM52 8h2v2h-2zM106 8h2v2h-2zM112 8h2v2h-2zM114 8h2v2h-2zM144 10h2v2h-2zM174 10h2v2h-2zM-146 12h2v2h-2zM-106 12h2v2h-2zM-76 12h2v2h-2zM-6 12h2v2h-2zM-4 12h2v2h-2zM40 12h2v2h-2zM44 12h2v2h-2zM110 12h2v2h-2zM140 12h2v2h-2zM150 12h2v2h-2zM-154 14h2v2h-2zM-134 14h2v2h-2zM-64 14h2v2h-2zM-60 14h2v2h-2zM-8 14h2v2h-2zM-6 14h2v2h-2zM38 14h2v2h-2zM54 14h2v2h-2zM108 14h2v2h-2zM134 14h2v2h-2zM-160 16h2v2h-2zM-158 16h2v2h-2zM-156 16h2v2h-2zM-146 16h2v2h-2zM-132 16h2v2h-2zM-64 16h2v2h-2zM-62 16h2v2h-2zM-60 16h2v2h-2zM-56 16h2v2h-2zM-54 16h2v2h-2zM26 16h2v2h-2zM34 16h2v2h-2zM38 16h2v2h-2zM48 16h2v2h-2zM114 16h2v2h-2zM138 16h2v2h-2zM-130 18h2v2h-2zM-2 18h2v2h-2zM32 18h2v2h-2zM130 18h2v2h-2zM132 18h2v2h-2zM140 18h2v2h-2zM176 18h2v2h-2zM-142 20h2v2h-2zM-134 20h2v2h-2zM-58 20h2v2h-2zM150 20h2v2h-2zM-156 22h2v2h-2zM-150 22h2v2h-2zM36 22h2v2h-2zM64 22h2v2h-2zM152 22h2v2h-2zM154 22h2v2h-2zM-136 24h2v2h-2zM-58 24h2v2h-2zM52 24h2v2h-2zM176 24h2v2h-2zM-58 26h2v2h-2zM54 26h2v2h-2zM148 26h2v2h-2zM156 26h2v2h-2zM-10 28h2v2h-2zM38 28h2v2h-2zM152 28h2v2h-2zM-14 30h2v2h-2zM4 30h2v2h-2zM30 30h2v2h-2zM38 30h2v2h-2zM48 30h2v2h-2zM148 30h2v2h-2zM154 30h2v2h-2zM156 30h2v2h-2zM170 30h2v2h-2zM-180 32h2v2h-2zM-152 32h2v2h-2zM-88 32h2v2h-2zM-20 32h2v2h-2zM2 32h2v2h-2zM8 32h2v2h-2zM56 32h2v2h-2zM58 32h2v2h-2zM64 32h2v2h-2zM150 32h2v2h-2zM-112 34h2v2h-2zM-94 34h2v2h-2zM-90 34h2v2h-2zM0 34h2v2h-2zM4 34h2v2h-2zM164 34h2v2h-2zM168 34h2v2h-2zM170 34h2v2h-2zM-96 36h2v2h-2zM-20 36h2v2h-2zM-14 36h2v2h-2zM-6 36h2v2h-2zM154 36h2v2h-2zM168 36h2v2h-2zM-92 38h2v2h-2zM-90 38h2v2h-2zM-66 38h2v2h-2zM-62 38h2v2h-2zM4 38h2v2h-2zM172 38h2v2h-2zM-8 40h2v2h-2zM172 40h2v2h-2zM-90 42h2v2h-2zM46 42h2v2h-2zM-108 50h2v2h-2zM-100 52h2v2h-2zM-112 54h2v2h-2zM-18 54h2v2h-2zM-12 62h2v2h-2zM40 62h2v2h-2zM-10 64h2v2h-2zM166 64h2v2h-2zM22 68h2v2h-2zM100 72h2v2h-2z"/><path fill="#74d4bd" d="M-152 -82h2v2h-2zM-70 -82h2v2h-2zM-36 -82h2v2h-2zM-4 -80h2v2h-2zM122 -80h2v2h-2zM168 -80h2v2h-2zM-152 -78h2v2h-2zM-126 -78h2v2h-2zM98 -78h2v2h-2zM130 -78h2v2h-2zM132 -78h2v2h-2zM-72 -76h2v2h-2zM-64 -76h2v2h-2zM4 -76h2v2h-2zM48 -76h2v2h-2zM132 -76h2v2h-2zM-160 -74h2v2h-2zM-156 -74h2v2h-2zM10 -74h2v2h-2zM-132 -72h2v2h-2zM-128 -72h2v2h-2zM-94 -72h2v2h-2zM-84 -72h2v2h-2zM-26 -72h2v2h-2zM-14 -72h2v2h-2zM46 -72h2v2h-2zM126 -72h2v2h-2zM-24 -70h2v2h-2zM-8 -70h2v2h-2zM-6 -70h2v2h-2zM114 -70h2v2h-2zM-134 -68h2v2h-2zM-130 -68h2v2h-2zM-86 -68h2v2h-2zM22 -68h2v2h-2zM46 -68h2v2h-2zM-114 -66h2v2h-2zM-88 -66h2v2h-2zM-78 -66h2v2h-2zM-6 -66h2v2h-2zM104 -66h2v2h-2zM150 -66h2v2h-2zM174 -66h2v2h-2zM-94 -64h2v2h-2zM-90 -64h2v2h-2zM-44 -64h2v2h-2zM-30 -64h2v2h-2zM-28 -64h2v2h-2zM84 -64h2v2h-2zM140 -64h2v2h-2zM-172 -62h2v2h-2zM-94 -62h2v2h-2zM-90 -62h2v2h-2zM-76 -62h2v2h-2zM32 -62h2v2h-2zM112 -60h2v2h-2zM-96 -58h2v2h-2zM132 -58h2v2h-2zM-96 -56h2v2h-2zM54 -56h2v2h-2zM72 -56h2v2h-2zM86 -56h2v2h-2zM118 -56h2v2h-2zM-150 -54h2v2h-2zM-72 -54h2v2h-2zM86 -54h2v2h-2zM118 -54h2v2h-2zM120 -54h2v2h-2zM-148 -52h2v2h-2zM-42 -52h2v2h-2zM70 -52h2v2h-2zM74 -52h2v2h-2zM100 -52h2v2h-2zM-152 -50h2v2h-2zM-24 -50h2v2h-2zM84 -50h2v2h-2zM104 -50h2v2h-2zM118 -50h2v2h-2zM122 -50h2v2h-2zM126 -50h2v2h-2zM176 -50h2v2h-2zM-178 -48h2v2h-2zM-116 -48h2v2h-2zM156 -48h2v2h-2zM164 -48h2v2h-2zM-164 -46h2v2h-2zM-98 -46h2v2h-2zM-64 -46h2v2h-2zM-42 -46h2v2h-2zM14 -46h2v2h-2zM114 -46h2v2h-2zM166 -46h2v2h-2zM-178 -44h2v2h-2zM-176 -44h2v2h-2zM-172 -44h2v2h-2zM-168 -44h2v2h-2zM-160 -44h2v2h-2zM-34 -44h2v2h-2zM130 -44h2v2h-2zM142 -44h2v2h-2zM144 -44h2v2h-2zM-174 -42h2v2h-2zM-168 -42h2v2h-2zM-160 -42h2v2h-2zM-116 -42h2v2h-2zM-112 -42h2v2h-2zM-70 -42h2v2h-2zM142 -42h2v2h-2zM150 -42h2v2h-2zM156 -42h2v2h-2zM164 -42h2v2h-2zM-174 -40h2v2h-2zM-168 -40h2v2h-2zM-166 -40h2v2h-2zM-164 -40h2v2h-2zM-76 -40h2v2h-2zM16 -40h2v2h-2zM92 -40h2v2h-2zM148 -40h2v2h-2zM156 -40h2v2h-2zM-172 -38h2v2h-2zM-158 -38h2v2h-2zM-154 -38h2v2h-2zM-68 -38h2v2h-2zM-6 -38h2v2h-2zM122 -38h2v2h-2zM134 -38h2v2h-2zM-160 -36h2v2h-2zM-108 -36h2v2h-2zM-28 -36h2v2h-2zM10 -36h2v2h-2zM74 -36h2v2h-2zM114 -36h2v2h-2zM118 -36h2v2h-2zM128 -36h2v2h-2zM130 -36h2v2h-2zM132 -36h2v2h-2zM136 -36h2v2h-2zM168 -36h2v2h-2zM-70 -34h2v2h-2zM106 -34h2v2h-2zM124 -34h2v2h-2zM130 -34h2v2h-2zM132 -34h2v2h-2zM134 -34h2v2h-2zM172 -34h2v2h-2zM178 -34h2v2h-2zM-164 -32h2v2h-2zM-158 -32h2v2h-2zM-120 -32h2v2h-2zM-76 -32h2v2h-2zM-74 -32h2v2h-2zM30 -32h2v2h-2zM38 -32h2v2h-2zM118 -32h2v2h-2zM122 -32h2v2h-2zM162 -32h2v2h-2zM-156 -30h2v2h-2zM-154 -30h2v2h-2zM-134 -30h2v2h-2zM52 -30h2v2h-2zM118 -30h2v2h-2zM-174 -28h2v2h-2zM52 -28h2v2h-2zM62 -28h2v2h-2zM-160 -26h2v2h-2zM-156 -26h2v2h-2zM-134 -26h2v2h-2zM-120 -26h2v2h-2zM24 -26h2v2h-2zM52 -26h2v2h-2zM106 -24h2v2h-2zM114 -24h2v2h-2zM116 -24h2v2h-2zM142 -24h2v2h-2zM-120 -22h2v2h-2zM-112 -22h2v2h-2zM88 -22h2v2h-2zM102 -22h2v2h-2zM-176 -20h2v2h-2zM-158 -20h2v2h-2zM-108 -20h2v2h-2zM-46 -20h2v2h-2zM-26 -20h2v2h-2zM-16 -20h2v2h-2zM-4 -20h2v2h-2zM112 -20h2v2h-2zM122 -20h2v2h-2zM172 -20h2v2h-2zM-166 -18h2v2h-2zM-112 -18h2v2h-2zM-102 -18h2v2h-2zM-100 -18h2v2h-2zM-2 -18h2v2h-2zM10 -18h2v2h-2zM178 -18h2v2h-2zM-166 -16h2v2h-2zM-154 -16h2v2h-2zM-114 -16h2v2h-2zM-104 -16h2v2h-2zM-28 -16h2v2h-2zM-14 -16h2v2h-2zM-12 -16h2v2h-2zM-10 -16h2v2h-2zM-6 -16h2v2h-2zM-4 -16h2v2h-2zM110 -16h2v2h-2zM126 -16h2v2h-2zM160 -16h2v2h-2zM-120 -14h2v2h-2zM-4 -14h2v2h-2zM-2 -14h2v2h-2zM96 -14h2v2h-2zM114 -14h2v2h-2zM122 -14h2v2h-2zM128 -14h2v2h-2zM142 -14h2v2h-2zM170 -14h2v2h-2zM-102 -12h2v2h-2zM-32 -12h2v2h-2zM-28 -12h2v2h-2zM32 -12h2v2h-2zM94 -12h2v2h-2zM138 -12h2v2h-2zM152 -12h2v2h-2zM160 -12h2v2h-2zM162 -12h2v2h-2zM170 -12h2v2h-2zM0 -10h2v2h-2zM28 -10h2v2h-2zM110 -10h2v2h-2zM118 -10h2v2h-2zM134 -10h2v2h-2zM142 -10h2v2h-2zM144 -10h2v2h-2zM146 -10h2v2h-2zM150 -10h2v2h-2zM164 -10h2v2h-2zM172 -10h2v2h-2zM-110 -8h2v2h-2zM-42 -8h2v2h-2zM-40 -8h2v2h-2zM-6 -8h2v2h-2zM-4 -8h2v2h-2zM30 -8h2v2h-2zM112 -8h2v2h-2zM114 -8h2v2h-2zM134 -8h2v2h-2zM140 -8h2v2h-2zM144 -8h2v2h-2zM146 -8h2v2h-2zM150 -8h2v2h-2zM154 -8h2v2h-2zM166 -8h2v2h-2zM172 -8h2v2h-2zM-82 -6h2v2h-2zM-36 -6h2v2h-2zM32 -6h2v2h-2zM48 -6h2v2h-2zM84 -6h2v2h-2zM114 -6h2v2h-2zM152 -6h2v2h-2zM-116 -4h2v2h-2zM-114 -4h2v2h-2zM-18 -4h2v2h-2zM-16 -4h2v2h-2zM4 -4h2v2h-2zM28 -4h2v2h-2zM40 -4h2v2h-2zM50 -4h2v2h-2zM52 -4h2v2h-2zM86 -4h2v2h-2zM142 -4h2v2h-2zM158 -4h2v2h-2zM168 -4h2v2h-2zM170 -4h2v2h-2zM-82 -2h2v2h-2zM-42 -2h2v2h-2zM-38 -2h2v2h-2zM-18 -2h2v2h-2zM28 -2h2v2h-2zM54 -2h2v2h-2zM150 -2h2v2h-2zM170 -2h2v2h-2zM-86 0h2v2h-2zM-84 0h2v2h-2zM-42 0h2v2h-2zM-40 0h2v2h-2zM52 0h2v2h-2zM88 0h2v2h-2zM100 0h2v2h-2zM152 0h2v2h-2zM-148 2h2v2h-2zM-88 2h2v2h-2zM-48 2h2v2h-2zM-46 2h2v2h-2zM-44 2h2v2h-2zM46 2h2v2h-2zM50 2h2v2h-2zM52 2h2v2h-2zM54 2h2v2h-2zM144 2h2v2h-2zM164 2h2v2h-2zM-150 4h2v2h-2zM-130 4h2v2h-2zM-114 4h2v2h-2zM-82 4h2v2h-2zM-56 4h2v2h-2zM0 4h2v2h-2zM36 4h2v2h-2zM58 4h2v2h-2zM-154 6h2v2h-2zM-144 6h2v2h-2zM-140 6h2v2h-2zM-86 6h2v2h-2zM140 6h2v2h-2zM148 6h2v2h-2zM150 6h2v2h-2zM178 6h2v2h-2zM-8 8h2v2h-2zM-4 8h2v2h-2zM0 8h2v2h-2zM2 8h2v2h-2zM104 8h2v2h-2zM108 8h2v2h-2zM-150 10h2v2h-2zM-80 10h2v2h-2zM-78 10h2v2h-2zM-12 10h2v2h-2zM2 10h2v2h-2zM52 10h2v2h-2zM138 10h2v2h-2zM148 10h2v2h-2zM-180 12h2v2h-2zM-178 12h2v2h-2zM-158 12h2v2h-2zM-154 12h2v2h-2zM-132 12h2v2h-2zM-74 12h2v2h-2zM-60 12h2v2h-2zM-40 12h2v2h-2zM58 12h2v2h-2zM60 12h2v2h-2zM148 12h2v2h-2zM-74 14h2v2h-2zM-58 14h2v2h-2zM-10 14h2v2h-2zM0 14h2v2h-2zM2 14h2v2h-2zM52 14h2v2h-2zM110 14h2v2h-2zM114 14h2v2h-2zM142 14h2v2h-2zM150 14h2v2h-2zM-134 16h2v2h-2zM-92 16h2v2h-2zM-80 16h2v2h-2zM-58 16h2v2h-2zM-6 16h2v2h-2zM-2 16h2v2h-2zM2 16h2v2h-2zM50 16h2v2h-2zM166 16h2v2h-2zM-158 18h2v2h-2zM-90 18h2v2h-2zM-10 18h2v2h-2zM-6 18h2v2h-2zM64 18h2v2h-2zM68 18h2v2h-2zM122 18h2v2h-2zM-160 20h2v2h-2zM-88 20h2v2h-2zM-60 20h2v2h-2zM54 20h2v2h-2zM84 20h2v2h-2zM120 20h2v2h-2zM132 20h2v2h-2zM148 20h2v2h-2zM178 20h2v2h-2zM-180 22h2v2h-2zM-172 22h2v2h-2zM-160 22h2v2h-2zM132 22h2v2h-2zM140 22h2v2h-2zM148 22h2v2h-2zM166 22h2v2h-2zM172 22h2v2h-2zM-144 24h2v2h-2zM-138 24h2v2h-2zM-134 24h2v2h-2zM-56 24h2v2h-2zM4 24h2v2h-2zM12 24h2v2h-2zM54 24h2v2h-2zM118 24h2v2h-2zM120 24h2v2h-2zM130 24h2v2h-2zM152 24h2v2h-2zM158 24h2v2h-2zM166 24h2v2h-2zM-156 26h2v2h-2zM-140 26h2v2h-2zM-138 26h2v2h-2zM-106 26h2v2h-2zM-102 26h2v2h-2zM-72 26h2v2h-2zM-16 26h2v2h-2zM6 26h2v2h-2zM46 26h2v2h-2zM60 26h2v2h-2zM90 26h2v2h-2zM102 26h2v2h-2zM136 26h2v2h-2zM152 26h2v2h-2zM176 26h2v2h-2zM-178 28h2v2h-2zM-154 28h2v2h-2zM-148 28h2v2h-2zM-146 28h2v2h-2zM-144 28h2v2h-2zM-22 28h2v2h-2zM-6 28h2v2h-2zM46 28h2v2h-2zM56 28h2v2h-2zM178 28h2v2h-2zM-176 30h2v2h-2zM-156 30h2v2h-2zM-148 30h2v2h-2zM-146 30h2v2h-2zM-98 30h2v2h-2zM-20 30h2v2h-2zM2 30h2v2h-2zM6 30h2v2h-2zM28 30h2v2h-2zM54 30h2v2h-2zM-90 32h2v2h-2zM-10 32h2v2h-2zM-8 32h2v2h-2zM50 32h2v2h-2zM128 32h2v2h-2zM-16 34h2v2h-2zM-2 34h2v2h-2zM10 34h2v2h-2zM32 34h2v2h-2zM42 34h2v2h-2zM162 34h2v2h-2zM-92 36h2v2h-2zM-68 36h2v2h-2zM-60 36h2v2h-2zM-28 36h2v2h-2zM0 36h2v2h-2zM4 36h2v2h-2zM32 36h2v2h-2zM38 36h2v2h-2zM-64 38h2v2h-2zM-8 38h2v2h-2zM-6 38h2v2h-2zM-2 38h2v2h-2zM8 38h2v2h-2zM24 38h2v2h-2zM42 38h2v2h-2zM74 38h2v2h-2zM154 38h2v2h-2zM156 38h2v2h-2zM164 38h2v2h-2zM-92 40h2v2h-2zM-66 40h2v2h-2zM-12 40h2v2h-2zM8 40h2v2h-2zM164 40h2v2h-2zM170 40h2v2h-2zM-88 42h2v2h-2zM-80 42h2v2h-2zM-10 42h2v2h-2zM100 42h2v2h-2zM114 42h2v2h-2zM-92 44h2v2h-2zM-44 44h2v2h-2zM108 44h2v2h-2zM-132 48h2v2h-2zM-26 48h2v2h-2zM-124 50h2v2h-2zM-104 50h2v2h-2zM-64 50h2v2h-2zM-24 50h2v2h-2zM54 50h2v2h-2zM60 50h2v2h-2zM-180 52h2v2h-2zM-120 52h2v2h-2zM-110 52h2v2h-2zM-108 52h2v2h-2zM136 52h2v2h-2zM-98 54h2v2h-2zM46 54h2v2h-2zM146 56h2v2h-2zM-138 58h2v2h-2zM-128 58h2v2h-2zM-114 58h2v2h-2zM-52 58h2v2h-2zM-8 58h2v2h-2zM34 58h2v2h-2zM42 58h2v2h-2zM44 58h2v2h-2zM-142 60h2v2h-2zM-110 60h2v2h-2zM-98 60h2v2h-2zM-88 60h2v2h-2zM24 60h2v2h-2zM38 60h2v2h-2zM42 60h2v2h-2zM44 60h2v2h-2zM-44 62h2v2h-2zM20 62h2v2h-2zM38 62h2v2h-2zM138 62h2v2h-2zM-158 64h2v2h-2zM-100 64h2v2h-2zM-4 64h2v2h-2zM66 64h2v2h-2zM94 66h2v2h-2zM-42 68h2v2h-2zM-14 68h2v2h-2zM-6 68h2v2h-2zM4 68h2v2h-2zM-158 70h2v2h-2zM-90 70h2v2h-2zM-74 70h2v2h-2zM-158 72h2v2h-2zM104 72h2v2h-2zM-152 74h2v2h-2zM84 74h2v2h-2zM-166 76h2v2h-2zM-120 76h2v2h-2zM-44 76h2v2h-2zM-168 78h2v2h-2zM26 78h2v2h-2zM30 78h2v2h-2zM166 78h2v2h-2z"/><path fill="#800000" d="M-176 -6h2v2h-2zM-174 -4h2v2h-2zM-174 -2h2v2h-2zM-172 -2h2v2h-2zM-174 0h2v2h-2zM-172 2h2v2h-2z"/><path fill="#90c9b7" d="M-154 -82h2v2h-2zM86 -80h2v2h-2zM154 -74h2v2h-2zM-134 -70h2v2h-2zM-12 -68h2v2h-2zM44 -64h2v2h-2zM52 -64h2v2h-2zM-92 -62h2v2h-2zM-84 -60h2v2h-2zM40 -60h2v2h-2zM-102 -56h2v2h-2zM-104 -50h2v2h-2zM-176 -48h2v2h-2zM-104 -48h2v2h-2zM-16 -48h2v2h-2zM16 -48h2v2h-2zM78 -46h2v2h-2zM-174 -44h2v2h-2zM-170 -44h2v2h-2zM-72 -42h2v2h-2zM-24 -40h2v2h-2zM84 -40h2v2h-2zM-178 -38h2v2h-2zM38 -34h2v2h-2zM-178 -32h2v2h-2zM-50 -32h2v2h-2zM-4 -28h2v2h-2zM50 -28h2v2h-2zM100 -28h2v2h-2zM42 -26h2v2h-2zM176 -26h2v2h-2zM-178 -20h2v2h-2zM-132 -20h2v2h-2zM170 -20h2v2h-2zM-180 -18h2v2h-2zM-158 -18h2v2h-2zM40 -12h2v2h-2zM174 -12h2v2h-2zM-50 -10h2v2h-2zM136 -8h2v2h-2zM156 -6h2v2h-2zM-60 -4h2v2h-2zM-56 -4h2v2h-2zM152 -4h2v2h-2zM34 0h2v2h-2zM-42 2h2v2h-2zM176 2h2v2h-2zM-8 4h2v2h-2zM-88 8h2v2h-2zM-54 8h2v2h-2zM-30 8h2v2h-2zM-132 10h2v2h-2zM62 12h2v2h-2zM148 14h2v2h-2zM-76 16h2v2h-2zM-180 18h2v2h-2zM-96 18h2v2h-2zM-68 18h2v2h-2zM-158 20h2v2h-2zM-8 20h2v2h-2zM154 20h2v2h-2zM-128 22h2v2h-2zM-40 22h2v2h-2zM-2 22h2v2h-2zM144 22h2v2h-2zM-176 24h2v2h-2zM-20 24h2v2h-2zM-6 24h2v2h-2zM178 24h2v2h-2zM-160 26h2v2h-2zM-50 26h2v2h-2zM-92 34h2v2h-2zM-164 36h2v2h-2zM-22 36h2v2h-2zM-20 38h2v2h-2zM166 44h2v2h-2zM48 46h2v2h-2zM-96 48h2v2h-2zM-112 50h2v2h-2zM-98 50h2v2h-2zM-40 50h2v2h-2zM170 50h2v2h-2zM74 54h2v2h-2zM-10 56h2v2h-2zM-80 66h2v2h-2zM-20 70h2v2h-2zM-78 76h2v2h-2zM-68 76h2v2h-2zM-52 76h2v2h-2zM178 76h2v2h-2zM74 78h2v2h-2z"/><path fill="#aa0000" d="M-170 -2h2v2h-2z"/><path fill="#b4c695" d="M-40 -80h2v2h-2zM64 -78h2v2h-2zM50 -76h2v2h-2zM-124 -74h2v2h-2zM-54 -74h2v2h-2zM-42 -72h2v2h-2zM26 -72h2v2h-2zM52 -70h2v2h-2zM-16 -68h2v2h-2zM-94 -58h2v2h-2zM-44 -58h2v2h-2zM-12 -58h2v2h-2zM124 -58h2v2h-2zM98 -54h2v2h-2zM30 -50h2v2h-2zM172 -44h2v2h-2zM32 -42h2v2h-2zM-74 -40h2v2h-2zM-136 -36h2v2h-2zM104 -36h2v2h-2zM-92 -30h2v2h-2zM80 -30h2v2h-2zM98 -26h2v2h-2zM-160 -24h2v2h-2zM170 -22h2v2h-2zM70 -18h2v2h-2zM-172 -14h2v2h-2zM-40 -14h2v2h-2zM-164 -10h2v2h-2zM-162 -8h2v2h-2zM-116 -2h2v2h-2zM-48 -2h2v2h-2zM-26 -2h2v2h-2zM60 -2h2v2h-2zM-34 0h2v2h-2zM78 0h2v2h-2zM-160 6h2v2h-2zM78 8h2v2h-2zM88 12h2v2h-2zM44 16h2v2h-2zM88 16h2v2h-2zM-100 18h2v2h-2zM-20 18h2v2h-2zM-124 22h2v2h-2zM-158 30h2v2h-2zM-154 30h2v2h-2zM-122 30h2v2h-2zM-120 30h2v2h-2zM-40 32h2v2h-2zM-144 36h2v2h-2zM88 36h2v2h-2zM-178 38h2v2h-2zM26 38h2v2h-2zM-28 42h2v2h-2zM32 42h2v2h-2zM96 42h2v2h-2zM-168 44h2v2h-2zM-110 44h2v2h-2zM-118 46h2v2h-2zM14 46h2v2h-2zM6 48h2v2h-2zM50 52h2v2h-2zM-168 54h2v2h-2zM150 54h2v2h-2zM66 56h2v2h-2zM86 56h2v2h-2zM-166 60h2v2h-2zM-46 60h2v2h-2zM-134 62h2v2h-2zM-86 62h2v2h-2zM50 62h2v2h-2zM74 64h2v2h-2zM26 66h2v2h-2zM98 68h2v2h-2zM146 68h2v2h-2zM-100 70h2v2h-2zM-36 76h2v2h-2zM-94 78h2v2h-2z"/><path fill="#bed37a" d="M-166 -82h2v2h-2zM-164 -82h2v2h-2zM-26 -82h2v2h-2zM50 -82h2v2h-2zM112 -82h2v2h-2zM-164 -80h2v2h-2zM-160 -80h2v2h-2zM-132 -80h2v2h-2zM8 -80h2v2h-2zM20 -80h2v2h-2zM-24 -76h2v2h-2zM72 -76h2v2h-2zM108 -76h2v2h-2zM136 -76h2v2h-2zM-174 -74h2v2h-2zM58 -74h2v2h-2zM-144 -72h2v2h-2zM-34 -72h2v2h-2zM-168 -70h2v2h-2zM-108 -70h2v2h-2zM-60 -70h2v2h-2zM-58 -70h2v2h-2zM172 -70h2v2h-2zM-112 -68h2v2h-2zM16 -68h2v2h-2zM40 -68h2v2h-2zM144 -68h2v2h-2zM-172 -66h2v2h-2zM0 -66h2v2h-2zM108 -66h2v2h-2zM-112 -64h2v2h-2zM-6 -64h2v2h-2zM2 -64h2v2h-2zM46 -64h2v2h-2zM70 -64h2v2h-2zM160 -64h2v2h-2zM-178 -62h2v2h-2zM-138 -62h2v2h-2zM-24 -62h2v2h-2zM-54 -60h2v2h-2zM-20 -60h2v2h-2zM160 -60h2v2h-2zM-148 -58h2v2h-2zM-54 -58h2v2h-2zM0 -58h2v2h-2zM20 -58h2v2h-2zM120 -58h2v2h-2zM-160 -56h2v2h-2zM-138 -56h2v2h-2zM-8 -56h2v2h-2zM44 -56h2v2h-2zM140 -56h2v2h-2zM176 -56h2v2h-2zM-142 -54h2v2h-2zM-82 -54h2v2h-2zM34 -54h2v2h-2zM38 -54h2v2h-2zM40 -54h2v2h-2zM32 -52h2v2h-2zM40 -52h2v2h-2zM42 -52h2v2h-2zM-62 -50h2v2h-2zM82 -50h2v2h-2zM-158 -48h2v2h-2zM-142 -48h2v2h-2zM38 -46h2v2h-2zM48 -46h2v2h-2zM116 -46h2v2h-2zM-114 -44h2v2h-2zM-52 -44h2v2h-2zM46 -44h2v2h-2zM52 -44h2v2h-2zM84 -44h2v2h-2zM-66 -42h2v2h-2zM84 -42h2v2h-2zM170 -42h2v2h-2zM174 -42h2v2h-2zM58 -40h2v2h-2zM172 -40h2v2h-2zM174 -40h2v2h-2zM-138 -38h2v2h-2zM-74 -38h2v2h-2zM-72 -38h2v2h-2zM8 -38h2v2h-2zM54 -38h2v2h-2zM64 -38h2v2h-2zM164 -38h2v2h-2zM-180 -36h2v2h-2zM-98 -36h2v2h-2zM102 -36h2v2h-2zM-24 -34h2v2h-2zM56 -34h2v2h-2zM58 -34h2v2h-2zM94 -34h2v2h-2zM166 -34h2v2h-2zM-152 -32h2v2h-2zM-148 -32h2v2h-2zM-134 -32h2v2h-2zM-58 -32h2v2h-2zM92 -32h2v2h-2zM94 -32h2v2h-2zM178 -32h2v2h-2zM-130 -30h2v2h-2zM96 -30h2v2h-2zM-152 -28h2v2h-2zM-132 -28h2v2h-2zM-98 -28h2v2h-2zM78 -28h2v2h-2zM-172 -26h2v2h-2zM-148 -26h2v2h-2zM-124 -26h2v2h-2zM10 -26h2v2h-2zM82 -26h2v2h-2zM90 -26h2v2h-2zM-118 -24h2v2h-2zM-92 -24h2v2h-2zM-60 -24h2v2h-2zM46 -24h2v2h-2zM70 -24h2v2h-2zM82 -24h2v2h-2zM122 -24h2v2h-2zM-146 -22h2v2h-2zM-142 -22h2v2h-2zM-76 -22h2v2h-2zM54 -22h2v2h-2zM62 -22h2v2h-2zM64 -22h2v2h-2zM68 -22h2v2h-2zM98 -22h2v2h-2zM100 -22h2v2h-2zM-130 -20h2v2h-2zM68 -20h2v2h-2zM80 -20h2v2h-2zM176 -20h2v2h-2zM-124 -18h2v2h-2zM60 -18h2v2h-2zM62 -18h2v2h-2zM82 -18h2v2h-2zM-162 -16h2v2h-2zM-138 -16h2v2h-2zM-126 -16h2v2h-2zM-110 -16h2v2h-2zM-18 -16h2v2h-2zM82 -16h2v2h-2zM84 -16h2v2h-2zM178 -16h2v2h-2zM-160 -14h2v2h-2zM-158 -14h2v2h-2zM-152 -14h2v2h-2zM-134 -14h2v2h-2zM-20 -14h2v2h-2zM52 -14h2v2h-2zM66 -14h2v2h-2zM78 -14h2v2h-2zM-180 -12h2v2h-2zM-128 -12h2v2h-2zM-120 -12h2v2h-2zM-26 -12h2v2h-2zM66 -12h2v2h-2zM70 -12h2v2h-2zM90 -12h2v2h-2zM-158 -10h2v2h-2zM-22 -10h2v2h-2zM-18 -10h2v2h-2zM74 -10h2v2h-2zM-180 -8h2v2h-2zM-166 -8h2v2h-2zM-160 -8h2v2h-2zM-150 -8h2v2h-2zM-124 -8h2v2h-2zM-22 -8h2v2h-2zM58 -8h2v2h-2zM78 -8h2v2h-2zM-104 -6h2v2h-2zM-56 -6h2v2h-2zM-34 -6h2v2h-2zM-28 -6h2v2h-2zM62 -6h2v2h-2zM66 -6h2v2h-2zM82 -6h2v2h-2zM90 -6h2v2h-2zM-126 -4h2v2h-2zM-34 -4h2v2h-2zM-30 -4h2v2h-2zM72 -4h2v2h-2zM76 -4h2v2h-2zM96 -4h2v2h-2zM-154 -2h2v2h-2zM-74 -2h2v2h-2zM-62 -2h2v2h-2zM76 -2h2v2h-2zM96 -2h2v2h-2zM114 -2h2v2h-2zM176 -2h2v2h-2zM-100 0h2v2h-2zM-78 0h2v2h-2zM-74 0h2v2h-2zM58 0h2v2h-2zM82 0h2v2h-2zM-180 2h2v2h-2zM-164 2h2v2h-2zM62 2h2v2h-2zM76 2h2v2h-2zM-168 4h2v2h-2zM-104 4h2v2h-2zM-40 4h2v2h-2zM-38 4h2v2h-2zM86 4h2v2h-2zM92 4h2v2h-2zM-178 6h2v2h-2zM-170 6h2v2h-2zM-164 6h2v2h-2zM-108 6h2v2h-2zM-94 6h2v2h-2zM-58 6h2v2h-2zM-24 6h2v2h-2zM78 6h2v2h-2zM112 6h2v2h-2zM-174 8h2v2h-2zM-166 8h2v2h-2zM-162 8h2v2h-2zM-118 8h2v2h-2zM-104 8h2v2h-2zM-100 8h2v2h-2zM-34 8h2v2h-2zM-32 8h2v2h-2zM-16 8h2v2h-2zM84 8h2v2h-2zM96 8h2v2h-2zM-180 10h2v2h-2zM-174 10h2v2h-2zM-166 10h2v2h-2zM-98 10h2v2h-2zM-36 10h2v2h-2zM70 10h2v2h-2zM82 10h2v2h-2zM84 10h2v2h-2zM88 10h2v2h-2zM94 10h2v2h-2zM96 10h2v2h-2zM-168 12h2v2h-2zM-166 12h2v2h-2zM-100 12h2v2h-2zM-48 12h2v2h-2zM36 12h2v2h-2zM74 12h2v2h-2zM-40 14h2v2h-2zM100 14h2v2h-2zM-176 16h2v2h-2zM-16 16h2v2h-2zM16 16h2v2h-2zM80 16h2v2h-2zM86 16h2v2h-2zM90 16h2v2h-2zM-176 18h2v2h-2zM-162 18h2v2h-2zM-18 18h2v2h-2zM-14 18h2v2h-2zM80 18h2v2h-2zM88 18h2v2h-2zM90 18h2v2h-2zM92 18h2v2h-2zM108 18h2v2h-2zM142 18h2v2h-2zM-178 20h2v2h-2zM10 20h2v2h-2zM78 20h2v2h-2zM82 20h2v2h-2zM88 20h2v2h-2zM110 20h2v2h-2zM-176 22h2v2h-2zM88 22h2v2h-2zM124 22h2v2h-2zM-122 24h2v2h-2zM-68 24h2v2h-2zM-24 24h2v2h-2zM-22 24h2v2h-2zM22 24h2v2h-2zM82 24h2v2h-2zM112 24h2v2h-2zM-172 26h2v2h-2zM-168 26h2v2h-2zM-152 26h2v2h-2zM-94 26h2v2h-2zM72 26h2v2h-2zM-156 28h2v2h-2zM-30 28h2v2h-2zM-4 28h2v2h-2zM24 28h2v2h-2zM26 28h2v2h-2zM80 28h2v2h-2zM84 28h2v2h-2zM146 28h2v2h-2zM-132 30h2v2h-2zM-24 30h2v2h-2zM56 30h2v2h-2zM58 30h2v2h-2zM-176 32h2v2h-2zM-108 32h2v2h-2zM48 32h2v2h-2zM52 32h2v2h-2zM-180 34h2v2h-2zM-138 34h2v2h-2zM-20 34h2v2h-2zM34 34h2v2h-2zM78 34h2v2h-2zM88 34h2v2h-2zM-146 36h2v2h-2zM-138 36h2v2h-2zM90 36h2v2h-2zM142 36h2v2h-2zM-176 38h2v2h-2zM-168 38h2v2h-2zM-112 38h2v2h-2zM-58 38h2v2h-2zM86 38h2v2h-2zM92 38h2v2h-2zM144 38h2v2h-2zM146 38h2v2h-2zM-136 40h2v2h-2zM86 40h2v2h-2zM90 40h2v2h-2zM-176 42h2v2h-2zM-154 42h2v2h-2zM20 42h2v2h-2zM136 42h2v2h-2zM148 42h2v2h-2zM176 42h2v2h-2zM-126 44h2v2h-2zM-122 44h2v2h-2zM24 44h2v2h-2zM170 44h2v2h-2zM128 46h2v2h-2zM-180 48h2v2h-2zM24 48h2v2h-2zM60 48h2v2h-2zM156 48h2v2h-2zM174 48h2v2h-2zM-76 50h2v2h-2zM-52 50h2v2h-2zM-28 50h2v2h-2zM8 50h2v2h-2zM134 50h2v2h-2zM162 50h2v2h-2zM178 50h2v2h-2zM-140 52h2v2h-2zM-82 52h2v2h-2zM92 52h2v2h-2zM-140 56h2v2h-2zM-104 56h2v2h-2zM-60 56h2v2h-2zM54 56h2v2h-2zM80 56h2v2h-2zM112 56h2v2h-2zM-160 58h2v2h-2zM14 58h2v2h-2zM84 58h2v2h-2zM86 58h2v2h-2zM90 58h2v2h-2zM-52 60h2v2h-2zM20 60h2v2h-2zM90 60h2v2h-2zM116 60h2v2h-2zM-176 62h2v2h-2zM-126 62h2v2h-2zM-56 62h2v2h-2zM62 62h2v2h-2zM66 62h2v2h-2zM-68 64h2v2h-2zM-36 64h2v2h-2zM70 64h2v2h-2zM72 64h2v2h-2zM80 64h2v2h-2zM-134 66h2v2h-2zM-94 66h2v2h-2zM60 66h2v2h-2zM136 66h2v2h-2zM-62 68h2v2h-2zM-10 68h2v2h-2zM74 68h2v2h-2zM130 68h2v2h-2zM166 68h2v2h-2zM74 70h2v2h-2zM98 70h2v2h-2zM-72 72h2v2h-2zM6 72h2v2h-2zM70 72h2v2h-2zM108 72h2v2h-2zM-142 74h2v2h-2zM-34 76h2v2h-2zM56 76h2v2h-2zM130 76h2v2h-2zM146 76h2v2h-2zM2 78h2v2h-2zM52 78h2v2h-2z"/><path fill="#c00000" d="M-174 -8h2v2h-2z"/><path fill="#cedf5c" d="M124 -78h2v2h-2zM-162 -76h2v2h-2zM-174 -68h2v2h-2zM-58 -62h2v2h-2zM-48 -62h2v2h-2zM-64 -60h2v2h-2zM36 -56h2v2h-2zM156 -56h2v2h-2zM28 -50h2v2h-2zM22 -48h2v2h-2zM-58 -46h2v2h-2zM20 -46h2v2h-2zM172 -42h2v2h-2zM150 -38h2v2h-2zM58 -36h2v2h-2zM-150 -32h2v2h-2zM-140 -32h2v2h-2zM164 -32h2v2h-2zM166 -32h2v2h-2zM-152 -30h2v2h-2zM94 -30h2v2h-2zM90 -28h2v2h-2zM94 -28h2v2h-2zM-70 -24h2v2h-2zM88 -24h2v2h-2zM96 -24h2v2h-2zM124 -24h2v2h-2zM-156 -20h2v2h-2zM-128 -20h2v2h-2zM-88 -20h2v2h-2zM-84 -20h2v2h-2zM92 -20h2v2h-2zM96 -20h2v2h-2zM-144 -18h2v2h-2zM-142 -18h2v2h-2zM-86 -18h2v2h-2zM-66 -18h2v2h-2zM64 -18h2v2h-2zM98 -18h2v2h-2zM100 -18h2v2h-2zM162 -18h2v2h-2zM-160 -16h2v2h-2zM58 -16h2v2h-2zM66 -16h2v2h-2zM-176 -12h2v2h-2zM-172 -12h2v2h-2zM-158 -12h2v2h-2zM-152 -12h2v2h-2zM-118 -12h2v2h-2zM72 -12h2v2h-2zM80 -12h2v2h-2zM148 -12h2v2h-2zM78 -10h2v2h-2zM80 -10h2v2h-2zM-138 -8h2v2h-2zM80 -8h2v2h-2zM178 -8h2v2h-2zM-180 -6h2v2h-2zM-164 -6h2v2h-2zM-140 -6h2v2h-2zM78 -6h2v2h-2zM126 -6h2v2h-2zM178 -6h2v2h-2zM-164 -4h2v2h-2zM-162 -4h2v2h-2zM-14 -4h2v2h-2zM74 -4h2v2h-2zM-164 -2h2v2h-2zM-132 -2h2v2h-2zM18 -2h2v2h-2zM122 -2h2v2h-2zM-180 0h2v2h-2zM-28 0h2v2h-2zM-22 0h2v2h-2zM80 0h2v2h-2zM88 2h2v2h-2zM-180 4h2v2h-2zM-102 4h2v2h-2zM76 4h2v2h-2zM-166 6h2v2h-2zM-34 6h2v2h-2zM-12 6h2v2h-2zM82 6h2v2h-2zM92 6h2v2h-2zM-176 8h2v2h-2zM-12 8h2v2h-2zM-172 10h2v2h-2zM132 10h2v2h-2zM-176 12h2v2h-2zM-30 12h2v2h-2zM-20 12h2v2h-2zM78 14h2v2h-2zM112 14h2v2h-2zM-180 16h2v2h-2zM-172 16h2v2h-2zM-24 16h2v2h-2zM-20 16h2v2h-2zM42 16h2v2h-2zM154 16h2v2h-2zM178 16h2v2h-2zM-26 18h2v2h-2zM-22 18h2v2h-2zM76 18h2v2h-2zM-18 20h2v2h-2zM-152 24h2v2h-2zM-148 24h2v2h-2zM76 24h2v2h-2zM-158 26h2v2h-2zM-126 26h2v2h-2zM-122 26h2v2h-2zM-36 26h2v2h-2zM-10 26h2v2h-2zM58 26h2v2h-2zM-124 28h2v2h-2zM-122 28h2v2h-2zM-118 28h2v2h-2zM-82 28h2v2h-2zM-34 28h2v2h-2zM-160 30h2v2h-2zM-126 30h2v2h-2zM-34 30h2v2h-2zM32 32h2v2h-2zM-178 36h2v2h-2zM-136 36h2v2h-2zM176 36h2v2h-2zM-144 38h2v2h-2zM-134 38h2v2h-2zM170 38h2v2h-2zM-50 40h2v2h-2zM166 42h2v2h-2zM-172 44h2v2h-2zM166 46h2v2h-2zM174 46h2v2h-2zM-166 48h2v2h-2zM178 48h2v2h-2zM-62 54h2v2h-2zM-18 62h2v2h-2zM72 62h2v2h-2zM-178 64h2v2h-2zM118 78h2v2h-2z"/><path fill="#e2ea36" d="M-60 -56h2v2h-2zM-62 -54h2v2h-2zM28 -52h2v2h-2zM-64 -44h2v2h-2zM56 -40h2v2h-2zM56 -38h2v2h-2zM156 -34h2v2h-2zM176 -34h2v2h-2zM152 -32h2v2h-2zM-122 -28h2v2h-2zM92 -28h2v2h-2zM156 -28h2v2h-2zM-144 -24h2v2h-2zM-136 -24h2v2h-2zM86 -24h2v2h-2zM94 -24h2v2h-2zM98 -24h2v2h-2zM-138 -22h2v2h-2zM178 -22h2v2h-2zM-160 -20h2v2h-2zM136 -20h2v2h-2zM-146 -18h2v2h-2zM-80 -18h2v2h-2zM-158 -16h2v2h-2zM82 -14h2v2h-2zM-180 -10h2v2h-2zM84 -10h2v2h-2zM-164 -8h2v2h-2zM-146 -8h2v2h-2zM-134 -8h2v2h-2zM-130 -8h2v2h-2zM82 -8h2v2h-2zM-20 -6h2v2h-2zM70 -6h2v2h-2zM78 -4h2v2h-2zM-144 -2h2v2h-2zM-12 2h2v2h-2zM78 2h2v2h-2zM-28 4h2v2h-2zM-12 4h2v2h-2zM-176 6h2v2h-2zM-168 6h2v2h-2zM86 6h2v2h-2zM94 6h2v2h-2zM-170 8h2v2h-2zM88 8h2v2h-2zM72 10h2v2h-2zM78 10h2v2h-2zM90 10h2v2h-2zM-22 12h2v2h-2zM-16 14h2v2h-2zM88 14h2v2h-2zM128 14h2v2h-2zM178 14h2v2h-2zM178 18h2v2h-2zM34 20h2v2h-2zM40 22h2v2h-2zM-124 24h2v2h-2zM-150 28h2v2h-2zM152 30h2v2h-2zM40 32h2v2h-2zM178 38h2v2h-2zM170 42h2v2h-2zM164 44h2v2h-2zM168 46h2v2h-2zM176 46h2v2h-2zM-178 48h2v2h-2zM-180 50h2v2h-2z"/><path fill="#ea0000" d="M-168 -6h2v2h-2zM-174 2h2v2h-2z"/><path fill="#f9f30a" d="M58 -38h2v2h-2zM162 -38h2v2h-2zM124 -32h2v2h-2zM166 -30h2v2h-2zM94 -26h2v2h-2zM-146 -24h2v2h-2zM120 -24h2v2h-2zM-128 -22h2v2h-2zM96 -22h2v2h-2zM-78 -20h2v2h-2zM-78 -18h2v2h-2zM-72 -18h2v2h-2zM66 -18h2v2h-2zM64 -16h2v2h-2zM-124 -14h2v2h-2zM-162 -12h2v2h-2zM-178 -10h2v2h-2zM-134 -10h2v2h-2zM-126 -10h2v2h-2zM-174 -6h2v2h-2zM118 -6h2v2h-2zM-180 -4h2v2h-2zM-146 -4h2v2h-2zM178 -4h2v2h-2zM-180 -2h2v2h-2zM178 -2h2v2h-2zM-166 0h2v2h-2zM-164 0h2v2h-2zM-166 2h2v2h-2zM-178 4h2v2h-2zM80 4h2v2h-2zM88 4h2v2h-2zM-174 6h2v2h-2zM96 6h2v2h-2zM168 8h2v2h-2zM-24 10h2v2h-2zM80 10h2v2h-2zM152 10h2v2h-2zM-14 12h2v2h-2zM66 12h2v2h-2zM36 16h2v2h-2zM120 16h2v2h-2zM-158 24h2v2h-2zM34 26h2v2h-2zM58 28h2v2h-2zM36 32h2v2h-2zM46 32h2v2h-2zM-176 40h2v2h-2zM-138 40h2v2h-2zM162 40h2v2h-2zM-180 42h2v2h-2zM-178 42h2v2h-2zM160 42h2v2h-2zM-178 44h2v2h-2z"/><path fill="#ff0000" d="M-172 -8h2v2h-2z"/><path fill="#ff1500" d="M172 -32h2v2h-2zM-170 -8h2v2h-2zM-168 -2h2v2h-2z"/><path fill="#ff2b00" d="M-178 -2h2v2h-2zM-170 0h2v2h-2zM-36 28h2v2h-2zM-36 30h2v2h-2z"/><path fill="#ff4000" d="M166 -28h2v2h-2zM158 -24h2v2h-2z"/><path fill="#ff5500" d="M126 -2h2v2h-2zM40 24h2v2h-2zM36 26h2v2h-2z"/><path fill="#ff6b00" d="M148 -20h2v2h-2zM-170 -6h2v2h-2zM-178 -4h2v2h-2zM-168 0h2v2h-2zM126 6h2v2h-2z"/><path fill="#ff8000" d="M-62 -58h2v2h-2zM-62 -56h2v2h-2zM-62 -42h2v2h-2zM164 -28h2v2h-2zM-174 -10h2v2h-2zM-178 -8h2v2h-2zM-176 2h2v2h-2z"/><path fill="#ff9400" d="M-64 -58h2v2h-2zM160 -24h2v2h-2zM90 -20h2v2h-2zM-170 -4h2v2h-2zM172 16h2v2h-2zM34 22h2v2h-2zM176 44h2v2h-2z"/><path fill="#ffa900" d="M170 -34h2v2h-2zM154 -32h2v2h-2zM-174 -12h2v2h-2zM-168 -12h2v2h-2zM-168 -10h2v2h-2zM-172 -6h2v2h-2zM-172 -4h2v2h-2zM-176 -2h2v2h-2zM-172 0h2v2h-2zM-170 2h2v2h-2zM-170 4h2v2h-2zM38 20h2v2h-2zM44 24h2v2h-2zM42 30h2v2h-2z"/><path fill="#ffbd00" d="M92 -8h2v2h-2zM-166 -6h2v2h-2zM-176 -4h2v2h-2zM-168 -4h2v2h-2zM-166 -4h2v2h-2zM-174 4h2v2h-2zM88 6h2v2h-2zM86 10h2v2h-2zM36 24h2v2h-2zM-178 40h2v2h-2zM174 40h2v2h-2zM178 42h2v2h-2z"/><path fill="#ffd100" d="M92 -26h2v2h-2zM-156 -18h2v2h-2zM-176 -10h2v2h-2zM-172 -10h2v2h-2zM-140 -10h2v2h-2zM86 -8h2v2h-2zM84 -4h2v2h-2zM134 -2h2v2h-2zM-176 0h2v2h-2zM86 8h2v2h-2zM36 20h2v2h-2zM32 22h2v2h-2zM174 22h2v2h-2zM174 24h2v2h-2zM-180 46h2v2h-2zM-178 46h2v2h-2z"/><path fill="#ffe600" d="M156 -32h2v2h-2zM-148 -22h2v2h-2zM92 -22h2v2h-2zM-152 -18h2v2h-2zM-82 -18h2v2h-2zM-142 -14h2v2h-2zM-176 -8h2v2h-2zM-166 -2h2v2h-2zM70 0h2v2h-2zM-178 2h2v2h-2zM-168 2h2v2h-2zM-176 4h2v2h-2zM-172 4h2v2h-2zM68 4h2v2h-2zM-22 6h2v2h-2zM70 6h2v2h-2zM-26 8h2v2h-2zM-28 10h2v2h-2zM116 12h2v2h-2zM34 18h2v2h-2zM-38 30h2v2h-2zM38 32h2v2h-2zM178 36h2v2h-2zM178 40h2v2h-2zM174 42h2v2h-2zM-176 44h2v2h-2zM168 44h2v2h-2z"/>
<path fill="#fff" d="M-128 -70.5L-122 -69L-110 -67.5L-96 -67L-90 -69L-85 -70.5L-80 -73.5L-76 -76L-72 -78.5L-66 -80.5L-62 -82L-60 -86L-140 -86L-140 -77L-130 -74ZM-62 63L-52 63.5L-50 69L-38 70L-30 75L-20 77L-20 85L-62 85ZM-79 72L-69 72L-69 65L-79 65Z"/>
<use href="#land" x="-360"/>
<use href="#land" x="0"/>
<use href="#land" x="360"/>
<use href="#ant"/>
<use href="#deco" x="0"/>
<use href="#lakes" x="0"/>
<use href="#deco" x="360"/>
<use href="#lakes" x="360"/>
</g>
<path d="M130.9 298.6V525.4M257.3 298.6V525.4M383.7 298.6V525.4M29.7 475.0H484.9M29.7 412.0H484.9M29.7 349.0H484.9" stroke="#888" stroke-width="0.6" stroke-dasharray="1 2" fill="none" opacity="0.6"/>
</g>
<rect x="29.7" y="298.6" width="455.2" height="226.8" fill="none" stroke="#333" stroke-width="1.3"/>
<path d="M55.0 525.4v-3.5M55.0 298.6v3.5M80.3 525.4v-3.5M80.3 298.6v3.5M105.6 525.4v-3.5M105.6 298.6v3.5M130.9 525.4v-5.0M130.9 298.6v5.0M156.1 525.4v-3.5M156.1 298.6v3.5M181.4 525.4v-3.5M181.4 298.6v3.5M206.7 525.4v-3.5M206.7 298.6v3.5M232.0 525.4v-3.5M232.0 298.6v3.5M257.3 525.4v-5.0M257.3 298.6v5.0M282.6 525.4v-3.5M282.6 298.6v3.5M307.9 525.4v-3.5M307.9 298.6v3.5M333.2 525.4v-3.5M333.2 298.6v3.5M358.5 525.4v-3.5M358.5 298.6v3.5M383.7 525.4v-5.0M383.7 298.6v5.0M409.0 525.4v-3.5M409.0 298.6v3.5M434.3 525.4v-3.5M434.3 298.6v3.5M459.6 525.4v-3.5M459.6 298.6v3.5M29.7 512.8h3.5M484.9 512.8h-3.5M29.7 500.2h3.5M484.9 500.2h-3.5M29.7 487.6h3.5M484.9 487.6h-3.5M29.7 475.0h5.0M484.9 475.0h-5.0M29.7 462.4h3.5M484.9 462.4h-3.5M29.7 449.8h3.5M484.9 449.8h-3.5M29.7 437.2h3.5M484.9 437.2h-3.5M29.7 424.6h3.5M484.9 424.6h-3.5M29.7 412.0h5.0M484.9 412.0h-5.0M29.7 399.4h3.5M484.9 399.4h-3.5M29.7 386.8h3.5M484.9 386.8h-3.5M29.7 374.2h3.5M484.9 374.2h-3.5M29.7 361.6h3.5M484.9 361.6h-3.5M29.7 349.0h5.0M484.9 349.0h-5.0M29.7 336.4h3.5M484.9 336.4h-3.5M29.7 323.8h3.5M484.9 323.8h-3.5M29.7 311.2h3.5M484.9 311.2h-3.5" stroke="#333" stroke-width="1" fill="none"/>
<g font-family="'DejaVu Sans','Liberation Sans',sans-serif" font-size="9.6" fill="#222"><text x="130.9" y="538.9" text-anchor="middle">-100</text><text x="257.3" y="538.9" text-anchor="middle">0</text><text x="383.7" y="538.9" text-anchor="middle">100</text><text x="26.5" y="352.9" text-anchor="end">50</text><text x="26.5" y="415.9" text-anchor="end">0</text><text x="26.5" y="478.9" text-anchor="end">-50</text></g>
<text x="139.6" y="292.6" textLength="235.3" lengthAdjust="spacingAndGlyphs" font-family="'DejaVu Sans','Liberation Sans',sans-serif" font-size="12.8" fill="#222">VAR(SLA - HYCOM) - VAR(SLA - ZERO)</text>
<g clip-path="url(#c4)">
<rect x="524.8" y="297.9" width="458.8" height="227.9" fill="#fff"/>
<g transform="translate(738.85 411.85) scale(1.2794 1.2661)">
<rect x="-200" y="-82" width="420" height="162" fill="#b2b2b2"/>
<rect x="-200" y="-38" width="420" height="76" fill="url(#nz4)"/>
<rect x="-200" y="-82" width="420" height="44" fill="url(#nzs4)"/>
<rect x="-200" y="38" width="420" height="42" fill="url(#nzs4)"/>
<path fill="#0000d8" d="M134 -28h2v2h-2zM146 -28h2v2h-2zM140 -24h2v2h-2zM134 -22h2v2h-2zM140 -22h2v2h-2zM168 14h2v2h-2zM-148 16h2v2h-2zM-142 16h2v2h-2zM62 16h2v2h-2zM-152 18h2v2h-2z"/><path fill="#0000eb" d="M132 -28h2v2h-2zM134 -24h2v2h-2zM122 0h2v2h-2zM120 2h2v2h-2zM-150 12h2v2h-2zM58 16h2v2h-2z"/><path fill="#0000ff" d="M138 -28h2v2h-2zM138 -26h2v2h-2zM154 -26h2v2h-2zM136 -24h2v2h-2zM152 -22h2v2h-2zM126 2h2v2h-2zM62 14h2v2h-2zM164 16h2v2h-2z"/><path fill="#0015ff" d="M134 -26h2v2h-2zM144 -24h2v2h-2zM120 0h2v2h-2zM-148 12h2v2h-2zM60 18h2v2h-2z"/><path fill="#002bff" d="M128 -26h2v2h-2zM150 -26h2v2h-2zM136 -20h2v2h-2zM-44 -2h2v2h-2zM120 4h2v2h-2zM-148 20h2v2h-2z"/><path fill="#0040ff" d="M132 -24h2v2h-2zM156 -24h2v2h-2zM136 -22h2v2h-2zM138 -22h2v2h-2zM150 -22h2v2h-2zM154 -22h2v2h-2zM126 0h2v2h-2zM128 4h2v2h-2zM-154 16h2v2h-2zM60 16h2v2h-2zM-154 18h2v2h-2zM-150 22h2v2h-2z"/><path fill="#0055ff" d="M138 -32h2v2h-2zM130 -28h2v2h-2zM136 -28h2v2h-2zM144 -26h2v2h-2zM156 -22h2v2h-2zM-162 -20h2v2h-2zM138 -20h2v2h-2zM128 0h2v2h-2zM128 2h2v2h-2zM58 12h2v2h-2zM56 14h2v2h-2zM162 18h2v2h-2zM162 20h2v2h-2z"/><path fill="#006bff" d="M132 -30h2v2h-2zM148 -30h2v2h-2zM126 -26h2v2h-2zM-168 -22h2v2h-2zM142 -20h2v2h-2zM148 -20h2v2h-2zM142 -18h2v2h-2zM-46 -4h2v2h-2zM-44 -4h2v2h-2zM120 8h2v2h-2zM164 12h2v2h-2zM166 12h2v2h-2zM56 18h2v2h-2zM166 18h2v2h-2zM-142 20h2v2h-2zM-146 22h2v2h-2z"/><path fill="#0080ff" d="M138 -30h2v2h-2zM144 -30h2v2h-2zM150 -30h2v2h-2zM160 -28h2v2h-2zM-162 -22h2v2h-2zM-142 12h2v2h-2zM-150 18h2v2h-2zM166 20h2v2h-2zM-140 22h2v2h-2zM162 22h2v2h-2z"/><path fill="#0095ff" d="M-62 -40h2v2h-2zM140 -32h2v2h-2zM140 -30h2v2h-2zM154 -30h2v2h-2zM136 -26h2v2h-2zM162 -26h2v2h-2zM160 -24h2v2h-2zM162 -24h2v2h-2zM160 -22h2v2h-2zM-166 -20h2v2h-2zM-164 -20h2v2h-2zM146 -20h2v2h-2zM-164 -18h2v2h-2zM146 -18h2v2h-2zM-150 10h2v2h-2zM124 10h2v2h-2zM60 12h2v2h-2zM52 16h2v2h-2zM160 16h2v2h-2zM168 16h2v2h-2zM-146 18h2v2h-2zM64 18h2v2h-2zM-152 20h2v2h-2zM-150 20h2v2h-2zM-140 20h2v2h-2zM160 24h2v2h-2z"/><path fill="#00aaff" d="M162 -30h2v2h-2zM140 -28h2v2h-2zM164 -26h2v2h-2zM168 -26h2v2h-2zM124 -24h2v2h-2zM126 -24h2v2h-2zM126 -22h2v2h-2zM132 -22h2v2h-2zM162 -22h2v2h-2zM130 -20h2v2h-2zM152 -20h2v2h-2zM154 -20h2v2h-2zM-162 -18h2v2h-2zM140 -18h2v2h-2zM150 -18h2v2h-2zM130 6h2v2h-2zM-140 10h2v2h-2zM58 10h2v2h-2zM126 10h2v2h-2zM-140 16h2v2h-2zM-138 16h2v2h-2zM64 16h2v2h-2zM-140 18h2v2h-2zM60 20h2v2h-2zM160 20h2v2h-2zM168 20h2v2h-2zM-152 22h2v2h-2zM-152 24h2v2h-2zM154 36h2v2h-2z"/><path fill="#00bfff" d="M150 -28h2v2h-2zM152 -28h2v2h-2zM140 -26h2v2h-2zM148 -26h2v2h-2zM156 -26h2v2h-2zM130 -24h2v2h-2zM-24 -22h2v2h-2zM164 -22h2v2h-2zM134 -20h2v2h-2zM150 -20h2v2h-2zM156 -20h2v2h-2zM158 -20h2v2h-2zM94 -18h2v2h-2zM156 -18h2v2h-2zM-166 -16h2v2h-2zM-162 -16h2v2h-2zM-160 -16h2v2h-2zM-166 -14h2v2h-2zM-166 -10h2v2h-2zM-40 -4h2v2h-2zM120 -4h2v2h-2zM122 -4h2v2h-2zM118 -2h2v2h-2zM128 -2h2v2h-2zM116 2h2v2h-2zM118 2h2v2h-2zM126 8h2v2h-2zM-154 10h2v2h-2zM118 10h2v2h-2zM-144 12h2v2h-2zM-150 14h2v2h-2zM-148 14h2v2h-2zM54 14h2v2h-2zM-146 16h2v2h-2zM174 16h2v2h-2zM54 18h2v2h-2zM-146 20h2v2h-2zM-144 20h2v2h-2zM58 20h2v2h-2zM-148 22h2v2h-2zM166 22h2v2h-2zM-146 24h2v2h-2zM162 24h2v2h-2zM166 24h2v2h-2zM168 26h2v2h-2zM168 28h2v2h-2zM166 30h2v2h-2zM8 32h2v2h-2z"/><path fill="#00d4ff" d="M144 -36h2v2h-2zM142 -32h2v2h-2zM142 -30h2v2h-2zM-26 -28h2v2h-2zM162 -28h2v2h-2zM166 -28h2v2h-2zM-162 -26h2v2h-2zM142 -26h2v2h-2zM170 -26h2v2h-2zM-28 -24h2v2h-2zM142 -24h2v2h-2zM164 -24h2v2h-2zM174 -24h2v2h-2zM-166 -22h2v2h-2zM140 -20h2v2h-2zM162 -20h2v2h-2zM134 -18h2v2h-2zM166 -18h2v2h-2zM-162 -14h2v2h-2zM118 4h2v2h-2zM124 4h2v2h-2zM-154 8h2v2h-2zM-146 8h2v2h-2zM172 8h2v2h-2zM-152 10h2v2h-2zM-146 10h2v2h-2zM60 10h2v2h-2zM-152 12h2v2h-2zM54 12h2v2h-2zM-142 14h2v2h-2zM160 14h2v2h-2zM170 14h2v2h-2zM-144 16h2v2h-2zM56 16h2v2h-2zM172 16h2v2h-2zM178 18h2v2h-2zM172 20h2v2h-2zM-138 22h2v2h-2zM164 24h2v2h-2zM-146 26h2v2h-2zM170 26h2v2h-2zM160 28h2v2h-2zM172 28h2v2h-2zM174 30h2v2h-2zM168 32h2v2h-2zM174 34h2v2h-2zM178 34h2v2h-2z"/><path fill="#00e8ff" d="M140 -38h2v2h-2zM146 -34h2v2h-2zM156 -34h2v2h-2zM132 -32h2v2h-2zM136 -32h2v2h-2zM164 -32h2v2h-2zM-26 -30h2v2h-2zM122 -30h2v2h-2zM128 -30h2v2h-2zM136 -30h2v2h-2zM146 -30h2v2h-2zM168 -30h2v2h-2zM174 -30h2v2h-2zM124 -28h2v2h-2zM126 -28h2v2h-2zM156 -28h2v2h-2zM158 -28h2v2h-2zM118 -26h2v2h-2zM-34 -24h2v2h-2zM-26 -24h2v2h-2zM128 -24h2v2h-2zM158 -24h2v2h-2zM168 -24h2v2h-2zM170 -24h2v2h-2zM-164 -22h2v2h-2zM-22 -22h2v2h-2zM130 -22h2v2h-2zM158 -22h2v2h-2zM168 -22h2v2h-2zM-160 -18h2v2h-2zM-28 -18h2v2h-2zM92 -18h2v2h-2zM130 -18h2v2h-2zM132 -18h2v2h-2zM138 -18h2v2h-2zM152 -18h2v2h-2zM158 -18h2v2h-2zM162 -18h2v2h-2zM-164 -10h2v2h-2zM-42 -6h2v2h-2zM120 -2h2v2h-2zM50 6h2v2h-2zM122 6h2v2h-2zM-138 8h2v2h-2zM50 8h2v2h-2zM58 8h2v2h-2zM118 8h2v2h-2zM-144 10h2v2h-2zM-142 10h2v2h-2zM168 10h2v2h-2zM172 10h2v2h-2zM-146 12h2v2h-2zM-134 12h2v2h-2zM46 12h2v2h-2zM56 12h2v2h-2zM62 12h2v2h-2zM162 12h2v2h-2zM174 12h2v2h-2zM-138 14h2v2h-2zM64 14h2v2h-2zM176 14h2v2h-2zM178 14h2v2h-2zM-158 16h2v2h-2zM-156 16h2v2h-2zM-136 16h2v2h-2zM48 16h2v2h-2zM178 16h2v2h-2zM180 16h2v2h-2zM-142 18h2v2h-2zM182 18h2v2h-2zM-136 20h2v2h-2zM56 20h2v2h-2zM158 22h2v2h-2zM160 22h2v2h-2zM-142 24h2v2h-2zM-140 24h2v2h-2zM182 24h2v2h-2zM-152 26h2v2h-2zM164 26h2v2h-2zM172 26h2v2h-2zM162 28h2v2h-2zM164 28h2v2h-2zM180 28h2v2h-2zM182 28h2v2h-2zM4 30h2v2h-2zM160 30h2v2h-2zM172 30h2v2h-2zM176 30h2v2h-2zM2 32h2v2h-2zM6 32h2v2h-2zM0 34h2v2h-2zM160 40h2v2h-2z"/><path fill="#0101c3" d="M124 0h2v2h-2zM-152 16h2v2h-2zM164 18h2v2h-2z"/><path fill="#0404ac" d="M124 2h2v2h-2z"/><path fill="#070794" d="M148 -28h2v2h-2zM152 -26h2v2h-2zM-150 16h2v2h-2z"/><path fill="#0a0a7d" d="M146 -26h2v2h-2zM138 -24h2v2h-2zM148 -24h2v2h-2zM150 -24h2v2h-2zM152 -24h2v2h-2zM144 -22h2v2h-2zM122 2h2v2h-2zM122 4h2v2h-2zM126 4h2v2h-2zM-144 14h2v2h-2zM60 14h2v2h-2zM166 14h2v2h-2zM166 16h2v2h-2zM-148 18h2v2h-2z"/><path fill="#0bf4f7" d="M158 -38h2v2h-2zM124 -34h2v2h-2zM126 -34h2v2h-2zM144 -34h2v2h-2zM158 -34h2v2h-2zM-22 -32h2v2h-2zM124 -32h2v2h-2zM134 -32h2v2h-2zM156 -32h2v2h-2zM160 -32h2v2h-2zM174 -32h2v2h-2zM112 -30h2v2h-2zM170 -30h2v2h-2zM122 -28h2v2h-2zM168 -28h2v2h-2zM182 -28h2v2h-2zM184 -28h2v2h-2zM122 -26h2v2h-2zM-166 -24h2v2h-2zM-162 -24h2v2h-2zM-30 -24h2v2h-2zM120 -24h2v2h-2zM146 -24h2v2h-2zM154 -24h2v2h-2zM172 -24h2v2h-2zM176 -24h2v2h-2zM-20 -22h2v2h-2zM124 -22h2v2h-2zM128 -22h2v2h-2zM172 -22h2v2h-2zM178 -22h2v2h-2zM-168 -20h2v2h-2zM-26 -20h2v2h-2zM-18 -20h2v2h-2zM168 -20h2v2h-2zM170 -20h2v2h-2zM190 -20h2v2h-2zM-168 -18h2v2h-2zM-166 -18h2v2h-2zM-158 -18h2v2h-2zM-22 -18h2v2h-2zM136 -18h2v2h-2zM144 -18h2v2h-2zM168 -18h2v2h-2zM170 -18h2v2h-2zM-158 -16h2v2h-2zM-26 -16h2v2h-2zM96 -16h2v2h-2zM136 -16h2v2h-2zM142 -16h2v2h-2zM146 -16h2v2h-2zM154 -16h2v2h-2zM-158 -14h2v2h-2zM146 -14h2v2h-2zM-162 -12h2v2h-2zM94 -12h2v2h-2zM-46 -6h2v2h-2zM-44 -6h2v2h-2zM-140 4h2v2h-2zM56 4h2v2h-2zM130 4h2v2h-2zM-138 6h2v2h-2zM-142 8h2v2h-2zM46 8h2v2h-2zM48 8h2v2h-2zM54 8h2v2h-2zM56 8h2v2h-2zM130 8h2v2h-2zM164 8h2v2h-2zM174 8h2v2h-2zM52 10h2v2h-2zM56 10h2v2h-2zM166 10h2v2h-2zM-166 12h2v2h-2zM-140 12h2v2h-2zM44 12h2v2h-2zM122 12h2v2h-2zM126 12h2v2h-2zM168 12h2v2h-2zM176 12h2v2h-2zM180 12h2v2h-2zM-156 14h2v2h-2zM-154 14h2v2h-2zM-134 14h2v2h-2zM52 14h2v2h-2zM184 14h2v2h-2zM46 16h2v2h-2zM162 16h2v2h-2zM176 16h2v2h-2zM-156 18h2v2h-2zM-144 18h2v2h-2zM-138 18h2v2h-2zM-134 18h2v2h-2zM-132 18h2v2h-2zM160 18h2v2h-2zM154 20h2v2h-2zM174 20h2v2h-2zM176 20h2v2h-2zM-156 22h2v2h-2zM164 22h2v2h-2zM168 22h2v2h-2zM172 22h2v2h-2zM170 24h2v2h-2zM172 24h2v2h-2zM-140 26h2v2h-2zM158 26h2v2h-2zM166 26h2v2h-2zM166 28h2v2h-2zM174 28h2v2h-2zM-144 30h2v2h-2zM174 32h2v2h-2zM166 34h2v2h-2zM172 36h2v2h-2z"/><path fill="#27f0e2" d="M-160 -40h2v2h-2zM146 -38h2v2h-2zM122 -36h2v2h-2zM132 -36h2v2h-2zM134 -36h2v2h-2zM136 -36h2v2h-2zM140 -36h2v2h-2zM134 -34h2v2h-2zM140 -34h2v2h-2zM142 -34h2v2h-2zM168 -34h2v2h-2zM144 -32h2v2h-2zM148 -32h2v2h-2zM170 -32h2v2h-2zM172 -32h2v2h-2zM130 -30h2v2h-2zM134 -30h2v2h-2zM160 -30h2v2h-2zM172 -30h2v2h-2zM-162 -28h2v2h-2zM52 -28h2v2h-2zM114 -28h2v2h-2zM118 -28h2v2h-2zM128 -28h2v2h-2zM-160 -26h2v2h-2zM-28 -26h2v2h-2zM124 -26h2v2h-2zM172 -26h2v2h-2zM176 -26h2v2h-2zM178 -26h2v2h-2zM-168 -24h2v2h-2zM-164 -24h2v2h-2zM-24 -24h2v2h-2zM-20 -24h2v2h-2zM166 -24h2v2h-2zM178 -24h2v2h-2zM-160 -22h2v2h-2zM-134 -22h2v2h-2zM-18 -22h2v2h-2zM120 -22h2v2h-2zM122 -22h2v2h-2zM142 -22h2v2h-2zM170 -22h2v2h-2zM-158 -20h2v2h-2zM-130 -20h2v2h-2zM-24 -20h2v2h-2zM116 -20h2v2h-2zM124 -20h2v2h-2zM132 -20h2v2h-2zM166 -20h2v2h-2zM172 -20h2v2h-2zM148 -18h2v2h-2zM164 -18h2v2h-2zM128 -16h2v2h-2zM162 -16h2v2h-2zM166 -16h2v2h-2zM128 -14h2v2h-2zM160 -14h2v2h-2zM166 -14h2v2h-2zM-168 -12h2v2h-2zM-166 -12h2v2h-2zM-40 -6h2v2h-2zM118 -6h2v2h-2zM-48 -4h2v2h-2zM-46 -2h2v2h-2zM122 -2h2v2h-2zM124 -2h2v2h-2zM130 -2h2v2h-2zM-44 0h2v2h-2zM116 0h2v2h-2zM132 0h2v2h-2zM-140 2h2v2h-2zM130 2h2v2h-2zM170 4h2v2h-2zM-152 6h2v2h-2zM-140 6h2v2h-2zM60 6h2v2h-2zM120 6h2v2h-2zM128 6h2v2h-2zM176 6h2v2h-2zM-162 8h2v2h-2zM-148 8h2v2h-2zM-144 8h2v2h-2zM-140 8h2v2h-2zM-136 8h2v2h-2zM60 8h2v2h-2zM64 8h2v2h-2zM114 8h2v2h-2zM122 8h2v2h-2zM124 8h2v2h-2zM132 8h2v2h-2zM170 8h2v2h-2zM188 8h2v2h-2zM-132 10h2v2h-2zM44 10h2v2h-2zM128 10h2v2h-2zM170 10h2v2h-2zM180 10h2v2h-2zM-154 12h2v2h-2zM-138 12h2v2h-2zM-136 12h2v2h-2zM-132 12h2v2h-2zM64 12h2v2h-2zM120 12h2v2h-2zM124 12h2v2h-2zM172 12h2v2h-2zM-168 14h2v2h-2zM-158 14h2v2h-2zM-152 14h2v2h-2zM46 14h2v2h-2zM48 14h2v2h-2zM162 14h2v2h-2zM-160 16h2v2h-2zM-130 16h2v2h-2zM50 16h2v2h-2zM170 16h2v2h-2zM158 18h2v2h-2zM180 18h2v2h-2zM186 18h2v2h-2zM-156 20h2v2h-2zM156 20h2v2h-2zM-154 22h2v2h-2zM-144 22h2v2h-2zM154 22h2v2h-2zM156 22h2v2h-2zM176 22h2v2h-2zM180 22h2v2h-2zM184 22h2v2h-2zM-156 24h2v2h-2zM-144 24h2v2h-2zM-138 24h2v2h-2zM-132 24h2v2h-2zM184 24h2v2h-2zM-134 26h2v2h-2zM174 26h2v2h-2zM180 26h2v2h-2zM158 28h2v2h-2zM170 28h2v2h-2zM176 28h2v2h-2zM-4 32h2v2h-2zM166 32h2v2h-2zM182 32h2v2h-2z"/><path fill="#4ee2ce" d="M22 -74h2v2h-2zM186 -74h2v2h-2zM118 -68h2v2h-2zM-14 -66h2v2h-2zM106 -64h2v2h-2zM-52 -52h2v2h-2zM34 -52h2v2h-2zM-44 -50h2v2h-2zM-152 -46h2v2h-2zM94 -46h2v2h-2zM144 -44h2v2h-2zM-126 -42h2v2h-2zM116 -40h2v2h-2zM154 -40h2v2h-2zM168 -40h2v2h-2zM170 -40h2v2h-2zM172 -40h2v2h-2zM174 -40h2v2h-2zM-168 -38h2v2h-2zM-60 -38h2v2h-2zM126 -38h2v2h-2zM144 -38h2v2h-2zM172 -38h2v2h-2zM-96 -36h2v2h-2zM126 -36h2v2h-2zM142 -36h2v2h-2zM152 -36h2v2h-2zM164 -36h2v2h-2zM172 -36h2v2h-2zM-32 -34h2v2h-2zM120 -34h2v2h-2zM128 -34h2v2h-2zM136 -34h2v2h-2zM162 -34h2v2h-2zM180 -34h2v2h-2zM182 -34h2v2h-2zM-24 -32h2v2h-2zM114 -32h2v2h-2zM122 -32h2v2h-2zM162 -32h2v2h-2zM180 -32h2v2h-2zM182 -32h2v2h-2zM190 -32h2v2h-2zM-22 -30h2v2h-2zM114 -30h2v2h-2zM180 -30h2v2h-2zM182 -30h2v2h-2zM-168 -28h2v2h-2zM-20 -28h2v2h-2zM-18 -28h2v2h-2zM144 -28h2v2h-2zM172 -28h2v2h-2zM178 -28h2v2h-2zM180 -28h2v2h-2zM-168 -26h2v2h-2zM-24 -26h2v2h-2zM180 -26h2v2h-2zM-136 -24h2v2h-2zM-134 -24h2v2h-2zM-16 -24h2v2h-2zM184 -24h2v2h-2zM-132 -22h2v2h-2zM-128 -22h2v2h-2zM-36 -22h2v2h-2zM-16 -22h2v2h-2zM108 -22h2v2h-2zM116 -22h2v2h-2zM146 -22h2v2h-2zM174 -22h2v2h-2zM182 -22h2v2h-2zM-160 -20h2v2h-2zM-138 -20h2v2h-2zM-136 -20h2v2h-2zM-132 -20h2v2h-2zM-36 -20h2v2h-2zM106 -20h2v2h-2zM128 -20h2v2h-2zM144 -20h2v2h-2zM176 -20h2v2h-2zM122 -18h2v2h-2zM154 -18h2v2h-2zM172 -18h2v2h-2zM188 -18h2v2h-2zM-128 -16h2v2h-2zM-28 -16h2v2h-2zM-24 -16h2v2h-2zM120 -16h2v2h-2zM132 -16h2v2h-2zM144 -16h2v2h-2zM150 -16h2v2h-2zM152 -16h2v2h-2zM172 -16h2v2h-2zM-164 -14h2v2h-2zM-156 -14h2v2h-2zM-18 -14h2v2h-2zM140 -14h2v2h-2zM144 -14h2v2h-2zM156 -14h2v2h-2zM158 -14h2v2h-2zM162 -14h2v2h-2zM146 -12h2v2h-2zM174 -12h2v2h-2zM-154 -10h2v2h-2zM-24 -10h2v2h-2zM146 -10h2v2h-2zM150 -10h2v2h-2zM-164 -8h2v2h-2zM150 -8h2v2h-2zM-166 -6h2v2h-2zM-38 -6h2v2h-2zM120 -6h2v2h-2zM148 -6h2v2h-2zM152 -6h2v2h-2zM118 -4h2v2h-2zM-50 -2h2v2h-2zM-38 -2h2v2h-2zM-42 0h2v2h-2zM170 0h2v2h-2zM52 2h2v2h-2zM162 2h2v2h-2zM-154 4h2v2h-2zM-142 4h2v2h-2zM50 4h2v2h-2zM168 4h2v2h-2zM178 4h2v2h-2zM-2 6h2v2h-2zM52 6h2v2h-2zM56 6h2v2h-2zM178 6h2v2h-2zM-156 8h2v2h-2zM-152 8h2v2h-2zM-134 8h2v2h-2zM-132 8h2v2h-2zM116 8h2v2h-2zM166 8h2v2h-2zM180 8h2v2h-2zM-156 10h2v2h-2zM-128 10h2v2h-2zM-126 10h2v2h-2zM4 10h2v2h-2zM62 10h2v2h-2zM162 10h2v2h-2zM174 10h2v2h-2zM176 10h2v2h-2zM184 10h2v2h-2zM-158 12h2v2h-2zM-156 12h2v2h-2zM42 12h2v2h-2zM48 12h2v2h-2zM128 12h2v2h-2zM178 12h2v2h-2zM-162 14h2v2h-2zM-140 14h2v2h-2zM-132 14h2v2h-2zM44 14h2v2h-2zM50 14h2v2h-2zM158 14h2v2h-2zM164 14h2v2h-2zM-128 16h2v2h-2zM40 16h2v2h-2zM66 16h2v2h-2zM-158 18h2v2h-2zM-78 18h2v2h-2zM48 18h2v2h-2zM154 18h2v2h-2zM168 18h2v2h-2zM172 18h2v2h-2zM184 18h2v2h-2zM-134 20h2v2h-2zM-102 20h2v2h-2zM52 20h2v2h-2zM170 20h2v2h-2zM-160 22h2v2h-2zM-142 22h2v2h-2zM-136 22h2v2h-2zM-124 22h2v2h-2zM60 22h2v2h-2zM62 22h2v2h-2zM182 22h2v2h-2zM-150 24h2v2h-2zM-136 24h2v2h-2zM158 24h2v2h-2zM176 24h2v2h-2zM-166 26h2v2h-2zM-138 26h2v2h-2zM184 26h2v2h-2zM-154 28h2v2h-2zM-152 28h2v2h-2zM-142 28h2v2h-2zM6 30h2v2h-2zM164 30h2v2h-2zM168 30h2v2h-2zM170 30h2v2h-2zM14 32h2v2h-2zM160 32h2v2h-2zM178 32h2v2h-2zM180 32h2v2h-2zM-4 34h2v2h-2zM-2 34h2v2h-2zM114 34h2v2h-2zM172 34h2v2h-2zM176 34h2v2h-2zM180 34h2v2h-2zM182 34h2v2h-2zM186 34h2v2h-2zM-2 36h2v2h-2zM168 36h2v2h-2zM170 36h2v2h-2zM178 36h2v2h-2zM164 38h2v2h-2zM166 38h2v2h-2zM168 38h2v2h-2zM174 38h2v2h-2zM178 38h2v2h-2zM178 40h2v2h-2zM180 40h2v2h-2zM-64 52h2v2h-2zM108 54h2v2h-2zM32 58h2v2h-2zM-72 74h2v2h-2zM-160 78h2v2h-2z"/><path fill="#74d4bd" d="M36 -82h2v2h-2zM46 -82h2v2h-2zM94 -82h2v2h-2zM114 -82h2v2h-2zM34 -80h2v2h-2zM90 -78h2v2h-2zM100 -78h2v2h-2zM-124 -76h2v2h-2zM-112 -76h2v2h-2zM-86 -76h2v2h-2zM-80 -76h2v2h-2zM-50 -76h2v2h-2zM-48 -76h2v2h-2zM-32 -76h2v2h-2zM-6 -76h2v2h-2zM38 -76h2v2h-2zM128 -76h2v2h-2zM-130 -74h2v2h-2zM-100 -74h2v2h-2zM0 -74h2v2h-2zM84 -74h2v2h-2zM-124 -72h2v2h-2zM-8 -72h2v2h-2zM-4 -72h2v2h-2zM-106 -70h2v2h-2zM-102 -70h2v2h-2zM-98 -70h2v2h-2zM48 -70h2v2h-2zM54 -70h2v2h-2zM-154 -68h2v2h-2zM-106 -68h2v2h-2zM-96 -66h2v2h-2zM-146 -64h2v2h-2zM-120 -64h2v2h-2zM46 -64h2v2h-2zM124 -64h2v2h-2zM-136 -62h2v2h-2zM-124 -62h2v2h-2zM-108 -62h2v2h-2zM-100 -62h2v2h-2zM-46 -62h2v2h-2zM-24 -62h2v2h-2zM78 -62h2v2h-2zM132 -62h2v2h-2zM-112 -60h2v2h-2zM-100 -60h2v2h-2zM-50 -60h2v2h-2zM6 -60h2v2h-2zM62 -60h2v2h-2zM168 -60h2v2h-2zM-18 -58h2v2h-2zM-10 -58h2v2h-2zM156 -58h2v2h-2zM166 -58h2v2h-2zM-116 -56h2v2h-2zM-30 -56h2v2h-2zM20 -56h2v2h-2zM26 -56h2v2h-2zM184 -56h2v2h-2zM-130 -54h2v2h-2zM-68 -54h2v2h-2zM6 -54h2v2h-2zM22 -54h2v2h-2zM28 -54h2v2h-2zM32 -54h2v2h-2zM74 -54h2v2h-2zM104 -54h2v2h-2zM-136 -52h2v2h-2zM-116 -52h2v2h-2zM-54 -52h2v2h-2zM2 -52h2v2h-2zM24 -52h2v2h-2zM28 -52h2v2h-2zM76 -52h2v2h-2zM88 -52h2v2h-2zM98 -52h2v2h-2zM114 -52h2v2h-2zM-38 -50h2v2h-2zM38 -50h2v2h-2zM106 -50h2v2h-2zM-18 -48h2v2h-2zM146 -46h2v2h-2zM-36 -44h2v2h-2zM60 -42h2v2h-2zM94 -42h2v2h-2zM140 -42h2v2h-2zM166 -42h2v2h-2zM174 -42h2v2h-2zM-110 -40h2v2h-2zM-60 -40h2v2h-2zM-46 -40h2v2h-2zM10 -40h2v2h-2zM122 -40h2v2h-2zM128 -40h2v2h-2zM134 -40h2v2h-2zM138 -40h2v2h-2zM140 -40h2v2h-2zM142 -40h2v2h-2zM144 -40h2v2h-2zM146 -40h2v2h-2zM158 -40h2v2h-2zM160 -40h2v2h-2zM186 -40h2v2h-2zM86 -38h2v2h-2zM112 -38h2v2h-2zM150 -38h2v2h-2zM168 -38h2v2h-2zM-146 -36h2v2h-2zM-124 -36h2v2h-2zM-106 -36h2v2h-2zM-44 -36h2v2h-2zM68 -36h2v2h-2zM112 -36h2v2h-2zM156 -36h2v2h-2zM174 -36h2v2h-2zM182 -36h2v2h-2zM-160 -34h2v2h-2zM-124 -34h2v2h-2zM-122 -34h2v2h-2zM82 -34h2v2h-2zM86 -34h2v2h-2zM96 -34h2v2h-2zM112 -34h2v2h-2zM114 -34h2v2h-2zM116 -34h2v2h-2zM176 -34h2v2h-2zM178 -34h2v2h-2zM184 -34h2v2h-2zM190 -34h2v2h-2zM-146 -32h2v2h-2zM-134 -32h2v2h-2zM20 -32h2v2h-2zM110 -32h2v2h-2zM112 -32h2v2h-2zM120 -32h2v2h-2zM128 -32h2v2h-2zM176 -32h2v2h-2zM58 -30h2v2h-2zM104 -30h2v2h-2zM106 -30h2v2h-2zM186 -30h2v2h-2zM-70 -28h2v2h-2zM108 -28h2v2h-2zM164 -28h2v2h-2zM174 -28h2v2h-2zM186 -28h2v2h-2zM-166 -26h2v2h-2zM-164 -26h2v2h-2zM-156 -26h2v2h-2zM-132 -26h2v2h-2zM0 -26h2v2h-2zM50 -26h2v2h-2zM166 -26h2v2h-2zM182 -26h2v2h-2zM-160 -24h2v2h-2zM-158 -24h2v2h-2zM-132 -24h2v2h-2zM-130 -24h2v2h-2zM-128 -24h2v2h-2zM46 -24h2v2h-2zM50 -24h2v2h-2zM54 -24h2v2h-2zM104 -24h2v2h-2zM112 -24h2v2h-2zM182 -24h2v2h-2zM188 -24h2v2h-2zM190 -24h2v2h-2zM-158 -22h2v2h-2zM-156 -22h2v2h-2zM-58 -22h2v2h-2zM14 -22h2v2h-2zM50 -22h2v2h-2zM78 -22h2v2h-2zM114 -22h2v2h-2zM166 -22h2v2h-2zM176 -22h2v2h-2zM180 -22h2v2h-2zM184 -22h2v2h-2zM-30 -20h2v2h-2zM120 -20h2v2h-2zM122 -20h2v2h-2zM126 -20h2v2h-2zM174 -20h2v2h-2zM188 -20h2v2h-2zM-140 -18h2v2h-2zM-132 -18h2v2h-2zM-130 -18h2v2h-2zM32 -18h2v2h-2zM34 -18h2v2h-2zM112 -18h2v2h-2zM118 -18h2v2h-2zM184 -18h2v2h-2zM-92 -16h2v2h-2zM-6 -16h2v2h-2zM-2 -16h2v2h-2zM60 -16h2v2h-2zM90 -16h2v2h-2zM118 -16h2v2h-2zM122 -16h2v2h-2zM164 -16h2v2h-2zM168 -16h2v2h-2zM170 -16h2v2h-2zM176 -16h2v2h-2zM186 -16h2v2h-2zM190 -16h2v2h-2zM-168 -14h2v2h-2zM-98 -14h2v2h-2zM-28 -14h2v2h-2zM26 -14h2v2h-2zM60 -14h2v2h-2zM62 -14h2v2h-2zM64 -14h2v2h-2zM90 -14h2v2h-2zM126 -14h2v2h-2zM138 -14h2v2h-2zM142 -14h2v2h-2zM154 -14h2v2h-2zM168 -14h2v2h-2zM170 -14h2v2h-2zM178 -14h2v2h-2zM190 -14h2v2h-2zM-74 -12h2v2h-2zM142 -12h2v2h-2zM144 -12h2v2h-2zM148 -12h2v2h-2zM160 -12h2v2h-2zM176 -12h2v2h-2zM190 -12h2v2h-2zM-158 -10h2v2h-2zM-60 -10h2v2h-2zM-22 -10h2v2h-2zM-2 -10h2v2h-2zM28 -10h2v2h-2zM120 -10h2v2h-2zM160 -10h2v2h-2zM166 -10h2v2h-2zM-162 -8h2v2h-2zM-160 -8h2v2h-2zM-46 -8h2v2h-2zM126 -8h2v2h-2zM156 -8h2v2h-2zM170 -8h2v2h-2zM-160 -6h2v2h-2zM-156 -6h2v2h-2zM-80 -6h2v2h-2zM-54 -6h2v2h-2zM-50 -6h2v2h-2zM122 -6h2v2h-2zM128 -6h2v2h-2zM150 -6h2v2h-2zM-162 -4h2v2h-2zM-140 -4h2v2h-2zM-52 -4h2v2h-2zM-38 -4h2v2h-2zM-8 -4h2v2h-2zM126 -4h2v2h-2zM170 -4h2v2h-2zM-156 -2h2v2h-2zM-42 -2h2v2h-2zM116 -2h2v2h-2zM158 -2h2v2h-2zM166 -2h2v2h-2zM-106 0h2v2h-2zM112 0h2v2h-2zM114 0h2v2h-2zM118 0h2v2h-2zM172 0h2v2h-2zM-162 2h2v2h-2zM-158 2h2v2h-2zM-156 2h2v2h-2zM-144 2h2v2h-2zM-142 2h2v2h-2zM-116 2h2v2h-2zM66 2h2v2h-2zM114 2h2v2h-2zM132 2h2v2h-2zM158 2h2v2h-2zM164 2h2v2h-2zM-146 4h2v2h-2zM-138 4h2v2h-2zM-112 4h2v2h-2zM-6 4h2v2h-2zM46 4h2v2h-2zM102 4h2v2h-2zM112 4h2v2h-2zM158 4h2v2h-2zM182 4h2v2h-2zM-160 6h2v2h-2zM-156 6h2v2h-2zM-148 6h2v2h-2zM-144 6h2v2h-2zM-142 6h2v2h-2zM46 6h2v2h-2zM70 6h2v2h-2zM118 6h2v2h-2zM152 6h2v2h-2zM-158 8h2v2h-2zM-128 8h2v2h-2zM-110 8h2v2h-2zM-104 8h2v2h-2zM-26 8h2v2h-2zM42 8h2v2h-2zM92 8h2v2h-2zM110 8h2v2h-2zM148 8h2v2h-2zM160 8h2v2h-2zM178 8h2v2h-2zM-160 10h2v2h-2zM-134 10h2v2h-2zM-82 10h2v2h-2zM42 10h2v2h-2zM64 10h2v2h-2zM114 10h2v2h-2zM116 10h2v2h-2zM148 10h2v2h-2zM156 10h2v2h-2zM186 10h2v2h-2zM188 10h2v2h-2zM-164 12h2v2h-2zM-160 12h2v2h-2zM-114 12h2v2h-2zM-94 12h2v2h-2zM36 12h2v2h-2zM70 12h2v2h-2zM160 12h2v2h-2zM170 12h2v2h-2zM182 12h2v2h-2zM186 12h2v2h-2zM188 12h2v2h-2zM-130 14h2v2h-2zM-44 14h2v2h-2zM42 14h2v2h-2zM90 14h2v2h-2zM172 14h2v2h-2zM182 14h2v2h-2zM188 14h2v2h-2zM-132 16h2v2h-2zM-28 16h2v2h-2zM42 16h2v2h-2zM44 16h2v2h-2zM114 16h2v2h-2zM130 16h2v2h-2zM158 16h2v2h-2zM-40 18h2v2h-2zM46 18h2v2h-2zM50 18h2v2h-2zM58 18h2v2h-2zM144 18h2v2h-2zM-154 20h2v2h-2zM30 20h2v2h-2zM152 20h2v2h-2zM186 20h2v2h-2zM-168 22h2v2h-2zM-166 22h2v2h-2zM-90 22h2v2h-2zM-54 22h2v2h-2zM-148 24h2v2h-2zM-134 24h2v2h-2zM-58 24h2v2h-2zM86 24h2v2h-2zM190 24h2v2h-2zM-154 26h2v2h-2zM-150 26h2v2h-2zM-136 26h2v2h-2zM0 26h2v2h-2zM156 26h2v2h-2zM176 26h2v2h-2zM-164 28h2v2h-2zM-160 28h2v2h-2zM-156 28h2v2h-2zM-150 28h2v2h-2zM-148 28h2v2h-2zM-144 28h2v2h-2zM-140 28h2v2h-2zM-138 28h2v2h-2zM26 28h2v2h-2zM154 28h2v2h-2zM186 28h2v2h-2zM-154 30h2v2h-2zM-152 30h2v2h-2zM-148 30h2v2h-2zM-146 30h2v2h-2zM-32 30h2v2h-2zM-6 30h2v2h-2zM12 30h2v2h-2zM154 30h2v2h-2zM156 30h2v2h-2zM158 30h2v2h-2zM186 30h2v2h-2zM-158 32h2v2h-2zM170 32h2v2h-2zM186 32h2v2h-2zM12 34h2v2h-2zM80 34h2v2h-2zM82 34h2v2h-2zM-76 36h2v2h-2zM8 36h2v2h-2zM10 36h2v2h-2zM12 36h2v2h-2zM84 36h2v2h-2zM134 36h2v2h-2zM-12 38h2v2h-2zM-8 38h2v2h-2zM140 38h2v2h-2zM172 38h2v2h-2zM46 40h2v2h-2zM142 40h2v2h-2zM172 40h2v2h-2zM176 40h2v2h-2zM74 42h2v2h-2zM122 42h2v2h-2zM106 44h2v2h-2zM110 44h2v2h-2zM168 44h2v2h-2zM182 44h2v2h-2zM108 46h2v2h-2zM154 46h2v2h-2zM-60 50h2v2h-2zM154 50h2v2h-2zM-46 54h2v2h-2zM0 54h2v2h-2zM122 54h2v2h-2zM-104 56h2v2h-2zM150 56h2v2h-2zM-102 58h2v2h-2zM-30 58h2v2h-2zM148 58h2v2h-2zM102 62h2v2h-2zM134 62h2v2h-2zM152 62h2v2h-2zM176 62h2v2h-2zM-108 64h2v2h-2zM140 64h2v2h-2zM162 64h2v2h-2zM164 64h2v2h-2zM60 66h2v2h-2zM90 66h2v2h-2zM-158 68h2v2h-2zM-150 68h2v2h-2zM148 68h2v2h-2zM0 70h2v2h-2zM168 72h2v2h-2zM-62 74h2v2h-2zM156 74h2v2h-2zM-164 76h2v2h-2zM-124 76h2v2h-2zM4 76h2v2h-2zM160 78h2v2h-2z"/><path fill="#800000" d="M118 12h2v2h-2zM114 14h2v2h-2zM40 24h2v2h-2zM94 46h2v2h-2z"/><path fill="#90c9b7" d="M134 -82h2v2h-2zM32 -80h2v2h-2zM92 -76h2v2h-2zM162 -76h2v2h-2zM-16 -72h2v2h-2zM88 -68h2v2h-2zM-4 -62h2v2h-2zM-74 -60h2v2h-2zM54 -60h2v2h-2zM-88 -58h2v2h-2zM-166 -56h2v2h-2zM66 -56h2v2h-2zM-18 -54h2v2h-2zM18 -50h2v2h-2zM182 -48h2v2h-2zM58 -44h2v2h-2zM68 -44h2v2h-2zM54 -40h2v2h-2zM2 -38h2v2h-2zM74 -38h2v2h-2zM66 -36h2v2h-2zM176 -36h2v2h-2zM176 -30h2v2h-2zM62 -28h2v2h-2zM110 -22h2v2h-2zM36 -20h2v2h-2zM-150 -12h2v2h-2zM-44 -12h2v2h-2zM148 -8h2v2h-2zM-168 -6h2v2h-2zM160 -4h2v2h-2zM172 6h2v2h-2zM184 6h2v2h-2zM38 12h2v2h-2zM-102 14h2v2h-2zM134 18h2v2h-2zM-130 20h2v2h-2zM44 20h2v2h-2zM-154 24h2v2h-2zM-74 28h2v2h-2zM4 28h2v2h-2zM84 30h2v2h-2zM180 30h2v2h-2zM-148 32h2v2h-2zM162 34h2v2h-2zM-12 36h2v2h-2zM18 36h2v2h-2zM182 36h2v2h-2zM134 40h2v2h-2zM170 42h2v2h-2zM-36 44h2v2h-2zM142 44h2v2h-2zM172 46h2v2h-2zM144 52h2v2h-2zM114 58h2v2h-2zM172 58h2v2h-2zM-70 64h2v2h-2zM48 68h2v2h-2zM186 68h2v2h-2zM38 76h2v2h-2z"/><path fill="#950000" d="M-68 -42h2v2h-2zM-68 -40h2v2h-2z"/><path fill="#aa0000" d="M152 -34h2v2h-2zM-46 42h2v2h-2z"/><path fill="#b4c695" d="M-10 -80h2v2h-2zM-74 -78h2v2h-2zM-30 -76h2v2h-2zM158 -76h2v2h-2zM-74 -72h2v2h-2zM-164 -70h2v2h-2zM-76 -68h2v2h-2zM-20 -68h2v2h-2zM12 -68h2v2h-2zM50 -68h2v2h-2zM0 -66h2v2h-2zM172 -66h2v2h-2zM-58 -64h2v2h-2zM150 -64h2v2h-2zM26 -62h2v2h-2zM64 -60h2v2h-2zM68 -60h2v2h-2zM-74 -58h2v2h-2zM34 -58h2v2h-2zM120 -56h2v2h-2zM-168 -52h2v2h-2zM40 -50h2v2h-2zM-104 -48h2v2h-2zM-32 -48h2v2h-2zM38 -36h2v2h-2zM48 -36h2v2h-2zM-2 -34h2v2h-2zM30 -34h2v2h-2zM78 -34h2v2h-2zM-128 -30h2v2h-2zM42 -30h2v2h-2zM-54 -28h2v2h-2zM2 -26h2v2h-2zM-70 -22h2v2h-2zM24 -18h2v2h-2zM-108 -16h2v2h-2zM-50 -16h2v2h-2zM102 -16h2v2h-2zM-116 -12h2v2h-2zM-114 -12h2v2h-2zM-66 -12h2v2h-2zM50 -12h2v2h-2zM52 -12h2v2h-2zM-62 -6h2v2h-2zM-14 -4h2v2h-2zM-66 0h2v2h-2zM90 0h2v2h-2zM90 2h2v2h-2zM186 2h2v2h-2zM-58 6h2v2h-2zM10 6h2v2h-2zM86 6h2v2h-2zM28 8h2v2h-2zM-14 16h2v2h-2zM22 16h2v2h-2zM78 22h2v2h-2zM138 22h2v2h-2zM-26 26h2v2h-2zM-60 28h2v2h-2zM58 28h2v2h-2zM52 30h2v2h-2zM18 32h2v2h-2zM28 32h2v2h-2zM68 36h2v2h-2zM-118 38h2v2h-2zM152 38h2v2h-2zM-166 42h2v2h-2zM-138 42h2v2h-2zM-130 42h2v2h-2zM34 42h2v2h-2zM50 42h2v2h-2zM162 42h2v2h-2zM-92 44h2v2h-2zM-70 44h2v2h-2zM-60 44h2v2h-2zM120 46h2v2h-2zM-152 48h2v2h-2zM98 48h2v2h-2zM126 48h2v2h-2zM134 48h2v2h-2zM-40 50h2v2h-2zM134 50h2v2h-2zM-82 52h2v2h-2zM40 52h2v2h-2zM92 56h2v2h-2zM-36 58h2v2h-2zM-114 60h2v2h-2zM-150 62h2v2h-2zM82 62h2v2h-2zM-92 66h2v2h-2zM-14 66h2v2h-2zM160 68h2v2h-2zM-116 74h2v2h-2z"/><path fill="#bed37a" d="M-58 -82h2v2h-2zM158 -82h2v2h-2zM102 -80h2v2h-2zM-136 -78h2v2h-2zM-22 -78h2v2h-2zM-4 -78h2v2h-2zM8 -78h2v2h-2zM14 -78h2v2h-2zM18 -78h2v2h-2zM152 -78h2v2h-2zM-104 -76h2v2h-2zM-74 -76h2v2h-2zM-20 -76h2v2h-2zM104 -76h2v2h-2zM112 -76h2v2h-2zM154 -76h2v2h-2zM156 -76h2v2h-2zM168 -76h2v2h-2zM4 -74h2v2h-2zM18 -74h2v2h-2zM20 -74h2v2h-2zM64 -74h2v2h-2zM10 -72h2v2h-2zM16 -72h2v2h-2zM150 -72h2v2h-2zM-160 -70h2v2h-2zM-142 -70h2v2h-2zM-80 -70h2v2h-2zM10 -70h2v2h-2zM126 -70h2v2h-2zM-80 -68h2v2h-2zM-72 -68h2v2h-2zM-32 -68h2v2h-2zM8 -68h2v2h-2zM148 -68h2v2h-2zM162 -68h2v2h-2zM-86 -66h2v2h-2zM-80 -66h2v2h-2zM44 -66h2v2h-2zM70 -66h2v2h-2zM120 -66h2v2h-2zM-56 -64h2v2h-2zM2 -64h2v2h-2zM108 -64h2v2h-2zM148 -64h2v2h-2zM16 -62h2v2h-2zM124 -62h2v2h-2zM140 -62h2v2h-2zM-110 -60h2v2h-2zM-2 -60h2v2h-2zM14 -60h2v2h-2zM-150 -58h2v2h-2zM-104 -58h2v2h-2zM-52 -58h2v2h-2zM10 -58h2v2h-2zM42 -58h2v2h-2zM160 -58h2v2h-2zM-70 -56h2v2h-2zM190 -56h2v2h-2zM-86 -54h2v2h-2zM116 -54h2v2h-2zM72 -52h2v2h-2zM90 -52h2v2h-2zM-40 -50h2v2h-2zM-4 -50h2v2h-2zM12 -50h2v2h-2zM54 -50h2v2h-2zM60 -50h2v2h-2zM150 -50h2v2h-2zM156 -50h2v2h-2zM-136 -48h2v2h-2zM-58 -48h2v2h-2zM22 -48h2v2h-2zM40 -48h2v2h-2zM160 -48h2v2h-2zM-142 -46h2v2h-2zM-76 -46h2v2h-2zM-66 -46h2v2h-2zM-50 -46h2v2h-2zM-32 -46h2v2h-2zM72 -46h2v2h-2zM96 -46h2v2h-2zM132 -46h2v2h-2zM148 -46h2v2h-2zM156 -46h2v2h-2zM-88 -44h2v2h-2zM-48 -44h2v2h-2zM-38 -44h2v2h-2zM32 -44h2v2h-2zM36 -44h2v2h-2zM38 -44h2v2h-2zM52 -44h2v2h-2zM96 -44h2v2h-2zM114 -44h2v2h-2zM132 -44h2v2h-2zM134 -44h2v2h-2zM-130 -42h2v2h-2zM-88 -42h2v2h-2zM-30 -42h2v2h-2zM-26 -42h2v2h-2zM44 -42h2v2h-2zM70 -42h2v2h-2zM156 -42h2v2h-2zM-44 -40h2v2h-2zM-112 -38h2v2h-2zM-74 -38h2v2h-2zM64 -38h2v2h-2zM30 -36h2v2h-2zM-56 -34h2v2h-2zM-52 -34h2v2h-2zM160 -34h2v2h-2zM-86 -32h2v2h-2zM-84 -32h2v2h-2zM-60 -32h2v2h-2zM32 -32h2v2h-2zM46 -32h2v2h-2zM166 -32h2v2h-2zM-78 -30h2v2h-2zM-74 -30h2v2h-2zM-72 -30h2v2h-2zM156 -30h2v2h-2zM-86 -26h2v2h-2zM8 -26h2v2h-2zM24 -26h2v2h-2zM76 -26h2v2h-2zM-70 -24h2v2h-2zM-100 -20h2v2h-2zM-76 -20h2v2h-2zM-50 -18h2v2h-2zM84 -18h2v2h-2zM86 -18h2v2h-2zM6 -16h2v2h-2zM86 -16h2v2h-2zM-114 -14h2v2h-2zM-96 -14h2v2h-2zM-50 -14h2v2h-2zM92 -14h2v2h-2zM-112 -12h2v2h-2zM-30 -12h2v2h-2zM-16 -12h2v2h-2zM2 -12h2v2h-2zM70 -12h2v2h-2zM134 -12h2v2h-2zM-160 -10h2v2h-2zM-116 -10h2v2h-2zM-64 -10h2v2h-2zM-62 -10h2v2h-2zM-32 -10h2v2h-2zM88 -10h2v2h-2zM100 -10h2v2h-2zM136 -10h2v2h-2zM-120 -8h2v2h-2zM-112 -8h2v2h-2zM-66 -8h2v2h-2zM-28 -8h2v2h-2zM14 -8h2v2h-2zM-82 -6h2v2h-2zM16 -6h2v2h-2zM84 -6h2v2h-2zM90 -6h2v2h-2zM106 -6h2v2h-2zM188 -6h2v2h-2zM-146 -4h2v2h-2zM-16 -4h2v2h-2zM2 -4h2v2h-2zM30 -4h2v2h-2zM92 -4h2v2h-2zM104 -4h2v2h-2zM110 -4h2v2h-2zM112 -4h2v2h-2zM142 -4h2v2h-2zM190 -4h2v2h-2zM8 -2h2v2h-2zM14 -2h2v2h-2zM90 -2h2v2h-2zM180 -2h2v2h-2zM-146 0h2v2h-2zM-46 0h2v2h-2zM-12 0h2v2h-2zM-2 0h2v2h-2zM12 0h2v2h-2zM14 0h2v2h-2zM72 0h2v2h-2zM142 0h2v2h-2zM184 0h2v2h-2zM-150 2h2v2h-2zM-54 2h2v2h-2zM14 2h2v2h-2zM78 2h2v2h-2zM86 2h2v2h-2zM106 2h2v2h-2zM142 2h2v2h-2zM148 2h2v2h-2zM-150 4h2v2h-2zM-120 4h2v2h-2zM-88 4h2v2h-2zM-60 4h2v2h-2zM16 4h2v2h-2zM134 4h2v2h-2zM-16 6h2v2h-2zM22 6h2v2h-2zM-108 10h2v2h-2zM20 10h2v2h-2zM54 10h2v2h-2zM112 10h2v2h-2zM106 12h2v2h-2zM-120 14h2v2h-2zM-82 18h2v2h-2zM-18 18h2v2h-2zM8 18h2v2h-2zM98 18h2v2h-2zM110 18h2v2h-2zM-68 20h2v2h-2zM-28 20h2v2h-2zM6 20h2v2h-2zM16 20h2v2h-2zM42 20h2v2h-2zM92 20h2v2h-2zM110 20h2v2h-2zM126 20h2v2h-2zM182 20h2v2h-2zM88 22h2v2h-2zM94 22h2v2h-2zM96 22h2v2h-2zM106 22h2v2h-2zM6 24h2v2h-2zM20 24h2v2h-2zM36 24h2v2h-2zM46 24h2v2h-2zM108 24h2v2h-2zM110 24h2v2h-2zM112 24h2v2h-2zM178 24h2v2h-2zM-122 26h2v2h-2zM-40 26h2v2h-2zM-18 26h2v2h-2zM-10 26h2v2h-2zM18 26h2v2h-2zM42 26h2v2h-2zM98 26h2v2h-2zM110 26h2v2h-2zM112 26h2v2h-2zM124 26h2v2h-2zM150 26h2v2h-2zM182 26h2v2h-2zM-76 28h2v2h-2zM-40 28h2v2h-2zM20 28h2v2h-2zM94 28h2v2h-2zM108 28h2v2h-2zM112 28h2v2h-2zM98 30h2v2h-2zM116 30h2v2h-2zM-144 32h2v2h-2zM-78 32h2v2h-2zM-8 32h2v2h-2zM4 32h2v2h-2zM16 32h2v2h-2zM34 32h2v2h-2zM102 32h2v2h-2zM156 32h2v2h-2zM-54 34h2v2h-2zM-46 34h2v2h-2zM-36 34h2v2h-2zM4 34h2v2h-2zM16 34h2v2h-2zM38 34h2v2h-2zM56 34h2v2h-2zM120 34h2v2h-2zM-136 36h2v2h-2zM-90 36h2v2h-2zM-82 36h2v2h-2zM-46 36h2v2h-2zM-42 36h2v2h-2zM-30 36h2v2h-2zM0 36h2v2h-2zM30 36h2v2h-2zM38 36h2v2h-2zM60 36h2v2h-2zM156 36h2v2h-2zM-84 38h2v2h-2zM-52 38h2v2h-2zM-42 38h2v2h-2zM-24 38h2v2h-2zM94 38h2v2h-2zM100 38h2v2h-2zM116 38h2v2h-2zM-164 40h2v2h-2zM-134 40h2v2h-2zM-114 40h2v2h-2zM-96 40h2v2h-2zM-90 40h2v2h-2zM-88 40h2v2h-2zM-62 40h2v2h-2zM-34 40h2v2h-2zM-26 40h2v2h-2zM-24 40h2v2h-2zM-2 40h2v2h-2zM34 40h2v2h-2zM52 40h2v2h-2zM82 40h2v2h-2zM86 40h2v2h-2zM94 40h2v2h-2zM96 40h2v2h-2zM120 40h2v2h-2zM146 40h2v2h-2zM164 40h2v2h-2zM-152 42h2v2h-2zM-140 42h2v2h-2zM-128 42h2v2h-2zM-74 42h2v2h-2zM-60 42h2v2h-2zM-58 42h2v2h-2zM-2 42h2v2h-2zM0 42h2v2h-2zM32 42h2v2h-2zM66 42h2v2h-2zM68 42h2v2h-2zM76 42h2v2h-2zM78 42h2v2h-2zM146 42h2v2h-2zM152 42h2v2h-2zM176 42h2v2h-2zM-152 44h2v2h-2zM0 44h2v2h-2zM20 44h2v2h-2zM32 44h2v2h-2zM60 44h2v2h-2zM72 44h2v2h-2zM104 44h2v2h-2zM148 44h2v2h-2zM-150 46h2v2h-2zM-148 46h2v2h-2zM-140 46h2v2h-2zM-138 46h2v2h-2zM-130 46h2v2h-2zM-106 46h2v2h-2zM-96 46h2v2h-2zM-92 46h2v2h-2zM-90 46h2v2h-2zM-86 46h2v2h-2zM-52 46h2v2h-2zM8 46h2v2h-2zM14 46h2v2h-2zM20 46h2v2h-2zM26 46h2v2h-2zM28 46h2v2h-2zM40 46h2v2h-2zM52 46h2v2h-2zM68 46h2v2h-2zM160 46h2v2h-2zM178 46h2v2h-2zM180 46h2v2h-2zM-154 48h2v2h-2zM-148 48h2v2h-2zM-144 48h2v2h-2zM-136 48h2v2h-2zM-130 48h2v2h-2zM-126 48h2v2h-2zM-108 48h2v2h-2zM-94 48h2v2h-2zM-82 48h2v2h-2zM-78 48h2v2h-2zM-76 48h2v2h-2zM-26 48h2v2h-2zM-22 48h2v2h-2zM-16 48h2v2h-2zM2 48h2v2h-2zM12 48h2v2h-2zM42 48h2v2h-2zM48 48h2v2h-2zM64 48h2v2h-2zM68 48h2v2h-2zM130 48h2v2h-2zM190 48h2v2h-2zM-164 50h2v2h-2zM-136 50h2v2h-2zM-116 50h2v2h-2zM-86 50h2v2h-2zM-38 50h2v2h-2zM-16 50h2v2h-2zM-14 50h2v2h-2zM16 50h2v2h-2zM20 50h2v2h-2zM38 50h2v2h-2zM64 50h2v2h-2zM66 50h2v2h-2zM70 50h2v2h-2zM76 50h2v2h-2zM94 50h2v2h-2zM96 50h2v2h-2zM138 50h2v2h-2zM148 50h2v2h-2zM150 50h2v2h-2zM-150 52h2v2h-2zM-116 52h2v2h-2zM-42 52h2v2h-2zM-28 52h2v2h-2zM-22 52h2v2h-2zM8 52h2v2h-2zM12 52h2v2h-2zM26 52h2v2h-2zM32 52h2v2h-2zM44 52h2v2h-2zM88 52h2v2h-2zM100 52h2v2h-2zM114 52h2v2h-2zM126 52h2v2h-2zM162 52h2v2h-2zM174 52h2v2h-2zM184 52h2v2h-2zM-166 54h2v2h-2zM-164 54h2v2h-2zM-158 54h2v2h-2zM-78 54h2v2h-2zM-74 54h2v2h-2zM-56 54h2v2h-2zM-50 54h2v2h-2zM-22 54h2v2h-2zM6 54h2v2h-2zM24 54h2v2h-2zM46 54h2v2h-2zM78 54h2v2h-2zM92 54h2v2h-2zM98 54h2v2h-2zM186 54h2v2h-2zM188 54h2v2h-2zM-166 56h2v2h-2zM-122 56h2v2h-2zM-110 56h2v2h-2zM-94 56h2v2h-2zM-50 56h2v2h-2zM-46 56h2v2h-2zM-16 56h2v2h-2zM6 56h2v2h-2zM24 56h2v2h-2zM32 56h2v2h-2zM52 56h2v2h-2zM76 56h2v2h-2zM122 56h2v2h-2zM132 56h2v2h-2zM184 56h2v2h-2zM-164 58h2v2h-2zM-114 58h2v2h-2zM-96 58h2v2h-2zM-78 58h2v2h-2zM58 58h2v2h-2zM88 58h2v2h-2zM104 58h2v2h-2zM122 58h2v2h-2zM130 58h2v2h-2zM166 58h2v2h-2zM-154 60h2v2h-2zM-146 60h2v2h-2zM-86 60h2v2h-2zM-82 60h2v2h-2zM96 60h2v2h-2zM120 60h2v2h-2zM-148 62h2v2h-2zM-142 62h2v2h-2zM38 62h2v2h-2zM50 62h2v2h-2zM90 62h2v2h-2zM106 62h2v2h-2zM-92 64h2v2h-2zM-82 64h2v2h-2zM78 64h2v2h-2zM116 64h2v2h-2zM124 64h2v2h-2zM-98 66h2v2h-2zM-96 66h2v2h-2zM-86 66h2v2h-2zM74 66h2v2h-2zM94 66h2v2h-2zM106 66h2v2h-2zM-116 68h2v2h-2zM-114 68h2v2h-2zM-100 68h2v2h-2zM-94 68h2v2h-2zM-28 68h2v2h-2zM72 68h2v2h-2zM74 68h2v2h-2zM-160 70h2v2h-2zM-94 70h2v2h-2zM-12 70h2v2h-2zM94 70h2v2h-2zM96 70h2v2h-2zM168 70h2v2h-2zM-104 72h2v2h-2zM-90 72h2v2h-2zM70 72h2v2h-2zM96 72h2v2h-2zM-152 74h2v2h-2zM-120 74h2v2h-2zM-94 74h2v2h-2zM-88 74h2v2h-2zM-60 74h2v2h-2zM-56 74h2v2h-2zM70 74h2v2h-2zM126 74h2v2h-2zM-98 76h2v2h-2zM-40 76h2v2h-2zM136 76h2v2h-2zM-148 78h2v2h-2zM-66 78h2v2h-2zM82 78h2v2h-2zM152 78h2v2h-2z"/><path fill="#c00000" d="M-48 42h2v2h-2z"/><path fill="#cedf5c" d="M184 -80h2v2h-2zM118 -76h2v2h-2zM48 -72h2v2h-2zM152 -70h2v2h-2zM10 -62h2v2h-2zM176 -60h2v2h-2zM32 -50h2v2h-2zM164 -48h2v2h-2zM-62 -46h2v2h-2zM158 -46h2v2h-2zM-40 -44h2v2h-2zM-16 -44h2v2h-2zM-76 -42h2v2h-2zM-74 -42h2v2h-2zM-42 -42h2v2h-2zM-66 -40h2v2h-2zM-56 -40h2v2h-2zM-52 -40h2v2h-2zM-72 -38h2v2h-2zM166 -36h2v2h-2zM168 -36h2v2h-2zM14 -34h2v2h-2zM154 -28h2v2h-2zM-88 -22h2v2h-2zM-74 -18h2v2h-2zM-72 -18h2v2h-2zM96 -18h2v2h-2zM100 -18h2v2h-2zM-76 -16h2v2h-2zM88 -14h2v2h-2zM100 -12h2v2h-2zM-122 -10h2v2h-2zM-14 -8h2v2h-2zM74 -8h2v2h-2zM134 -8h2v2h-2zM-112 -4h2v2h-2zM86 -4h2v2h-2zM108 -4h2v2h-2zM-168 -2h2v2h-2zM12 -2h2v2h-2zM142 -2h2v2h-2zM190 -2h2v2h-2zM-18 0h2v2h-2zM142 4h2v2h-2zM-68 6h2v2h-2zM84 6h2v2h-2zM146 6h2v2h-2zM38 20h2v2h-2zM40 20h2v2h-2zM90 20h2v2h-2zM120 20h2v2h-2zM92 22h2v2h-2zM46 26h2v2h-2zM102 26h2v2h-2zM16 28h2v2h-2zM46 30h2v2h-2zM-24 32h2v2h-2zM-168 34h2v2h-2zM-50 34h2v2h-2zM-84 36h2v2h-2zM-44 36h2v2h-2zM-4 36h2v2h-2zM-36 38h2v2h-2zM-2 38h2v2h-2zM118 38h2v2h-2zM-86 40h2v2h-2zM-82 40h2v2h-2zM6 40h2v2h-2zM32 40h2v2h-2zM92 40h2v2h-2zM154 40h2v2h-2zM-134 42h2v2h-2zM-86 42h2v2h-2zM158 42h2v2h-2zM160 42h2v2h-2zM184 42h2v2h-2zM-168 44h2v2h-2zM-164 44h2v2h-2zM-128 44h2v2h-2zM-90 44h2v2h-2zM-76 44h2v2h-2zM-22 44h2v2h-2zM6 44h2v2h-2zM8 44h2v2h-2zM10 44h2v2h-2zM14 44h2v2h-2zM18 44h2v2h-2zM22 44h2v2h-2zM26 44h2v2h-2zM50 44h2v2h-2zM76 44h2v2h-2zM132 44h2v2h-2zM150 44h2v2h-2zM154 44h2v2h-2zM188 44h2v2h-2zM-168 46h2v2h-2zM-136 46h2v2h-2zM-132 46h2v2h-2zM-84 46h2v2h-2zM-78 46h2v2h-2zM-58 46h2v2h-2zM-22 46h2v2h-2zM-20 46h2v2h-2zM-12 46h2v2h-2zM62 46h2v2h-2zM78 46h2v2h-2zM-162 48h2v2h-2zM-156 48h2v2h-2zM-122 48h2v2h-2zM-120 48h2v2h-2zM-98 48h2v2h-2zM-92 48h2v2h-2zM-88 48h2v2h-2zM-86 48h2v2h-2zM4 48h2v2h-2zM62 48h2v2h-2zM80 48h2v2h-2zM140 48h2v2h-2zM-148 50h2v2h-2zM-146 50h2v2h-2zM-142 50h2v2h-2zM-92 50h2v2h-2zM-90 50h2v2h-2zM-28 50h2v2h-2zM-18 50h2v2h-2zM10 50h2v2h-2zM40 50h2v2h-2zM80 50h2v2h-2zM84 50h2v2h-2zM98 50h2v2h-2zM146 50h2v2h-2zM160 50h2v2h-2zM166 50h2v2h-2zM182 50h2v2h-2zM190 50h2v2h-2zM-164 52h2v2h-2zM-102 52h2v2h-2zM-96 52h2v2h-2zM-92 52h2v2h-2zM-26 52h2v2h-2zM-20 52h2v2h-2zM6 52h2v2h-2zM60 52h2v2h-2zM66 52h2v2h-2zM128 52h2v2h-2zM166 52h2v2h-2zM182 52h2v2h-2zM186 52h2v2h-2zM-156 54h2v2h-2zM-152 54h2v2h-2zM-110 54h2v2h-2zM-108 54h2v2h-2zM-54 54h2v2h-2zM50 54h2v2h-2zM66 54h2v2h-2zM94 54h2v2h-2zM176 54h2v2h-2zM180 54h2v2h-2zM182 54h2v2h-2zM-158 56h2v2h-2zM-156 56h2v2h-2zM-150 56h2v2h-2zM-118 56h2v2h-2zM-106 56h2v2h-2zM-92 56h2v2h-2zM38 56h2v2h-2zM44 56h2v2h-2zM72 56h2v2h-2zM-86 58h2v2h-2zM-84 58h2v2h-2zM-148 60h2v2h-2zM-84 60h2v2h-2zM116 60h2v2h-2zM-86 62h2v2h-2zM98 62h2v2h-2zM-98 70h2v2h-2zM-96 72h2v2h-2z"/><path fill="#d50000" d="M-78 -24h2v2h-2zM118 14h2v2h-2zM38 24h2v2h-2zM22 40h2v2h-2z"/><path fill="#e2ea36" d="M-58 -38h2v2h-2zM38 -38h2v2h-2zM156 -38h2v2h-2zM-68 -36h2v2h-2zM154 -36h2v2h-2zM-72 -26h2v2h-2zM-74 -24h2v2h-2zM-72 -24h2v2h-2zM-84 -20h2v2h-2zM-82 -18h2v2h-2zM-80 -16h2v2h-2zM100 -14h2v2h-2zM102 -14h2v2h-2zM-12 -12h2v2h-2zM88 -8h2v2h-2zM90 -8h2v2h-2zM96 -8h2v2h-2zM96 -4h2v2h-2zM88 -2h2v2h-2zM92 -2h2v2h-2zM110 12h2v2h-2zM110 14h2v2h-2zM120 14h2v2h-2zM122 16h2v2h-2zM114 18h2v2h-2zM118 18h2v2h-2zM44 22h2v2h-2zM-82 32h2v2h-2zM-6 34h2v2h-2zM26 34h2v2h-2zM32 34h2v2h-2zM36 34h2v2h-2zM4 36h2v2h-2zM34 36h2v2h-2zM-82 38h2v2h-2zM-44 38h2v2h-2zM-34 38h2v2h-2zM8 38h2v2h-2zM32 38h2v2h-2zM-148 40h2v2h-2zM-136 40h2v2h-2zM18 40h2v2h-2zM-150 42h2v2h-2zM-136 42h2v2h-2zM-132 42h2v2h-2zM-42 42h2v2h-2zM-32 42h2v2h-2zM-28 42h2v2h-2zM10 42h2v2h-2zM98 42h2v2h-2zM-132 44h2v2h-2zM-88 44h2v2h-2zM-42 44h2v2h-2zM-28 44h2v2h-2zM-16 44h2v2h-2zM2 44h2v2h-2zM24 44h2v2h-2zM28 44h2v2h-2zM64 44h2v2h-2zM126 44h2v2h-2zM176 44h2v2h-2zM186 44h2v2h-2zM-80 46h2v2h-2zM-72 46h2v2h-2zM-30 46h2v2h-2zM-26 46h2v2h-2zM42 46h2v2h-2zM66 46h2v2h-2zM-56 48h2v2h-2zM-28 48h2v2h-2zM36 48h2v2h-2zM58 48h2v2h-2zM60 48h2v2h-2zM66 48h2v2h-2zM160 48h2v2h-2zM-52 50h2v2h-2zM-20 50h2v2h-2zM12 50h2v2h-2zM62 50h2v2h-2zM68 50h2v2h-2zM-158 52h2v2h-2zM-156 52h2v2h-2zM-128 52h2v2h-2zM-122 52h2v2h-2zM-108 52h2v2h-2zM0 52h2v2h-2zM-126 54h2v2h-2zM-116 54h2v2h-2zM18 54h2v2h-2zM64 54h2v2h-2zM-112 56h2v2h-2zM-90 56h2v2h-2zM-84 56h2v2h-2zM40 56h2v2h-2zM48 56h2v2h-2zM58 56h2v2h-2zM180 56h2v2h-2zM-154 58h2v2h-2zM-148 58h2v2h-2zM-130 58h2v2h-2zM-92 58h2v2h-2zM-82 58h2v2h-2zM-152 60h2v2h-2z"/><path fill="#ea0000" d="M116 12h2v2h-2zM24 38h2v2h-2z"/><path fill="#f9f30a" d="M-64 -44h2v2h-2zM-62 -44h2v2h-2zM-50 -44h2v2h-2zM-58 -42h2v2h-2zM-76 -40h2v2h-2zM-62 -38h2v2h-2zM158 -36h2v2h-2zM92 -8h2v2h-2zM94 -8h2v2h-2zM90 -4h2v2h-2zM112 12h2v2h-2zM110 16h2v2h-2zM46 28h2v2h-2zM150 28h2v2h-2zM36 32h2v2h-2zM42 32h2v2h-2zM-24 34h2v2h-2zM42 34h2v2h-2zM44 34h2v2h-2zM-24 36h2v2h-2zM14 36h2v2h-2zM24 36h2v2h-2zM-56 40h2v2h-2zM-54 40h2v2h-2zM-148 42h2v2h-2zM-88 42h2v2h-2zM-56 42h2v2h-2zM-54 42h2v2h-2zM-50 42h2v2h-2zM20 42h2v2h-2zM84 42h2v2h-2zM150 42h2v2h-2zM-56 44h2v2h-2zM-50 44h2v2h-2zM-32 44h2v2h-2zM100 44h2v2h-2zM172 44h2v2h-2zM-134 46h2v2h-2zM6 46h2v2h-2zM80 46h2v2h-2zM-150 48h2v2h-2zM-140 48h2v2h-2zM-140 50h2v2h-2zM-130 50h2v2h-2zM-124 50h2v2h-2zM-88 50h2v2h-2zM-56 50h2v2h-2zM176 50h2v2h-2zM-166 52h2v2h-2zM-146 52h2v2h-2zM-138 52h2v2h-2zM-94 52h2v2h-2zM-48 52h2v2h-2zM-38 52h2v2h-2zM172 52h2v2h-2zM178 52h2v2h-2zM180 52h2v2h-2zM-138 54h2v2h-2zM-132 54h2v2h-2zM-94 54h2v2h-2zM32 54h2v2h-2zM56 56h2v2h-2zM-138 58h2v2h-2z"/><path fill="#ff0000" d="M-64 -42h2v2h-2zM-64 -40h2v2h-2z"/><path fill="#ff1500" d="M154 -34h2v2h-2zM-80 -22h2v2h-2z"/><path fill="#ff2b00" d="M-66 -42h2v2h-2zM152 -32h2v2h-2zM-80 -26h2v2h-2zM152 34h2v2h-2zM94 44h2v2h-2z"/><path fill="#ff4000" d="M-84 -24h2v2h-2zM-14 -12h2v2h-2zM116 16h2v2h-2zM118 16h2v2h-2zM-48 40h2v2h-2z"/><path fill="#ff5500" d="M-82 -24h2v2h-2zM-14 -10h2v2h-2zM40 22h2v2h-2zM154 32h2v2h-2zM24 42h2v2h-2zM-44 44h2v2h-2zM180 48h2v2h-2z"/><path fill="#ff6b00" d="M-66 -38h2v2h-2zM166 -34h2v2h-2zM154 34h2v2h-2zM-46 38h2v2h-2zM2 40h2v2h-2zM4 40h2v2h-2zM-48 44h2v2h-2zM26 50h2v2h-2z"/><path fill="#ff8000" d="M170 -34h2v2h-2zM-76 -22h2v2h-2zM122 14h2v2h-2zM42 30h2v2h-2zM150 34h2v2h-2zM22 42h2v2h-2zM90 44h2v2h-2zM178 48h2v2h-2zM-92 54h2v2h-2z"/><path fill="#ff9400" d="M-62 -42h2v2h-2zM86 -22h2v2h-2zM116 14h2v2h-2zM-26 36h2v2h-2zM6 38h2v2h-2zM10 38h2v2h-2zM8 40h2v2h-2zM2 42h2v2h-2zM182 46h2v2h-2zM88 48h2v2h-2zM170 48h2v2h-2zM176 48h2v2h-2zM-134 50h2v2h-2zM-42 50h2v2h-2zM178 50h2v2h-2zM180 50h2v2h-2z"/><path fill="#ffa900" d="M170 -36h2v2h-2zM88 -6h2v2h-2zM38 30h2v2h-2zM44 32h2v2h-2zM152 32h2v2h-2zM-28 36h2v2h-2zM4 38h2v2h-2zM16 38h2v2h-2zM28 42h2v2h-2zM92 46h2v2h-2zM188 46h2v2h-2zM84 48h2v2h-2zM-90 52h2v2h-2z"/><path fill="#ffbd00" d="M-54 -38h2v2h-2zM172 -34h2v2h-2zM-78 -22h2v2h-2zM42 28h2v2h-2zM44 28h2v2h-2zM40 32h2v2h-2zM-26 34h2v2h-2zM-26 38h2v2h-2zM2 38h2v2h-2zM12 38h2v2h-2zM30 38h2v2h-2zM-42 40h2v2h-2zM14 40h2v2h-2zM-52 42h2v2h-2zM-34 42h2v2h-2zM90 42h2v2h-2zM-46 44h2v2h-2zM98 46h2v2h-2zM156 46h2v2h-2zM-40 48h2v2h-2zM-38 48h2v2h-2zM168 48h2v2h-2zM184 48h2v2h-2zM22 50h2v2h-2zM172 50h2v2h-2zM18 52h2v2h-2zM-88 54h2v2h-2zM-86 54h2v2h-2zM-152 56h2v2h-2zM-88 56h2v2h-2z"/><path fill="#ffd100" d="M-70 -42h2v2h-2zM-50 -42h2v2h-2zM-58 -40h2v2h-2zM-82 -28h2v2h-2zM-78 -28h2v2h-2zM-74 -26h2v2h-2zM-74 -22h2v2h-2zM90 -20h2v2h-2zM-80 -18h2v2h-2zM-12 -10h2v2h-2zM86 -10h2v2h-2zM90 -10h2v2h-2zM44 26h2v2h-2zM152 28h2v2h-2zM40 30h2v2h-2zM-28 34h2v2h-2zM22 36h2v2h-2zM-28 38h2v2h-2zM0 40h2v2h-2zM10 40h2v2h-2zM28 40h2v2h-2zM4 42h2v2h-2zM6 42h2v2h-2zM8 42h2v2h-2zM26 42h2v2h-2zM88 42h2v2h-2zM-34 44h2v2h-2zM86 44h2v2h-2zM184 44h2v2h-2zM-32 46h2v2h-2zM88 46h2v2h-2zM150 46h2v2h-2zM152 46h2v2h-2zM164 46h2v2h-2zM176 46h2v2h-2zM158 48h2v2h-2zM-36 50h2v2h-2zM30 50h2v2h-2zM60 50h2v2h-2zM-148 52h2v2h-2zM-130 52h2v2h-2zM54 52h2v2h-2zM-154 54h2v2h-2zM-90 54h2v2h-2zM-86 56h2v2h-2zM-144 58h2v2h-2z"/><path fill="#ffe600" d="M-70 -44h2v2h-2zM-56 -38h2v2h-2zM150 -34h2v2h-2zM-78 -26h2v2h-2zM-76 -18h2v2h-2zM92 -16h2v2h-2zM86 -12h2v2h-2zM88 -12h2v2h-2zM98 -12h2v2h-2zM92 -10h2v2h-2zM112 16h2v2h-2zM36 30h2v2h-2zM38 32h2v2h-2zM-30 34h2v2h-2zM22 34h2v2h-2zM40 34h2v2h-2zM-48 38h2v2h-2zM-40 38h2v2h-2zM14 38h2v2h-2zM-52 40h2v2h-2zM12 40h2v2h-2zM16 40h2v2h-2zM20 40h2v2h-2zM-106 44h2v2h-2zM-54 44h2v2h-2zM12 44h2v2h-2zM92 44h2v2h-2zM180 44h2v2h-2zM-38 46h2v2h-2zM-34 46h2v2h-2zM64 46h2v2h-2zM-54 48h2v2h-2zM-48 48h2v2h-2zM-46 48h2v2h-2zM-44 48h2v2h-2zM94 48h2v2h-2zM166 48h2v2h-2zM172 48h2v2h-2zM-138 50h2v2h-2zM-132 50h2v2h-2zM-50 50h2v2h-2zM-46 50h2v2h-2zM-32 50h2v2h-2zM42 50h2v2h-2zM-88 52h2v2h-2zM-86 52h2v2h-2zM22 52h2v2h-2zM30 52h2v2h-2zM36 52h2v2h-2zM42 52h2v2h-2zM64 52h2v2h-2zM68 52h2v2h-2zM176 52h2v2h-2zM-150 54h2v2h-2zM28 54h2v2h-2zM36 54h2v2h-2zM42 54h2v2h-2zM48 54h2v2h-2zM-128 56h2v2h-2z"/>
<path fill="#fff" d="M-128 -70.5L-122 -69L-110 -67.5L-96 -67L-90 -69L-85 -70.5L-80 -73.5L-76 -76L-72 -78.5L-66 -80.5L-62 -82L-60 -86L-140 -86L-140 -77L-130 -74ZM-62 63L-52 63.5L-50 69L-38 70L-30 75L-20 77L-20 85L-62 85ZM-79 72L-69 72L-69 65L-79 65ZM170 -76L200 -76L200 -90L170 -90Z"/>
<use href="#land" x="-360"/>
<use href="#land" x="0"/>
<use href="#land" x="360"/>
<use href="#ant"/>
<use href="#deco" x="0"/>
<use href="#lakes" x="0"/>
<use href="#deco" x="360"/>
<use href="#lakes" x="360"/>
</g>
<path d="M610.9 297.9V525.8M738.8 297.9V525.8M866.8 297.9V525.8M524.8 475.2H983.6M524.8 411.8H983.6M524.8 348.5H983.6" stroke="#888" stroke-width="0.6" stroke-dasharray="1 2" fill="none" opacity="0.6"/>
</g>
<rect x="524.8" y="297.9" width="458.8" height="227.9" fill="none" stroke="#333" stroke-width="1.3"/>
<path d="M534.1 525.8v-3.5M534.1 297.9v3.5M559.7 525.8v-3.5M559.7 297.9v3.5M585.3 525.8v-3.5M585.3 297.9v3.5M610.9 525.8v-5.0M610.9 297.9v5.0M636.5 525.8v-3.5M636.5 297.9v3.5M662.1 525.8v-3.5M662.1 297.9v3.5M687.7 525.8v-3.5M687.7 297.9v3.5M713.3 525.8v-3.5M713.3 297.9v3.5M738.8 525.8v-5.0M738.8 297.9v5.0M764.4 525.8v-3.5M764.4 297.9v3.5M790.0 525.8v-3.5M790.0 297.9v3.5M815.6 525.8v-3.5M815.6 297.9v3.5M841.2 525.8v-3.5M841.2 297.9v3.5M866.8 525.8v-5.0M866.8 297.9v5.0M892.4 525.8v-3.5M892.4 297.9v3.5M918.0 525.8v-3.5M918.0 297.9v3.5M943.6 525.8v-3.5M943.6 297.9v3.5M969.1 525.8v-3.5M969.1 297.9v3.5M524.8 513.1h3.5M983.6 513.1h-3.5M524.8 500.5h3.5M983.6 500.5h-3.5M524.8 487.8h3.5M983.6 487.8h-3.5M524.8 475.2h5.0M983.6 475.2h-5.0M524.8 462.5h3.5M983.6 462.5h-3.5M524.8 449.8h3.5M983.6 449.8h-3.5M524.8 437.2h3.5M983.6 437.2h-3.5M524.8 424.5h3.5M983.6 424.5h-3.5M524.8 411.8h5.0M983.6 411.8h-5.0M524.8 399.2h3.5M983.6 399.2h-3.5M524.8 386.5h3.5M983.6 386.5h-3.5M524.8 373.9h3.5M983.6 373.9h-3.5M524.8 361.2h3.5M983.6 361.2h-3.5M524.8 348.5h5.0M983.6 348.5h-5.0M524.8 335.9h3.5M983.6 335.9h-3.5M524.8 323.2h3.5M983.6 323.2h-3.5M524.8 310.6h3.5M983.6 310.6h-3.5" stroke="#333" stroke-width="1" fill="none"/>
<g font-family="'DejaVu Sans','Liberation Sans',sans-serif" font-size="9.6" fill="#222"><text x="610.9" y="539.3" text-anchor="middle">-100</text><text x="738.8" y="539.3" text-anchor="middle">0</text><text x="866.8" y="539.3" text-anchor="middle">100</text><text x="521.6" y="352.4" text-anchor="end">50</text><text x="521.6" y="415.7" text-anchor="end">0</text><text x="521.6" y="479.1" text-anchor="end">-50</text></g>
<text x="625.9" y="291.8" textLength="257.5" lengthAdjust="spacingAndGlyphs" font-family="'DejaVu Sans','Liberation Sans',sans-serif" font-size="12.8" fill="#222">VAR(SLA - DUSHAW2) - VAR(SLA - ZERO)</text>
<g clip-path="url(#c5)">
<rect x="28.5" y="572" width="460.3" height="229.1" fill="#fff"/>
<g transform="translate(243.25 686.55) scale(1.2836 1.2728)">
<rect x="-200" y="-66" width="420" height="131" fill="#b2b2b2"/>
<rect x="-200" y="-66" width="420" height="131" fill="url(#nz5)"/>
<path fill="#0000d8" d="M150 -27h2v2h-2zM-164 -25h2v2h-2zM96 -15h2v2h-2zM124 3h2v2h-2zM116 5h2v2h-2zM156 9h2v2h-2zM172 9h2v2h-2z"/><path fill="#0000eb" d="M130 -27h2v2h-2zM-78 -25h2v2h-2zM136 -25h2v2h-2zM150 -25h2v2h-2zM128 -23h2v2h-2zM134 -23h2v2h-2zM118 -21h2v2h-2zM-164 -19h2v2h-2zM150 -17h2v2h-2zM96 -13h2v2h-2zM122 -5h2v2h-2zM116 1h2v2h-2zM118 9h2v2h-2zM152 9h2v2h-2zM162 15h2v2h-2zM-154 17h2v2h-2zM-144 17h2v2h-2z"/><path fill="#0000ff" d="M-166 -27h2v2h-2zM-80 -25h2v2h-2zM120 -25h2v2h-2zM120 -19h2v2h-2zM124 -3h2v2h-2zM-44 -1h2v2h-2zM116 3h2v2h-2zM48 7h2v2h-2zM126 7h2v2h-2zM152 7h2v2h-2zM154 11h2v2h-2zM60 13h2v2h-2zM162 13h2v2h-2zM58 17h2v2h-2zM164 17h2v2h-2zM-144 23h2v2h-2zM166 23h2v2h-2z"/><path fill="#0015ff" d="M152 -27h2v2h-2zM134 -25h2v2h-2zM-78 -23h2v2h-2zM144 -23h2v2h-2zM152 -23h2v2h-2zM152 -19h2v2h-2zM94 -17h2v2h-2zM118 -3h2v2h-2zM120 -3h2v2h-2zM124 -1h2v2h-2zM118 5h2v2h-2zM174 7h2v2h-2zM48 11h2v2h-2zM170 11h2v2h-2zM-144 15h2v2h-2zM-142 15h2v2h-2zM62 15h2v2h-2zM156 17h2v2h-2zM-148 21h2v2h-2zM-140 21h2v2h-2zM162 25h2v2h-2z"/><path fill="#002bff" d="M130 -29h2v2h-2zM134 -27h2v2h-2zM-168 -25h2v2h-2zM154 -25h2v2h-2zM-80 -23h2v2h-2zM120 -23h2v2h-2zM-168 -21h2v2h-2zM122 -21h2v2h-2zM132 -21h2v2h-2zM134 -21h2v2h-2zM156 -21h2v2h-2zM-166 -19h2v2h-2zM146 -15h2v2h-2zM-160 -11h2v2h-2zM92 -11h2v2h-2zM96 -11h2v2h-2zM-48 -5h2v2h-2zM116 -3h2v2h-2zM130 -3h2v2h-2zM130 5h2v2h-2zM116 7h2v2h-2zM50 9h2v2h-2zM158 9h2v2h-2zM168 11h2v2h-2zM-146 13h2v2h-2zM58 13h2v2h-2zM-150 19h2v2h-2z"/><path fill="#0040ff" d="M146 -27h2v2h-2zM-164 -23h2v2h-2zM142 -15h2v2h-2zM94 -11h2v2h-2zM122 -3h2v2h-2zM116 -1h2v2h-2zM130 1h2v2h-2zM170 7h2v2h-2zM152 11h2v2h-2zM176 11h2v2h-2zM166 15h2v2h-2zM-148 17h2v2h-2zM56 17h2v2h-2zM-152 19h2v2h-2zM168 19h2v2h-2zM170 25h2v2h-2zM168 29h2v2h-2z"/><path fill="#0055ff" d="M-164 -27h2v2h-2zM126 -27h2v2h-2zM140 -27h2v2h-2zM158 -21h2v2h-2zM122 -19h2v2h-2zM140 -15h2v2h-2zM150 -15h2v2h-2zM-50 -7h2v2h-2zM114 -1h2v2h-2zM114 3h2v2h-2zM114 5h2v2h-2zM120 5h2v2h-2zM152 5h2v2h-2zM114 7h2v2h-2zM130 7h2v2h-2zM154 7h2v2h-2zM170 9h2v2h-2zM58 11h2v2h-2zM62 11h2v2h-2zM120 11h2v2h-2zM124 11h2v2h-2zM126 11h2v2h-2zM-150 13h2v2h-2zM-140 17h2v2h-2zM-146 19h2v2h-2zM-144 21h2v2h-2zM164 23h2v2h-2zM170 29h2v2h-2z"/><path fill="#006bff" d="M124 -27h2v2h-2zM122 -25h2v2h-2zM118 -23h2v2h-2zM132 -23h2v2h-2zM154 -23h2v2h-2zM130 -21h2v2h-2zM-164 -17h2v2h-2zM96 -17h2v2h-2zM156 -17h2v2h-2zM-162 -15h2v2h-2zM-162 -13h2v2h-2zM-158 -13h2v2h-2zM96 -9h2v2h-2zM92 -7h2v2h-2zM124 -5h2v2h-2zM128 -5h2v2h-2zM-48 -1h2v2h-2zM130 -1h2v2h-2zM128 3h2v2h-2zM50 7h2v2h-2zM150 7h2v2h-2zM180 9h2v2h-2zM172 13h2v2h-2zM176 13h2v2h-2zM158 17h2v2h-2zM170 19h2v2h-2zM170 23h2v2h-2zM162 27h2v2h-2z"/><path fill="#0080ff" d="M138 -29h2v2h-2zM154 -27h2v2h-2zM-160 -25h2v2h-2zM156 -25h2v2h-2zM126 -23h2v2h-2zM-160 -21h2v2h-2zM-158 -21h2v2h-2zM124 -21h2v2h-2zM128 -21h2v2h-2zM152 -21h2v2h-2zM118 -19h2v2h-2zM126 -19h2v2h-2zM152 -17h2v2h-2zM-158 -15h2v2h-2zM90 -15h2v2h-2zM-164 -13h2v2h-2zM90 -13h2v2h-2zM144 -13h2v2h-2zM92 -9h2v2h-2zM120 -7h2v2h-2zM128 -7h2v2h-2zM-44 -5h2v2h-2zM118 -5h2v2h-2zM130 -5h2v2h-2zM-50 -1h2v2h-2zM122 1h2v2h-2zM128 9h2v2h-2zM160 9h2v2h-2zM46 11h2v2h-2zM60 11h2v2h-2zM156 11h2v2h-2zM-154 13h2v2h-2zM-140 13h2v2h-2zM-154 15h2v2h-2zM64 15h2v2h-2zM60 17h2v2h-2zM104 19h2v2h-2zM154 19h2v2h-2zM-142 21h2v2h-2zM174 21h2v2h-2zM-146 23h2v2h-2zM156 23h2v2h-2zM168 23h2v2h-2zM166 29h2v2h-2z"/><path fill="#0095ff" d="M-162 -27h2v2h-2zM144 -27h2v2h-2zM-162 -25h2v2h-2zM118 -25h2v2h-2zM148 -25h2v2h-2zM158 -25h2v2h-2zM162 -25h2v2h-2zM-76 -23h2v2h-2zM116 -23h2v2h-2zM124 -23h2v2h-2zM138 -21h2v2h-2zM162 -21h2v2h-2zM170 -21h2v2h-2zM172 -21h2v2h-2zM-156 -19h2v2h-2zM130 -19h2v2h-2zM156 -19h2v2h-2zM172 -19h2v2h-2zM174 -19h2v2h-2zM-166 -17h2v2h-2zM128 -17h2v2h-2zM130 -17h2v2h-2zM132 -17h2v2h-2zM154 -17h2v2h-2zM164 -17h2v2h-2zM0 -15h2v2h-2zM136 -15h2v2h-2zM148 -15h2v2h-2zM158 -15h2v2h-2zM122 -9h2v2h-2zM-52 -7h2v2h-2zM-46 -7h2v2h-2zM122 -7h2v2h-2zM130 -7h2v2h-2zM134 -1h2v2h-2zM132 5h2v2h-2zM154 5h2v2h-2zM46 7h2v2h-2zM124 7h2v2h-2zM180 7h2v2h-2zM52 9h2v2h-2zM62 9h2v2h-2zM150 9h2v2h-2zM162 9h2v2h-2zM50 11h2v2h-2zM118 11h2v2h-2zM180 11h2v2h-2zM124 13h2v2h-2zM178 13h2v2h-2zM-138 15h2v2h-2zM52 15h2v2h-2zM54 15h2v2h-2zM164 15h2v2h-2zM172 15h2v2h-2zM174 15h2v2h-2zM176 15h2v2h-2zM-38 17h2v2h-2zM170 17h2v2h-2zM-154 21h2v2h-2zM-146 21h2v2h-2zM170 21h2v2h-2zM-140 23h2v2h-2zM168 25h2v2h-2zM172 25h2v2h-2zM-102 33h2v2h-2z"/><path fill="#00aaff" d="M-164 -29h2v2h-2zM-162 -29h2v2h-2zM144 -29h2v2h-2zM-160 -27h2v2h-2zM122 -27h2v2h-2zM160 -27h2v2h-2zM-158 -25h2v2h-2zM-160 -23h2v2h-2zM-158 -23h2v2h-2zM158 -23h2v2h-2zM170 -23h2v2h-2zM164 -21h2v2h-2zM94 -19h2v2h-2zM124 -19h2v2h-2zM144 -19h2v2h-2zM162 -19h2v2h-2zM176 -19h2v2h-2zM-160 -17h2v2h-2zM-158 -17h2v2h-2zM162 -17h2v2h-2zM-166 -15h2v2h-2zM2 -15h2v2h-2zM108 -15h2v2h-2zM138 -15h2v2h-2zM152 -15h2v2h-2zM164 -15h2v2h-2zM0 -13h2v2h-2zM134 -13h2v2h-2zM94 -9h2v2h-2zM118 -9h2v2h-2zM-158 -7h2v2h-2zM94 -7h2v2h-2zM124 -7h2v2h-2zM126 -7h2v2h-2zM-52 -5h2v2h-2zM126 -3h2v2h-2zM118 3h2v2h-2zM130 3h2v2h-2zM150 5h2v2h-2zM166 5h2v2h-2zM128 7h2v2h-2zM44 9h2v2h-2zM120 9h2v2h-2zM126 9h2v2h-2zM130 9h2v2h-2zM164 9h2v2h-2zM-150 11h2v2h-2zM-148 11h2v2h-2zM52 11h2v2h-2zM164 11h2v2h-2zM166 11h2v2h-2zM154 13h2v2h-2zM156 13h2v2h-2zM168 13h2v2h-2zM180 13h2v2h-2zM-146 15h2v2h-2zM156 15h2v2h-2zM-150 17h2v2h-2zM104 17h2v2h-2zM166 17h2v2h-2zM172 17h2v2h-2zM174 17h2v2h-2zM-138 19h2v2h-2zM62 19h2v2h-2zM156 19h2v2h-2zM160 19h2v2h-2zM172 19h2v2h-2zM-150 21h2v2h-2zM160 21h2v2h-2zM164 21h2v2h-2zM160 25h2v2h-2zM-104 29h2v2h-2z"/><path fill="#00bfff" d="M126 -29h2v2h-2zM142 -29h2v2h-2zM146 -29h2v2h-2zM162 -27h2v2h-2zM-166 -25h2v2h-2zM172 -23h2v2h-2zM174 -23h2v2h-2zM176 -23h2v2h-2zM126 -21h2v2h-2zM160 -21h2v2h-2zM168 -21h2v2h-2zM176 -21h2v2h-2zM170 -19h2v2h-2zM160 -17h2v2h-2zM166 -17h2v2h-2zM120 -15h2v2h-2zM132 -15h2v2h-2zM144 -15h2v2h-2zM160 -15h2v2h-2zM-2 -13h2v2h-2zM114 -13h2v2h-2zM130 -13h2v2h-2zM90 -11h2v2h-2zM116 -9h2v2h-2zM-156 -7h2v2h-2zM-54 -7h2v2h-2zM-48 -7h2v2h-2zM180 -7h2v2h-2zM-42 -3h2v2h-2zM118 -1h2v2h-2zM-122 3h2v2h-2zM170 5h2v2h-2zM178 5h2v2h-2zM54 7h2v2h-2zM110 7h2v2h-2zM118 7h2v2h-2zM132 7h2v2h-2zM158 7h2v2h-2zM166 7h2v2h-2zM168 7h2v2h-2zM-146 9h2v2h-2zM114 9h2v2h-2zM154 9h2v2h-2zM-144 11h2v2h-2zM116 11h2v2h-2zM162 11h2v2h-2zM178 11h2v2h-2zM-160 13h2v2h-2zM64 13h2v2h-2zM122 13h2v2h-2zM160 13h2v2h-2zM-140 15h2v2h-2zM-36 15h2v2h-2zM46 15h2v2h-2zM48 15h2v2h-2zM56 15h2v2h-2zM158 15h2v2h-2zM168 15h2v2h-2zM48 17h2v2h-2zM50 17h2v2h-2zM-154 19h2v2h-2zM54 19h2v2h-2zM60 19h2v2h-2zM164 19h2v2h-2zM154 21h2v2h-2zM156 21h2v2h-2zM154 23h2v2h-2zM158 23h2v2h-2zM174 23h2v2h-2zM166 27h2v2h-2zM164 29h2v2h-2zM-106 31h2v2h-2zM172 33h2v2h-2zM-12 35h2v2h-2zM-10 37h2v2h-2z"/><path fill="#00d4ff" d="M-164 -31h2v2h-2zM-166 -29h2v2h-2zM132 -29h2v2h-2zM134 -29h2v2h-2zM150 -29h2v2h-2zM-80 -27h2v2h-2zM158 -27h2v2h-2zM170 -27h2v2h-2zM124 -25h2v2h-2zM126 -25h2v2h-2zM-16 -23h2v2h-2zM156 -23h2v2h-2zM166 -23h2v2h-2zM190 -23h2v2h-2zM-18 -21h2v2h-2zM-16 -21h2v2h-2zM-168 -19h2v2h-2zM154 -19h2v2h-2zM164 -19h2v2h-2zM106 -17h2v2h-2zM120 -17h2v2h-2zM122 -17h2v2h-2zM168 -17h2v2h-2zM170 -17h2v2h-2zM-156 -15h2v2h-2zM154 -15h2v2h-2zM-154 -13h2v2h-2zM2 -13h2v2h-2zM142 -13h2v2h-2zM-156 -11h2v2h-2zM-154 -11h2v2h-2zM-2 -11h2v2h-2zM2 -11h2v2h-2zM130 -11h2v2h-2zM-162 -9h2v2h-2zM-158 -9h2v2h-2zM124 -9h2v2h-2zM90 -7h2v2h-2zM114 -5h2v2h-2zM134 -3h2v2h-2zM-42 -1h2v2h-2zM-46 1h2v2h-2zM112 1h2v2h-2zM132 1h2v2h-2zM112 3h2v2h-2zM180 5h2v2h-2zM134 7h2v2h-2zM160 7h2v2h-2zM176 7h2v2h-2zM56 9h2v2h-2zM60 9h2v2h-2zM112 9h2v2h-2zM174 9h2v2h-2zM-146 11h2v2h-2zM132 11h2v2h-2zM-148 13h2v2h-2zM170 13h2v2h-2zM-158 17h2v2h-2zM-36 17h2v2h-2zM64 17h2v2h-2zM-156 19h2v2h-2zM158 19h2v2h-2zM162 19h2v2h-2zM174 19h2v2h-2zM178 19h2v2h-2zM-22 21h2v2h-2zM62 21h2v2h-2zM152 21h2v2h-2zM-148 23h2v2h-2zM-132 27h2v2h-2zM170 27h2v2h-2zM-94 31h2v2h-2zM-12 31h2v2h-2zM-10 31h2v2h-2zM-8 31h2v2h-2zM172 31h2v2h-2zM-104 33h2v2h-2zM-102 35h2v2h-2z"/><path fill="#00e8ff" d="M136 -33h2v2h-2zM-160 -31h2v2h-2zM144 -31h2v2h-2zM146 -31h2v2h-2zM72 -29h2v2h-2zM74 -29h2v2h-2zM120 -29h2v2h-2zM122 -29h2v2h-2zM148 -29h2v2h-2zM-168 -27h2v2h-2zM156 -27h2v2h-2zM164 -27h2v2h-2zM160 -25h2v2h-2zM-168 -23h2v2h-2zM-74 -23h2v2h-2zM140 -23h2v2h-2zM-156 -21h2v2h-2zM-78 -21h2v2h-2zM-30 -21h2v2h-2zM90 -21h2v2h-2zM174 -21h2v2h-2zM-160 -19h2v2h-2zM-158 -19h2v2h-2zM92 -19h2v2h-2zM128 -19h2v2h-2zM132 -19h2v2h-2zM-168 -17h2v2h-2zM-162 -17h2v2h-2zM-156 -17h2v2h-2zM92 -17h2v2h-2zM140 -17h2v2h-2zM148 -17h2v2h-2zM-136 -15h2v2h-2zM-58 -15h2v2h-2zM94 -15h2v2h-2zM110 -15h2v2h-2zM112 -15h2v2h-2zM124 -15h2v2h-2zM128 -15h2v2h-2zM130 -15h2v2h-2zM168 -15h2v2h-2zM-166 -13h2v2h-2zM-160 -13h2v2h-2zM-156 -13h2v2h-2zM-20 -13h2v2h-2zM-18 -13h2v2h-2zM104 -13h2v2h-2zM124 -13h2v2h-2zM132 -13h2v2h-2zM136 -13h2v2h-2zM138 -13h2v2h-2zM148 -13h2v2h-2zM150 -13h2v2h-2zM152 -13h2v2h-2zM154 -13h2v2h-2zM156 -13h2v2h-2zM-166 -11h2v2h-2zM-86 -11h2v2h-2zM108 -11h2v2h-2zM122 -11h2v2h-2zM124 -11h2v2h-2zM128 -11h2v2h-2zM0 -9h2v2h-2zM110 -9h2v2h-2zM120 -9h2v2h-2zM128 -9h2v2h-2zM180 -9h2v2h-2zM116 -7h2v2h-2zM90 -5h2v2h-2zM94 -5h2v2h-2zM126 -1h2v2h-2zM124 1h2v2h-2zM136 1h2v2h-2zM120 3h2v2h-2zM154 3h2v2h-2zM162 3h2v2h-2zM48 5h2v2h-2zM110 5h2v2h-2zM134 5h2v2h-2zM162 5h2v2h-2zM-142 7h2v2h-2zM52 7h2v2h-2zM56 7h2v2h-2zM112 7h2v2h-2zM162 7h2v2h-2zM-150 9h2v2h-2zM-148 9h2v2h-2zM-144 9h2v2h-2zM132 9h2v2h-2zM166 9h2v2h-2zM-140 11h2v2h-2zM44 11h2v2h-2zM54 11h2v2h-2zM56 11h2v2h-2zM128 11h2v2h-2zM130 11h2v2h-2zM158 11h2v2h-2zM160 11h2v2h-2zM172 11h2v2h-2zM182 11h2v2h-2zM184 11h2v2h-2zM-158 13h2v2h-2zM-156 13h2v2h-2zM-152 13h2v2h-2zM-144 13h2v2h-2zM-142 13h2v2h-2zM46 13h2v2h-2zM50 13h2v2h-2zM52 13h2v2h-2zM54 13h2v2h-2zM118 13h2v2h-2zM152 13h2v2h-2zM-158 15h2v2h-2zM-152 15h2v2h-2zM-150 15h2v2h-2zM58 15h2v2h-2zM178 15h2v2h-2zM-142 17h2v2h-2zM102 17h2v2h-2zM168 17h2v2h-2zM176 17h2v2h-2zM150 19h2v2h-2zM56 21h2v2h-2zM58 21h2v2h-2zM176 23h2v2h-2zM154 25h2v2h-2zM156 25h2v2h-2zM-24 27h2v2h-2zM158 27h2v2h-2zM164 27h2v2h-2zM-134 29h2v2h-2zM-106 29h2v2h-2zM-102 29h2v2h-2zM-12 29h2v2h-2zM-96 31h2v2h-2zM-98 33h2v2h-2zM-8 33h2v2h-2zM-104 35h2v2h-2z"/><path fill="#0101c3" d="M132 -27h2v2h-2zM-162 -23h2v2h-2zM136 -23h2v2h-2zM-164 -21h2v2h-2zM-162 -21h2v2h-2zM92 -15h2v2h-2zM-48 -3h2v2h-2zM46 9h2v2h-2zM124 9h2v2h-2zM-148 15h2v2h-2zM-146 17h2v2h-2z"/><path fill="#0404ac" d="M146 -23h2v2h-2zM126 -5h2v2h-2zM160 15h2v2h-2zM166 19h2v2h-2z"/><path fill="#070794" d="M122 -23h2v2h-2zM138 -19h2v2h-2zM140 -19h2v2h-2zM128 -1h2v2h-2zM-140 19h2v2h-2z"/><path fill="#0a0a7d" d="M128 -27h2v2h-2zM128 -25h2v2h-2zM132 -25h2v2h-2zM142 -25h2v2h-2zM152 -25h2v2h-2zM-166 -23h2v2h-2zM138 -23h2v2h-2zM142 -23h2v2h-2zM148 -23h2v2h-2zM150 -23h2v2h-2zM-166 -21h2v2h-2zM120 -21h2v2h-2zM136 -21h2v2h-2zM140 -21h2v2h-2zM142 -21h2v2h-2zM144 -21h2v2h-2zM146 -21h2v2h-2zM148 -21h2v2h-2zM150 -21h2v2h-2zM134 -19h2v2h-2zM136 -19h2v2h-2zM142 -19h2v2h-2zM136 -17h2v2h-2zM142 -17h2v2h-2zM144 -17h2v2h-2zM146 -17h2v2h-2zM94 -13h2v2h-2zM-46 -3h2v2h-2zM-46 -1h2v2h-2zM120 -1h2v2h-2zM122 -1h2v2h-2zM118 1h2v2h-2zM120 1h2v2h-2zM126 1h2v2h-2zM128 1h2v2h-2zM122 3h2v2h-2zM126 3h2v2h-2zM122 5h2v2h-2zM124 5h2v2h-2zM126 5h2v2h-2zM120 7h2v2h-2zM60 15h2v2h-2zM62 17h2v2h-2zM160 17h2v2h-2zM162 17h2v2h-2zM-148 19h2v2h-2zM-142 19h2v2h-2zM162 21h2v2h-2zM166 21h2v2h-2zM164 25h2v2h-2zM166 25h2v2h-2z"/><path fill="#0bf4f7" d="M-76 -67h2v2h-2zM-72 -67h2v2h-2zM138 -33h2v2h-2zM142 -33h2v2h-2zM144 -33h2v2h-2zM152 -33h2v2h-2zM182 -33h2v2h-2zM-158 -31h2v2h-2zM136 -31h2v2h-2zM148 -31h2v2h-2zM186 -31h2v2h-2zM-158 -29h2v2h-2zM-60 -29h2v2h-2zM136 -29h2v2h-2zM162 -29h2v2h-2zM164 -29h2v2h-2zM184 -29h2v2h-2zM-78 -27h2v2h-2zM-30 -27h2v2h-2zM36 -27h2v2h-2zM72 -27h2v2h-2zM118 -27h2v2h-2zM142 -27h2v2h-2zM148 -27h2v2h-2zM174 -27h2v2h-2zM-156 -25h2v2h-2zM-76 -25h2v2h-2zM-74 -25h2v2h-2zM-32 -25h2v2h-2zM-30 -25h2v2h-2zM164 -25h2v2h-2zM168 -25h2v2h-2zM176 -25h2v2h-2zM178 -25h2v2h-2zM180 -25h2v2h-2zM184 -25h2v2h-2zM190 -25h2v2h-2zM-152 -23h2v2h-2zM-82 -23h2v2h-2zM-34 -23h2v2h-2zM110 -23h2v2h-2zM130 -23h2v2h-2zM188 -23h2v2h-2zM-80 -21h2v2h-2zM-32 -21h2v2h-2zM94 -21h2v2h-2zM106 -21h2v2h-2zM114 -21h2v2h-2zM178 -21h2v2h-2zM190 -21h2v2h-2zM108 -19h2v2h-2zM114 -19h2v2h-2zM168 -19h2v2h-2zM190 -19h2v2h-2zM-138 -17h2v2h-2zM-136 -17h2v2h-2zM-58 -17h2v2h-2zM0 -17h2v2h-2zM108 -17h2v2h-2zM118 -17h2v2h-2zM124 -17h2v2h-2zM134 -17h2v2h-2zM172 -17h2v2h-2zM174 -17h2v2h-2zM98 -15h2v2h-2zM114 -15h2v2h-2zM116 -15h2v2h-2zM122 -15h2v2h-2zM170 -15h2v2h-2zM-60 -13h2v2h-2zM-16 -13h2v2h-2zM50 -13h2v2h-2zM98 -13h2v2h-2zM158 -13h2v2h-2zM168 -13h2v2h-2zM174 -13h2v2h-2zM-162 -11h2v2h-2zM-20 -11h2v2h-2zM116 -11h2v2h-2zM132 -11h2v2h-2zM160 -11h2v2h-2zM162 -11h2v2h-2zM112 -9h2v2h-2zM130 -9h2v2h-2zM152 -9h2v2h-2zM114 -7h2v2h-2zM132 -7h2v2h-2zM134 -7h2v2h-2zM178 -7h2v2h-2zM-158 -5h2v2h-2zM88 -5h2v2h-2zM116 -5h2v2h-2zM132 -5h2v2h-2zM134 -5h2v2h-2zM-56 -3h2v2h-2zM-50 -3h2v2h-2zM-44 -3h2v2h-2zM114 -3h2v2h-2zM132 -3h2v2h-2zM132 -1h2v2h-2zM160 -1h2v2h-2zM174 -1h2v2h-2zM134 1h2v2h-2zM170 1h2v2h-2zM132 3h2v2h-2zM152 3h2v2h-2zM164 3h2v2h-2zM176 3h2v2h-2zM178 3h2v2h-2zM-150 5h2v2h-2zM50 5h2v2h-2zM52 5h2v2h-2zM54 5h2v2h-2zM148 5h2v2h-2zM164 5h2v2h-2zM172 5h2v2h-2zM174 5h2v2h-2zM176 5h2v2h-2zM-148 7h2v2h-2zM60 7h2v2h-2zM-154 9h2v2h-2zM116 9h2v2h-2zM148 9h2v2h-2zM168 9h2v2h-2zM-160 11h2v2h-2zM-138 11h2v2h-2zM114 11h2v2h-2zM122 11h2v2h-2zM-138 13h2v2h-2zM128 13h2v2h-2zM130 13h2v2h-2zM150 13h2v2h-2zM164 13h2v2h-2zM166 13h2v2h-2zM-134 15h2v2h-2zM50 15h2v2h-2zM124 15h2v2h-2zM-156 17h2v2h-2zM-136 17h2v2h-2zM46 17h2v2h-2zM54 17h2v2h-2zM108 17h2v2h-2zM150 17h2v2h-2zM152 17h2v2h-2zM178 17h2v2h-2zM-144 19h2v2h-2zM52 19h2v2h-2zM64 19h2v2h-2zM106 19h2v2h-2zM108 19h2v2h-2zM-156 21h2v2h-2zM-28 21h2v2h-2zM-18 21h2v2h-2zM60 21h2v2h-2zM102 21h2v2h-2zM150 21h2v2h-2zM168 21h2v2h-2zM176 21h2v2h-2zM178 21h2v2h-2zM112 23h2v2h-2zM178 23h2v2h-2zM-150 25h2v2h-2zM-132 25h2v2h-2zM-128 25h2v2h-2zM-102 27h2v2h-2zM78 27h2v2h-2zM154 27h2v2h-2zM168 27h2v2h-2zM172 27h2v2h-2zM-136 29h2v2h-2zM-130 29h2v2h-2zM76 29h2v2h-2zM158 29h2v2h-2zM-104 31h2v2h-2zM-102 31h2v2h-2zM-98 31h2v2h-2zM-6 31h2v2h-2zM166 31h2v2h-2zM-130 33h2v2h-2zM-128 33h2v2h-2zM-96 33h2v2h-2zM-6 33h2v2h-2zM-10 35h2v2h-2zM-12 37h2v2h-2z"/><path fill="#27f0e2" d="M-78 -67h2v2h-2zM-78 -65h2v2h-2zM-72 -65h2v2h-2zM-120 -47h2v2h-2zM36 -33h2v2h-2zM140 -33h2v2h-2zM-168 -31h2v2h-2zM-166 -31h2v2h-2zM-162 -31h2v2h-2zM-64 -31h2v2h-2zM36 -31h2v2h-2zM70 -31h2v2h-2zM120 -31h2v2h-2zM134 -31h2v2h-2zM140 -31h2v2h-2zM150 -31h2v2h-2zM162 -31h2v2h-2zM178 -31h2v2h-2zM184 -31h2v2h-2zM188 -31h2v2h-2zM190 -31h2v2h-2zM-168 -29h2v2h-2zM32 -29h2v2h-2zM98 -29h2v2h-2zM116 -29h2v2h-2zM118 -29h2v2h-2zM140 -29h2v2h-2zM158 -29h2v2h-2zM-158 -27h2v2h-2zM-156 -27h2v2h-2zM-32 -27h2v2h-2zM100 -27h2v2h-2zM104 -27h2v2h-2zM110 -27h2v2h-2zM166 -27h2v2h-2zM172 -27h2v2h-2zM176 -27h2v2h-2zM184 -27h2v2h-2zM190 -27h2v2h-2zM-34 -25h2v2h-2zM112 -25h2v2h-2zM130 -25h2v2h-2zM166 -25h2v2h-2zM172 -25h2v2h-2zM-156 -23h2v2h-2zM-154 -23h2v2h-2zM-18 -23h2v2h-2zM106 -23h2v2h-2zM114 -23h2v2h-2zM164 -23h2v2h-2zM182 -23h2v2h-2zM-154 -21h2v2h-2zM-140 -21h2v2h-2zM110 -21h2v2h-2zM112 -21h2v2h-2zM182 -21h2v2h-2zM-140 -19h2v2h-2zM-78 -19h2v2h-2zM-26 -19h2v2h-2zM54 -19h2v2h-2zM58 -19h2v2h-2zM88 -19h2v2h-2zM100 -19h2v2h-2zM102 -19h2v2h-2zM106 -19h2v2h-2zM116 -19h2v2h-2zM148 -19h2v2h-2zM160 -19h2v2h-2zM166 -19h2v2h-2zM180 -19h2v2h-2zM188 -19h2v2h-2zM98 -17h2v2h-2zM176 -17h2v2h-2zM180 -17h2v2h-2zM-138 -15h2v2h-2zM-60 -15h2v2h-2zM-18 -15h2v2h-2zM-6 -15h2v2h-2zM-4 -15h2v2h-2zM100 -15h2v2h-2zM106 -15h2v2h-2zM126 -15h2v2h-2zM134 -15h2v2h-2zM156 -15h2v2h-2zM172 -15h2v2h-2zM176 -15h2v2h-2zM184 -15h2v2h-2zM-136 -13h2v2h-2zM-90 -13h2v2h-2zM-66 -13h2v2h-2zM4 -13h2v2h-2zM110 -13h2v2h-2zM122 -13h2v2h-2zM126 -13h2v2h-2zM162 -13h2v2h-2zM166 -13h2v2h-2zM-164 -11h2v2h-2zM-158 -11h2v2h-2zM106 -11h2v2h-2zM112 -11h2v2h-2zM136 -11h2v2h-2zM142 -11h2v2h-2zM144 -11h2v2h-2zM156 -11h2v2h-2zM190 -11h2v2h-2zM-166 -9h2v2h-2zM-164 -9h2v2h-2zM-58 -9h2v2h-2zM-50 -9h2v2h-2zM106 -9h2v2h-2zM126 -9h2v2h-2zM138 -9h2v2h-2zM160 -9h2v2h-2zM166 -9h2v2h-2zM-160 -7h2v2h-2zM0 -7h2v2h-2zM88 -7h2v2h-2zM176 -7h2v2h-2zM-162 -5h2v2h-2zM-160 -5h2v2h-2zM68 -5h2v2h-2zM112 -5h2v2h-2zM120 -5h2v2h-2zM112 -3h2v2h-2zM-122 -1h2v2h-2zM112 -1h2v2h-2zM136 -1h2v2h-2zM-80 1h2v2h-2zM-48 1h2v2h-2zM-44 1h2v2h-2zM84 1h2v2h-2zM114 1h2v2h-2zM146 1h2v2h-2zM164 1h2v2h-2zM172 1h2v2h-2zM174 1h2v2h-2zM-162 3h2v2h-2zM-124 3h2v2h-2zM110 3h2v2h-2zM136 3h2v2h-2zM172 3h2v2h-2zM-146 5h2v2h-2zM56 5h2v2h-2zM58 5h2v2h-2zM136 5h2v2h-2zM158 5h2v2h-2zM168 5h2v2h-2zM-150 7h2v2h-2zM-124 7h2v2h-2zM-122 7h2v2h-2zM-120 7h2v2h-2zM44 7h2v2h-2zM62 7h2v2h-2zM108 7h2v2h-2zM148 7h2v2h-2zM164 7h2v2h-2zM-156 9h2v2h-2zM-142 9h2v2h-2zM-140 9h2v2h-2zM-138 9h2v2h-2zM54 9h2v2h-2zM176 9h2v2h-2zM-162 11h2v2h-2zM-158 11h2v2h-2zM-136 11h2v2h-2zM64 11h2v2h-2zM110 11h2v2h-2zM174 11h2v2h-2zM44 13h2v2h-2zM126 13h2v2h-2zM158 13h2v2h-2zM-156 15h2v2h-2zM-38 15h2v2h-2zM66 15h2v2h-2zM118 15h2v2h-2zM128 15h2v2h-2zM-152 17h2v2h-2zM-134 17h2v2h-2zM-34 17h2v2h-2zM44 17h2v2h-2zM154 17h2v2h-2zM180 17h2v2h-2zM-136 19h2v2h-2zM58 19h2v2h-2zM102 19h2v2h-2zM152 19h2v2h-2zM-86 21h2v2h-2zM-26 21h2v2h-2zM-20 21h2v2h-2zM158 21h2v2h-2zM172 21h2v2h-2zM-156 23h2v2h-2zM-152 23h2v2h-2zM-138 23h2v2h-2zM-134 23h2v2h-2zM-28 23h2v2h-2zM-16 23h2v2h-2zM58 23h2v2h-2zM60 23h2v2h-2zM62 23h2v2h-2zM110 23h2v2h-2zM152 23h2v2h-2zM162 23h2v2h-2zM-148 25h2v2h-2zM-146 25h2v2h-2zM-144 25h2v2h-2zM-142 25h2v2h-2zM-138 25h2v2h-2zM-104 25h2v2h-2zM108 25h2v2h-2zM112 25h2v2h-2zM-150 27h2v2h-2zM-136 27h2v2h-2zM-10 27h2v2h-2zM76 27h2v2h-2zM160 27h2v2h-2zM174 27h2v2h-2zM-98 29h2v2h-2zM-34 29h2v2h-2zM78 29h2v2h-2zM80 29h2v2h-2zM174 29h2v2h-2zM176 29h2v2h-2zM-136 31h2v2h-2zM-4 31h2v2h-2zM80 31h2v2h-2zM162 31h2v2h-2zM168 31h2v2h-2zM-106 33h2v2h-2zM-12 33h2v2h-2zM160 33h2v2h-2zM-106 35h2v2h-2zM-100 35h2v2h-2zM164 35h2v2h-2zM-152 37h2v2h-2zM-98 37h2v2h-2zM-14 37h2v2h-2zM-6 37h2v2h-2zM-4 37h2v2h-2zM-154 39h2v2h-2zM190 41h2v2h-2zM188 43h2v2h-2zM-154 45h2v2h-2zM188 47h2v2h-2zM190 47h2v2h-2zM188 49h2v2h-2z"/><path fill="#4ee2ce" d="M-74 -67h2v2h-2zM-70 -67h2v2h-2zM92 -67h2v2h-2zM178 -67h2v2h-2zM-76 -65h2v2h-2zM-74 -65h2v2h-2zM-78 -63h2v2h-2zM-74 -63h2v2h-2zM-72 -63h2v2h-2zM90 -63h2v2h-2zM156 -63h2v2h-2zM152 -61h2v2h-2zM-76 -59h2v2h-2zM144 -45h2v2h-2zM168 -45h2v2h-2zM-68 -43h2v2h-2zM30 -43h2v2h-2zM172 -43h2v2h-2zM28 -41h2v2h-2zM32 -41h2v2h-2zM-72 -39h2v2h-2zM-68 -39h2v2h-2zM-64 -39h2v2h-2zM30 -39h2v2h-2zM68 -39h2v2h-2zM-66 -37h2v2h-2zM186 -37h2v2h-2zM188 -37h2v2h-2zM-162 -35h2v2h-2zM-62 -35h2v2h-2zM-16 -35h2v2h-2zM36 -35h2v2h-2zM140 -35h2v2h-2zM142 -35h2v2h-2zM186 -35h2v2h-2zM-162 -33h2v2h-2zM-158 -33h2v2h-2zM134 -33h2v2h-2zM146 -33h2v2h-2zM176 -33h2v2h-2zM186 -33h2v2h-2zM-152 -31h2v2h-2zM34 -31h2v2h-2zM72 -31h2v2h-2zM74 -31h2v2h-2zM98 -31h2v2h-2zM118 -31h2v2h-2zM122 -31h2v2h-2zM126 -31h2v2h-2zM130 -31h2v2h-2zM138 -31h2v2h-2zM156 -31h2v2h-2zM160 -31h2v2h-2zM164 -31h2v2h-2zM170 -31h2v2h-2zM-154 -29h2v2h-2zM28 -29h2v2h-2zM30 -29h2v2h-2zM34 -29h2v2h-2zM70 -29h2v2h-2zM106 -29h2v2h-2zM114 -29h2v2h-2zM128 -29h2v2h-2zM172 -29h2v2h-2zM182 -29h2v2h-2zM186 -29h2v2h-2zM188 -29h2v2h-2zM-152 -27h2v2h-2zM-108 -27h2v2h-2zM70 -27h2v2h-2zM102 -27h2v2h-2zM114 -27h2v2h-2zM120 -27h2v2h-2zM188 -27h2v2h-2zM-146 -25h2v2h-2zM98 -25h2v2h-2zM108 -25h2v2h-2zM114 -25h2v2h-2zM186 -25h2v2h-2zM-26 -23h2v2h-2zM-24 -23h2v2h-2zM92 -23h2v2h-2zM98 -23h2v2h-2zM180 -23h2v2h-2zM-146 -21h2v2h-2zM-132 -21h2v2h-2zM-28 -21h2v2h-2zM-26 -21h2v2h-2zM-24 -21h2v2h-2zM-20 -21h2v2h-2zM-14 -21h2v2h-2zM-12 -21h2v2h-2zM36 -21h2v2h-2zM88 -21h2v2h-2zM102 -21h2v2h-2zM104 -21h2v2h-2zM108 -21h2v2h-2zM166 -21h2v2h-2zM180 -21h2v2h-2zM184 -21h2v2h-2zM186 -21h2v2h-2zM-138 -19h2v2h-2zM-134 -19h2v2h-2zM-80 -19h2v2h-2zM-24 -19h2v2h-2zM-18 -19h2v2h-2zM-14 -19h2v2h-2zM-10 -19h2v2h-2zM50 -19h2v2h-2zM52 -19h2v2h-2zM98 -19h2v2h-2zM112 -19h2v2h-2zM158 -19h2v2h-2zM186 -19h2v2h-2zM-134 -17h2v2h-2zM-16 -17h2v2h-2zM-14 -17h2v2h-2zM2 -17h2v2h-2zM4 -17h2v2h-2zM48 -17h2v2h-2zM56 -17h2v2h-2zM90 -17h2v2h-2zM116 -17h2v2h-2zM126 -17h2v2h-2zM182 -17h2v2h-2zM184 -17h2v2h-2zM-86 -15h2v2h-2zM-84 -15h2v2h-2zM-82 -15h2v2h-2zM4 -15h2v2h-2zM102 -15h2v2h-2zM104 -15h2v2h-2zM174 -15h2v2h-2zM180 -15h2v2h-2zM182 -15h2v2h-2zM186 -15h2v2h-2zM-82 -13h2v2h-2zM-80 -13h2v2h-2zM-4 -13h2v2h-2zM6 -13h2v2h-2zM106 -13h2v2h-2zM108 -13h2v2h-2zM118 -13h2v2h-2zM128 -13h2v2h-2zM140 -13h2v2h-2zM180 -13h2v2h-2zM186 -13h2v2h-2zM-90 -11h2v2h-2zM-88 -11h2v2h-2zM-84 -11h2v2h-2zM-82 -11h2v2h-2zM-16 -11h2v2h-2zM-4 -11h2v2h-2zM104 -11h2v2h-2zM118 -11h2v2h-2zM126 -11h2v2h-2zM134 -11h2v2h-2zM154 -11h2v2h-2zM168 -11h2v2h-2zM-156 -9h2v2h-2zM-84 -9h2v2h-2zM-48 -9h2v2h-2zM-2 -9h2v2h-2zM98 -9h2v2h-2zM108 -9h2v2h-2zM132 -9h2v2h-2zM136 -9h2v2h-2zM144 -9h2v2h-2zM170 -9h2v2h-2zM-164 -7h2v2h-2zM-4 -7h2v2h-2zM108 -7h2v2h-2zM112 -7h2v2h-2zM136 -7h2v2h-2zM142 -7h2v2h-2zM152 -7h2v2h-2zM158 -7h2v2h-2zM-56 -5h2v2h-2zM66 -5h2v2h-2zM84 -5h2v2h-2zM92 -5h2v2h-2zM108 -5h2v2h-2zM138 -5h2v2h-2zM182 -5h2v2h-2zM-158 -3h2v2h-2zM68 -3h2v2h-2zM82 -3h2v2h-2zM150 -3h2v2h-2zM178 -3h2v2h-2zM-138 -1h2v2h-2zM-120 -1h2v2h-2zM82 -1h2v2h-2zM84 -1h2v2h-2zM156 -1h2v2h-2zM162 -1h2v2h-2zM166 -1h2v2h-2zM168 -1h2v2h-2zM176 -1h2v2h-2zM-162 1h2v2h-2zM-118 1h2v2h-2zM-54 1h2v2h-2zM-52 1h2v2h-2zM-16 1h2v2h-2zM78 1h2v2h-2zM88 1h2v2h-2zM110 1h2v2h-2zM150 1h2v2h-2zM154 1h2v2h-2zM160 1h2v2h-2zM162 1h2v2h-2zM166 1h2v2h-2zM-160 3h2v2h-2zM-146 3h2v2h-2zM-140 3h2v2h-2zM-120 3h2v2h-2zM-116 3h2v2h-2zM-80 3h2v2h-2zM60 3h2v2h-2zM62 3h2v2h-2zM84 3h2v2h-2zM108 3h2v2h-2zM134 3h2v2h-2zM144 3h2v2h-2zM148 3h2v2h-2zM150 3h2v2h-2zM156 3h2v2h-2zM170 3h2v2h-2zM-162 5h2v2h-2zM-152 5h2v2h-2zM-148 5h2v2h-2zM-142 5h2v2h-2zM-138 5h2v2h-2zM-136 5h2v2h-2zM-124 5h2v2h-2zM-120 5h2v2h-2zM-118 5h2v2h-2zM64 5h2v2h-2zM84 5h2v2h-2zM108 5h2v2h-2zM140 5h2v2h-2zM144 5h2v2h-2zM-164 7h2v2h-2zM-162 7h2v2h-2zM-158 7h2v2h-2zM-156 7h2v2h-2zM-154 7h2v2h-2zM-152 7h2v2h-2zM-126 7h2v2h-2zM66 7h2v2h-2zM144 7h2v2h-2zM-160 9h2v2h-2zM-136 9h2v2h-2zM42 9h2v2h-2zM58 9h2v2h-2zM94 9h2v2h-2zM96 9h2v2h-2zM178 9h2v2h-2zM-154 11h2v2h-2zM134 11h2v2h-2zM150 11h2v2h-2zM-136 13h2v2h-2zM-134 13h2v2h-2zM-132 13h2v2h-2zM62 13h2v2h-2zM120 13h2v2h-2zM138 13h2v2h-2zM-160 15h2v2h-2zM104 15h2v2h-2zM116 15h2v2h-2zM120 15h2v2h-2zM126 15h2v2h-2zM130 15h2v2h-2zM152 15h2v2h-2zM170 15h2v2h-2zM180 15h2v2h-2zM182 15h2v2h-2zM-132 17h2v2h-2zM-82 17h2v2h-2zM-32 17h2v2h-2zM-30 17h2v2h-2zM100 17h2v2h-2zM120 17h2v2h-2zM148 17h2v2h-2zM-132 19h2v2h-2zM-34 19h2v2h-2zM-20 19h2v2h-2zM42 19h2v2h-2zM50 19h2v2h-2zM124 19h2v2h-2zM180 19h2v2h-2zM-152 21h2v2h-2zM-138 21h2v2h-2zM-36 21h2v2h-2zM64 21h2v2h-2zM104 21h2v2h-2zM148 21h2v2h-2zM-154 23h2v2h-2zM-130 23h2v2h-2zM-84 23h2v2h-2zM-18 23h2v2h-2zM52 23h2v2h-2zM56 23h2v2h-2zM78 23h2v2h-2zM104 23h2v2h-2zM106 23h2v2h-2zM180 23h2v2h-2zM182 23h2v2h-2zM-18 25h2v2h-2zM74 25h2v2h-2zM176 25h2v2h-2zM178 25h2v2h-2zM180 25h2v2h-2zM-154 27h2v2h-2zM-152 27h2v2h-2zM-148 27h2v2h-2zM-144 27h2v2h-2zM-104 27h2v2h-2zM-34 27h2v2h-2zM-18 27h2v2h-2zM150 27h2v2h-2zM178 27h2v2h-2zM-144 29h2v2h-2zM-142 29h2v2h-2zM-20 29h2v2h-2zM72 29h2v2h-2zM154 29h2v2h-2zM160 29h2v2h-2zM162 29h2v2h-2zM-126 31h2v2h-2zM-108 31h2v2h-2zM-100 31h2v2h-2zM-14 31h2v2h-2zM76 31h2v2h-2zM94 31h2v2h-2zM154 31h2v2h-2zM164 31h2v2h-2zM170 31h2v2h-2zM-100 33h2v2h-2zM-2 33h2v2h-2zM-4 35h2v2h-2zM-150 37h2v2h-2zM-132 37h2v2h-2zM-128 37h2v2h-2zM158 37h2v2h-2zM166 37h2v2h-2zM174 37h2v2h-2zM-126 39h2v2h-2zM-154 41h2v2h-2zM-158 43h2v2h-2zM-136 43h2v2h-2zM186 43h2v2h-2zM-162 45h2v2h-2zM-158 45h2v2h-2zM-152 45h2v2h-2zM-36 45h2v2h-2zM188 45h2v2h-2zM190 49h2v2h-2zM188 51h2v2h-2zM30 53h2v2h-2zM-56 55h2v2h-2z"/><path fill="#74d4bd" d="M-68 -67h2v2h-2zM-34 -67h2v2h-2zM94 -67h2v2h-2zM158 -67h2v2h-2zM-80 -65h2v2h-2zM-38 -65h2v2h-2zM-34 -65h2v2h-2zM150 -65h2v2h-2zM152 -65h2v2h-2zM-84 -63h2v2h-2zM-38 -63h2v2h-2zM-36 -63h2v2h-2zM-128 -61h2v2h-2zM-78 -61h2v2h-2zM-72 -61h2v2h-2zM50 -61h2v2h-2zM52 -61h2v2h-2zM86 -61h2v2h-2zM160 -61h2v2h-2zM174 -61h2v2h-2zM-128 -59h2v2h-2zM-92 -59h2v2h-2zM-90 -59h2v2h-2zM-86 -59h2v2h-2zM-84 -57h2v2h-2zM-42 -57h2v2h-2zM-30 -57h2v2h-2zM152 -57h2v2h-2zM-32 -55h2v2h-2zM-134 -53h2v2h-2zM-30 -53h2v2h-2zM90 -53h2v2h-2zM-102 -51h2v2h-2zM156 -51h2v2h-2zM148 -49h2v2h-2zM-26 -47h2v2h-2zM112 -47h2v2h-2zM168 -47h2v2h-2zM-56 -45h2v2h-2zM-24 -45h2v2h-2zM-20 -45h2v2h-2zM70 -45h2v2h-2zM114 -45h2v2h-2zM70 -43h2v2h-2zM166 -43h2v2h-2zM-68 -41h2v2h-2zM70 -41h2v2h-2zM156 -41h2v2h-2zM168 -41h2v2h-2zM170 -41h2v2h-2zM184 -41h2v2h-2zM-66 -39h2v2h-2zM12 -39h2v2h-2zM146 -39h2v2h-2zM184 -39h2v2h-2zM-166 -37h2v2h-2zM-162 -37h2v2h-2zM-138 -37h2v2h-2zM-62 -37h2v2h-2zM-18 -37h2v2h-2zM-16 -37h2v2h-2zM30 -37h2v2h-2zM130 -37h2v2h-2zM144 -37h2v2h-2zM182 -37h2v2h-2zM184 -37h2v2h-2zM-166 -35h2v2h-2zM-160 -35h2v2h-2zM-146 -35h2v2h-2zM-138 -35h2v2h-2zM-136 -35h2v2h-2zM-70 -35h2v2h-2zM-64 -35h2v2h-2zM38 -35h2v2h-2zM76 -35h2v2h-2zM120 -35h2v2h-2zM128 -35h2v2h-2zM136 -35h2v2h-2zM166 -35h2v2h-2zM178 -35h2v2h-2zM184 -35h2v2h-2zM188 -35h2v2h-2zM-164 -33h2v2h-2zM-156 -33h2v2h-2zM-152 -33h2v2h-2zM-148 -33h2v2h-2zM-16 -33h2v2h-2zM32 -33h2v2h-2zM34 -33h2v2h-2zM40 -33h2v2h-2zM68 -33h2v2h-2zM102 -33h2v2h-2zM126 -33h2v2h-2zM130 -33h2v2h-2zM132 -33h2v2h-2zM148 -33h2v2h-2zM158 -33h2v2h-2zM168 -33h2v2h-2zM172 -33h2v2h-2zM174 -33h2v2h-2zM180 -33h2v2h-2zM184 -33h2v2h-2zM-154 -31h2v2h-2zM-122 -31h2v2h-2zM28 -31h2v2h-2zM68 -31h2v2h-2zM100 -31h2v2h-2zM102 -31h2v2h-2zM112 -31h2v2h-2zM124 -31h2v2h-2zM128 -31h2v2h-2zM132 -31h2v2h-2zM142 -31h2v2h-2zM154 -31h2v2h-2zM166 -31h2v2h-2zM168 -31h2v2h-2zM182 -31h2v2h-2zM-160 -29h2v2h-2zM-152 -29h2v2h-2zM-106 -29h2v2h-2zM26 -29h2v2h-2zM38 -29h2v2h-2zM102 -29h2v2h-2zM160 -29h2v2h-2zM166 -29h2v2h-2zM170 -29h2v2h-2zM180 -29h2v2h-2zM190 -29h2v2h-2zM-154 -27h2v2h-2zM-74 -27h2v2h-2zM-14 -27h2v2h-2zM28 -27h2v2h-2zM30 -27h2v2h-2zM34 -27h2v2h-2zM38 -27h2v2h-2zM68 -27h2v2h-2zM74 -27h2v2h-2zM186 -27h2v2h-2zM-144 -25h2v2h-2zM-106 -25h2v2h-2zM-82 -25h2v2h-2zM-36 -25h2v2h-2zM-16 -25h2v2h-2zM-14 -25h2v2h-2zM34 -25h2v2h-2zM72 -25h2v2h-2zM74 -25h2v2h-2zM88 -25h2v2h-2zM94 -25h2v2h-2zM106 -25h2v2h-2zM110 -25h2v2h-2zM116 -25h2v2h-2zM174 -25h2v2h-2zM-146 -23h2v2h-2zM-136 -23h2v2h-2zM-108 -23h2v2h-2zM-22 -23h2v2h-2zM38 -23h2v2h-2zM96 -23h2v2h-2zM100 -23h2v2h-2zM112 -23h2v2h-2zM184 -23h2v2h-2zM-152 -21h2v2h-2zM-144 -21h2v2h-2zM-136 -21h2v2h-2zM-134 -21h2v2h-2zM-36 -21h2v2h-2zM-22 -21h2v2h-2zM52 -21h2v2h-2zM56 -21h2v2h-2zM86 -21h2v2h-2zM92 -21h2v2h-2zM100 -21h2v2h-2zM116 -21h2v2h-2zM-154 -19h2v2h-2zM-152 -19h2v2h-2zM-28 -19h2v2h-2zM-22 -19h2v2h-2zM-12 -19h2v2h-2zM0 -19h2v2h-2zM56 -19h2v2h-2zM62 -19h2v2h-2zM86 -19h2v2h-2zM104 -19h2v2h-2zM178 -19h2v2h-2zM182 -19h2v2h-2zM-154 -17h2v2h-2zM-152 -17h2v2h-2zM-18 -17h2v2h-2zM-12 -17h2v2h-2zM-6 -17h2v2h-2zM-4 -17h2v2h-2zM-2 -17h2v2h-2zM54 -17h2v2h-2zM88 -17h2v2h-2zM100 -17h2v2h-2zM104 -17h2v2h-2zM110 -17h2v2h-2zM112 -17h2v2h-2zM158 -17h2v2h-2zM188 -17h2v2h-2zM-168 -15h2v2h-2zM-164 -15h2v2h-2zM-148 -15h2v2h-2zM-134 -15h2v2h-2zM-88 -15h2v2h-2zM-16 -15h2v2h-2zM-2 -15h2v2h-2zM6 -15h2v2h-2zM190 -15h2v2h-2zM-168 -13h2v2h-2zM-152 -13h2v2h-2zM-142 -13h2v2h-2zM-134 -13h2v2h-2zM-88 -13h2v2h-2zM-86 -13h2v2h-2zM-56 -13h2v2h-2zM-8 -13h2v2h-2zM48 -13h2v2h-2zM100 -13h2v2h-2zM112 -13h2v2h-2zM116 -13h2v2h-2zM170 -13h2v2h-2zM172 -13h2v2h-2zM178 -13h2v2h-2zM-168 -11h2v2h-2zM-62 -11h2v2h-2zM-54 -11h2v2h-2zM-6 -11h2v2h-2zM4 -11h2v2h-2zM46 -11h2v2h-2zM52 -11h2v2h-2zM54 -11h2v2h-2zM88 -11h2v2h-2zM110 -11h2v2h-2zM114 -11h2v2h-2zM120 -11h2v2h-2zM148 -11h2v2h-2zM152 -11h2v2h-2zM166 -11h2v2h-2zM172 -11h2v2h-2zM174 -11h2v2h-2zM186 -11h2v2h-2zM-168 -9h2v2h-2zM-46 -9h2v2h-2zM-6 -9h2v2h-2zM48 -9h2v2h-2zM88 -9h2v2h-2zM134 -9h2v2h-2zM140 -9h2v2h-2zM142 -9h2v2h-2zM148 -9h2v2h-2zM150 -9h2v2h-2zM172 -9h2v2h-2zM174 -9h2v2h-2zM178 -9h2v2h-2zM182 -9h2v2h-2zM184 -9h2v2h-2zM-84 -7h2v2h-2zM-56 -7h2v2h-2zM-2 -7h2v2h-2zM2 -7h2v2h-2zM52 -7h2v2h-2zM70 -7h2v2h-2zM96 -7h2v2h-2zM110 -7h2v2h-2zM118 -7h2v2h-2zM150 -7h2v2h-2zM160 -7h2v2h-2zM168 -7h2v2h-2zM170 -7h2v2h-2zM-164 -5h2v2h-2zM-154 -5h2v2h-2zM6 -5h2v2h-2zM36 -5h2v2h-2zM70 -5h2v2h-2zM72 -5h2v2h-2zM136 -5h2v2h-2zM154 -5h2v2h-2zM156 -5h2v2h-2zM160 -5h2v2h-2zM172 -5h2v2h-2zM178 -5h2v2h-2zM-160 -3h2v2h-2zM-122 -3h2v2h-2zM-120 -3h2v2h-2zM-116 -3h2v2h-2zM-58 -3h2v2h-2zM-40 -3h2v2h-2zM36 -3h2v2h-2zM86 -3h2v2h-2zM92 -3h2v2h-2zM96 -3h2v2h-2zM108 -3h2v2h-2zM110 -3h2v2h-2zM128 -3h2v2h-2zM138 -3h2v2h-2zM140 -3h2v2h-2zM142 -3h2v2h-2zM154 -3h2v2h-2zM158 -3h2v2h-2zM168 -3h2v2h-2zM-154 -1h2v2h-2zM-140 -1h2v2h-2zM-114 -1h2v2h-2zM-80 -1h2v2h-2zM-56 -1h2v2h-2zM-54 -1h2v2h-2zM-6 -1h2v2h-2zM14 -1h2v2h-2zM16 -1h2v2h-2zM18 -1h2v2h-2zM38 -1h2v2h-2zM68 -1h2v2h-2zM80 -1h2v2h-2zM90 -1h2v2h-2zM138 -1h2v2h-2zM140 -1h2v2h-2zM152 -1h2v2h-2zM154 -1h2v2h-2zM164 -1h2v2h-2zM178 -1h2v2h-2zM-150 1h2v2h-2zM-116 1h2v2h-2zM-50 1h2v2h-2zM-42 1h2v2h-2zM-32 1h2v2h-2zM-14 1h2v2h-2zM86 1h2v2h-2zM108 1h2v2h-2zM138 1h2v2h-2zM142 1h2v2h-2zM144 1h2v2h-2zM-142 3h2v2h-2zM-130 3h2v2h-2zM-128 3h2v2h-2zM-126 3h2v2h-2zM-114 3h2v2h-2zM-48 3h2v2h-2zM48 3h2v2h-2zM50 3h2v2h-2zM54 3h2v2h-2zM82 3h2v2h-2zM86 3h2v2h-2zM106 3h2v2h-2zM140 3h2v2h-2zM142 3h2v2h-2zM174 3h2v2h-2zM180 3h2v2h-2zM-160 5h2v2h-2zM-144 5h2v2h-2zM-122 5h2v2h-2zM-78 5h2v2h-2zM44 5h2v2h-2zM46 5h2v2h-2zM86 5h2v2h-2zM146 5h2v2h-2zM156 5h2v2h-2zM-160 7h2v2h-2zM-140 7h2v2h-2zM42 7h2v2h-2zM58 7h2v2h-2zM68 7h2v2h-2zM106 7h2v2h-2zM146 7h2v2h-2zM156 7h2v2h-2zM186 7h2v2h-2zM-162 9h2v2h-2zM-158 9h2v2h-2zM-134 9h2v2h-2zM-120 9h2v2h-2zM-104 9h2v2h-2zM66 9h2v2h-2zM68 9h2v2h-2zM70 9h2v2h-2zM110 9h2v2h-2zM134 9h2v2h-2zM136 9h2v2h-2zM142 9h2v2h-2zM182 9h2v2h-2zM-164 11h2v2h-2zM-134 11h2v2h-2zM100 11h2v2h-2zM106 11h2v2h-2zM112 11h2v2h-2zM148 11h2v2h-2zM-162 13h2v2h-2zM-38 13h2v2h-2zM-34 13h2v2h-2zM42 13h2v2h-2zM68 13h2v2h-2zM70 13h2v2h-2zM94 13h2v2h-2zM110 13h2v2h-2zM114 13h2v2h-2zM116 13h2v2h-2zM146 13h2v2h-2zM-86 15h2v2h-2zM-48 15h2v2h-2zM42 15h2v2h-2zM102 15h2v2h-2zM106 15h2v2h-2zM108 15h2v2h-2zM114 15h2v2h-2zM122 15h2v2h-2zM150 15h2v2h-2zM-162 17h2v2h-2zM-80 17h2v2h-2zM42 17h2v2h-2zM106 17h2v2h-2zM112 17h2v2h-2zM116 17h2v2h-2zM122 17h2v2h-2zM126 17h2v2h-2zM128 17h2v2h-2zM182 17h2v2h-2zM184 17h2v2h-2zM186 17h2v2h-2zM-134 19h2v2h-2zM-82 19h2v2h-2zM-30 19h2v2h-2zM-28 19h2v2h-2zM10 19h2v2h-2zM48 19h2v2h-2zM56 19h2v2h-2zM114 19h2v2h-2zM126 19h2v2h-2zM182 19h2v2h-2zM184 19h2v2h-2zM-160 21h2v2h-2zM-158 21h2v2h-2zM-130 21h2v2h-2zM-84 21h2v2h-2zM-62 21h2v2h-2zM-38 21h2v2h-2zM-32 21h2v2h-2zM44 21h2v2h-2zM50 21h2v2h-2zM52 21h2v2h-2zM54 21h2v2h-2zM66 21h2v2h-2zM106 21h2v2h-2zM124 21h2v2h-2zM-132 23h2v2h-2zM-112 23h2v2h-2zM48 23h2v2h-2zM76 23h2v2h-2zM102 23h2v2h-2zM120 23h2v2h-2zM122 23h2v2h-2zM148 23h2v2h-2zM172 23h2v2h-2zM184 23h2v2h-2zM-140 25h2v2h-2zM-134 25h2v2h-2zM-84 25h2v2h-2zM-80 25h2v2h-2zM-24 25h2v2h-2zM58 25h2v2h-2zM72 25h2v2h-2zM104 25h2v2h-2zM106 25h2v2h-2zM150 25h2v2h-2zM182 25h2v2h-2zM-124 27h2v2h-2zM-120 27h2v2h-2zM-100 27h2v2h-2zM-80 27h2v2h-2zM-8 27h2v2h-2zM-6 27h2v2h-2zM70 27h2v2h-2zM72 27h2v2h-2zM82 27h2v2h-2zM92 27h2v2h-2zM108 27h2v2h-2zM184 27h2v2h-2zM-150 29h2v2h-2zM-140 29h2v2h-2zM-124 29h2v2h-2zM-96 29h2v2h-2zM-24 29h2v2h-2zM-4 29h2v2h-2zM-2 29h2v2h-2zM74 29h2v2h-2zM88 29h2v2h-2zM152 29h2v2h-2zM180 29h2v2h-2zM186 29h2v2h-2zM-152 31h2v2h-2zM-148 31h2v2h-2zM-140 31h2v2h-2zM-128 31h2v2h-2zM-124 31h2v2h-2zM-92 31h2v2h-2zM-20 31h2v2h-2zM82 31h2v2h-2zM152 31h2v2h-2zM156 31h2v2h-2zM174 31h2v2h-2zM180 31h2v2h-2zM-150 33h2v2h-2zM-124 33h2v2h-2zM-108 33h2v2h-2zM-94 33h2v2h-2zM-92 33h2v2h-2zM-76 33h2v2h-2zM-44 33h2v2h-2zM74 33h2v2h-2zM76 33h2v2h-2zM80 33h2v2h-2zM156 33h2v2h-2zM164 33h2v2h-2zM176 33h2v2h-2zM-150 35h2v2h-2zM-128 35h2v2h-2zM-126 35h2v2h-2zM-108 35h2v2h-2zM122 35h2v2h-2zM148 35h2v2h-2zM158 35h2v2h-2zM168 35h2v2h-2zM180 35h2v2h-2zM-154 37h2v2h-2zM-106 37h2v2h-2zM-16 37h2v2h-2zM154 37h2v2h-2zM160 37h2v2h-2zM162 37h2v2h-2zM170 37h2v2h-2zM172 37h2v2h-2zM184 37h2v2h-2zM-168 39h2v2h-2zM-156 39h2v2h-2zM-132 39h2v2h-2zM-106 39h2v2h-2zM-16 39h2v2h-2zM-4 39h2v2h-2zM180 39h2v2h-2zM188 39h2v2h-2zM-128 41h2v2h-2zM-84 41h2v2h-2zM-8 41h2v2h-2zM178 41h2v2h-2zM-160 43h2v2h-2zM-154 43h2v2h-2zM-152 43h2v2h-2zM-84 43h2v2h-2zM-36 43h2v2h-2zM-34 43h2v2h-2zM-32 43h2v2h-2zM64 43h2v2h-2zM102 43h2v2h-2zM190 43h2v2h-2zM26 45h2v2h-2zM28 45h2v2h-2zM186 45h2v2h-2zM-156 47h2v2h-2zM-150 47h2v2h-2zM26 47h2v2h-2zM28 47h2v2h-2zM30 47h2v2h-2zM-130 49h2v2h-2zM24 49h2v2h-2zM26 49h2v2h-2zM30 49h2v2h-2zM184 49h2v2h-2zM0 51h2v2h-2zM6 51h2v2h-2zM-16 53h2v2h-2zM-58 55h2v2h-2zM116 55h2v2h-2zM186 55h2v2h-2zM-56 57h2v2h-2zM148 57h2v2h-2zM184 57h2v2h-2zM-134 59h2v2h-2zM114 59h2v2h-2zM140 59h2v2h-2zM-24 61h2v2h-2zM-26 63h2v2h-2zM22 63h2v2h-2zM46 63h2v2h-2zM72 63h2v2h-2zM166 63h2v2h-2z"/><path fill="#90c9b7" d="M-70 -65h2v2h-2zM88 -65h2v2h-2zM174 -65h2v2h-2zM128 -63h2v2h-2zM-80 -61h2v2h-2zM-30 -55h2v2h-2zM-106 -53h2v2h-2zM136 -49h2v2h-2zM106 -47h2v2h-2zM138 -47h2v2h-2zM158 -47h2v2h-2zM168 -43h2v2h-2zM-6 -41h2v2h-2zM34 -39h2v2h-2zM158 -37h2v2h-2zM180 -37h2v2h-2zM162 -35h2v2h-2zM-168 -33h2v2h-2zM-62 -33h2v2h-2zM-66 -29h2v2h-2zM-16 -29h2v2h-2zM-152 -25h2v2h-2zM-108 -25h2v2h-2zM-12 -25h2v2h-2zM42 -25h2v2h-2zM-72 -23h2v2h-2zM48 -23h2v2h-2zM168 -23h2v2h-2zM54 -21h2v2h-2zM58 -21h2v2h-2zM98 -21h2v2h-2zM-162 -19h2v2h-2zM-10 -17h2v2h-2zM46 -15h2v2h-2zM88 -15h2v2h-2zM52 -13h2v2h-2zM120 -13h2v2h-2zM-92 -11h2v2h-2zM-56 -11h2v2h-2zM-82 -7h2v2h-2zM86 -7h2v2h-2zM-140 -5h2v2h-2zM70 -3h2v2h-2zM-138 1h2v2h-2zM180 1h2v2h-2zM-54 3h2v2h-2zM-126 5h2v2h-2zM-34 11h2v2h-2zM108 11h2v2h-2zM-164 13h2v2h-2zM142 13h2v2h-2zM100 15h2v2h-2zM110 17h2v2h-2zM130 17h2v2h-2zM110 21h2v2h-2zM180 21h2v2h-2zM-158 23h2v2h-2zM-74 23h2v2h-2zM160 23h2v2h-2zM46 25h2v2h-2zM76 25h2v2h-2zM-140 27h2v2h-2zM-130 27h2v2h-2zM-78 29h2v2h-2zM82 29h2v2h-2zM-78 31h2v2h-2zM-16 33h2v2h-2zM-2 37h2v2h-2zM150 37h2v2h-2zM-152 39h2v2h-2zM70 39h2v2h-2zM-36 41h2v2h-2zM-156 43h2v2h-2zM-134 43h2v2h-2zM184 43h2v2h-2zM-168 45h2v2h-2zM-158 47h2v2h-2zM6 47h2v2h-2zM-152 49h2v2h-2zM-162 53h2v2h-2zM-156 55h2v2h-2zM8 55h2v2h-2zM-60 57h2v2h-2z"/><path fill="#b4c695" d="M0 -33h2v2h-2zM-72 -17h2v2h-2zM122 47h2v2h-2zM-102 55h2v2h-2zM34 61h2v2h-2z"/><path fill="#bed37a" d="M20 -67h2v2h-2zM28 -63h2v2h-2zM134 -59h2v2h-2zM172 -57h2v2h-2zM90 -55h2v2h-2zM-10 -49h2v2h-2zM0 -49h2v2h-2zM-154 -47h2v2h-2zM122 -47h2v2h-2zM-132 -41h2v2h-2zM22 -39h2v2h-2zM-52 -37h2v2h-2zM-46 -37h2v2h-2zM160 -35h2v2h-2zM-96 -25h2v2h-2zM-110 -15h2v2h-2zM-42 -7h2v2h-2zM-40 -5h2v2h-2zM102 -5h2v2h-2zM-38 -3h2v2h-2zM74 3h2v2h-2zM-4 9h2v2h-2zM-44 13h2v2h-2zM146 17h2v2h-2zM-70 21h2v2h-2zM42 27h2v2h-2zM32 29h2v2h-2zM42 29h2v2h-2zM34 31h2v2h-2zM66 31h2v2h-2zM46 33h2v2h-2zM166 33h2v2h-2zM168 33h2v2h-2zM46 35h2v2h-2zM140 43h2v2h-2zM94 57h2v2h-2z"/><path fill="#cedf5c" d="M164 -37h2v2h-2zM38 31h2v2h-2zM44 35h2v2h-2z"/><path fill="#e2ea36" d="M152 -37h2v2h-2zM158 -35h2v2h-2zM156 -33h2v2h-2z"/><path fill="#f9f30a" d="M160 -37h2v2h-2zM44 33h2v2h-2z"/><path fill="#ff4000" d="M162 -37h2v2h-2z"/><path fill="#ffbd00" d="M150 -35h2v2h-2zM152 -35h2v2h-2zM156 -35h2v2h-2z"/><path fill="#ffd100" d="M154 -35h2v2h-2z"/><path fill="#ffe600" d="M164 -35h2v2h-2z"/>
<path fill="#fff" d="M-175 70L-131.5 70L-131.5 58.8L-175 58.8ZM-106 70L-88 70L-88 60.6L-106 60.6ZM-111.5 50.5L-100 50.5L-100 47.8L-111.5 47.8ZM-104 53.3L-88 53.3L-88 50.5L-104 50.5ZM-83 57L-81 57L-81 55L-83 55ZM-30 59.5L-28 59.5L-28 57.5L-30 57.5ZM-14 58L-9 58L-9 56L-14 56ZM-3 63L9 63L9 56L-3 56ZM9 64.5L20 64.5L20 55L9 55ZM20 61L27 61L27 57L20 57ZM38 64.5L47 64.5L47 58L38 58ZM52 62L66 62L66 59.7L52 59.7ZM72 61L82 61L82 58.4L72 58.4ZM102 61L115 61L115 54.5L102 54.5ZM106 54.5L111 54.5L111 52.5L106 52.5ZM115 47.6L118.6 47.6L118.6 44.8L115 44.8ZM122 49L125 49L125 44L122 44ZM127.5 49L131 49L131 47.5L127.5 47.5ZM137 62L146 62L146 57L137 57ZM184 70L195 70L195 59L184 59ZM-41 -55.4L-30 -55.4L-30 -62.6L-41 -62.6Z"/>
<use href="#land" x="-360"/>
<use href="#land" x="0"/>
<use href="#land" x="360"/>
<use href="#ant"/>
<use href="#deco" x="0"/>
<use href="#lakes" x="0"/>
<use href="#deco" x="360"/>
<use href="#lakes" x="360"/>
</g>
<path d="M114.9 572.0V801.1M243.2 572.0V801.1M371.6 572.0V801.1M28.5 750.2H488.8M28.5 686.6H488.8M28.5 622.9H488.8" stroke="#888" stroke-width="0.6" stroke-dasharray="1 2" fill="none" opacity="0.6"/>
</g>
<rect x="28.5" y="572" width="460.3" height="229.1" fill="none" stroke="#333" stroke-width="1.3"/>
<path d="M37.9 801.1v-3.5M37.9 572.0v3.5M63.5 801.1v-3.5M63.5 572.0v3.5M89.2 801.1v-3.5M89.2 572.0v3.5M114.9 801.1v-5.0M114.9 572.0v5.0M140.6 801.1v-3.5M140.6 572.0v3.5M166.2 801.1v-3.5M166.2 572.0v3.5M191.9 801.1v-3.5M191.9 572.0v3.5M217.6 801.1v-3.5M217.6 572.0v3.5M243.2 801.1v-5.0M243.2 572.0v5.0M268.9 801.1v-3.5M268.9 572.0v3.5M294.6 801.1v-3.5M294.6 572.0v3.5M320.3 801.1v-3.5M320.3 572.0v3.5M345.9 801.1v-3.5M345.9 572.0v3.5M371.6 801.1v-5.0M371.6 572.0v5.0M397.3 801.1v-3.5M397.3 572.0v3.5M423.0 801.1v-3.5M423.0 572.0v3.5M448.6 801.1v-3.5M448.6 572.0v3.5M474.3 801.1v-3.5M474.3 572.0v3.5M28.5 788.4h3.5M488.8 788.4h-3.5M28.5 775.6h3.5M488.8 775.6h-3.5M28.5 762.9h3.5M488.8 762.9h-3.5M28.5 750.2h5.0M488.8 750.2h-5.0M28.5 737.5h3.5M488.8 737.5h-3.5M28.5 724.7h3.5M488.8 724.7h-3.5M28.5 712.0h3.5M488.8 712.0h-3.5M28.5 699.3h3.5M488.8 699.3h-3.5M28.5 686.6h5.0M488.8 686.6h-5.0M28.5 673.8h3.5M488.8 673.8h-3.5M28.5 661.1h3.5M488.8 661.1h-3.5M28.5 648.4h3.5M488.8 648.4h-3.5M28.5 635.6h3.5M488.8 635.6h-3.5M28.5 622.9h5.0M488.8 622.9h-5.0M28.5 610.2h3.5M488.8 610.2h-3.5M28.5 597.5h3.5M488.8 597.5h-3.5M28.5 584.7h3.5M488.8 584.7h-3.5" stroke="#333" stroke-width="1" fill="none"/>
<g font-family="'DejaVu Sans','Liberation Sans',sans-serif" font-size="9.6" fill="#222"><text x="114.9" y="814.6" text-anchor="middle">-100</text><text x="243.2" y="814.6" text-anchor="middle">0</text><text x="371.6" y="814.6" text-anchor="middle">100</text><text x="25.3" y="626.8" text-anchor="end">50</text><text x="25.3" y="690.5" text-anchor="end">0</text><text x="25.3" y="754.1" text-anchor="end">-50</text></g>
<text x="139.6" y="565.4" textLength="237.5" lengthAdjust="spacingAndGlyphs" font-family="'DejaVu Sans','Liberation Sans',sans-serif" font-size="12.8" fill="#222">VAR(SLA - ZARON) - VAR(SLA - ZERO)</text>
<g clip-path="url(#c6)">
<rect x="525.8" y="571.3" width="462" height="230" fill="#fff"/>
<g transform="translate(741.34 686.30) scale(1.2883 1.2778)">
<rect x="-200" y="-60" width="420" height="120" fill="#b2b2b2"/>
<rect x="-200" y="-60" width="420" height="120" fill="url(#nz6)"/>
<rect x="-64" y="-62" width="54" height="2" fill="#b2b2b2"/>
<path fill="#0000d8" d="M-166 -26h2v2h-2zM-80 -24h2v2h-2zM136 -22h2v2h-2zM152 -20h2v2h-2zM154 -20h2v2h-2zM140 -18h2v2h-2zM150 -18h2v2h-2zM94 -16h2v2h-2zM128 -2h2v2h-2zM130 -2h2v2h-2zM124 0h2v2h-2zM122 6h2v2h-2zM46 8h2v2h-2zM48 8h2v2h-2zM122 10h2v2h-2zM-146 16h2v2h-2zM62 16h2v2h-2zM-148 18h2v2h-2zM-146 18h2v2h-2zM-144 22h2v2h-2z"/><path fill="#0000eb" d="M-164 -20h2v2h-2zM-44 -2h2v2h-2zM122 2h2v2h-2zM124 2h2v2h-2zM120 4h2v2h-2zM126 8h2v2h-2zM154 8h2v2h-2zM124 10h2v2h-2zM60 14h2v2h-2zM160 14h2v2h-2zM156 16h2v2h-2zM-152 20h2v2h-2zM-144 20h2v2h-2zM162 20h2v2h-2zM162 22h2v2h-2zM170 30h2v2h-2z"/><path fill="#0000ff" d="M136 -26h2v2h-2zM140 -26h2v2h-2zM134 -24h2v2h-2zM150 -22h2v2h-2zM152 -22h2v2h-2zM156 -22h2v2h-2zM146 -18h2v2h-2zM116 0h2v2h-2zM128 0h2v2h-2zM116 8h2v2h-2zM48 10h2v2h-2zM168 10h2v2h-2zM162 14h2v2h-2zM-142 18h2v2h-2zM164 18h2v2h-2zM166 28h2v2h-2z"/><path fill="#0015ff" d="M152 -26h2v2h-2zM-164 -24h2v2h-2zM132 -24h2v2h-2zM142 -24h2v2h-2zM96 -14h2v2h-2zM92 -12h2v2h-2zM-158 -10h2v2h-2zM-46 0h2v2h-2zM120 8h2v2h-2zM50 10h2v2h-2zM120 10h2v2h-2zM172 12h2v2h-2zM-150 14h2v2h-2zM-140 16h2v2h-2zM-152 18h2v2h-2zM-144 18h2v2h-2zM58 18h2v2h-2zM-146 22h2v2h-2z"/><path fill="#002bff" d="M126 -28h2v2h-2zM150 -26h2v2h-2zM154 -26h2v2h-2zM150 -24h2v2h-2zM-164 -22h2v2h-2zM-52 -8h2v2h-2zM124 -6h2v2h-2zM-48 -4h2v2h-2zM118 -2h2v2h-2zM130 6h2v2h-2zM174 8h2v2h-2zM176 8h2v2h-2zM-144 12h2v2h-2zM154 12h2v2h-2zM160 12h2v2h-2zM-144 14h2v2h-2zM-142 16h2v2h-2zM162 16h2v2h-2zM-146 20h2v2h-2zM166 20h2v2h-2zM168 22h2v2h-2z"/><path fill="#0040ff" d="M150 -28h2v2h-2zM-162 -24h2v2h-2zM134 -22h2v2h-2zM-162 -20h2v2h-2zM130 -20h2v2h-2zM142 -20h2v2h-2zM-166 -18h2v2h-2zM130 -18h2v2h-2zM136 -18h2v2h-2zM142 -16h2v2h-2zM126 -6h2v2h-2zM122 -4h2v2h-2zM132 0h2v2h-2zM170 6h2v2h-2zM50 8h2v2h-2zM156 8h2v2h-2zM58 10h2v2h-2zM128 10h2v2h-2zM58 12h2v2h-2zM-140 14h2v2h-2zM62 14h2v2h-2zM-144 16h2v2h-2zM58 16h2v2h-2z"/><path fill="#0055ff" d="M-80 -26h2v2h-2zM138 -26h2v2h-2zM158 -24h2v2h-2zM118 -22h2v2h-2zM124 -22h2v2h-2zM146 -22h2v2h-2zM-164 -16h2v2h-2zM-162 -16h2v2h-2zM156 -16h2v2h-2zM-162 -14h2v2h-2zM-156 -14h2v2h-2zM148 -14h2v2h-2zM-158 -12h2v2h-2zM92 -10h2v2h-2zM-54 -6h2v2h-2zM130 -4h2v2h-2zM114 4h2v2h-2zM130 4h2v2h-2zM120 6h2v2h-2zM60 10h2v2h-2zM62 10h2v2h-2zM126 10h2v2h-2zM176 10h2v2h-2zM178 10h2v2h-2zM162 12h2v2h-2zM168 12h2v2h-2zM-142 14h2v2h-2zM56 16h2v2h-2zM160 16h2v2h-2zM56 18h2v2h-2zM62 18h2v2h-2zM160 20h2v2h-2zM158 22h2v2h-2zM164 24h2v2h-2zM164 28h2v2h-2zM170 32h2v2h-2z"/><path fill="#006bff" d="M122 -24h2v2h-2zM136 -24h2v2h-2zM152 -24h2v2h-2zM132 -22h2v2h-2zM170 -22h2v2h-2zM-168 -20h2v2h-2zM150 -20h2v2h-2zM156 -20h2v2h-2zM-158 -16h2v2h-2zM132 -16h2v2h-2zM136 -16h2v2h-2zM150 -16h2v2h-2zM-160 -10h2v2h-2zM-48 -6h2v2h-2zM118 -6h2v2h-2zM122 -6h2v2h-2zM-44 -4h2v2h-2zM120 2h2v2h-2zM150 8h2v2h-2zM180 8h2v2h-2zM-150 10h2v2h-2zM158 10h2v2h-2zM-148 12h2v2h-2zM-154 14h2v2h-2zM164 14h2v2h-2zM60 18h2v2h-2zM-148 20h2v2h-2zM-148 22h2v2h-2zM160 24h2v2h-2zM-156 26h2v2h-2zM164 26h2v2h-2zM170 26h2v2h-2zM166 30h2v2h-2zM168 32h2v2h-2zM20 36h2v2h-2z"/><path fill="#0080ff" d="M-164 -28h2v2h-2zM138 -28h2v2h-2zM140 -28h2v2h-2zM152 -28h2v2h-2zM126 -26h2v2h-2zM-160 -24h2v2h-2zM154 -24h2v2h-2zM156 -24h2v2h-2zM160 -24h2v2h-2zM166 -24h2v2h-2zM158 -22h2v2h-2zM160 -22h2v2h-2zM126 -20h2v2h-2zM120 -18h2v2h-2zM148 -16h2v2h-2zM154 -16h2v2h-2zM132 -14h2v2h-2zM138 -14h2v2h-2zM-162 -10h2v2h-2zM122 -8h2v2h-2zM120 -6h2v2h-2zM126 -2h2v2h-2zM130 0h2v2h-2zM114 2h2v2h-2zM166 8h2v2h-2zM160 10h2v2h-2zM-148 14h2v2h-2zM-140 20h2v2h-2zM62 20h2v2h-2zM-142 22h2v2h-2zM166 22h2v2h-2zM-144 24h2v2h-2zM166 24h2v2h-2zM162 26h2v2h-2zM168 28h2v2h-2zM170 28h2v2h-2z"/><path fill="#0095ff" d="M162 -30h2v2h-2zM136 -28h2v2h-2zM144 -28h2v2h-2zM-162 -26h2v2h-2zM162 -26h2v2h-2zM-82 -24h2v2h-2zM126 -24h2v2h-2zM138 -24h2v2h-2zM170 -24h2v2h-2zM-168 -22h2v2h-2zM-158 -22h2v2h-2zM-76 -22h2v2h-2zM128 -22h2v2h-2zM-168 -18h2v2h-2zM132 -18h2v2h-2zM158 -18h2v2h-2zM168 -18h2v2h-2zM-156 -16h2v2h-2zM92 -16h2v2h-2zM138 -16h2v2h-2zM144 -16h2v2h-2zM140 -14h2v2h-2zM150 -14h2v2h-2zM-156 -12h2v2h-2zM-160 -8h2v2h-2zM-50 -8h2v2h-2zM124 -8h2v2h-2zM-50 -6h2v2h-2zM-46 -6h2v2h-2zM-52 -4h2v2h-2zM116 -2h2v2h-2zM114 0h2v2h-2zM132 4h2v2h-2zM122 8h2v2h-2zM56 10h2v2h-2zM162 10h2v2h-2zM166 10h2v2h-2zM-154 12h2v2h-2zM48 12h2v2h-2zM56 12h2v2h-2zM116 12h2v2h-2zM-138 14h2v2h-2zM122 14h2v2h-2zM-138 16h2v2h-2zM154 16h2v2h-2zM166 16h2v2h-2zM-38 18h2v2h-2zM-154 20h2v2h-2zM170 22h2v2h-2zM-158 24h2v2h-2zM-148 24h2v2h-2zM-18 24h2v2h-2z"/><path fill="#00aaff" d="M128 -28h2v2h-2zM-160 -26h2v2h-2zM-78 -26h2v2h-2zM122 -26h2v2h-2zM132 -26h2v2h-2zM156 -26h2v2h-2zM158 -26h2v2h-2zM160 -26h2v2h-2zM168 -24h2v2h-2zM190 -24h2v2h-2zM-78 -22h2v2h-2zM164 -20h2v2h-2zM170 -20h2v2h-2zM124 -18h2v2h-2zM134 -18h2v2h-2zM148 -18h2v2h-2zM156 -18h2v2h-2zM166 -18h2v2h-2zM96 -16h2v2h-2zM126 -16h2v2h-2zM160 -16h2v2h-2zM-154 -14h2v2h-2zM92 -14h2v2h-2zM146 -14h2v2h-2zM90 -12h2v2h-2zM124 -12h2v2h-2zM120 -10h2v2h-2zM124 -10h2v2h-2zM116 -6h2v2h-2zM-42 -4h2v2h-2zM112 2h2v2h-2zM116 2h2v2h-2zM134 4h2v2h-2zM58 8h2v2h-2zM172 8h2v2h-2zM130 10h2v2h-2zM-138 12h2v2h-2zM52 14h2v2h-2zM64 14h2v2h-2zM164 16h2v2h-2zM168 16h2v2h-2zM156 20h2v2h-2zM158 20h2v2h-2zM-154 22h2v2h-2zM-152 24h2v2h-2zM-156 28h2v2h-2zM164 30h2v2h-2zM-6 34h2v2h-2zM170 34h2v2h-2z"/><path fill="#00bfff" d="M8 -34h2v2h-2zM148 -30h2v2h-2zM150 -30h2v2h-2zM164 -30h2v2h-2zM146 -28h2v2h-2zM154 -28h2v2h-2zM156 -28h2v2h-2zM-168 -26h2v2h-2zM-168 -24h2v2h-2zM-160 -22h2v2h-2zM-156 -22h2v2h-2zM126 -22h2v2h-2zM140 -22h2v2h-2zM-158 -20h2v2h-2zM92 -20h2v2h-2zM128 -20h2v2h-2zM134 -20h2v2h-2zM144 -20h2v2h-2zM158 -20h2v2h-2zM168 -20h2v2h-2zM176 -20h2v2h-2zM-164 -18h2v2h-2zM-160 -18h2v2h-2zM-156 -18h2v2h-2zM92 -18h2v2h-2zM94 -18h2v2h-2zM126 -18h2v2h-2zM152 -18h2v2h-2zM160 -18h2v2h-2zM170 -18h2v2h-2zM122 -16h2v2h-2zM134 -16h2v2h-2zM146 -16h2v2h-2zM90 -14h2v2h-2zM122 -14h2v2h-2zM136 -14h2v2h-2zM156 -14h2v2h-2zM182 -14h2v2h-2zM-162 -12h2v2h-2zM-160 -12h2v2h-2zM-154 -12h2v2h-2zM146 -12h2v2h-2zM122 -10h2v2h-2zM-44 -6h2v2h-2zM-50 -4h2v2h-2zM116 -4h2v2h-2zM118 -4h2v2h-2zM120 -4h2v2h-2zM-52 -2h2v2h-2zM112 -2h2v2h-2zM56 6h2v2h-2zM112 6h2v2h-2zM132 6h2v2h-2zM156 6h2v2h-2zM52 8h2v2h-2zM54 8h2v2h-2zM60 8h2v2h-2zM-142 10h2v2h-2zM-138 10h2v2h-2zM116 10h2v2h-2zM148 10h2v2h-2zM154 10h2v2h-2zM-156 12h2v2h-2zM-140 12h2v2h-2zM46 12h2v2h-2zM50 12h2v2h-2zM64 12h2v2h-2zM-156 14h2v2h-2zM-146 14h2v2h-2zM56 14h2v2h-2zM124 14h2v2h-2zM-156 16h2v2h-2zM-36 16h2v2h-2zM64 16h2v2h-2zM172 16h2v2h-2zM174 16h2v2h-2zM-154 18h2v2h-2zM64 18h2v2h-2zM168 18h2v2h-2zM174 18h2v2h-2zM-138 20h2v2h-2zM164 20h2v2h-2zM174 20h2v2h-2zM-150 22h2v2h-2zM174 22h2v2h-2zM-140 24h2v2h-2zM-154 26h2v2h-2zM-20 26h2v2h-2zM-154 28h2v2h-2zM-160 30h2v2h-2zM172 30h2v2h-2zM-6 32h2v2h-2z"/><path fill="#00d4ff" d="M6 -32h2v2h-2zM128 -30h2v2h-2zM130 -30h2v2h-2zM160 -30h2v2h-2zM130 -28h2v2h-2zM132 -28h2v2h-2zM158 -28h2v2h-2zM160 -28h2v2h-2zM164 -28h2v2h-2zM-158 -26h2v2h-2zM-82 -26h2v2h-2zM142 -26h2v2h-2zM144 -26h2v2h-2zM164 -26h2v2h-2zM166 -26h2v2h-2zM172 -26h2v2h-2zM-158 -24h2v2h-2zM-32 -24h2v2h-2zM118 -24h2v2h-2zM128 -24h2v2h-2zM172 -24h2v2h-2zM116 -22h2v2h-2zM164 -22h2v2h-2zM-30 -20h2v2h-2zM180 -20h2v2h-2zM-162 -18h2v2h-2zM118 -18h2v2h-2zM128 -18h2v2h-2zM154 -18h2v2h-2zM178 -18h2v2h-2zM-160 -16h2v2h-2zM120 -16h2v2h-2zM124 -16h2v2h-2zM170 -16h2v2h-2zM-164 -14h2v2h-2zM-158 -14h2v2h-2zM-152 -14h2v2h-2zM134 -14h2v2h-2zM142 -14h2v2h-2zM158 -14h2v2h-2zM168 -14h2v2h-2zM-18 -12h2v2h-2zM98 -12h2v2h-2zM142 -12h2v2h-2zM150 -12h2v2h-2zM126 -10h2v2h-2zM-156 -8h2v2h-2zM-56 -8h2v2h-2zM94 -8h2v2h-2zM120 -8h2v2h-2zM114 -6h2v2h-2zM-54 -4h2v2h-2zM114 -4h2v2h-2zM132 -4h2v2h-2zM114 -2h2v2h-2zM122 0h2v2h-2zM144 2h2v2h-2zM156 4h2v2h-2zM172 4h2v2h-2zM176 4h2v2h-2zM50 6h2v2h-2zM128 6h2v2h-2zM-150 8h2v2h-2zM-144 8h2v2h-2zM44 8h2v2h-2zM118 8h2v2h-2zM128 8h2v2h-2zM158 8h2v2h-2zM160 8h2v2h-2zM-152 10h2v2h-2zM-144 10h2v2h-2zM-140 10h2v2h-2zM54 10h2v2h-2zM64 10h2v2h-2zM164 10h2v2h-2zM170 10h2v2h-2zM-152 12h2v2h-2zM52 12h2v2h-2zM128 12h2v2h-2zM164 12h2v2h-2zM-136 14h2v2h-2zM166 14h2v2h-2zM178 14h2v2h-2zM-38 16h2v2h-2zM54 16h2v2h-2zM-158 18h2v2h-2zM-36 18h2v2h-2zM52 18h2v2h-2zM156 18h2v2h-2zM166 18h2v2h-2zM-156 20h2v2h-2zM58 20h2v2h-2zM154 20h2v2h-2zM168 20h2v2h-2zM170 20h2v2h-2zM164 22h2v2h-2zM172 22h2v2h-2zM-154 24h2v2h-2zM-146 24h2v2h-2zM-142 24h2v2h-2zM110 24h2v2h-2zM112 24h2v2h-2zM156 24h2v2h-2zM158 24h2v2h-2zM162 24h2v2h-2zM170 24h2v2h-2zM-144 26h2v2h-2zM-132 26h2v2h-2zM172 26h2v2h-2zM162 28h2v2h-2zM172 28h2v2h-2zM-158 30h2v2h-2zM-126 30h2v2h-2zM162 30h2v2h-2zM16 36h2v2h-2z"/><path fill="#00e8ff" d="M-6 -42h2v2h-2zM34 -42h2v2h-2zM4 -32h2v2h-2zM8 -32h2v2h-2zM10 -32h2v2h-2zM118 -32h2v2h-2zM148 -32h2v2h-2zM152 -32h2v2h-2zM120 -30h2v2h-2zM124 -30h2v2h-2zM140 -30h2v2h-2zM146 -30h2v2h-2zM152 -30h2v2h-2zM10 -28h2v2h-2zM92 -28h2v2h-2zM134 -28h2v2h-2zM148 -28h2v2h-2zM176 -28h2v2h-2zM-76 -26h2v2h-2zM120 -26h2v2h-2zM124 -26h2v2h-2zM134 -26h2v2h-2zM170 -26h2v2h-2zM176 -26h2v2h-2zM-156 -24h2v2h-2zM-154 -24h2v2h-2zM140 -24h2v2h-2zM164 -24h2v2h-2zM174 -24h2v2h-2zM184 -24h2v2h-2zM186 -24h2v2h-2zM162 -22h2v2h-2zM168 -22h2v2h-2zM172 -22h2v2h-2zM174 -22h2v2h-2zM-160 -20h2v2h-2zM-78 -20h2v2h-2zM94 -20h2v2h-2zM96 -20h2v2h-2zM118 -20h2v2h-2zM122 -20h2v2h-2zM166 -20h2v2h-2zM182 -20h2v2h-2zM186 -20h2v2h-2zM-158 -18h2v2h-2zM122 -18h2v2h-2zM144 -18h2v2h-2zM164 -18h2v2h-2zM182 -18h2v2h-2zM184 -18h2v2h-2zM-168 -16h2v2h-2zM-166 -16h2v2h-2zM116 -16h2v2h-2zM152 -16h2v2h-2zM186 -16h2v2h-2zM-168 -14h2v2h-2zM-166 -14h2v2h-2zM-62 -14h2v2h-2zM126 -14h2v2h-2zM160 -14h2v2h-2zM184 -14h2v2h-2zM-164 -12h2v2h-2zM126 -12h2v2h-2zM134 -12h2v2h-2zM140 -12h2v2h-2zM144 -12h2v2h-2zM152 -12h2v2h-2zM156 -12h2v2h-2zM90 -10h2v2h-2zM118 -10h2v2h-2zM130 -10h2v2h-2zM-54 -8h2v2h-2zM-48 -8h2v2h-2zM92 -8h2v2h-2zM116 -8h2v2h-2zM118 -8h2v2h-2zM130 -8h2v2h-2zM128 -6h2v2h-2zM134 -2h2v2h-2zM-50 0h2v2h-2zM-44 0h2v2h-2zM132 2h2v2h-2zM162 2h2v2h-2zM54 4h2v2h-2zM152 4h2v2h-2zM162 4h2v2h-2zM46 6h2v2h-2zM48 6h2v2h-2zM52 6h2v2h-2zM114 6h2v2h-2zM158 6h2v2h-2zM162 6h2v2h-2zM164 6h2v2h-2zM180 6h2v2h-2zM62 8h2v2h-2zM112 8h2v2h-2zM148 8h2v2h-2zM162 8h2v2h-2zM168 8h2v2h-2zM-156 10h2v2h-2zM114 10h2v2h-2zM182 10h2v2h-2zM-150 12h2v2h-2zM44 12h2v2h-2zM112 12h2v2h-2zM118 12h2v2h-2zM126 12h2v2h-2zM50 14h2v2h-2zM112 14h2v2h-2zM120 14h2v2h-2zM-154 16h2v2h-2zM46 16h2v2h-2zM158 16h2v2h-2zM170 16h2v2h-2zM176 16h2v2h-2zM-156 18h2v2h-2zM54 18h2v2h-2zM158 18h2v2h-2zM170 18h2v2h-2zM-36 20h2v2h-2zM52 20h2v2h-2zM-152 22h2v2h-2zM-140 22h2v2h-2zM12 22h2v2h-2zM62 22h2v2h-2zM-160 24h2v2h-2zM-156 24h2v2h-2zM154 24h2v2h-2zM176 24h2v2h-2zM-152 26h2v2h-2zM-134 26h2v2h-2zM-162 28h2v2h-2zM-158 28h2v2h-2zM-128 28h2v2h-2zM-164 30h2v2h-2zM-156 30h2v2h-2zM-8 30h2v2h-2zM-158 32h2v2h-2zM-134 32h2v2h-2zM-16 32h2v2h-2zM-14 32h2v2h-2zM-10 32h2v2h-2zM166 32h2v2h-2zM-14 34h2v2h-2z"/><path fill="#0101c3" d="M148 -24h2v2h-2zM138 -22h2v2h-2zM-166 -20h2v2h-2zM136 -20h2v2h-2zM146 -20h2v2h-2zM94 -14h2v2h-2zM96 -12h2v2h-2zM118 4h2v2h-2zM158 14h2v2h-2zM-152 16h2v2h-2zM60 16h2v2h-2zM-140 18h2v2h-2zM-150 20h2v2h-2z"/><path fill="#0404ac" d="M130 -26h2v2h-2zM122 -22h2v2h-2zM142 -22h2v2h-2zM144 -22h2v2h-2zM120 -2h2v2h-2zM46 10h2v2h-2zM156 14h2v2h-2zM166 26h2v2h-2z"/><path fill="#070794" d="M128 -26h2v2h-2zM-166 -24h2v2h-2zM120 -24h2v2h-2zM-48 -2h2v2h-2zM118 2h2v2h-2zM116 6h2v2h-2zM124 6h2v2h-2zM-150 16h2v2h-2z"/><path fill="#0a0a7d" d="M-164 -26h2v2h-2zM146 -26h2v2h-2zM148 -26h2v2h-2zM-78 -24h2v2h-2zM130 -24h2v2h-2zM144 -24h2v2h-2zM146 -24h2v2h-2zM-166 -22h2v2h-2zM-162 -22h2v2h-2zM120 -22h2v2h-2zM148 -22h2v2h-2zM154 -22h2v2h-2zM120 -20h2v2h-2zM138 -20h2v2h-2zM140 -20h2v2h-2zM148 -20h2v2h-2zM138 -18h2v2h-2zM142 -18h2v2h-2zM140 -16h2v2h-2zM94 -12h2v2h-2zM124 -4h2v2h-2zM126 -4h2v2h-2zM128 -4h2v2h-2zM122 -2h2v2h-2zM124 -2h2v2h-2zM118 0h2v2h-2zM120 0h2v2h-2zM126 0h2v2h-2zM126 2h2v2h-2zM124 4h2v2h-2zM126 4h2v2h-2zM128 4h2v2h-2zM118 6h2v2h-2zM126 6h2v2h-2zM124 8h2v2h-2zM60 12h2v2h-2zM58 14h2v2h-2zM-148 16h2v2h-2zM-150 18h2v2h-2zM162 18h2v2h-2zM-142 20h2v2h-2z"/><path fill="#0bf4f7" d="M-2 -44h2v2h-2zM32 -42h2v2h-2zM-52 -40h2v2h-2zM-58 -38h2v2h-2zM6 -34h2v2h-2zM120 -32h2v2h-2zM124 -32h2v2h-2zM-162 -30h2v2h-2zM-160 -30h2v2h-2zM-76 -30h2v2h-2zM6 -30h2v2h-2zM8 -30h2v2h-2zM126 -30h2v2h-2zM144 -30h2v2h-2zM154 -30h2v2h-2zM-166 -28h2v2h-2zM-162 -28h2v2h-2zM-76 -28h2v2h-2zM8 -28h2v2h-2zM168 -28h2v2h-2zM174 -28h2v2h-2zM-156 -26h2v2h-2zM92 -26h2v2h-2zM114 -26h2v2h-2zM118 -26h2v2h-2zM168 -26h2v2h-2zM182 -26h2v2h-2zM-30 -24h2v2h-2zM96 -24h2v2h-2zM124 -24h2v2h-2zM176 -24h2v2h-2zM188 -24h2v2h-2zM-154 -22h2v2h-2zM-80 -22h2v2h-2zM-28 -22h2v2h-2zM94 -22h2v2h-2zM176 -22h2v2h-2zM-154 -20h2v2h-2zM90 -20h2v2h-2zM160 -20h2v2h-2zM172 -20h2v2h-2zM178 -20h2v2h-2zM190 -20h2v2h-2zM-154 -18h2v2h-2zM98 -18h2v2h-2zM174 -18h2v2h-2zM180 -18h2v2h-2zM190 -18h2v2h-2zM-62 -16h2v2h-2zM-60 -16h2v2h-2zM90 -16h2v2h-2zM114 -16h2v2h-2zM162 -16h2v2h-2zM164 -16h2v2h-2zM166 -16h2v2h-2zM184 -16h2v2h-2zM60 -14h2v2h-2zM62 -14h2v2h-2zM98 -14h2v2h-2zM116 -14h2v2h-2zM120 -14h2v2h-2zM128 -14h2v2h-2zM130 -14h2v2h-2zM154 -14h2v2h-2zM162 -14h2v2h-2zM164 -14h2v2h-2zM172 -14h2v2h-2zM180 -14h2v2h-2zM186 -14h2v2h-2zM-166 -12h2v2h-2zM-152 -12h2v2h-2zM56 -12h2v2h-2zM60 -12h2v2h-2zM136 -12h2v2h-2zM182 -12h2v2h-2zM184 -12h2v2h-2zM-166 -10h2v2h-2zM-164 -10h2v2h-2zM-154 -10h2v2h-2zM-54 -10h2v2h-2zM60 -10h2v2h-2zM96 -10h2v2h-2zM140 -10h2v2h-2zM-162 -8h2v2h-2zM132 -8h2v2h-2zM130 -6h2v2h-2zM-46 -4h2v2h-2zM-50 -2h2v2h-2zM132 -2h2v2h-2zM-112 0h2v2h-2zM-52 0h2v2h-2zM-48 0h2v2h-2zM134 0h2v2h-2zM36 2h2v2h-2zM142 2h2v2h-2zM170 2h2v2h-2zM172 2h2v2h-2zM-136 4h2v2h-2zM58 4h2v2h-2zM110 4h2v2h-2zM166 4h2v2h-2zM170 4h2v2h-2zM-144 6h2v2h-2zM-136 6h2v2h-2zM36 6h2v2h-2zM58 6h2v2h-2zM60 6h2v2h-2zM166 6h2v2h-2zM168 6h2v2h-2zM174 6h2v2h-2zM-146 8h2v2h-2zM64 8h2v2h-2zM134 8h2v2h-2zM152 8h2v2h-2zM170 8h2v2h-2zM-146 10h2v2h-2zM-134 10h2v2h-2zM112 10h2v2h-2zM172 10h2v2h-2zM-146 12h2v2h-2zM-142 12h2v2h-2zM66 12h2v2h-2zM124 12h2v2h-2zM130 12h2v2h-2zM166 12h2v2h-2zM174 12h2v2h-2zM176 12h2v2h-2zM-134 14h2v2h-2zM54 14h2v2h-2zM114 14h2v2h-2zM116 14h2v2h-2zM-160 16h2v2h-2zM116 16h2v2h-2zM180 16h2v2h-2zM-138 18h2v2h-2zM92 18h2v2h-2zM160 18h2v2h-2zM-158 20h2v2h-2zM60 20h2v2h-2zM176 20h2v2h-2zM-18 22h2v2h-2zM56 22h2v2h-2zM60 22h2v2h-2zM176 22h2v2h-2zM-24 24h2v2h-2zM114 24h2v2h-2zM152 24h2v2h-2zM174 24h2v2h-2zM-164 26h2v2h-2zM-160 26h2v2h-2zM-158 26h2v2h-2zM-148 26h2v2h-2zM-146 26h2v2h-2zM-18 26h2v2h-2zM114 26h2v2h-2zM-130 28h2v2h-2zM-16 28h2v2h-2zM-14 28h2v2h-2zM156 28h2v2h-2zM158 28h2v2h-2zM160 28h2v2h-2zM-154 30h2v2h-2zM-12 30h2v2h-2zM-10 30h2v2h-2zM-12 32h2v2h-2zM160 32h2v2h-2zM174 32h2v2h-2zM-10 36h2v2h-2zM-6 36h2v2h-2z"/><path fill="#27f0e2" d="M20 -60h2v2h-2zM-4 -44h2v2h-2zM32 -44h2v2h-2zM-4 -42h2v2h-2zM-6 -40h2v2h-2zM6 -36h2v2h-2zM-64 -34h2v2h-2zM116 -34h2v2h-2zM118 -34h2v2h-2zM-54 -32h2v2h-2zM-2 -32h2v2h-2zM12 -32h2v2h-2zM22 -32h2v2h-2zM116 -32h2v2h-2zM160 -32h2v2h-2zM164 -32h2v2h-2zM-158 -30h2v2h-2zM-156 -30h2v2h-2zM-64 -30h2v2h-2zM4 -30h2v2h-2zM132 -30h2v2h-2zM136 -30h2v2h-2zM138 -30h2v2h-2zM22 -28h2v2h-2zM116 -28h2v2h-2zM120 -28h2v2h-2zM170 -28h2v2h-2zM178 -26h2v2h-2zM186 -26h2v2h-2zM188 -26h2v2h-2zM-76 -24h2v2h-2zM94 -24h2v2h-2zM180 -24h2v2h-2zM182 -24h2v2h-2zM-98 -22h2v2h-2zM60 -22h2v2h-2zM90 -22h2v2h-2zM180 -22h2v2h-2zM182 -22h2v2h-2zM184 -22h2v2h-2zM-32 -20h2v2h-2zM114 -20h2v2h-2zM108 -18h2v2h-2zM172 -18h2v2h-2zM188 -18h2v2h-2zM-154 -16h2v2h-2zM-118 -16h2v2h-2zM56 -16h2v2h-2zM128 -16h2v2h-2zM130 -16h2v2h-2zM158 -16h2v2h-2zM178 -16h2v2h-2zM114 -14h2v2h-2zM188 -14h2v2h-2zM190 -14h2v2h-2zM62 -12h2v2h-2zM122 -12h2v2h-2zM138 -12h2v2h-2zM148 -12h2v2h-2zM164 -12h2v2h-2zM-156 -10h2v2h-2zM-152 -10h2v2h-2zM-52 -10h2v2h-2zM114 -10h2v2h-2zM116 -10h2v2h-2zM128 -10h2v2h-2zM136 -10h2v2h-2zM148 -10h2v2h-2zM154 -10h2v2h-2zM158 -10h2v2h-2zM166 -10h2v2h-2zM178 -10h2v2h-2zM112 -8h2v2h-2zM128 -8h2v2h-2zM170 -8h2v2h-2zM-162 -6h2v2h-2zM-56 -6h2v2h-2zM94 -6h2v2h-2zM112 -6h2v2h-2zM-56 -4h2v2h-2zM136 -4h2v2h-2zM176 -4h2v2h-2zM-40 -2h2v2h-2zM144 -2h2v2h-2zM-146 2h2v2h-2zM-112 2h2v2h-2zM-28 2h2v2h-2zM54 2h2v2h-2zM110 2h2v2h-2zM136 2h2v2h-2zM164 2h2v2h-2zM168 2h2v2h-2zM34 4h2v2h-2zM50 4h2v2h-2zM52 4h2v2h-2zM56 4h2v2h-2zM92 4h2v2h-2zM106 4h2v2h-2zM122 4h2v2h-2zM148 4h2v2h-2zM160 4h2v2h-2zM164 4h2v2h-2zM-140 6h2v2h-2zM-138 6h2v2h-2zM44 6h2v2h-2zM62 6h2v2h-2zM64 6h2v2h-2zM110 6h2v2h-2zM148 6h2v2h-2zM176 6h2v2h-2zM178 6h2v2h-2zM182 6h2v2h-2zM-152 8h2v2h-2zM-142 8h2v2h-2zM-138 8h2v2h-2zM-134 8h2v2h-2zM38 8h2v2h-2zM66 8h2v2h-2zM130 8h2v2h-2zM132 8h2v2h-2zM52 10h2v2h-2zM132 10h2v2h-2zM134 10h2v2h-2zM156 10h2v2h-2zM174 10h2v2h-2zM-158 12h2v2h-2zM-134 12h2v2h-2zM42 12h2v2h-2zM114 12h2v2h-2zM132 12h2v2h-2zM148 12h2v2h-2zM156 12h2v2h-2zM178 12h2v2h-2zM182 12h2v2h-2zM-158 14h2v2h-2zM46 14h2v2h-2zM88 14h2v2h-2zM94 14h2v2h-2zM130 14h2v2h-2zM170 14h2v2h-2zM172 14h2v2h-2zM-100 16h2v2h-2zM48 16h2v2h-2zM50 16h2v2h-2zM52 16h2v2h-2zM66 16h2v2h-2zM114 16h2v2h-2zM126 16h2v2h-2zM-34 18h2v2h-2zM48 18h2v2h-2zM180 18h2v2h-2zM-136 20h2v2h-2zM10 20h2v2h-2zM12 20h2v2h-2zM48 20h2v2h-2zM50 20h2v2h-2zM54 20h2v2h-2zM64 20h2v2h-2zM152 20h2v2h-2zM172 20h2v2h-2zM180 20h2v2h-2zM-136 22h2v2h-2zM-132 22h2v2h-2zM-20 22h2v2h-2zM58 22h2v2h-2zM154 22h2v2h-2zM156 22h2v2h-2zM180 22h2v2h-2zM-138 24h2v2h-2zM-16 24h2v2h-2zM-150 26h2v2h-2zM-14 26h2v2h-2zM152 26h2v2h-2zM154 26h2v2h-2zM156 26h2v2h-2zM158 26h2v2h-2zM176 26h2v2h-2zM-164 28h2v2h-2zM-152 28h2v2h-2zM-144 28h2v2h-2zM-138 28h2v2h-2zM-16 30h2v2h-2zM146 30h2v2h-2zM158 30h2v2h-2zM176 30h2v2h-2zM-160 32h2v2h-2zM-132 32h2v2h-2zM158 32h2v2h-2zM172 32h2v2h-2zM-16 34h2v2h-2zM-12 38h2v2h-2z"/><path fill="#4ee2ce" d="M22 -60h2v2h-2zM-34 -56h2v2h-2zM-138 -48h2v2h-2zM-94 -46h2v2h-2zM34 -46h2v2h-2zM-6 -44h2v2h-2zM34 -44h2v2h-2zM36 -44h2v2h-2zM-78 -42h2v2h-2zM80 -42h2v2h-2zM-8 -38h2v2h-2zM-6 -38h2v2h-2zM-2 -38h2v2h-2zM8 -38h2v2h-2zM186 -38h2v2h-2zM-56 -36h2v2h-2zM4 -36h2v2h-2zM118 -36h2v2h-2zM-54 -34h2v2h-2zM-2 -34h2v2h-2zM14 -34h2v2h-2zM22 -34h2v2h-2zM120 -34h2v2h-2zM122 -34h2v2h-2zM158 -34h2v2h-2zM166 -34h2v2h-2zM-162 -32h2v2h-2zM-158 -32h2v2h-2zM-66 -32h2v2h-2zM-64 -32h2v2h-2zM-62 -32h2v2h-2zM-4 -32h2v2h-2zM2 -32h2v2h-2zM126 -32h2v2h-2zM128 -32h2v2h-2zM134 -32h2v2h-2zM138 -32h2v2h-2zM156 -32h2v2h-2zM166 -32h2v2h-2zM168 -32h2v2h-2zM176 -32h2v2h-2zM-154 -30h2v2h-2zM-80 -30h2v2h-2zM-78 -30h2v2h-2zM-74 -30h2v2h-2zM-4 -30h2v2h-2zM122 -30h2v2h-2zM156 -30h2v2h-2zM158 -30h2v2h-2zM166 -30h2v2h-2zM170 -30h2v2h-2zM174 -30h2v2h-2zM184 -30h2v2h-2zM-78 -28h2v2h-2zM-18 -28h2v2h-2zM20 -28h2v2h-2zM96 -28h2v2h-2zM178 -28h2v2h-2zM8 -26h2v2h-2zM96 -26h2v2h-2zM112 -26h2v2h-2zM116 -26h2v2h-2zM174 -26h2v2h-2zM-102 -24h2v2h-2zM8 -24h2v2h-2zM58 -24h2v2h-2zM60 -24h2v2h-2zM90 -24h2v2h-2zM92 -24h2v2h-2zM106 -24h2v2h-2zM178 -24h2v2h-2zM-152 -22h2v2h-2zM-102 -22h2v2h-2zM-82 -22h2v2h-2zM-32 -22h2v2h-2zM92 -22h2v2h-2zM110 -22h2v2h-2zM114 -22h2v2h-2zM188 -22h2v2h-2zM112 -20h2v2h-2zM116 -20h2v2h-2zM132 -20h2v2h-2zM162 -20h2v2h-2zM184 -20h2v2h-2zM-152 -18h2v2h-2zM-60 -18h2v2h-2zM-48 -18h2v2h-2zM-28 -18h2v2h-2zM54 -18h2v2h-2zM56 -18h2v2h-2zM110 -18h2v2h-2zM116 -18h2v2h-2zM176 -18h2v2h-2zM186 -18h2v2h-2zM-152 -16h2v2h-2zM60 -16h2v2h-2zM106 -16h2v2h-2zM108 -16h2v2h-2zM110 -16h2v2h-2zM112 -16h2v2h-2zM172 -16h2v2h-2zM176 -16h2v2h-2zM182 -16h2v2h-2zM188 -16h2v2h-2zM-160 -14h2v2h-2zM-150 -14h2v2h-2zM-120 -14h2v2h-2zM-118 -14h2v2h-2zM-56 -14h2v2h-2zM-22 -14h2v2h-2zM-18 -14h2v2h-2zM88 -14h2v2h-2zM106 -14h2v2h-2zM170 -14h2v2h-2zM-56 -12h2v2h-2zM-22 -12h2v2h-2zM54 -12h2v2h-2zM114 -12h2v2h-2zM116 -12h2v2h-2zM118 -12h2v2h-2zM128 -12h2v2h-2zM160 -12h2v2h-2zM168 -12h2v2h-2zM174 -12h2v2h-2zM178 -12h2v2h-2zM186 -12h2v2h-2zM188 -12h2v2h-2zM-102 -10h2v2h-2zM138 -10h2v2h-2zM150 -10h2v2h-2zM152 -10h2v2h-2zM160 -10h2v2h-2zM164 -10h2v2h-2zM168 -10h2v2h-2zM182 -10h2v2h-2zM-164 -8h2v2h-2zM-154 -8h2v2h-2zM-98 -8h2v2h-2zM56 -8h2v2h-2zM114 -8h2v2h-2zM126 -8h2v2h-2zM142 -8h2v2h-2zM178 -8h2v2h-2zM-166 -6h2v2h-2zM-26 -6h2v2h-2zM92 -6h2v2h-2zM132 -6h2v2h-2zM160 -6h2v2h-2zM-160 -4h2v2h-2zM-156 -4h2v2h-2zM110 -4h2v2h-2zM112 -4h2v2h-2zM138 -4h2v2h-2zM142 -4h2v2h-2zM158 -4h2v2h-2zM164 -4h2v2h-2zM-114 -2h2v2h-2zM-112 -2h2v2h-2zM-42 -2h2v2h-2zM54 -2h2v2h-2zM56 -2h2v2h-2zM136 -2h2v2h-2zM142 -2h2v2h-2zM162 -2h2v2h-2zM170 -2h2v2h-2zM54 0h2v2h-2zM92 0h2v2h-2zM94 0h2v2h-2zM96 0h2v2h-2zM136 0h2v2h-2zM144 0h2v2h-2zM146 0h2v2h-2zM148 0h2v2h-2zM164 0h2v2h-2zM170 0h2v2h-2zM174 0h2v2h-2zM-150 2h2v2h-2zM-136 2h2v2h-2zM-134 2h2v2h-2zM-48 2h2v2h-2zM52 2h2v2h-2zM92 2h2v2h-2zM94 2h2v2h-2zM130 2h2v2h-2zM140 2h2v2h-2zM156 2h2v2h-2zM166 2h2v2h-2zM178 2h2v2h-2zM-142 4h2v2h-2zM-140 4h2v2h-2zM-138 4h2v2h-2zM-134 4h2v2h-2zM-120 4h2v2h-2zM-114 4h2v2h-2zM-50 4h2v2h-2zM40 4h2v2h-2zM64 4h2v2h-2zM98 4h2v2h-2zM108 4h2v2h-2zM112 4h2v2h-2zM140 4h2v2h-2zM144 4h2v2h-2zM168 4h2v2h-2zM174 4h2v2h-2zM180 4h2v2h-2zM-148 6h2v2h-2zM-146 6h2v2h-2zM-120 6h2v2h-2zM4 6h2v2h-2zM10 6h2v2h-2zM40 6h2v2h-2zM66 6h2v2h-2zM96 6h2v2h-2zM98 6h2v2h-2zM106 6h2v2h-2zM134 6h2v2h-2zM136 6h2v2h-2zM146 6h2v2h-2zM172 6h2v2h-2zM184 6h2v2h-2zM-148 8h2v2h-2zM-136 8h2v2h-2zM-120 8h2v2h-2zM2 8h2v2h-2zM42 8h2v2h-2zM94 8h2v2h-2zM144 8h2v2h-2zM146 8h2v2h-2zM178 8h2v2h-2zM-158 10h2v2h-2zM44 10h2v2h-2zM118 10h2v2h-2zM150 10h2v2h-2zM180 10h2v2h-2zM-164 12h2v2h-2zM-162 12h2v2h-2zM-160 12h2v2h-2zM54 12h2v2h-2zM68 12h2v2h-2zM90 12h2v2h-2zM92 12h2v2h-2zM94 12h2v2h-2zM110 12h2v2h-2zM150 12h2v2h-2zM-162 14h2v2h-2zM-100 14h2v2h-2zM-98 14h2v2h-2zM-40 14h2v2h-2zM118 14h2v2h-2zM126 14h2v2h-2zM132 14h2v2h-2zM150 14h2v2h-2zM-162 16h2v2h-2zM-98 16h2v2h-2zM-22 16h2v2h-2zM96 16h2v2h-2zM122 16h2v2h-2zM124 16h2v2h-2zM150 16h2v2h-2zM182 16h2v2h-2zM-160 18h2v2h-2zM-136 18h2v2h-2zM-134 18h2v2h-2zM-98 18h2v2h-2zM44 18h2v2h-2zM46 18h2v2h-2zM78 18h2v2h-2zM114 18h2v2h-2zM126 18h2v2h-2zM132 18h2v2h-2zM150 18h2v2h-2zM152 18h2v2h-2zM176 18h2v2h-2zM184 18h2v2h-2zM-160 20h2v2h-2zM-134 20h2v2h-2zM-130 20h2v2h-2zM-126 20h2v2h-2zM-40 20h2v2h-2zM-38 20h2v2h-2zM14 20h2v2h-2zM-160 22h2v2h-2zM-158 22h2v2h-2zM-156 22h2v2h-2zM-138 22h2v2h-2zM-130 22h2v2h-2zM-126 22h2v2h-2zM-40 22h2v2h-2zM-24 22h2v2h-2zM-16 22h2v2h-2zM-14 22h2v2h-2zM48 22h2v2h-2zM52 22h2v2h-2zM54 22h2v2h-2zM152 22h2v2h-2zM-162 24h2v2h-2zM-126 24h2v2h-2zM-26 24h2v2h-2zM10 24h2v2h-2zM12 24h2v2h-2zM168 24h2v2h-2zM178 24h2v2h-2zM-142 26h2v2h-2zM-140 26h2v2h-2zM-126 26h2v2h-2zM178 26h2v2h-2zM-160 28h2v2h-2zM154 28h2v2h-2zM174 28h2v2h-2zM-162 30h2v2h-2zM-152 30h2v2h-2zM-14 30h2v2h-2zM142 30h2v2h-2zM178 30h2v2h-2zM-128 32h2v2h-2zM-84 32h2v2h-2zM-18 32h2v2h-2zM-4 32h2v2h-2zM42 32h2v2h-2zM90 32h2v2h-2zM154 32h2v2h-2zM162 32h2v2h-2zM164 32h2v2h-2zM-162 34h2v2h-2zM-130 34h2v2h-2zM-2 34h2v2h-2zM162 34h2v2h-2zM164 34h2v2h-2zM168 34h2v2h-2zM172 34h2v2h-2zM-16 36h2v2h-2zM162 36h2v2h-2zM166 36h2v2h-2z"/><path fill="#74d4bd" d="M-138 -60h2v2h-2zM2 -60h2v2h-2zM18 -60h2v2h-2zM176 -60h2v2h-2zM2 -58h2v2h-2zM128 -58h2v2h-2zM130 -58h2v2h-2zM130 -56h2v2h-2zM-24 -54h2v2h-2zM-22 -54h2v2h-2zM-164 -52h2v2h-2zM-20 -52h2v2h-2zM104 -52h2v2h-2zM-112 -50h2v2h-2zM102 -50h2v2h-2zM108 -50h2v2h-2zM-48 -48h2v2h-2zM32 -48h2v2h-2zM34 -48h2v2h-2zM102 -48h2v2h-2zM-72 -46h2v2h-2zM-42 -46h2v2h-2zM-4 -46h2v2h-2zM30 -46h2v2h-2zM104 -46h2v2h-2zM-80 -44h2v2h-2zM-76 -44h2v2h-2zM-74 -44h2v2h-2zM2 -44h2v2h-2zM86 -44h2v2h-2zM-46 -42h2v2h-2zM-8 -42h2v2h-2zM30 -42h2v2h-2zM36 -42h2v2h-2zM-118 -40h2v2h-2zM-70 -40h2v2h-2zM-4 -40h2v2h-2zM0 -40h2v2h-2zM-158 -38h2v2h-2zM10 -38h2v2h-2zM18 -38h2v2h-2zM20 -38h2v2h-2zM124 -38h2v2h-2zM172 -38h2v2h-2zM-166 -36h2v2h-2zM-54 -36h2v2h-2zM-24 -36h2v2h-2zM-4 -36h2v2h-2zM2 -36h2v2h-2zM8 -36h2v2h-2zM10 -36h2v2h-2zM18 -36h2v2h-2zM124 -36h2v2h-2zM156 -36h2v2h-2zM158 -36h2v2h-2zM-162 -34h2v2h-2zM-160 -34h2v2h-2zM-158 -34h2v2h-2zM-70 -34h2v2h-2zM-66 -34h2v2h-2zM-62 -34h2v2h-2zM-52 -34h2v2h-2zM-38 -34h2v2h-2zM-4 -34h2v2h-2zM0 -34h2v2h-2zM10 -34h2v2h-2zM156 -34h2v2h-2zM162 -34h2v2h-2zM164 -34h2v2h-2zM182 -34h2v2h-2zM-76 -32h2v2h-2zM-74 -32h2v2h-2zM-60 -32h2v2h-2zM112 -32h2v2h-2zM114 -32h2v2h-2zM122 -32h2v2h-2zM158 -32h2v2h-2zM170 -32h2v2h-2zM184 -32h2v2h-2zM-166 -30h2v2h-2zM-164 -30h2v2h-2zM-72 -30h2v2h-2zM-68 -30h2v2h-2zM-62 -30h2v2h-2zM14 -30h2v2h-2zM18 -30h2v2h-2zM22 -30h2v2h-2zM24 -30h2v2h-2zM92 -30h2v2h-2zM114 -30h2v2h-2zM116 -30h2v2h-2zM118 -30h2v2h-2zM134 -30h2v2h-2zM142 -30h2v2h-2zM-160 -28h2v2h-2zM-158 -28h2v2h-2zM-84 -28h2v2h-2zM-66 -28h2v2h-2zM-64 -28h2v2h-2zM-58 -28h2v2h-2zM-36 -28h2v2h-2zM-14 -28h2v2h-2zM4 -28h2v2h-2zM6 -28h2v2h-2zM26 -28h2v2h-2zM60 -28h2v2h-2zM90 -28h2v2h-2zM94 -28h2v2h-2zM110 -28h2v2h-2zM114 -28h2v2h-2zM142 -28h2v2h-2zM180 -28h2v2h-2zM188 -28h2v2h-2zM190 -28h2v2h-2zM-150 -26h2v2h-2zM-14 -26h2v2h-2zM-12 -26h2v2h-2zM4 -26h2v2h-2zM6 -26h2v2h-2zM10 -26h2v2h-2zM12 -26h2v2h-2zM90 -26h2v2h-2zM94 -26h2v2h-2zM104 -26h2v2h-2zM184 -26h2v2h-2zM-152 -24h2v2h-2zM-146 -24h2v2h-2zM-106 -24h2v2h-2zM-20 -24h2v2h-2zM-18 -24h2v2h-2zM-16 -24h2v2h-2zM10 -24h2v2h-2zM98 -24h2v2h-2zM102 -24h2v2h-2zM114 -24h2v2h-2zM116 -24h2v2h-2zM-100 -22h2v2h-2zM32 -22h2v2h-2zM56 -22h2v2h-2zM88 -22h2v2h-2zM96 -22h2v2h-2zM98 -22h2v2h-2zM100 -22h2v2h-2zM108 -22h2v2h-2zM112 -22h2v2h-2zM178 -22h2v2h-2zM186 -22h2v2h-2zM190 -22h2v2h-2zM-102 -20h2v2h-2zM-76 -20h2v2h-2zM52 -20h2v2h-2zM56 -20h2v2h-2zM58 -20h2v2h-2zM88 -20h2v2h-2zM98 -20h2v2h-2zM100 -20h2v2h-2zM106 -20h2v2h-2zM110 -20h2v2h-2zM124 -20h2v2h-2zM188 -20h2v2h-2zM-120 -18h2v2h-2zM-118 -18h2v2h-2zM-52 -18h2v2h-2zM-32 -18h2v2h-2zM60 -18h2v2h-2zM62 -18h2v2h-2zM64 -18h2v2h-2zM100 -18h2v2h-2zM106 -18h2v2h-2zM-54 -16h2v2h-2zM88 -16h2v2h-2zM180 -16h2v2h-2zM190 -16h2v2h-2zM-140 -14h2v2h-2zM56 -14h2v2h-2zM108 -14h2v2h-2zM118 -14h2v2h-2zM124 -14h2v2h-2zM144 -14h2v2h-2zM152 -14h2v2h-2zM176 -14h2v2h-2zM178 -14h2v2h-2zM-148 -12h2v2h-2zM-116 -12h2v2h-2zM-64 -12h2v2h-2zM-50 -12h2v2h-2zM58 -12h2v2h-2zM88 -12h2v2h-2zM110 -12h2v2h-2zM132 -12h2v2h-2zM170 -12h2v2h-2zM-50 -10h2v2h-2zM-22 -10h2v2h-2zM-20 -10h2v2h-2zM-16 -10h2v2h-2zM56 -10h2v2h-2zM58 -10h2v2h-2zM62 -10h2v2h-2zM98 -10h2v2h-2zM106 -10h2v2h-2zM110 -10h2v2h-2zM134 -10h2v2h-2zM142 -10h2v2h-2zM162 -10h2v2h-2zM170 -10h2v2h-2zM172 -10h2v2h-2zM176 -10h2v2h-2zM184 -10h2v2h-2zM186 -10h2v2h-2zM190 -10h2v2h-2zM-166 -8h2v2h-2zM-152 -8h2v2h-2zM-72 -8h2v2h-2zM-42 -8h2v2h-2zM-40 -8h2v2h-2zM106 -8h2v2h-2zM110 -8h2v2h-2zM136 -8h2v2h-2zM138 -8h2v2h-2zM140 -8h2v2h-2zM146 -8h2v2h-2zM152 -8h2v2h-2zM158 -8h2v2h-2zM-168 -6h2v2h-2zM-158 -6h2v2h-2zM-156 -6h2v2h-2zM-154 -6h2v2h-2zM-40 -6h2v2h-2zM-20 -6h2v2h-2zM110 -6h2v2h-2zM136 -6h2v2h-2zM144 -6h2v2h-2zM162 -6h2v2h-2zM166 -6h2v2h-2zM168 -6h2v2h-2zM170 -6h2v2h-2zM174 -6h2v2h-2zM176 -6h2v2h-2zM-164 -4h2v2h-2zM-152 -4h2v2h-2zM-82 -4h2v2h-2zM-72 -4h2v2h-2zM-58 -4h2v2h-2zM-38 -4h2v2h-2zM-28 -4h2v2h-2zM58 -4h2v2h-2zM94 -4h2v2h-2zM108 -4h2v2h-2zM134 -4h2v2h-2zM144 -4h2v2h-2zM146 -4h2v2h-2zM166 -4h2v2h-2zM170 -4h2v2h-2zM-116 -2h2v2h-2zM48 -2h2v2h-2zM90 -2h2v2h-2zM92 -2h2v2h-2zM94 -2h2v2h-2zM140 -2h2v2h-2zM166 -2h2v2h-2zM174 -2h2v2h-2zM176 -2h2v2h-2zM-136 0h2v2h-2zM-82 0h2v2h-2zM-76 0h2v2h-2zM-54 0h2v2h-2zM-40 0h2v2h-2zM-24 0h2v2h-2zM38 0h2v2h-2zM52 0h2v2h-2zM60 0h2v2h-2zM90 0h2v2h-2zM108 0h2v2h-2zM110 0h2v2h-2zM138 0h2v2h-2zM140 0h2v2h-2zM142 0h2v2h-2zM150 0h2v2h-2zM152 0h2v2h-2zM166 0h2v2h-2zM168 0h2v2h-2zM172 0h2v2h-2zM176 0h2v2h-2zM-144 2h2v2h-2zM-50 2h2v2h-2zM6 2h2v2h-2zM34 2h2v2h-2zM48 2h2v2h-2zM50 2h2v2h-2zM60 2h2v2h-2zM90 2h2v2h-2zM96 2h2v2h-2zM106 2h2v2h-2zM108 2h2v2h-2zM138 2h2v2h-2zM154 2h2v2h-2zM174 2h2v2h-2zM-152 4h2v2h-2zM-148 4h2v2h-2zM-146 4h2v2h-2zM-144 4h2v2h-2zM-130 4h2v2h-2zM-122 4h2v2h-2zM4 4h2v2h-2zM6 4h2v2h-2zM38 4h2v2h-2zM48 4h2v2h-2zM60 4h2v2h-2zM62 4h2v2h-2zM66 4h2v2h-2zM94 4h2v2h-2zM136 4h2v2h-2zM138 4h2v2h-2zM142 4h2v2h-2zM146 4h2v2h-2zM150 4h2v2h-2zM154 4h2v2h-2zM158 4h2v2h-2zM-130 6h2v2h-2zM-124 6h2v2h-2zM34 6h2v2h-2zM38 6h2v2h-2zM92 6h2v2h-2zM108 6h2v2h-2zM142 6h2v2h-2zM154 6h2v2h-2zM-158 8h2v2h-2zM-156 8h2v2h-2zM-154 8h2v2h-2zM-122 8h2v2h-2zM8 8h2v2h-2zM40 8h2v2h-2zM68 8h2v2h-2zM108 8h2v2h-2zM136 8h2v2h-2zM140 8h2v2h-2zM182 8h2v2h-2zM-160 10h2v2h-2zM-148 10h2v2h-2zM-136 10h2v2h-2zM-118 10h2v2h-2zM-116 10h2v2h-2zM-102 10h2v2h-2zM-24 10h2v2h-2zM66 10h2v2h-2zM92 10h2v2h-2zM110 10h2v2h-2zM140 10h2v2h-2zM144 10h2v2h-2zM-38 12h2v2h-2zM120 12h2v2h-2zM180 12h2v2h-2zM-164 14h2v2h-2zM-160 14h2v2h-2zM-152 14h2v2h-2zM-130 14h2v2h-2zM-48 14h2v2h-2zM110 14h2v2h-2zM-158 16h2v2h-2zM-136 16h2v2h-2zM-132 16h2v2h-2zM-106 16h2v2h-2zM-96 16h2v2h-2zM-20 16h2v2h-2zM42 16h2v2h-2zM90 16h2v2h-2zM92 16h2v2h-2zM112 16h2v2h-2zM130 16h2v2h-2zM132 16h2v2h-2zM184 16h2v2h-2zM186 16h2v2h-2zM-168 18h2v2h-2zM-162 18h2v2h-2zM-132 18h2v2h-2zM-130 18h2v2h-2zM-100 18h2v2h-2zM96 18h2v2h-2zM110 18h2v2h-2zM116 18h2v2h-2zM118 18h2v2h-2zM130 18h2v2h-2zM66 20h2v2h-2zM144 20h2v2h-2zM184 20h2v2h-2zM-162 22h2v2h-2zM-134 22h2v2h-2zM-122 22h2v2h-2zM-38 22h2v2h-2zM10 22h2v2h-2zM40 22h2v2h-2zM112 22h2v2h-2zM114 22h2v2h-2zM146 22h2v2h-2zM150 22h2v2h-2zM-150 24h2v2h-2zM-136 24h2v2h-2zM-132 24h2v2h-2zM-12 24h2v2h-2zM48 24h2v2h-2zM50 24h2v2h-2zM52 24h2v2h-2zM60 24h2v2h-2zM150 24h2v2h-2zM-166 26h2v2h-2zM-62 26h2v2h-2zM-26 26h2v2h-2zM-16 26h2v2h-2zM-12 26h2v2h-2zM48 26h2v2h-2zM58 26h2v2h-2zM180 26h2v2h-2zM182 26h2v2h-2zM-142 28h2v2h-2zM-140 28h2v2h-2zM-136 28h2v2h-2zM-132 28h2v2h-2zM-8 28h2v2h-2zM82 28h2v2h-2zM110 28h2v2h-2zM140 28h2v2h-2zM144 28h2v2h-2zM150 28h2v2h-2zM176 28h2v2h-2zM180 28h2v2h-2zM-150 30h2v2h-2zM-148 30h2v2h-2zM-142 30h2v2h-2zM-140 30h2v2h-2zM40 30h2v2h-2zM42 30h2v2h-2zM46 30h2v2h-2zM80 30h2v2h-2zM82 30h2v2h-2zM88 30h2v2h-2zM150 30h2v2h-2zM-164 32h2v2h-2zM-156 32h2v2h-2zM-154 32h2v2h-2zM-80 32h2v2h-2zM80 32h2v2h-2zM94 32h2v2h-2zM152 32h2v2h-2zM178 32h2v2h-2zM182 32h2v2h-2zM-164 34h2v2h-2zM-160 34h2v2h-2zM-158 34h2v2h-2zM-140 34h2v2h-2zM-8 34h2v2h-2zM158 34h2v2h-2zM160 34h2v2h-2zM180 34h2v2h-2zM-164 36h2v2h-2zM0 36h2v2h-2zM-14 38h2v2h-2zM172 38h2v2h-2zM-4 40h2v2h-2zM162 40h2v2h-2zM170 40h2v2h-2zM-32 46h2v2h-2zM162 46h2v2h-2zM84 52h2v2h-2zM-96 54h2v2h-2z"/><path fill="#800000" d="M148 -34h2v2h-2zM28 38h2v2h-2z"/><path fill="#90c9b7" d="M-20 -60h2v2h-2zM-8 -56h2v2h-2zM106 -56h2v2h-2zM-116 -54h2v2h-2zM-88 -52h2v2h-2zM-140 -48h2v2h-2zM2 -42h2v2h-2zM-112 -40h2v2h-2zM-4 -38h2v2h-2zM130 -38h2v2h-2zM120 -36h2v2h-2zM110 -34h2v2h-2zM-164 -32h2v2h-2zM-52 -32h2v2h-2zM56 -32h2v2h-2zM-8 -30h2v2h-2zM62 -30h2v2h-2zM186 -30h2v2h-2zM-152 -28h2v2h-2zM-152 -26h2v2h-2zM-20 -26h2v2h-2zM98 -26h2v2h-2zM110 -24h2v2h-2zM-148 -22h2v2h-2zM60 -20h2v2h-2zM104 -18h2v2h-2zM70 -8h2v2h-2zM88 -8h2v2h-2zM164 -8h2v2h-2zM180 -8h2v2h-2zM188 -8h2v2h-2zM190 -8h2v2h-2zM142 -6h2v2h-2zM148 -6h2v2h-2zM152 -6h2v2h-2zM-164 -2h2v2h-2zM-162 -2h2v2h-2zM-136 -2h2v2h-2zM146 -2h2v2h-2zM164 -2h2v2h-2zM184 -2h2v2h-2zM-148 0h2v2h-2zM-140 0h2v2h-2zM-56 0h2v2h-2zM-30 0h2v2h-2zM50 0h2v2h-2zM-156 2h2v2h-2zM58 2h2v2h-2zM36 4h2v2h-2zM102 6h2v2h-2zM-116 8h2v2h-2zM6 8h2v2h-2zM72 8h2v2h-2zM-164 10h2v2h-2zM146 10h2v2h-2zM184 12h2v2h-2zM-166 14h2v2h-2zM118 16h2v2h-2zM-22 18h2v2h-2zM68 18h2v2h-2zM94 18h2v2h-2zM-122 20h2v2h-2zM44 20h2v2h-2zM44 22h2v2h-2zM110 22h2v2h-2zM116 22h2v2h-2zM8 24h2v2h-2zM148 24h2v2h-2zM-38 26h2v2h-2zM54 26h2v2h-2zM86 26h2v2h-2zM-124 30h2v2h-2zM180 30h2v2h-2zM-120 32h2v2h-2zM-90 32h2v2h-2zM38 32h2v2h-2zM-124 34h2v2h-2zM174 36h2v2h-2zM176 36h2v2h-2zM-2 38h2v2h-2zM158 40h2v2h-2z"/><path fill="#aa0000" d="M150 -34h2v2h-2zM18 38h2v2h-2z"/><path fill="#b4c695" d="M56 -50h2v2h-2zM162 -46h2v2h-2zM40 -36h2v2h-2zM74 -28h2v2h-2zM-112 -26h2v2h-2zM-60 10h2v2h-2zM-54 20h2v2h-2zM190 22h2v2h-2zM150 32h2v2h-2zM110 38h2v2h-2zM148 38h2v2h-2zM104 40h2v2h-2zM138 42h2v2h-2zM-106 44h2v2h-2zM-48 44h2v2h-2zM146 46h2v2h-2zM-110 48h2v2h-2zM-62 48h2v2h-2zM-114 50h2v2h-2zM136 50h2v2h-2zM176 50h2v2h-2zM-166 56h2v2h-2zM-146 56h2v2h-2zM-60 58h2v2h-2zM158 58h2v2h-2z"/><path fill="#bed37a" d="M56 -56h2v2h-2zM-78 -54h2v2h-2zM56 -54h2v2h-2zM-162 -52h2v2h-2zM56 -48h2v2h-2zM58 -48h2v2h-2zM60 -48h2v2h-2zM56 -46h2v2h-2zM134 -46h2v2h-2zM-68 -42h2v2h-2zM-46 -38h2v2h-2zM136 -38h2v2h-2zM144 -38h2v2h-2zM-58 -36h2v2h-2zM-50 -36h2v2h-2zM-48 -36h2v2h-2zM154 -36h2v2h-2zM154 -34h2v2h-2zM142 -32h2v2h-2zM-58 10h2v2h-2zM8 12h2v2h-2zM188 28h2v2h-2zM28 32h2v2h-2zM30 32h2v2h-2zM10 34h2v2h-2zM18 34h2v2h-2zM24 34h2v2h-2zM174 34h2v2h-2zM-138 36h2v2h-2zM-112 36h2v2h-2zM-108 36h2v2h-2zM-94 36h2v2h-2zM-40 36h2v2h-2zM-24 36h2v2h-2zM2 36h2v2h-2zM30 36h2v2h-2zM42 36h2v2h-2zM48 36h2v2h-2zM-136 38h2v2h-2zM-108 38h2v2h-2zM-94 38h2v2h-2zM-70 38h2v2h-2zM-66 38h2v2h-2zM-56 38h2v2h-2zM-52 38h2v2h-2zM6 38h2v2h-2zM32 38h2v2h-2zM46 38h2v2h-2zM48 38h2v2h-2zM58 38h2v2h-2zM64 38h2v2h-2zM104 38h2v2h-2zM-142 40h2v2h-2zM-96 40h2v2h-2zM-94 40h2v2h-2zM-48 40h2v2h-2zM10 40h2v2h-2zM12 40h2v2h-2zM50 40h2v2h-2zM52 40h2v2h-2zM102 40h2v2h-2zM106 40h2v2h-2zM114 40h2v2h-2zM116 40h2v2h-2zM118 40h2v2h-2zM120 40h2v2h-2zM132 40h2v2h-2zM136 40h2v2h-2zM-146 42h2v2h-2zM-114 42h2v2h-2zM-112 42h2v2h-2zM-110 42h2v2h-2zM-108 42h2v2h-2zM-72 42h2v2h-2zM-70 42h2v2h-2zM48 42h2v2h-2zM50 42h2v2h-2zM64 42h2v2h-2zM72 42h2v2h-2zM114 42h2v2h-2zM154 42h2v2h-2zM-138 44h2v2h-2zM8 44h2v2h-2zM14 44h2v2h-2zM40 44h2v2h-2zM48 44h2v2h-2zM54 44h2v2h-2zM62 44h2v2h-2zM108 44h2v2h-2zM118 44h2v2h-2zM132 44h2v2h-2zM134 44h2v2h-2zM-114 46h2v2h-2zM-72 46h2v2h-2zM-44 46h2v2h-2zM12 46h2v2h-2zM22 46h2v2h-2zM36 46h2v2h-2zM62 46h2v2h-2zM80 46h2v2h-2zM84 46h2v2h-2zM156 46h2v2h-2zM174 46h2v2h-2zM-166 48h2v2h-2zM-164 48h2v2h-2zM-140 48h2v2h-2zM-112 48h2v2h-2zM-64 48h2v2h-2zM-10 48h2v2h-2zM44 48h2v2h-2zM76 48h2v2h-2zM98 48h2v2h-2zM118 48h2v2h-2zM178 48h2v2h-2zM-164 50h2v2h-2zM-90 50h2v2h-2zM-88 50h2v2h-2zM-72 50h2v2h-2zM-58 50h2v2h-2zM-14 50h2v2h-2zM-4 50h2v2h-2zM48 50h2v2h-2zM88 50h2v2h-2zM100 50h2v2h-2zM128 50h2v2h-2zM164 50h2v2h-2zM-132 52h2v2h-2zM-124 52h2v2h-2zM-14 52h2v2h-2zM-10 52h2v2h-2zM-4 52h2v2h-2zM0 52h2v2h-2zM70 52h2v2h-2zM112 52h2v2h-2zM140 52h2v2h-2zM148 52h2v2h-2zM170 52h2v2h-2zM176 52h2v2h-2zM184 52h2v2h-2zM188 52h2v2h-2zM-18 54h2v2h-2zM-14 54h2v2h-2zM-12 54h2v2h-2zM-10 54h2v2h-2zM0 54h2v2h-2zM108 54h2v2h-2zM140 54h2v2h-2zM142 54h2v2h-2zM170 54h2v2h-2zM-86 56h2v2h-2zM-84 56h2v2h-2zM-36 56h2v2h-2zM-18 56h2v2h-2zM-8 56h2v2h-2zM136 56h2v2h-2zM142 56h2v2h-2zM144 56h2v2h-2zM-62 58h2v2h-2zM-42 58h2v2h-2zM-36 58h2v2h-2zM-20 58h2v2h-2zM-14 58h2v2h-2zM-10 58h2v2h-2zM-8 58h2v2h-2zM138 58h2v2h-2zM160 58h2v2h-2z"/><path fill="#cedf5c" d="M56 -52h2v2h-2zM-76 -40h2v2h-2zM-64 -40h2v2h-2zM-48 -40h2v2h-2zM-74 -38h2v2h-2zM-48 -38h2v2h-2zM-42 -38h2v2h-2zM140 -38h2v2h-2zM-60 -36h2v2h-2zM136 -36h2v2h-2zM24 32h2v2h-2zM34 34h2v2h-2zM36 34h2v2h-2zM-52 36h2v2h-2zM4 36h2v2h-2zM26 36h2v2h-2zM-110 38h2v2h-2zM-76 38h2v2h-2zM-54 38h2v2h-2zM30 38h2v2h-2zM52 38h2v2h-2zM72 38h2v2h-2zM-114 40h2v2h-2zM-110 40h2v2h-2zM-66 40h2v2h-2zM-60 40h2v2h-2zM-56 40h2v2h-2zM40 40h2v2h-2zM46 40h2v2h-2zM134 40h2v2h-2zM-54 42h2v2h-2zM16 42h2v2h-2zM40 42h2v2h-2zM42 42h2v2h-2zM102 42h2v2h-2zM104 42h2v2h-2zM134 42h2v2h-2zM-108 44h2v2h-2zM26 44h2v2h-2zM36 44h2v2h-2zM110 44h2v2h-2zM112 44h2v2h-2zM-110 46h2v2h-2zM-68 46h2v2h-2zM-56 46h2v2h-2zM122 46h2v2h-2zM-134 48h2v2h-2zM-122 48h2v2h-2zM-60 48h2v2h-2zM-54 48h2v2h-2zM-12 48h2v2h-2zM-8 48h2v2h-2zM84 48h2v2h-2zM88 48h2v2h-2zM116 48h2v2h-2zM150 48h2v2h-2zM166 48h2v2h-2zM174 48h2v2h-2zM176 48h2v2h-2zM-10 50h2v2h-2zM12 50h2v2h-2zM78 50h2v2h-2zM112 50h2v2h-2zM166 50h2v2h-2zM-152 52h2v2h-2zM-142 52h2v2h-2zM-140 52h2v2h-2zM-134 52h2v2h-2zM-126 52h2v2h-2zM-88 52h2v2h-2zM-16 52h2v2h-2zM-12 52h2v2h-2zM88 52h2v2h-2zM120 52h2v2h-2zM126 52h2v2h-2zM136 52h2v2h-2zM160 52h2v2h-2zM-168 54h2v2h-2zM158 54h2v2h-2zM138 56h2v2h-2zM-6 58h2v2h-2zM-4 58h2v2h-2zM140 58h2v2h-2z"/><path fill="#e2ea36" d="M58 -50h2v2h-2zM-56 -42h2v2h-2zM-68 -38h2v2h-2zM142 -38h2v2h-2zM150 -36h2v2h-2zM14 34h2v2h-2zM22 34h2v2h-2zM12 36h2v2h-2zM32 36h2v2h-2zM-96 38h2v2h-2zM10 38h2v2h-2zM12 38h2v2h-2zM36 38h2v2h-2zM38 38h2v2h-2zM44 38h2v2h-2zM-112 40h2v2h-2zM-64 40h2v2h-2zM-62 40h2v2h-2zM-54 40h2v2h-2zM18 40h2v2h-2zM-52 42h2v2h-2zM-62 44h2v2h-2zM-54 44h2v2h-2zM-52 44h2v2h-2zM38 44h2v2h-2zM42 44h2v2h-2zM114 44h2v2h-2zM-54 46h2v2h-2zM-50 46h2v2h-2zM136 46h2v2h-2zM-58 48h2v2h-2zM70 48h2v2h-2zM108 48h2v2h-2zM110 48h2v2h-2zM-166 50h2v2h-2zM-146 50h2v2h-2zM-8 50h2v2h-2zM124 50h2v2h-2zM190 50h2v2h-2zM-150 52h2v2h-2zM-152 54h2v2h-2zM-168 56h2v2h-2z"/><path fill="#ea0000" d="M-46 -40h2v2h-2z"/><path fill="#f9f30a" d="M-62 -40h2v2h-2zM-70 -38h2v2h-2zM146 -38h2v2h-2zM136 -34h2v2h-2zM146 -32h2v2h-2zM128 2h2v2h-2zM14 36h2v2h-2zM16 38h2v2h-2zM42 40h2v2h-2zM-56 42h2v2h-2zM28 42h2v2h-2zM30 44h2v2h-2zM34 44h2v2h-2zM116 44h2v2h-2zM-64 46h2v2h-2zM-60 46h2v2h-2zM142 46h2v2h-2zM136 48h2v2h-2zM-158 50h2v2h-2zM-12 50h2v2h-2zM82 50h2v2h-2zM84 50h2v2h-2zM126 50h2v2h-2zM148 50h2v2h-2zM-142 54h2v2h-2zM-8 54h2v2h-2zM-6 54h2v2h-2z"/><path fill="#ff2b00" d="M-54 -40h2v2h-2z"/><path fill="#ff4000" d="M144 -34h2v2h-2z"/><path fill="#ff5500" d="M142 -36h2v2h-2zM30 40h2v2h-2z"/><path fill="#ff6b00" d="M140 -36h2v2h-2zM152 -36h2v2h-2zM146 -34h2v2h-2zM26 38h2v2h-2zM32 40h2v2h-2z"/><path fill="#ff8000" d="M142 -34h2v2h-2zM154 34h2v2h-2zM34 38h2v2h-2z"/><path fill="#ff9400" d="M-64 -38h2v2h-2zM152 36h2v2h-2z"/><path fill="#ffa900" d="M146 -36h2v2h-2zM140 -34h2v2h-2zM28 36h2v2h-2zM34 36h2v2h-2zM16 40h2v2h-2z"/><path fill="#ffbd00" d="M-50 -42h2v2h-2zM-66 -40h2v2h-2zM-58 -40h2v2h-2zM148 -36h2v2h-2zM22 36h2v2h-2zM24 36h2v2h-2zM40 38h2v2h-2zM34 40h2v2h-2zM38 40h2v2h-2zM44 40h2v2h-2zM22 42h2v2h-2z"/><path fill="#ffd100" d="M-56 -38h2v2h-2zM144 -36h2v2h-2zM28 34h2v2h-2zM152 34h2v2h-2zM22 38h2v2h-2zM14 40h2v2h-2zM22 40h2v2h-2zM14 42h2v2h-2zM20 42h2v2h-2zM32 42h2v2h-2zM34 42h2v2h-2zM-60 44h2v2h-2zM104 46h2v2h-2z"/><path fill="#ffe600" d="M-72 -40h2v2h-2zM-56 -40h2v2h-2zM138 -34h2v2h-2zM26 34h2v2h-2zM30 34h2v2h-2zM32 34h2v2h-2zM156 34h2v2h-2zM156 36h2v2h-2zM28 40h2v2h-2zM36 42h2v2h-2zM38 42h2v2h-2zM44 42h2v2h-2zM-110 44h2v2h-2zM130 46h2v2h-2zM92 48h2v2h-2zM-160 50h2v2h-2zM-142 50h2v2h-2zM102 50h2v2h-2zM144 50h2v2h-2zM156 50h2v2h-2zM-6 52h2v2h-2zM138 52h2v2h-2zM136 54h2v2h-2z"/>
<path fill="#fff" d="M-5.6 -35.9L-4 -40L2 -44L8 -46L14 -47L20 -44L26 -42L29 -41.5L36 -38L37 -35L36 -31L30 -29.5L20 -29L10 -32L0 -34L-5.6 -35ZM27 -41L27 -47.5L42 -47.5L42 -40.5L29 -40.8ZM9.5 -53.5L31 -53.5L31 -66.5L9.5 -66.5L9.5 -58ZM-96 -50L-76 -50L-76 -66L-96 -66ZM-71 -46.5L-66 -50.5L-57.5 -51.5L-55.5 -50L-59.5 -47.3L-61 -45.5L-65 -45.8L-67 -48ZM32 -30.5L36 -30L43.6 -12.7L43.2 -11.5L38 -14L32 -25ZM47.5 -30.5L50 -31L56.8 -27.5L56.6 -26.2L56.2 -24L51 -23.5L47.5 -27ZM117 -41L123 -41L126.7 -37.5L126.4 -34.4L126 -33L122 -31L121 -30.5L117 -36ZM98.5 -5.5L100.5 -6.8L99.5 -10L99.5 -14L102 -13.5L105.5 -10.5L104.8 -8.6L102.5 -6L104.3 -1.3L109.2 -0.5L110 3L116.3 3.8L118.5 5.5L116 8.5L106 7L105.5 5.8L103.8 1L100 -1.5ZM135.5 11L137 8L141 8.5L142.5 10L142 17.8L139 17.8L135.5 15ZM135 -54L143 -52L150 -52L156 -56L160 -61L135 -61ZM-57.5 38.2L-57.5 39.5L-60 41.5L-60 54.5L-66 55L-69 52.5L-68 50L-66 47L-65 44L-64 42L-62 40.5L-59 38.7ZM-7 -57L9 -54L9.5 -58L8 -62.5L-7 -62.5Z"/>
<use href="#land" x="-360"/>
<use href="#land" x="0"/>
<use href="#land" x="360"/>
<use href="#ant"/>
<use href="#deco" x="0"/>
<use href="#lakes" x="0"/>
<use href="#deco" x="360"/>
<use href="#lakes" x="360"/>
</g>
<path d="M612.5 571.3V801.3M741.3 571.3V801.3M870.2 571.3V801.3M525.8 750.2H987.8M525.8 686.3H987.8M525.8 622.4H987.8" stroke="#888" stroke-width="0.6" stroke-dasharray="1 2" fill="none" opacity="0.6"/>
</g>
<rect x="525.8" y="571.3" width="462" height="230" fill="none" stroke="#333" stroke-width="1.3"/>
<path d="M535.2 801.3v-3.5M535.2 571.3v3.5M561.0 801.3v-3.5M561.0 571.3v3.5M586.7 801.3v-3.5M586.7 571.3v3.5M612.5 801.3v-5.0M612.5 571.3v5.0M638.3 801.3v-3.5M638.3 571.3v3.5M664.0 801.3v-3.5M664.0 571.3v3.5M689.8 801.3v-3.5M689.8 571.3v3.5M715.6 801.3v-3.5M715.6 571.3v3.5M741.3 801.3v-5.0M741.3 571.3v5.0M767.1 801.3v-3.5M767.1 571.3v3.5M792.9 801.3v-3.5M792.9 571.3v3.5M818.6 801.3v-3.5M818.6 571.3v3.5M844.4 801.3v-3.5M844.4 571.3v3.5M870.2 801.3v-5.0M870.2 571.3v5.0M895.9 801.3v-3.5M895.9 571.3v3.5M921.7 801.3v-3.5M921.7 571.3v3.5M947.5 801.3v-3.5M947.5 571.3v3.5M973.2 801.3v-3.5M973.2 571.3v3.5M525.8 788.5h3.5M987.8 788.5h-3.5M525.8 775.7h3.5M987.8 775.7h-3.5M525.8 763.0h3.5M987.8 763.0h-3.5M525.8 750.2h5.0M987.8 750.2h-5.0M525.8 737.4h3.5M987.8 737.4h-3.5M525.8 724.6h3.5M987.8 724.6h-3.5M525.8 711.9h3.5M987.8 711.9h-3.5M525.8 699.1h3.5M987.8 699.1h-3.5M525.8 686.3h5.0M987.8 686.3h-5.0M525.8 673.5h3.5M987.8 673.5h-3.5M525.8 660.7h3.5M987.8 660.7h-3.5M525.8 648.0h3.5M987.8 648.0h-3.5M525.8 635.2h3.5M987.8 635.2h-3.5M525.8 622.4h5.0M987.8 622.4h-5.0M525.8 609.6h3.5M987.8 609.6h-3.5M525.8 596.9h3.5M987.8 596.9h-3.5M525.8 584.1h3.5M987.8 584.1h-3.5" stroke="#333" stroke-width="1" fill="none"/>
<g font-family="'DejaVu Sans','Liberation Sans',sans-serif" font-size="9.6" fill="#222"><text x="612.5" y="814.8" text-anchor="middle">-100</text><text x="741.3" y="814.8" text-anchor="middle">0</text><text x="870.2" y="814.8" text-anchor="middle">100</text><text x="522.6" y="626.3" text-anchor="end">50</text><text x="522.6" y="690.2" text-anchor="end">0</text><text x="522.6" y="754.1" text-anchor="end">-50</text></g>
<text x="642.3" y="564.2" textLength="229.4" lengthAdjust="spacingAndGlyphs" font-family="'DejaVu Sans','Liberation Sans',sans-serif" font-size="12.8" fill="#222">VAR(SLA - ZHAO) - VAR(SLA - ZERO)</text>
<clipPath id="cn"><rect x="114.50" y="861.00" width="277.76" height="260.40"/></clipPath>
<g clip-path="url(#cn)">
<path fill="rgb(166,194,152)" d="M114.50 861.00h17.66v17.66h-17.66zM201.30 861.00h17.66v17.66h-17.66zM270.74 861.00h17.66v17.66h-17.66zM305.46 861.00h17.66v17.66h-17.66zM322.82 861.00h17.66v17.66h-17.66zM114.50 878.36h17.66v17.66h-17.66zM218.66 878.36h17.66v17.66h-17.66zM288.10 878.36h17.66v17.66h-17.66zM183.94 895.72h17.66v17.66h-17.66zM201.30 895.72h17.66v17.66h-17.66zM236.02 895.72h17.66v17.66h-17.66zM166.58 913.08h17.66v17.66h-17.66zM183.94 913.08h17.66v17.66h-17.66zM218.66 913.08h17.66v17.66h-17.66zM114.50 930.44h17.66v17.66h-17.66zM131.86 930.44h17.66v17.66h-17.66zM149.22 930.44h17.66v17.66h-17.66zM166.58 930.44h17.66v17.66h-17.66zM183.94 930.44h17.66v17.66h-17.66zM201.30 930.44h17.66v17.66h-17.66zM131.86 947.80h17.66v17.66h-17.66zM374.90 947.80h17.66v17.66h-17.66zM114.50 965.16h17.66v17.66h-17.66zM149.22 965.16h17.66v17.66h-17.66zM149.22 982.52h17.66v17.66h-17.66zM253.38 982.52h17.66v17.66h-17.66zM374.90 1017.24h17.66v17.66h-17.66zM357.54 1034.60h17.66v17.66h-17.66zM374.90 1034.60h17.66v17.66h-17.66zM114.50 1051.96h17.66v17.66h-17.66zM131.86 1051.96h17.66v17.66h-17.66zM114.50 1069.32h17.66v17.66h-17.66zM236.02 1069.32h17.66v17.66h-17.66zM131.86 1086.68h17.66v17.66h-17.66zM236.02 1086.68h17.66v17.66h-17.66zM305.46 1086.68h17.66v17.66h-17.66zM322.82 1086.68h17.66v17.66h-17.66zM340.18 1086.68h17.66v17.66h-17.66zM357.54 1086.68h17.66v17.66h-17.66zM374.90 1086.68h17.66v17.66h-17.66zM183.94 1104.04h17.66v17.66h-17.66z"/>
<path fill="rgb(178,178,178)" d="M131.86 861.00h17.66v17.66h-17.66zM166.58 861.00h17.66v17.66h-17.66zM183.94 861.00h17.66v17.66h-17.66zM218.66 861.00h17.66v17.66h-17.66zM253.38 861.00h17.66v17.66h-17.66zM340.18 861.00h17.66v17.66h-17.66zM149.22 878.36h17.66v17.66h-17.66zM183.94 878.36h17.66v17.66h-17.66zM201.30 878.36h17.66v17.66h-17.66zM236.02 878.36h17.66v17.66h-17.66zM253.38 878.36h17.66v17.66h-17.66zM305.46 878.36h17.66v17.66h-17.66zM340.18 878.36h17.66v17.66h-17.66zM374.90 878.36h17.66v17.66h-17.66zM114.50 895.72h17.66v17.66h-17.66zM149.22 895.72h17.66v17.66h-17.66zM166.58 895.72h17.66v17.66h-17.66zM218.66 895.72h17.66v17.66h-17.66zM253.38 895.72h17.66v17.66h-17.66zM305.46 895.72h17.66v17.66h-17.66zM131.86 913.08h17.66v17.66h-17.66zM149.22 913.08h17.66v17.66h-17.66zM201.30 913.08h17.66v17.66h-17.66zM236.02 913.08h17.66v17.66h-17.66zM253.38 913.08h17.66v17.66h-17.66zM288.10 913.08h17.66v17.66h-17.66zM305.46 913.08h17.66v17.66h-17.66zM322.82 913.08h17.66v17.66h-17.66zM340.18 913.08h17.66v17.66h-17.66zM218.66 930.44h17.66v17.66h-17.66zM253.38 930.44h17.66v17.66h-17.66zM270.74 930.44h17.66v17.66h-17.66zM288.10 930.44h17.66v17.66h-17.66zM305.46 930.44h17.66v17.66h-17.66zM114.50 947.80h17.66v17.66h-17.66zM149.22 947.80h17.66v17.66h-17.66zM166.58 947.80h17.66v17.66h-17.66zM183.94 947.80h17.66v17.66h-17.66zM218.66 947.80h17.66v17.66h-17.66zM253.38 947.80h17.66v17.66h-17.66zM270.74 947.80h17.66v17.66h-17.66zM288.10 947.80h17.66v17.66h-17.66zM305.46 947.80h17.66v17.66h-17.66zM322.82 947.80h17.66v17.66h-17.66zM131.86 965.16h17.66v17.66h-17.66zM166.58 965.16h17.66v17.66h-17.66zM236.02 965.16h17.66v17.66h-17.66zM253.38 965.16h17.66v17.66h-17.66zM305.46 965.16h17.66v17.66h-17.66zM114.50 982.52h17.66v17.66h-17.66zM236.02 982.52h17.66v17.66h-17.66zM288.10 982.52h17.66v17.66h-17.66zM374.90 982.52h17.66v17.66h-17.66zM131.86 999.88h17.66v17.66h-17.66zM149.22 999.88h17.66v17.66h-17.66zM166.58 999.88h17.66v17.66h-17.66zM183.94 999.88h17.66v17.66h-17.66zM236.02 999.88h17.66v17.66h-17.66zM270.74 999.88h17.66v17.66h-17.66zM288.10 999.88h17.66v17.66h-17.66zM357.54 999.88h17.66v17.66h-17.66zM114.50 1017.24h17.66v17.66h-17.66zM166.58 1017.24h17.66v17.66h-17.66zM131.86 1034.60h17.66v17.66h-17.66zM253.38 1034.60h17.66v17.66h-17.66zM270.74 1034.60h17.66v17.66h-17.66zM340.18 1034.60h17.66v17.66h-17.66zM201.30 1051.96h17.66v17.66h-17.66zM288.10 1051.96h17.66v17.66h-17.66zM131.86 1069.32h17.66v17.66h-17.66zM149.22 1069.32h17.66v17.66h-17.66zM201.30 1069.32h17.66v17.66h-17.66zM114.50 1086.68h17.66v17.66h-17.66zM201.30 1086.68h17.66v17.66h-17.66zM288.10 1086.68h17.66v17.66h-17.66zM131.86 1104.04h17.66v17.66h-17.66zM166.58 1104.04h17.66v17.66h-17.66zM201.30 1104.04h17.66v17.66h-17.66z"/>
<path fill="rgb(196,218,112)" d="M149.22 861.00h17.66v17.66h-17.66zM357.54 861.00h17.66v17.66h-17.66zM166.58 878.36h17.66v17.66h-17.66zM114.50 913.08h17.66v17.66h-17.66z"/>
<path fill="rgb(152,196,178)" d="M236.02 861.00h17.66v17.66h-17.66zM131.86 878.36h17.66v17.66h-17.66zM270.74 878.36h17.66v17.66h-17.66zM357.54 878.36h17.66v17.66h-17.66zM131.86 895.72h17.66v17.66h-17.66zM270.74 895.72h17.66v17.66h-17.66zM288.10 895.72h17.66v17.66h-17.66zM322.82 895.72h17.66v17.66h-17.66zM340.18 895.72h17.66v17.66h-17.66zM270.74 913.08h17.66v17.66h-17.66zM357.54 913.08h17.66v17.66h-17.66zM236.02 930.44h17.66v17.66h-17.66zM357.54 930.44h17.66v17.66h-17.66zM374.90 930.44h17.66v17.66h-17.66zM201.30 947.80h17.66v17.66h-17.66zM201.30 965.16h17.66v17.66h-17.66zM218.66 965.16h17.66v17.66h-17.66zM322.82 965.16h17.66v17.66h-17.66zM374.90 965.16h17.66v17.66h-17.66zM131.86 982.52h17.66v17.66h-17.66zM166.58 982.52h17.66v17.66h-17.66zM201.30 982.52h17.66v17.66h-17.66zM322.82 982.52h17.66v17.66h-17.66zM357.54 982.52h17.66v17.66h-17.66zM218.66 999.88h17.66v17.66h-17.66zM305.46 999.88h17.66v17.66h-17.66zM340.18 999.88h17.66v17.66h-17.66zM374.90 999.88h17.66v17.66h-17.66zM131.86 1017.24h17.66v17.66h-17.66zM149.22 1017.24h17.66v17.66h-17.66zM236.02 1017.24h17.66v17.66h-17.66zM270.74 1017.24h17.66v17.66h-17.66zM288.10 1017.24h17.66v17.66h-17.66zM305.46 1017.24h17.66v17.66h-17.66zM357.54 1017.24h17.66v17.66h-17.66zM114.50 1034.60h17.66v17.66h-17.66zM149.22 1034.60h17.66v17.66h-17.66zM166.58 1034.60h17.66v17.66h-17.66zM288.10 1034.60h17.66v17.66h-17.66zM305.46 1034.60h17.66v17.66h-17.66zM166.58 1051.96h17.66v17.66h-17.66zM218.66 1051.96h17.66v17.66h-17.66zM236.02 1051.96h17.66v17.66h-17.66zM253.38 1051.96h17.66v17.66h-17.66zM270.74 1051.96h17.66v17.66h-17.66zM322.82 1051.96h17.66v17.66h-17.66zM340.18 1051.96h17.66v17.66h-17.66zM357.54 1051.96h17.66v17.66h-17.66zM374.90 1051.96h17.66v17.66h-17.66zM183.94 1069.32h17.66v17.66h-17.66zM253.38 1069.32h17.66v17.66h-17.66zM288.10 1069.32h17.66v17.66h-17.66zM305.46 1069.32h17.66v17.66h-17.66zM149.22 1086.68h17.66v17.66h-17.66zM183.94 1086.68h17.66v17.66h-17.66zM218.66 1086.68h17.66v17.66h-17.66zM114.50 1104.04h17.66v17.66h-17.66zM149.22 1104.04h17.66v17.66h-17.66zM236.02 1104.04h17.66v17.66h-17.66zM253.38 1104.04h17.66v17.66h-17.66zM270.74 1104.04h17.66v17.66h-17.66zM288.10 1104.04h17.66v17.66h-17.66z"/>
<path fill="rgb(112,214,188)" d="M288.10 861.00h17.66v17.66h-17.66zM322.82 878.36h17.66v17.66h-17.66zM322.82 930.44h17.66v17.66h-17.66zM340.18 930.44h17.66v17.66h-17.66zM236.02 947.80h17.66v17.66h-17.66zM340.18 947.80h17.66v17.66h-17.66zM288.10 965.16h17.66v17.66h-17.66zM183.94 982.52h17.66v17.66h-17.66zM340.18 982.52h17.66v17.66h-17.66zM114.50 999.88h17.66v17.66h-17.66zM253.38 999.88h17.66v17.66h-17.66zM322.82 999.88h17.66v17.66h-17.66zM340.18 1017.24h17.66v17.66h-17.66zM183.94 1034.60h17.66v17.66h-17.66zM201.30 1034.60h17.66v17.66h-17.66zM218.66 1034.60h17.66v17.66h-17.66zM236.02 1034.60h17.66v17.66h-17.66zM322.82 1034.60h17.66v17.66h-17.66zM149.22 1051.96h17.66v17.66h-17.66zM305.46 1051.96h17.66v17.66h-17.66zM218.66 1069.32h17.66v17.66h-17.66zM270.74 1069.32h17.66v17.66h-17.66zM166.58 1086.68h17.66v17.66h-17.66zM253.38 1086.68h17.66v17.66h-17.66zM218.66 1104.04h17.66v17.66h-17.66z"/>
<path fill="rgb(238,232,40)" d="M374.90 861.00h17.66v17.66h-17.66zM322.82 1069.32h17.66v17.66h-17.66zM340.18 1069.32h17.66v17.66h-17.66zM357.54 1069.32h17.66v17.66h-17.66zM374.90 1069.32h17.66v17.66h-17.66z"/>
<path fill="rgb(0,236,255)" d="M357.54 895.72h17.66v17.66h-17.66zM374.90 895.72h17.66v17.66h-17.66zM340.18 965.16h17.66v17.66h-17.66zM201.30 999.88h17.66v17.66h-17.66zM183.94 1017.24h17.66v17.66h-17.66zM218.66 1017.24h17.66v17.66h-17.66zM253.38 1017.24h17.66v17.66h-17.66zM322.82 1017.24h17.66v17.66h-17.66zM183.94 1051.96h17.66v17.66h-17.66zM166.58 1069.32h17.66v17.66h-17.66z"/>
<path fill="rgb(255,200,0)" d="M374.90 913.08h17.66v17.66h-17.66z"/>
<path fill="rgb(64,232,206)" d="M357.54 947.80h17.66v17.66h-17.66zM183.94 965.16h17.66v17.66h-17.66zM270.74 965.16h17.66v17.66h-17.66zM357.54 965.16h17.66v17.66h-17.66zM218.66 982.52h17.66v17.66h-17.66zM270.74 982.52h17.66v17.66h-17.66zM305.46 982.52h17.66v17.66h-17.66zM270.74 1086.68h17.66v17.66h-17.66z"/>
<path fill="rgb(0,40,235)" d="M201.30 1017.24h17.66v17.66h-17.66zM305.46 1104.04h17.66v17.66h-17.66zM322.82 1104.04h17.66v17.66h-17.66zM340.18 1104.04h17.66v17.66h-17.66zM357.54 1104.04h17.66v17.66h-17.66zM374.90 1104.04h17.66v17.66h-17.66z"/>
<g transform="translate(461.70 1295.00) scale(8.6800 8.6800)">
<use href="#land" stroke-width="0.8"/>
</g>
<path d="M201.3 861.0V1121.4M288.1 861.0V1121.4M374.9 861.0V1121.4M114.5 1078.0H392.3M114.5 1034.6H392.3M114.5 991.2H392.3M114.5 947.8H392.3M114.5 904.4H392.3" stroke="#999" stroke-width="0.6" stroke-dasharray="1 2" fill="none" opacity="0.5"/>
</g>
<rect x="114.50" y="861.00" width="277.76" height="260.40" fill="none" stroke="#222" stroke-width="1.4"/>
<path d="M114.5 1121.4v-5.0M114.5 861.0v5.0M131.9 1121.4v-3.0M131.9 861.0v3.0M149.2 1121.4v-3.0M149.2 861.0v3.0M166.6 1121.4v-3.0M166.6 861.0v3.0M183.9 1121.4v-3.0M183.9 861.0v3.0M201.3 1121.4v-5.0M201.3 861.0v5.0M218.7 1121.4v-3.0M218.7 861.0v3.0M236.0 1121.4v-3.0M236.0 861.0v3.0M253.4 1121.4v-3.0M253.4 861.0v3.0M270.7 1121.4v-3.0M270.7 861.0v3.0M288.1 1121.4v-5.0M288.1 861.0v5.0M305.5 1121.4v-3.0M305.5 861.0v3.0M322.8 1121.4v-3.0M322.8 861.0v3.0M340.2 1121.4v-3.0M340.2 861.0v3.0M357.5 1121.4v-3.0M357.5 861.0v3.0M374.9 1121.4v-5.0M374.9 861.0v5.0M392.3 1121.4v-3.0M392.3 861.0v3.0M114.5 861.0h5.0M392.3 861.0h-5.0M114.5 869.7h3.0M392.3 869.7h-3.0M114.5 878.4h3.0M392.3 878.4h-3.0M114.5 887.0h3.0M392.3 887.0h-3.0M114.5 895.7h3.0M392.3 895.7h-3.0M114.5 904.4h5.0M392.3 904.4h-5.0M114.5 913.1h3.0M392.3 913.1h-3.0M114.5 921.8h3.0M392.3 921.8h-3.0M114.5 930.4h3.0M392.3 930.4h-3.0M114.5 939.1h3.0M392.3 939.1h-3.0M114.5 947.8h5.0M392.3 947.8h-5.0M114.5 956.5h3.0M392.3 956.5h-3.0M114.5 965.2h3.0M392.3 965.2h-3.0M114.5 973.8h3.0M392.3 973.8h-3.0M114.5 982.5h3.0M392.3 982.5h-3.0M114.5 991.2h5.0M392.3 991.2h-5.0M114.5 999.9h3.0M392.3 999.9h-3.0M114.5 1008.6h3.0M392.3 1008.6h-3.0M114.5 1017.2h3.0M392.3 1017.2h-3.0M114.5 1025.9h3.0M392.3 1025.9h-3.0M114.5 1034.6h5.0M392.3 1034.6h-5.0M114.5 1043.3h3.0M392.3 1043.3h-3.0M114.5 1052.0h3.0M392.3 1052.0h-3.0M114.5 1060.6h3.0M392.3 1060.6h-3.0M114.5 1069.3h3.0M392.3 1069.3h-3.0M114.5 1078.0h5.0M392.3 1078.0h-5.0M114.5 1086.7h3.0M392.3 1086.7h-3.0M114.5 1095.4h3.0M392.3 1095.4h-3.0M114.5 1104.0h3.0M392.3 1104.0h-3.0M114.5 1112.7h3.0M392.3 1112.7h-3.0M114.5 1121.4h5.0M392.3 1121.4h-5.0" stroke="#222" stroke-width="1" fill="none"/>
<g font-family="'DejaVu Sans','Liberation Sans',sans-serif" font-size="10.5" fill="#222"><text x="114.5" y="1136.2" text-anchor="middle">320</text><text x="201.3" y="1136.2" text-anchor="middle">330</text><text x="288.1" y="1136.2" text-anchor="middle">340</text><text x="374.9" y="1136.2" text-anchor="middle">350</text><text x="111.5" y="865.6" text-anchor="end">50</text><text x="111.5" y="909.0" text-anchor="end">45</text><text x="111.5" y="952.4" text-anchor="end">40</text><text x="111.5" y="995.8" text-anchor="end">35</text><text x="111.5" y="1039.2" text-anchor="end">30</text><text x="111.5" y="1082.6" text-anchor="end">25</text><text x="111.5" y="1126.0" text-anchor="end">20</text></g>
<text x="127.7" y="849.4" textLength="251.5" lengthAdjust="spacingAndGlyphs" font-family="'DejaVu Sans','Liberation Sans',sans-serif" font-size="14" fill="#222">VAR(SLA-UBEL_NATL)-VAR(SLA-ZERO)</text>
<clipPath id="cp"><rect x="543.10" y="889.30" width="415.00" height="207.10"/></clipPath>
<g clip-path="url(#cp)">
<path fill="rgb(178,178,178)" d="M543.10 881.02h16.90v16.87h-16.90zM576.30 881.02h16.90v16.87h-16.90zM592.90 881.02h16.90v16.87h-16.90zM692.50 881.02h16.90v16.87h-16.90zM709.10 881.02h16.90v16.87h-16.90zM725.70 881.02h16.90v16.87h-16.90zM742.30 881.02h16.90v16.87h-16.90zM775.50 881.02h16.90v16.87h-16.90zM808.70 881.02h16.90v16.87h-16.90zM825.30 881.02h16.90v16.87h-16.90zM841.90 881.02h16.90v16.87h-16.90zM858.50 881.02h16.90v16.87h-16.90zM875.10 881.02h16.90v16.87h-16.90zM891.70 881.02h16.90v16.87h-16.90zM924.90 881.02h16.90v16.87h-16.90zM941.50 881.02h16.90v16.87h-16.90zM576.30 897.58h16.90v16.87h-16.90zM592.90 897.58h16.90v16.87h-16.90zM675.90 897.58h16.90v16.87h-16.90zM692.50 897.58h16.90v16.87h-16.90zM709.10 897.58h16.90v16.87h-16.90zM742.30 897.58h16.90v16.87h-16.90zM775.50 897.58h16.90v16.87h-16.90zM792.10 897.58h16.90v16.87h-16.90zM808.70 897.58h16.90v16.87h-16.90zM825.30 897.58h16.90v16.87h-16.90zM841.90 897.58h16.90v16.87h-16.90zM858.50 897.58h16.90v16.87h-16.90zM875.10 897.58h16.90v16.87h-16.90zM891.70 897.58h16.90v16.87h-16.90zM908.30 897.58h16.90v16.87h-16.90zM924.90 897.58h16.90v16.87h-16.90zM941.50 897.58h16.90v16.87h-16.90zM543.10 914.15h16.90v16.87h-16.90zM559.70 914.15h16.90v16.87h-16.90zM592.90 914.15h16.90v16.87h-16.90zM659.30 914.15h16.90v16.87h-16.90zM675.90 914.15h16.90v16.87h-16.90zM709.10 914.15h16.90v16.87h-16.90zM725.70 914.15h16.90v16.87h-16.90zM742.30 914.15h16.90v16.87h-16.90zM775.50 914.15h16.90v16.87h-16.90zM792.10 914.15h16.90v16.87h-16.90zM808.70 914.15h16.90v16.87h-16.90zM841.90 914.15h16.90v16.87h-16.90zM858.50 914.15h16.90v16.87h-16.90zM875.10 914.15h16.90v16.87h-16.90zM891.70 914.15h16.90v16.87h-16.90zM908.30 914.15h16.90v16.87h-16.90zM924.90 914.15h16.90v16.87h-16.90zM941.50 914.15h16.90v16.87h-16.90zM543.10 930.72h16.90v16.87h-16.90zM559.70 930.72h16.90v16.87h-16.90zM576.30 930.72h16.90v16.87h-16.90zM675.90 930.72h16.90v16.87h-16.90zM709.10 930.72h16.90v16.87h-16.90zM725.70 930.72h16.90v16.87h-16.90zM742.30 930.72h16.90v16.87h-16.90zM758.90 930.72h16.90v16.87h-16.90zM775.50 930.72h16.90v16.87h-16.90zM808.70 930.72h16.90v16.87h-16.90zM825.30 930.72h16.90v16.87h-16.90zM841.90 930.72h16.90v16.87h-16.90zM858.50 930.72h16.90v16.87h-16.90zM875.10 930.72h16.90v16.87h-16.90zM891.70 930.72h16.90v16.87h-16.90zM908.30 930.72h16.90v16.87h-16.90zM924.90 930.72h16.90v16.87h-16.90zM941.50 930.72h16.90v16.87h-16.90zM543.10 947.29h16.90v16.87h-16.90zM576.30 947.29h16.90v16.87h-16.90zM742.30 947.29h16.90v16.87h-16.90zM775.50 947.29h16.90v16.87h-16.90zM792.10 947.29h16.90v16.87h-16.90zM825.30 947.29h16.90v16.87h-16.90zM841.90 947.29h16.90v16.87h-16.90zM858.50 947.29h16.90v16.87h-16.90zM875.10 947.29h16.90v16.87h-16.90zM891.70 947.29h16.90v16.87h-16.90zM576.30 963.86h16.90v16.87h-16.90zM659.30 963.86h16.90v16.87h-16.90zM675.90 963.86h16.90v16.87h-16.90zM709.10 963.86h16.90v16.87h-16.90zM725.70 963.86h16.90v16.87h-16.90zM742.30 963.86h16.90v16.87h-16.90zM758.90 963.86h16.90v16.87h-16.90zM792.10 963.86h16.90v16.87h-16.90zM808.70 963.86h16.90v16.87h-16.90zM825.30 963.86h16.90v16.87h-16.90zM841.90 963.86h16.90v16.87h-16.90zM858.50 963.86h16.90v16.87h-16.90zM875.10 963.86h16.90v16.87h-16.90zM924.90 963.86h16.90v16.87h-16.90zM543.10 980.42h16.90v16.87h-16.90zM592.90 980.42h16.90v16.87h-16.90zM659.30 980.42h16.90v16.87h-16.90zM709.10 980.42h16.90v16.87h-16.90zM775.50 980.42h16.90v16.87h-16.90zM808.70 980.42h16.90v16.87h-16.90zM825.30 980.42h16.90v16.87h-16.90zM841.90 980.42h16.90v16.87h-16.90zM858.50 980.42h16.90v16.87h-16.90zM908.30 980.42h16.90v16.87h-16.90zM626.10 996.99h16.90v16.87h-16.90zM709.10 996.99h16.90v16.87h-16.90zM725.70 996.99h16.90v16.87h-16.90zM742.30 996.99h16.90v16.87h-16.90zM758.90 996.99h16.90v16.87h-16.90zM792.10 996.99h16.90v16.87h-16.90zM808.70 996.99h16.90v16.87h-16.90zM825.30 996.99h16.90v16.87h-16.90zM841.90 996.99h16.90v16.87h-16.90zM941.50 996.99h16.90v16.87h-16.90zM609.50 1013.56h16.90v16.87h-16.90zM659.30 1013.56h16.90v16.87h-16.90zM709.10 1013.56h16.90v16.87h-16.90zM775.50 1013.56h16.90v16.87h-16.90zM858.50 1013.56h16.90v16.87h-16.90zM875.10 1013.56h16.90v16.87h-16.90zM908.30 1013.56h16.90v16.87h-16.90zM924.90 1013.56h16.90v16.87h-16.90zM941.50 1013.56h16.90v16.87h-16.90zM543.10 1030.13h16.90v16.87h-16.90zM576.30 1030.13h16.90v16.87h-16.90zM659.30 1030.13h16.90v16.87h-16.90zM775.50 1030.13h16.90v16.87h-16.90zM825.30 1030.13h16.90v16.87h-16.90zM875.10 1030.13h16.90v16.87h-16.90zM891.70 1030.13h16.90v16.87h-16.90zM924.90 1030.13h16.90v16.87h-16.90zM543.10 1046.70h16.90v16.87h-16.90zM559.70 1046.70h16.90v16.87h-16.90zM592.90 1046.70h16.90v16.87h-16.90zM742.30 1046.70h16.90v16.87h-16.90zM775.50 1046.70h16.90v16.87h-16.90zM825.30 1046.70h16.90v16.87h-16.90zM858.50 1046.70h16.90v16.87h-16.90zM875.10 1046.70h16.90v16.87h-16.90zM543.10 1063.26h16.90v16.87h-16.90zM742.30 1063.26h16.90v16.87h-16.90zM775.50 1063.26h16.90v16.87h-16.90zM792.10 1063.26h16.90v16.87h-16.90zM808.70 1063.26h16.90v16.87h-16.90zM841.90 1063.26h16.90v16.87h-16.90zM858.50 1063.26h16.90v16.87h-16.90zM891.70 1063.26h16.90v16.87h-16.90zM908.30 1063.26h16.90v16.87h-16.90zM941.50 1063.26h16.90v16.87h-16.90zM576.30 1079.83h16.90v16.87h-16.90zM792.10 1079.83h16.90v16.87h-16.90zM808.70 1079.83h16.90v16.87h-16.90zM858.50 1079.83h16.90v16.87h-16.90zM875.10 1079.83h16.90v16.87h-16.90zM908.30 1079.83h16.90v16.87h-16.90z"/>
<path fill="rgb(166,194,152)" d="M559.70 881.02h16.90v16.87h-16.90zM758.90 881.02h16.90v16.87h-16.90zM908.30 881.02h16.90v16.87h-16.90zM543.10 897.58h16.90v16.87h-16.90zM576.30 914.15h16.90v16.87h-16.90zM941.50 947.29h16.90v16.87h-16.90zM626.10 963.86h16.90v16.87h-16.90zM758.90 980.42h16.90v16.87h-16.90zM941.50 980.42h16.90v16.87h-16.90zM924.90 996.99h16.90v16.87h-16.90zM742.30 1013.56h16.90v16.87h-16.90zM841.90 1030.13h16.90v16.87h-16.90zM858.50 1030.13h16.90v16.87h-16.90zM941.50 1030.13h16.90v16.87h-16.90zM792.10 1046.70h16.90v16.87h-16.90zM841.90 1046.70h16.90v16.87h-16.90zM908.30 1046.70h16.90v16.87h-16.90zM758.90 1063.26h16.90v16.87h-16.90zM875.10 1063.26h16.90v16.87h-16.90zM841.90 1079.83h16.90v16.87h-16.90zM924.90 1079.83h16.90v16.87h-16.90z"/>
<path fill="rgb(152,196,178)" d="M609.50 881.02h16.90v16.87h-16.90zM659.30 881.02h16.90v16.87h-16.90zM675.90 881.02h16.90v16.87h-16.90zM559.70 897.58h16.90v16.87h-16.90zM659.30 897.58h16.90v16.87h-16.90zM725.70 897.58h16.90v16.87h-16.90zM758.90 897.58h16.90v16.87h-16.90zM692.50 914.15h16.90v16.87h-16.90zM758.90 914.15h16.90v16.87h-16.90zM609.50 930.72h16.90v16.87h-16.90zM659.30 930.72h16.90v16.87h-16.90zM792.10 930.72h16.90v16.87h-16.90zM559.70 947.29h16.90v16.87h-16.90zM758.90 947.29h16.90v16.87h-16.90zM808.70 947.29h16.90v16.87h-16.90zM924.90 947.29h16.90v16.87h-16.90zM559.70 963.86h16.90v16.87h-16.90zM592.90 963.86h16.90v16.87h-16.90zM775.50 963.86h16.90v16.87h-16.90zM908.30 963.86h16.90v16.87h-16.90zM941.50 963.86h16.90v16.87h-16.90zM576.30 980.42h16.90v16.87h-16.90zM692.50 980.42h16.90v16.87h-16.90zM875.10 980.42h16.90v16.87h-16.90zM891.70 980.42h16.90v16.87h-16.90zM924.90 980.42h16.90v16.87h-16.90zM642.70 996.99h16.90v16.87h-16.90zM692.50 996.99h16.90v16.87h-16.90zM875.10 996.99h16.90v16.87h-16.90zM891.70 996.99h16.90v16.87h-16.90zM559.70 1013.56h16.90v16.87h-16.90zM792.10 1013.56h16.90v16.87h-16.90zM808.70 1013.56h16.90v16.87h-16.90zM841.90 1013.56h16.90v16.87h-16.90zM808.70 1030.13h16.90v16.87h-16.90zM908.30 1030.13h16.90v16.87h-16.90zM642.70 1046.70h16.90v16.87h-16.90zM758.90 1046.70h16.90v16.87h-16.90zM808.70 1046.70h16.90v16.87h-16.90zM891.70 1046.70h16.90v16.87h-16.90zM924.90 1046.70h16.90v16.87h-16.90zM941.50 1046.70h16.90v16.87h-16.90zM709.10 1063.26h16.90v16.87h-16.90zM825.30 1063.26h16.90v16.87h-16.90zM924.90 1063.26h16.90v16.87h-16.90zM559.70 1079.83h16.90v16.87h-16.90zM758.90 1079.83h16.90v16.87h-16.90zM825.30 1079.83h16.90v16.87h-16.90zM891.70 1079.83h16.90v16.87h-16.90zM941.50 1079.83h16.90v16.87h-16.90z"/>
<path fill="rgb(0,236,255)" d="M626.10 881.02h16.90v16.87h-16.90zM626.10 897.58h16.90v16.87h-16.90zM626.10 914.15h16.90v16.87h-16.90zM626.10 930.72h16.90v16.87h-16.90zM626.10 947.29h16.90v16.87h-16.90zM642.70 980.42h16.90v16.87h-16.90zM609.50 1030.13h16.90v16.87h-16.90zM692.50 1030.13h16.90v16.87h-16.90zM692.50 1063.26h16.90v16.87h-16.90zM592.90 1079.83h16.90v16.87h-16.90zM742.30 1079.83h16.90v16.87h-16.90z"/>
<path fill="rgb(112,214,188)" d="M642.70 881.02h16.90v16.87h-16.90zM792.10 881.02h16.90v16.87h-16.90zM609.50 897.58h16.90v16.87h-16.90zM642.70 897.58h16.90v16.87h-16.90zM609.50 914.15h16.90v16.87h-16.90zM642.70 914.15h16.90v16.87h-16.90zM825.30 914.15h16.90v16.87h-16.90zM592.90 930.72h16.90v16.87h-16.90zM642.70 930.72h16.90v16.87h-16.90zM692.50 930.72h16.90v16.87h-16.90zM592.90 947.29h16.90v16.87h-16.90zM659.30 947.29h16.90v16.87h-16.90zM675.90 947.29h16.90v16.87h-16.90zM725.70 947.29h16.90v16.87h-16.90zM908.30 947.29h16.90v16.87h-16.90zM543.10 963.86h16.90v16.87h-16.90zM692.50 963.86h16.90v16.87h-16.90zM891.70 963.86h16.90v16.87h-16.90zM559.70 980.42h16.90v16.87h-16.90zM675.90 980.42h16.90v16.87h-16.90zM725.70 980.42h16.90v16.87h-16.90zM742.30 980.42h16.90v16.87h-16.90zM792.10 980.42h16.90v16.87h-16.90zM543.10 996.99h16.90v16.87h-16.90zM559.70 996.99h16.90v16.87h-16.90zM592.90 996.99h16.90v16.87h-16.90zM675.90 996.99h16.90v16.87h-16.90zM775.50 996.99h16.90v16.87h-16.90zM908.30 996.99h16.90v16.87h-16.90zM825.30 1013.56h16.90v16.87h-16.90zM559.70 1030.13h16.90v16.87h-16.90zM725.70 1030.13h16.90v16.87h-16.90zM792.10 1030.13h16.90v16.87h-16.90zM559.70 1063.26h16.90v16.87h-16.90zM659.30 1079.83h16.90v16.87h-16.90zM692.50 1079.83h16.90v16.87h-16.90zM725.70 1079.83h16.90v16.87h-16.90z"/>
<path fill="rgb(0,128,255)" d="M609.50 947.29h16.90v16.87h-16.90zM576.30 1013.56h16.90v16.87h-16.90zM642.70 1013.56h16.90v16.87h-16.90zM675.90 1013.56h16.90v16.87h-16.90zM626.10 1046.70h16.90v16.87h-16.90zM592.90 1063.26h16.90v16.87h-16.90zM609.50 1063.26h16.90v16.87h-16.90zM725.70 1063.26h16.90v16.87h-16.90z"/>
<path fill="rgb(64,232,206)" d="M642.70 947.29h16.90v16.87h-16.90zM692.50 947.29h16.90v16.87h-16.90zM709.10 947.29h16.90v16.87h-16.90zM642.70 963.86h16.90v16.87h-16.90zM626.10 1013.56h16.90v16.87h-16.90zM758.90 1013.56h16.90v16.87h-16.90zM891.70 1013.56h16.90v16.87h-16.90zM592.90 1030.13h16.90v16.87h-16.90zM626.10 1030.13h16.90v16.87h-16.90zM642.70 1030.13h16.90v16.87h-16.90zM709.10 1030.13h16.90v16.87h-16.90zM742.30 1030.13h16.90v16.87h-16.90zM709.10 1046.70h16.90v16.87h-16.90zM725.70 1046.70h16.90v16.87h-16.90zM543.10 1079.83h16.90v16.87h-16.90zM609.50 1079.83h16.90v16.87h-16.90z"/>
<path fill="rgb(196,218,112)" d="M609.50 963.86h16.90v16.87h-16.90zM858.50 996.99h16.90v16.87h-16.90zM758.90 1030.13h16.90v16.87h-16.90zM775.50 1079.83h16.90v16.87h-16.90z"/>
<path fill="rgb(0,40,235)" d="M609.50 980.42h16.90v16.87h-16.90zM576.30 1046.70h16.90v16.87h-16.90zM659.30 1063.26h16.90v16.87h-16.90zM675.90 1063.26h16.90v16.87h-16.90zM675.90 1079.83h16.90v16.87h-16.90zM709.10 1079.83h16.90v16.87h-16.90z"/>
<path fill="rgb(0,192,255)" d="M626.10 980.42h16.90v16.87h-16.90zM576.30 996.99h16.90v16.87h-16.90zM609.50 996.99h16.90v16.87h-16.90zM659.30 996.99h16.90v16.87h-16.90zM543.10 1013.56h16.90v16.87h-16.90zM592.90 1013.56h16.90v16.87h-16.90zM692.50 1013.56h16.90v16.87h-16.90zM725.70 1013.56h16.90v16.87h-16.90zM675.90 1030.13h16.90v16.87h-16.90zM609.50 1046.70h16.90v16.87h-16.90zM692.50 1046.70h16.90v16.87h-16.90zM576.30 1063.26h16.90v16.87h-16.90zM626.10 1063.26h16.90v16.87h-16.90zM626.10 1079.83h16.90v16.87h-16.90z"/>
<path fill="rgb(0,0,135)" d="M659.30 1046.70h16.90v16.87h-16.90zM675.90 1046.70h16.90v16.87h-16.90zM642.70 1063.26h16.90v16.87h-16.90zM642.70 1079.83h16.90v16.87h-16.90z"/>
<g transform="translate(-950.90 1262.08) scale(8.3000 8.2840)">
<use href="#land" x="360" stroke-width="0.8"/>
</g>
<path d="M626.1 889.3V1096.4M709.1 889.3V1096.4M792.1 889.3V1096.4M875.1 889.3V1096.4M543.1 1055.0H958.1M543.1 1013.6H958.1M543.1 972.1H958.1M543.1 930.7H958.1" stroke="#999" stroke-width="0.6" stroke-dasharray="1 2" fill="none" opacity="0.4"/>
</g>
<rect x="543.10" y="889.30" width="415.00" height="207.10" fill="none" stroke="#222" stroke-width="1.3"/>
<path d="M543.1 1096.4v-4.5M543.1 889.3v4.5M559.7 1096.4v-2.5M559.7 889.3v2.5M576.3 1096.4v-2.5M576.3 889.3v2.5M592.9 1096.4v-2.5M592.9 889.3v2.5M609.5 1096.4v-2.5M609.5 889.3v2.5M626.1 1096.4v-4.5M626.1 889.3v4.5M642.7 1096.4v-2.5M642.7 889.3v2.5M659.3 1096.4v-2.5M659.3 889.3v2.5M675.9 1096.4v-2.5M675.9 889.3v2.5M692.5 1096.4v-2.5M692.5 889.3v2.5M709.1 1096.4v-4.5M709.1 889.3v4.5M725.7 1096.4v-2.5M725.7 889.3v2.5M742.3 1096.4v-2.5M742.3 889.3v2.5M758.9 1096.4v-2.5M758.9 889.3v2.5M775.5 1096.4v-2.5M775.5 889.3v2.5M792.1 1096.4v-4.5M792.1 889.3v4.5M808.7 1096.4v-2.5M808.7 889.3v2.5M825.3 1096.4v-2.5M825.3 889.3v2.5M841.9 1096.4v-2.5M841.9 889.3v2.5M858.5 1096.4v-2.5M858.5 889.3v2.5M875.1 1096.4v-4.5M875.1 889.3v4.5M891.7 1096.4v-2.5M891.7 889.3v2.5M908.3 1096.4v-2.5M908.3 889.3v2.5M924.9 1096.4v-2.5M924.9 889.3v2.5M941.5 1096.4v-2.5M941.5 889.3v2.5M958.1 1096.4v-4.5M958.1 889.3v4.5M543.1 889.3h4.5M958.1 889.3h-4.5M543.1 897.6h2.5M958.1 897.6h-2.5M543.1 905.9h2.5M958.1 905.9h-2.5M543.1 914.2h2.5M958.1 914.2h-2.5M543.1 922.4h2.5M958.1 922.4h-2.5M543.1 930.7h4.5M958.1 930.7h-4.5M543.1 939.0h2.5M958.1 939.0h-2.5M543.1 947.3h2.5M958.1 947.3h-2.5M543.1 955.6h2.5M958.1 955.6h-2.5M543.1 963.9h2.5M958.1 963.9h-2.5M543.1 972.1h4.5M958.1 972.1h-4.5M543.1 980.4h2.5M958.1 980.4h-2.5M543.1 988.7h2.5M958.1 988.7h-2.5M543.1 997.0h2.5M958.1 997.0h-2.5M543.1 1005.3h2.5M958.1 1005.3h-2.5M543.1 1013.6h4.5M958.1 1013.6h-4.5M543.1 1021.8h2.5M958.1 1021.8h-2.5M543.1 1030.1h2.5M958.1 1030.1h-2.5M543.1 1038.4h2.5M958.1 1038.4h-2.5M543.1 1046.7h2.5M958.1 1046.7h-2.5M543.1 1055.0h4.5M958.1 1055.0h-4.5M543.1 1063.3h2.5M958.1 1063.3h-2.5M543.1 1071.5h2.5M958.1 1071.5h-2.5M543.1 1079.8h2.5M958.1 1079.8h-2.5M543.1 1088.1h2.5M958.1 1088.1h-2.5M543.1 1096.4h4.5M958.1 1096.4h-4.5" stroke="#222" stroke-width="1" fill="none"/>
<g font-family="'DejaVu Sans','Liberation Sans',sans-serif" font-size="9.5" fill="#222"><text x="543.1" y="1108.9" text-anchor="middle">180</text><text x="626.1" y="1108.9" text-anchor="middle">190</text><text x="709.1" y="1108.9" text-anchor="middle">200</text><text x="792.1" y="1108.9" text-anchor="middle">210</text><text x="875.1" y="1108.9" text-anchor="middle">220</text><text x="958.1" y="1108.9" text-anchor="middle">230</text><text x="540.1" y="892.8" text-anchor="end">45</text><text x="540.1" y="934.2" text-anchor="end">40</text><text x="540.1" y="975.6" text-anchor="end">35</text><text x="540.1" y="1017.1" text-anchor="end">30</text><text x="540.1" y="1058.5" text-anchor="end">25</text><text x="540.1" y="1099.9" text-anchor="end">20</text></g>
<text x="630.6" y="883.6" textLength="240.5" lengthAdjust="spacingAndGlyphs" font-family="'DejaVu Sans','Liberation Sans',sans-serif" font-size="12.3" fill="#222">VAR(SLA - UBEL_NPAC) - VAR(SLA - ZERO)</text>
<linearGradient id="cb" x1="0" y1="0" x2="1" y2="0"><stop offset="0.0000" stop-color="#0a0a7d"/><stop offset="0.0167" stop-color="#070790"/><stop offset="0.0333" stop-color="#0505a3"/><stop offset="0.0500" stop-color="#0303b5"/><stop offset="0.0667" stop-color="#0000c8"/><stop offset="0.0833" stop-color="#0000d8"/><stop offset="0.1000" stop-color="#0000e7"/><stop offset="0.1167" stop-color="#0000f7"/><stop offset="0.1333" stop-color="#0009ff"/><stop offset="0.1500" stop-color="#001aff"/><stop offset="0.1667" stop-color="#002bff"/><stop offset="0.1833" stop-color="#003cff"/><stop offset="0.2000" stop-color="#004dff"/><stop offset="0.2167" stop-color="#005eff"/><stop offset="0.2333" stop-color="#006fff"/><stop offset="0.2500" stop-color="#0080ff"/><stop offset="0.2667" stop-color="#0091ff"/><stop offset="0.2833" stop-color="#00a1ff"/><stop offset="0.3000" stop-color="#00b2ff"/><stop offset="0.3167" stop-color="#00c3ff"/><stop offset="0.3333" stop-color="#00d4ff"/><stop offset="0.3500" stop-color="#00e4ff"/><stop offset="0.3667" stop-color="#00f5ff"/><stop offset="0.3833" stop-color="#16f2ee"/><stop offset="0.4000" stop-color="#2eeede"/><stop offset="0.4167" stop-color="#4ee2ce"/><stop offset="0.4333" stop-color="#6ed6be"/><stop offset="0.4500" stop-color="#85cdb9"/><stop offset="0.4667" stop-color="#9bc4b4"/><stop offset="0.4833" stop-color="#aeb5b2"/><stop offset="0.5000" stop-color="#b2b2b2"/><stop offset="0.5167" stop-color="#b2b4af"/><stop offset="0.5333" stop-color="#b3c09d"/><stop offset="0.5500" stop-color="#b4cc8c"/><stop offset="0.5667" stop-color="#c1d674"/><stop offset="0.5833" stop-color="#cedf5c"/><stop offset="0.6000" stop-color="#dde83f"/><stop offset="0.6167" stop-color="#f0ef1c"/><stop offset="0.6333" stop-color="#fff200"/><stop offset="0.6500" stop-color="#ffe200"/><stop offset="0.6667" stop-color="#ffd100"/><stop offset="0.6833" stop-color="#ffc100"/><stop offset="0.7000" stop-color="#ffb100"/><stop offset="0.7167" stop-color="#ffa100"/><stop offset="0.7333" stop-color="#ff9000"/><stop offset="0.7500" stop-color="#ff8000"/><stop offset="0.7667" stop-color="#ff6f00"/><stop offset="0.7833" stop-color="#ff5e00"/><stop offset="0.8000" stop-color="#ff4d00"/><stop offset="0.8167" stop-color="#ff3c00"/><stop offset="0.8333" stop-color="#ff2b00"/><stop offset="0.8500" stop-color="#ff1a00"/><stop offset="0.8667" stop-color="#ff0900"/><stop offset="0.8833" stop-color="#f70000"/><stop offset="0.9000" stop-color="#e60000"/><stop offset="0.9167" stop-color="#d50000"/><stop offset="0.9333" stop-color="#c40000"/><stop offset="0.9500" stop-color="#b30000"/><stop offset="0.9667" stop-color="#a20000"/><stop offset="0.9833" stop-color="#910000"/><stop offset="1.0000" stop-color="#800000"/></linearGradient>
<rect x="230.5" y="1164.0" width="534.0" height="10.0" fill="url(#cb)"/>
<g font-family="'DejaVu Sans','Liberation Sans',sans-serif" font-size="10" fill="#222" text-anchor="middle">
<text x="320.0" y="1189.6">-2</text>
<text x="497.5" y="1189.6">0</text>
<text x="674.5" y="1189.6">2</text>
<text x="407.4" y="1160.3" text-anchor="start" font-size="12.2">Difference of variances (cm<tspan dx="1.5" dy="-5" font-size="8.5">2</tspan><tspan dx="1" dy="5">)</tspan></text>
</g>
</svg></body></html>
